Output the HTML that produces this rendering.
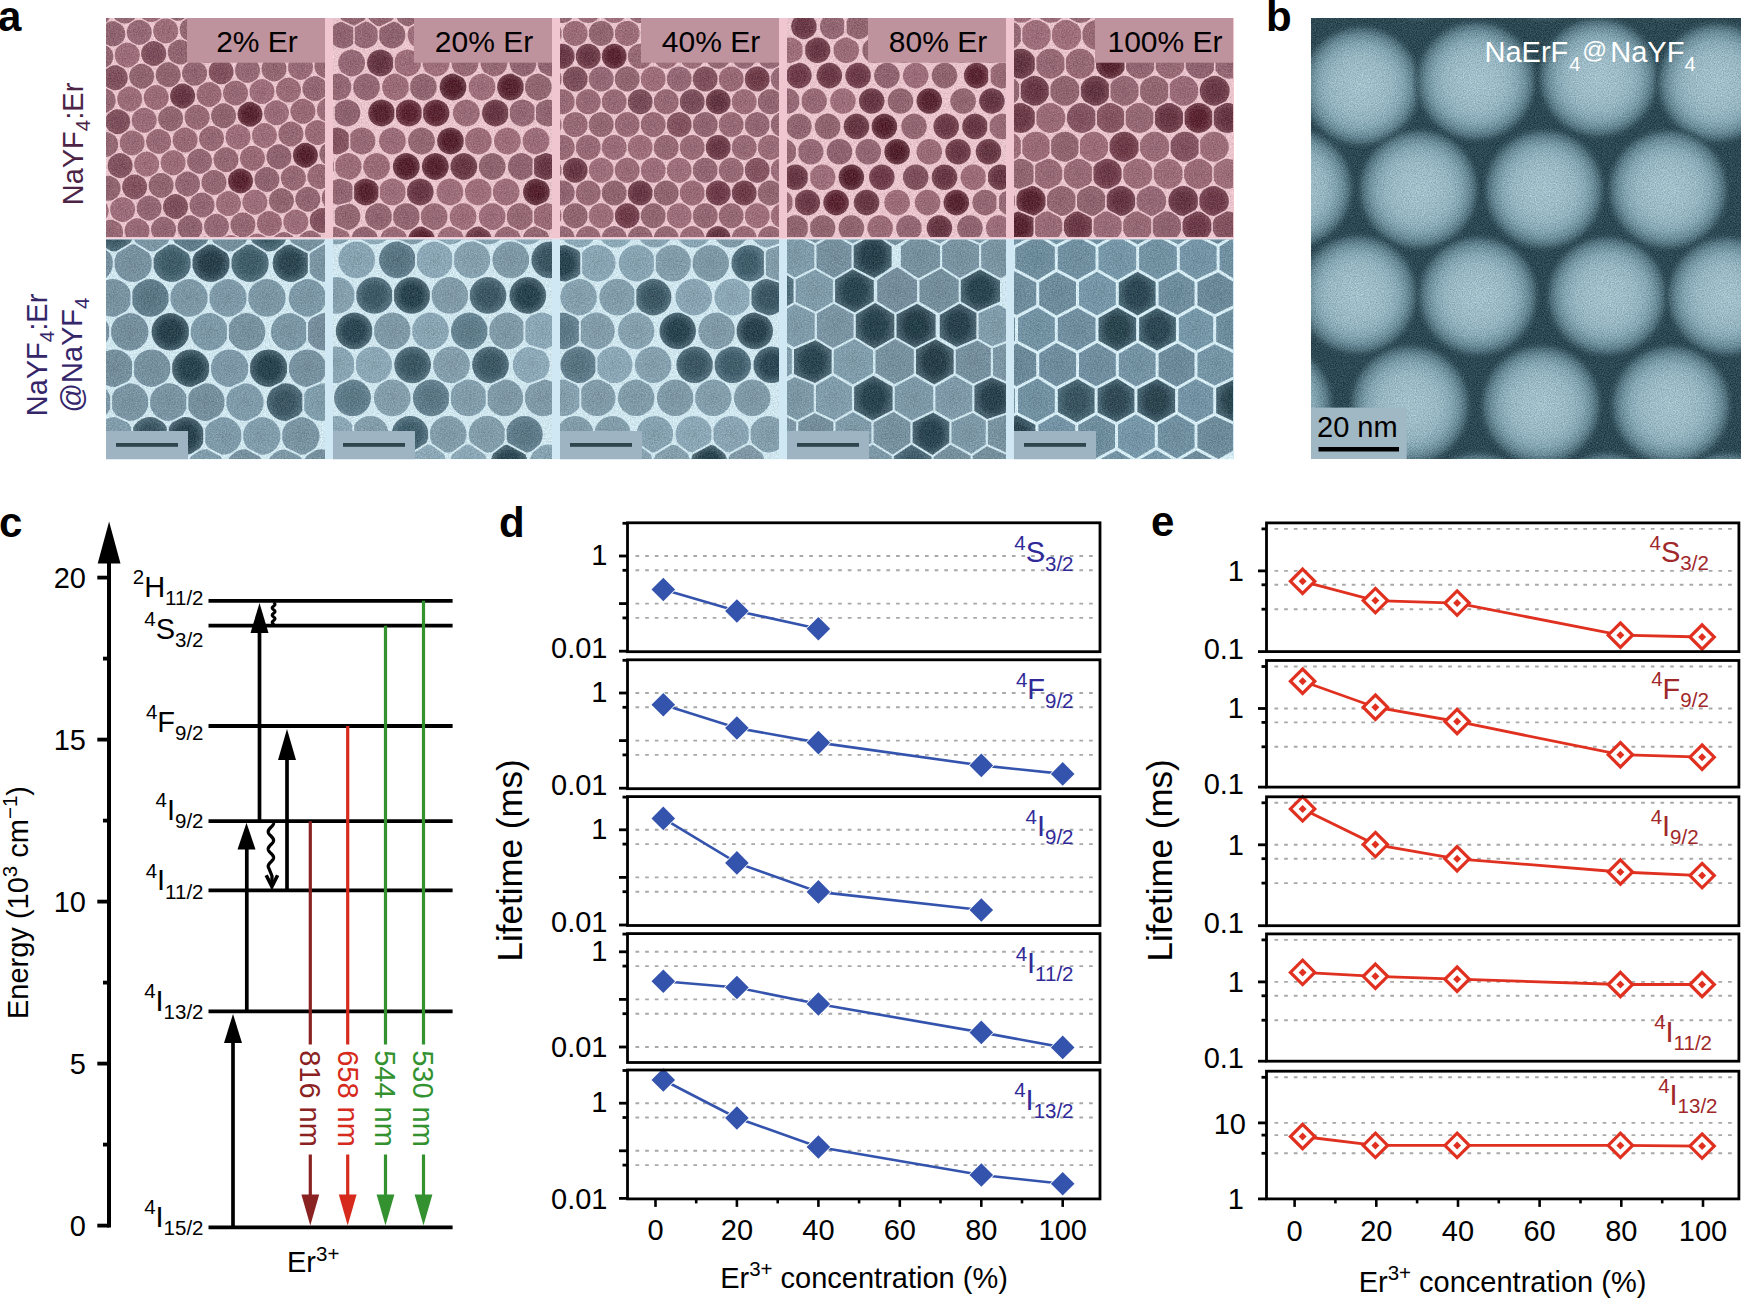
<!DOCTYPE html>
<html><head><meta charset="utf-8"><title>Figure</title>
<style>html,body{margin:0;padding:0;background:#fff;}svg{display:block;}text{font-family:"Liberation Sans", Arial, Helvetica, sans-serif;}</style>
</head><body>
<svg width="1741" height="1299" viewBox="0 0 1741 1299">
<rect width="1741" height="1299" fill="#fff"/>
<filter id="soft" x="-5%" y="-5%" width="110%" height="110%"><feGaussianBlur stdDeviation="0.7"/></filter>
<filter id="grain" x="0" y="0" width="100%" height="100%" color-interpolation-filters="sRGB"><feTurbulence type="fractalNoise" baseFrequency="0.75" numOctaves="2" seed="4" result="n"/><feColorMatrix in="n" type="matrix" values="1 0 0 0 0  1 0 0 0 0  1 0 0 0 0  0 0 0 0 1" result="g"/><feComposite in="SourceGraphic" in2="g" operator="arithmetic" k1="0" k2="1" k3="0.28" k4="-0.14"/></filter>
<rect x="106" y="18" width="1128" height="221" fill="#f0c7d0"/>
<rect x="106" y="238.7" width="1128" height="220.5" fill="#cfe8f3"/>
<rect x="106" y="238.4" width="1128" height="0.9" fill="#f3dfe6"/>
<clipPath id="clipt1"><rect x="106.0" y="18.0" width="219.0" height="219.0"/></clipPath>
<g clip-path="url(#clipt1)">
<g filter="url(#grain)">
<rect x="106.0" y="18.0" width="219.0" height="219.0" fill="#e9c4cc"/>
<g filter="url(#soft)">
<radialGradient id="pg0"><stop offset="0" stop-color="#8f646f"/><stop offset="0.55" stop-color="#946873"/><stop offset="1" stop-color="#966a75"/></radialGradient>
<polygon points="110.8,12.6 110.5,15.4 109.6,18.0 108.1,20.4 107.4,21.2 103.0,24.2 101.1,24.8 98.3,25.1 95.6,24.8 95.1,24.6 90.2,22.0 88.6,20.4 87.1,18.0 86.2,15.4 85.8,12.6 86.2,9.8 87.1,7.2 88.6,4.8 90.5,2.8 92.9,1.3 95.6,0.4 98.3,0.1 101.1,0.4 103.8,1.3 106.1,2.8 108.1,4.8 109.6,7.2 110.5,9.8" fill="url(#pg0)"/>
<radialGradient id="pg1"><stop offset="0" stop-color="#8c626d"/><stop offset="0.55" stop-color="#916671"/><stop offset="1" stop-color="#936873"/></radialGradient>
<polygon points="137.3,11.1 137.0,13.9 136.1,16.6 134.6,18.9 133.8,19.7 129.4,22.7 127.6,23.3 124.8,23.6 122.0,23.3 121.6,23.2 116.7,20.6 115.0,18.9 113.5,16.6 112.6,13.9 112.3,11.1 112.6,8.3 113.5,5.7 115.0,3.3 117.0,1.4 119.4,-0.1 122.0,-1.1 124.8,-1.4 127.6,-1.1 130.2,-0.1 132.6,1.4 134.6,3.3 136.1,5.7 137.0,8.3" fill="url(#pg1)"/>
<radialGradient id="pg2"><stop offset="0" stop-color="#946773"/><stop offset="0.55" stop-color="#996b77"/><stop offset="1" stop-color="#9c6d79"/></radialGradient>
<polygon points="163.8,9.6 163.4,12.4 162.5,15.1 161.0,17.4 160.3,18.2 155.9,21.2 154.0,21.8 151.3,22.1 148.5,21.8 148.0,21.7 143.1,19.1 141.5,17.4 140.0,15.1 139.1,12.4 138.8,9.6 139.1,6.9 140.0,4.2 141.5,1.9 143.5,-0.1 145.8,-1.6 148.5,-2.5 151.3,-2.9 154.0,-2.5 156.7,-1.6 159.0,-0.1 161.0,1.9 162.5,4.2 163.4,6.9" fill="url(#pg2)"/>
<radialGradient id="pg3"><stop offset="0" stop-color="#8b616c"/><stop offset="0.55" stop-color="#906570"/><stop offset="1" stop-color="#926772"/></radialGradient>
<polygon points="190.2,8.2 189.9,11.0 189.0,13.6 187.5,16.0 186.7,16.7 182.3,19.7 180.5,20.4 177.7,20.7 174.9,20.4 174.5,20.2 169.6,17.6 167.9,16.0 166.5,13.6 165.5,11.0 165.2,8.2 165.5,5.4 166.5,2.7 167.9,0.4 169.9,-1.6 172.3,-3.1 174.9,-4.0 177.7,-4.3 180.5,-4.0 183.1,-3.1 185.5,-1.6 187.5,0.4 189.0,2.7 189.9,5.4" fill="url(#pg3)"/>
<radialGradient id="pg4"><stop offset="0" stop-color="#926672"/><stop offset="0.55" stop-color="#976a76"/><stop offset="1" stop-color="#9a6c78"/></radialGradient>
<polygon points="216.7,6.7 216.4,9.5 215.4,12.1 213.9,14.5 213.2,15.2 208.8,18.2 207.0,18.9 204.2,19.2 201.4,18.9 201.0,18.7 196.0,16.1 194.4,14.5 192.9,12.1 192.0,9.5 191.7,6.7 192.0,3.9 192.9,1.3 194.4,-1.1 196.4,-3.1 198.7,-4.6 201.4,-5.5 204.2,-5.8 207.0,-5.5 209.6,-4.6 212.0,-3.1 213.9,-1.1 215.4,1.3 216.4,3.9" fill="url(#pg4)"/>
<radialGradient id="pg5"><stop offset="0" stop-color="#8f6470"/><stop offset="0.55" stop-color="#946874"/><stop offset="1" stop-color="#966a76"/></radialGradient>
<polygon points="243.1,5.2 242.8,8.0 241.9,10.6 240.4,13.0 239.7,13.8 235.2,16.8 233.4,17.4 230.6,17.7 227.8,17.4 227.4,17.2 222.5,14.6 220.9,13.0 219.4,10.6 218.4,8.0 218.1,5.2 218.4,2.4 219.4,-0.2 220.9,-2.6 222.8,-4.6 225.2,-6.1 227.8,-7.0 230.6,-7.3 233.4,-7.0 236.1,-6.1 238.4,-4.6 240.4,-2.6 241.9,-0.2 242.8,2.4" fill="url(#pg5)"/>
<polygon points="269.6,3.7 269.3,6.5 268.4,9.2 266.9,11.5 266.1,12.3 261.7,15.3 259.9,15.9 257.1,16.2 254.3,15.9 253.9,15.8 249.0,13.2 247.3,11.5 245.8,9.2 244.9,6.5 244.6,3.7 244.9,1.0 245.8,-1.7 247.3,-4.1 249.3,-6.0 251.7,-7.5 254.3,-8.5 257.1,-8.8 259.9,-8.5 262.5,-7.5 264.9,-6.0 266.9,-4.1 268.4,-1.7 269.3,1.0" fill="url(#pg3)"/>
<polygon points="296.0,2.3 295.7,5.0 294.8,7.7 293.3,10.0 292.6,10.8 288.2,13.8 286.3,14.4 283.5,14.8 280.8,14.4 280.3,14.3 275.4,11.7 273.8,10.0 272.3,7.7 271.4,5.0 271.0,2.3 271.4,-0.5 272.3,-3.2 273.8,-5.5 275.8,-7.5 278.1,-9.0 280.8,-9.9 283.5,-10.2 286.3,-9.9 289.0,-9.0 291.3,-7.5 293.3,-5.5 294.8,-3.2 295.7,-0.5" fill="url(#pg4)"/>
<polygon points="322.5,0.8 322.2,3.6 321.3,6.2 319.8,8.6 319.0,9.3 314.6,12.3 312.8,13.0 310.0,13.3 307.2,13.0 306.8,12.8 301.9,10.2 300.2,8.6 298.7,6.2 297.8,3.6 297.5,0.8 297.8,-2.0 298.7,-4.7 300.2,-7.0 302.2,-9.0 304.6,-10.5 307.2,-11.4 310.0,-11.7 312.8,-11.4 315.4,-10.5 317.8,-9.0 319.8,-7.0 321.3,-4.7 322.2,-2.0" fill="url(#pg3)"/>
<radialGradient id="pg6"><stop offset="0" stop-color="#906571"/><stop offset="0.55" stop-color="#956975"/><stop offset="1" stop-color="#976b77"/></radialGradient>
<polygon points="349.0,-0.7 348.7,2.1 347.7,4.7 346.2,7.1 345.5,7.8 341.1,10.8 339.2,11.5 336.5,11.8 333.7,11.5 333.3,11.3 328.3,8.7 326.7,7.1 325.2,4.7 324.3,2.1 324.0,-0.7 324.3,-3.5 325.2,-6.1 326.7,-8.5 328.7,-10.5 331.0,-12.0 333.7,-12.9 336.5,-13.2 339.2,-12.9 341.9,-12.0 344.3,-10.5 346.2,-8.5 347.7,-6.1 348.7,-3.5" fill="url(#pg6)"/>
<polygon points="98.8,35.3 98.5,38.1 97.6,40.7 96.1,43.1 95.4,43.9 91.0,46.9 89.1,47.5 86.3,47.8 83.6,47.5 80.9,46.6 78.5,45.1 76.6,43.1 75.1,40.7 74.1,38.1 73.8,35.3 74.1,32.5 75.1,29.9 76.6,27.5 78.5,25.5 80.9,24.1 83.6,23.1 86.3,22.8 89.1,23.1 89.5,23.3 94.5,25.9 96.1,27.5 97.6,29.9 98.5,32.5" fill="url(#pg3)"/>
<radialGradient id="pg7"><stop offset="0" stop-color="#8b616d"/><stop offset="0.55" stop-color="#906571"/><stop offset="1" stop-color="#926773"/></radialGradient>
<polygon points="125.3,33.8 125.0,36.6 124.1,39.3 122.6,41.6 121.8,42.4 117.4,45.4 115.6,46.0 112.8,46.3 110.0,46.0 109.6,45.9 104.7,43.3 103.0,41.6 101.5,39.3 100.6,36.6 100.3,33.8 100.6,31.1 101.5,28.4 103.0,26.0 103.8,25.3 108.2,22.3 110.0,21.6 112.8,21.3 115.6,21.6 116.0,21.8 120.9,24.4 122.6,26.0 124.1,28.4 125.0,31.1" fill="url(#pg7)"/>
<polygon points="151.8,32.4 151.4,35.1 150.5,37.8 149.0,40.1 148.3,40.9 143.9,43.9 142.0,44.5 139.3,44.9 136.5,44.5 136.0,44.4 131.1,41.8 129.5,40.1 128.0,37.8 127.1,35.1 126.8,32.4 127.1,29.6 128.0,26.9 129.5,24.6 130.2,23.8 134.6,20.8 136.5,20.2 139.3,19.9 142.0,20.2 142.5,20.3 147.4,22.9 149.0,24.6 150.5,26.9 151.4,29.6" fill="url(#pg6)"/>
<radialGradient id="pg8"><stop offset="0" stop-color="#966975"/><stop offset="0.55" stop-color="#9b6d79"/><stop offset="1" stop-color="#9e6f7b"/></radialGradient>
<polygon points="178.2,30.9 177.9,33.7 177.0,36.3 175.5,38.7 174.7,39.4 170.3,42.4 168.5,43.1 165.7,43.4 162.9,43.1 162.5,42.9 157.6,40.3 155.9,38.7 154.4,36.3 153.5,33.7 153.2,30.9 153.5,28.1 154.4,25.5 155.9,23.1 156.7,22.3 161.1,19.3 162.9,18.7 165.7,18.4 168.5,18.7 168.9,18.8 173.8,21.4 175.5,23.1 177.0,25.5 177.9,28.1" fill="url(#pg8)"/>
<polygon points="204.7,29.4 204.4,32.2 203.4,34.8 201.9,37.2 201.2,37.9 196.8,40.9 195.0,41.6 192.2,41.9 189.4,41.6 189.0,41.4 184.0,38.8 182.4,37.2 180.9,34.8 180.0,32.2 179.7,29.4 180.0,26.6 180.9,24.0 182.4,21.6 183.1,20.9 187.6,17.9 189.4,17.2 192.2,16.9 195.0,17.2 195.4,17.4 200.3,20.0 201.9,21.6 203.4,24.0 204.4,26.6" fill="url(#pg1)"/>
<radialGradient id="pg9"><stop offset="0" stop-color="#8d636e"/><stop offset="0.55" stop-color="#926772"/><stop offset="1" stop-color="#946974"/></radialGradient>
<polygon points="231.1,27.9 230.8,30.7 229.9,33.3 228.4,35.7 227.7,36.5 223.2,39.5 221.4,40.1 218.6,40.4 215.8,40.1 215.4,40.0 210.5,37.4 208.9,35.7 207.4,33.3 206.4,30.7 206.1,27.9 206.4,25.1 207.4,22.5 208.9,20.1 209.6,19.4 214.0,16.4 215.8,15.7 218.6,15.4 221.4,15.7 221.8,15.9 226.8,18.5 228.4,20.1 229.9,22.5 230.8,25.1" fill="url(#pg9)"/>
<radialGradient id="pg10"><stop offset="0" stop-color="#936773"/><stop offset="0.55" stop-color="#986b77"/><stop offset="1" stop-color="#9b6d79"/></radialGradient>
<polygon points="257.6,26.4 257.3,29.2 256.3,31.9 254.9,34.2 254.1,35.0 249.7,38.0 247.9,38.6 245.1,38.9 242.3,38.6 241.9,38.5 237.0,35.9 235.3,34.2 233.8,31.9 232.9,29.2 232.6,26.4 232.9,23.7 233.8,21.0 235.3,18.6 236.1,17.9 240.5,14.9 242.3,14.3 245.1,13.9 247.9,14.3 248.3,14.4 253.2,17.0 254.9,18.6 256.3,21.0 257.3,23.7" fill="url(#pg10)"/>
<radialGradient id="pg11"><stop offset="0" stop-color="#986a77"/><stop offset="0.55" stop-color="#9d6e7b"/><stop offset="1" stop-color="#a0707d"/></radialGradient>
<polygon points="284.0,25.0 283.7,27.7 282.8,30.4 281.3,32.8 280.6,33.5 276.2,36.5 274.3,37.1 271.5,37.5 268.8,37.1 268.3,37.0 263.4,34.4 261.8,32.8 260.3,30.4 259.4,27.7 259.0,25.0 259.4,22.2 260.3,19.5 261.8,17.2 262.5,16.4 266.9,13.4 268.8,12.8 271.5,12.5 274.3,12.8 274.8,12.9 279.7,15.5 281.3,17.2 282.8,19.5 283.7,22.2" fill="url(#pg11)"/>
<radialGradient id="pg12"><stop offset="0" stop-color="#936672"/><stop offset="0.55" stop-color="#986a76"/><stop offset="1" stop-color="#9b6c78"/></radialGradient>
<polygon points="310.5,23.5 310.2,26.3 309.3,28.9 307.8,31.3 307.0,32.0 302.6,35.0 300.8,35.7 298.0,36.0 295.2,35.7 294.8,35.5 289.9,32.9 288.2,31.3 286.7,28.9 285.8,26.3 285.5,23.5 285.8,20.7 286.7,18.1 288.2,15.7 289.0,14.9 293.4,11.9 295.2,11.3 298.0,11.0 300.8,11.3 301.2,11.4 306.1,14.0 307.8,15.7 309.3,18.1 310.2,20.7" fill="url(#pg12)"/>
<radialGradient id="pg13"><stop offset="0" stop-color="#906470"/><stop offset="0.55" stop-color="#956874"/><stop offset="1" stop-color="#976a76"/></radialGradient>
<polygon points="337.0,22.0 336.7,24.8 335.7,27.4 334.2,29.8 333.5,30.5 329.1,33.5 327.2,34.2 324.5,34.5 321.7,34.2 321.3,34.0 316.3,31.4 314.7,29.8 313.2,27.4 312.3,24.8 312.0,22.0 312.3,19.2 313.2,16.6 314.7,14.2 315.4,13.5 319.8,10.5 321.7,9.8 324.5,9.5 327.2,9.8 327.7,10.0 332.6,12.6 334.2,14.2 335.7,16.6 336.7,19.2" fill="url(#pg13)"/>
<radialGradient id="pg14"><stop offset="0" stop-color="#996b77"/><stop offset="0.55" stop-color="#9e6f7b"/><stop offset="1" stop-color="#a1717d"/></radialGradient>
<polygon points="363.4,20.5 363.1,23.3 362.2,25.9 360.7,28.3 358.7,30.3 356.3,31.8 353.7,32.7 350.9,33.0 348.1,32.7 347.7,32.6 342.8,30.0 341.1,28.3 339.7,25.9 338.7,23.3 338.4,20.5 338.7,17.7 339.7,15.1 341.1,12.7 341.9,12.0 346.3,9.0 348.1,8.3 350.9,8.0 353.7,8.3 356.3,9.3 358.7,10.7 360.7,12.7 362.2,15.1 363.1,17.7" fill="url(#pg14)"/>
<polygon points="113.3,56.5 113.0,59.3 112.1,62.0 110.6,64.3 109.8,65.1 105.4,68.1 103.6,68.7 100.8,69.0 98.0,68.7 97.6,68.6 92.7,66.0 91.0,64.3 89.5,62.0 88.6,59.3 88.3,56.5 88.6,53.8 89.5,51.1 91.0,48.7 91.8,48.0 96.2,45.0 98.0,44.4 100.8,44.0 103.6,44.4 104.0,44.5 108.9,47.1 110.6,48.7 112.1,51.1 113.0,53.8" fill="url(#pg3)"/>
<radialGradient id="pg15"><stop offset="0" stop-color="#976976"/><stop offset="0.55" stop-color="#9c6d7a"/><stop offset="1" stop-color="#9f6f7c"/></radialGradient>
<polygon points="139.8,55.1 139.4,57.8 138.5,60.5 137.0,62.9 136.3,63.6 131.9,66.6 130.0,67.2 127.3,67.6 124.5,67.2 124.0,67.1 119.1,64.5 117.5,62.9 116.0,60.5 115.1,57.8 114.8,55.1 115.1,52.3 116.0,49.6 117.5,47.3 118.2,46.5 122.6,43.5 124.5,42.9 127.3,42.6 130.0,42.9 130.5,43.0 135.4,45.6 137.0,47.3 138.5,49.6 139.4,52.3" fill="url(#pg15)"/>
<radialGradient id="pg16"><stop offset="0" stop-color="#794c59"/><stop offset="0.55" stop-color="#7d4f5c"/><stop offset="1" stop-color="#855764"/></radialGradient>
<polygon points="166.2,53.6 165.9,56.4 165.0,59.0 163.5,61.4 162.7,62.1 158.3,65.1 156.5,65.8 153.7,66.1 150.9,65.8 150.5,65.6 145.6,63.0 143.9,61.4 142.4,59.0 141.5,56.4 141.2,53.6 141.5,50.8 142.4,48.2 143.9,45.8 144.7,45.0 149.1,42.0 150.9,41.4 153.7,41.1 156.5,41.4 156.9,41.5 161.8,44.1 163.5,45.8 165.0,48.2 165.9,50.8" fill="url(#pg16)"/>
<polygon points="192.7,52.1 192.4,54.9 191.4,57.5 189.9,59.9 189.2,60.6 184.8,63.6 183.0,64.3 180.2,64.6 177.4,64.3 177.0,64.1 172.0,61.5 170.4,59.9 168.9,57.5 168.0,54.9 167.7,52.1 168.0,49.3 168.9,46.7 170.4,44.3 171.1,43.6 175.6,40.6 177.4,39.9 180.2,39.6 183.0,39.9 183.4,40.1 188.3,42.7 189.9,44.3 191.4,46.7 192.4,49.3" fill="url(#pg1)"/>
<radialGradient id="pg17"><stop offset="0" stop-color="#8c616d"/><stop offset="0.55" stop-color="#916571"/><stop offset="1" stop-color="#936773"/></radialGradient>
<polygon points="219.1,50.6 218.8,53.4 217.9,56.0 216.4,58.4 215.6,59.2 211.2,62.2 209.4,62.8 206.6,63.1 203.8,62.8 203.4,62.7 198.5,60.1 196.9,58.4 195.4,56.0 194.4,53.4 194.1,50.6 194.4,47.8 195.4,45.2 196.9,42.8 197.6,42.1 202.0,39.1 203.8,38.4 206.6,38.1 209.4,38.4 209.8,38.6 214.8,41.2 216.4,42.8 217.9,45.2 218.8,47.8" fill="url(#pg17)"/>
<radialGradient id="pg18"><stop offset="0" stop-color="#8f636f"/><stop offset="0.55" stop-color="#946773"/><stop offset="1" stop-color="#966975"/></radialGradient>
<polygon points="245.6,49.1 245.3,51.9 244.3,54.6 242.9,56.9 242.1,57.7 237.7,60.7 235.9,61.3 233.1,61.6 230.3,61.3 229.9,61.2 225.0,58.6 223.3,56.9 221.8,54.6 220.9,51.9 220.6,49.1 220.9,46.4 221.8,43.7 223.3,41.3 224.1,40.6 228.5,37.6 230.3,37.0 233.1,36.6 235.9,37.0 236.3,37.1 241.2,39.7 242.9,41.3 244.3,43.7 245.3,46.4" fill="url(#pg18)"/>
<polygon points="272.0,47.7 271.7,50.4 270.8,53.1 269.3,55.5 268.6,56.2 264.2,59.2 262.3,59.8 259.5,60.2 256.8,59.8 256.3,59.7 251.4,57.1 249.8,55.5 248.3,53.1 247.4,50.4 247.0,47.7 247.4,44.9 248.3,42.2 249.8,39.9 250.5,39.1 254.9,36.1 256.8,35.5 259.5,35.2 262.3,35.5 262.8,35.6 267.7,38.2 269.3,39.9 270.8,42.2 271.7,44.9" fill="url(#pg8)"/>
<radialGradient id="pg19"><stop offset="0" stop-color="#8d626e"/><stop offset="0.55" stop-color="#926672"/><stop offset="1" stop-color="#946874"/></radialGradient>
<polygon points="298.5,46.2 298.2,49.0 297.3,51.6 295.8,54.0 295.0,54.7 290.6,57.7 288.8,58.4 286.0,58.7 283.2,58.4 282.8,58.2 277.9,55.6 276.2,54.0 274.7,51.6 273.8,49.0 273.5,46.2 273.8,43.4 274.7,40.8 276.2,38.4 277.0,37.6 281.4,34.6 283.2,34.0 286.0,33.7 288.8,34.0 289.2,34.1 294.1,36.7 295.8,38.4 297.3,40.8 298.2,43.4" fill="url(#pg19)"/>
<polygon points="325.0,44.7 324.6,47.5 323.7,50.1 322.2,52.5 321.5,53.2 317.1,56.2 315.2,56.9 312.5,57.2 309.7,56.9 309.3,56.7 304.3,54.1 302.7,52.5 301.2,50.1 300.3,47.5 300.0,44.7 300.3,41.9 301.2,39.3 302.7,36.9 303.4,36.2 307.8,33.2 309.7,32.5 312.5,32.2 315.2,32.5 315.7,32.7 320.6,35.3 322.2,36.9 323.7,39.3 324.6,41.9" fill="url(#pg12)"/>
<polygon points="351.4,43.2 351.1,46.0 350.2,48.6 348.7,51.0 346.7,53.0 344.3,54.5 341.7,55.4 338.9,55.7 336.1,55.4 335.7,55.3 330.8,52.7 329.1,51.0 327.7,48.6 326.7,46.0 326.4,43.2 326.7,40.4 327.7,37.8 329.1,35.4 329.9,34.7 334.3,31.7 336.1,31.0 338.9,30.7 341.7,31.0 342.1,31.2 347.1,33.8 348.7,35.4 350.2,37.8 351.1,40.4" fill="url(#pg2)"/>
<polygon points="101.3,79.2 101.0,82.0 100.1,84.7 98.6,87.0 97.8,87.8 93.4,90.8 91.6,91.4 88.8,91.7 86.0,91.4 83.4,90.5 81.0,89.0 79.0,87.0 77.5,84.7 76.6,82.0 76.3,79.2 76.6,76.5 77.5,73.8 79.0,71.5 81.0,69.5 83.4,68.0 86.0,67.1 88.8,66.7 91.6,67.1 92.0,67.2 96.9,69.8 98.6,71.5 100.1,73.8 101.0,76.5" fill="url(#pg13)"/>
<radialGradient id="pg20"><stop offset="0" stop-color="#7c4e5b"/><stop offset="0.55" stop-color="#80515e"/><stop offset="1" stop-color="#875865"/></radialGradient>
<polygon points="127.8,77.8 127.4,80.5 126.5,83.2 125.0,85.6 124.3,86.3 119.9,89.3 118.0,90.0 115.3,90.3 112.5,90.0 112.0,89.8 107.1,87.2 105.5,85.6 104.0,83.2 103.1,80.5 102.8,77.8 103.1,75.0 104.0,72.3 105.5,70.0 106.2,69.2 110.6,66.2 112.5,65.6 115.3,65.3 118.0,65.6 118.5,65.7 123.4,68.3 125.0,70.0 126.5,72.3 127.4,75.0" fill="url(#pg20)"/>
<polygon points="154.2,76.3 153.9,79.1 153.0,81.7 151.5,84.1 150.7,84.8 146.3,87.8 144.5,88.5 141.7,88.8 138.9,88.5 138.5,88.3 133.6,85.7 131.9,84.1 130.4,81.7 129.5,79.1 129.2,76.3 129.5,73.5 130.4,70.9 131.9,68.5 132.7,67.7 137.1,64.7 138.9,64.1 141.7,63.8 144.5,64.1 144.9,64.2 149.8,66.9 151.5,68.5 153.0,70.9 153.9,73.5" fill="url(#pg3)"/>
<polygon points="180.7,74.8 180.4,77.6 179.4,80.2 177.9,82.6 177.2,83.4 172.8,86.4 170.9,87.0 168.2,87.3 165.4,87.0 165.0,86.8 160.0,84.2 158.4,82.6 156.9,80.2 156.0,77.6 155.7,74.8 156.0,72.0 156.9,69.4 158.4,67.0 159.1,66.3 163.5,63.3 165.4,62.6 168.2,62.3 170.9,62.6 171.4,62.8 176.3,65.4 177.9,67.0 179.4,69.4 180.4,72.0" fill="url(#pg3)"/>
<polygon points="207.1,73.3 206.8,76.1 205.9,78.8 204.4,81.1 203.6,81.9 199.2,84.9 197.4,85.5 194.6,85.8 191.8,85.5 191.4,85.4 186.5,82.8 184.9,81.1 183.4,78.8 182.4,76.1 182.1,73.3 182.4,70.5 183.4,67.9 184.9,65.5 185.6,64.8 190.0,61.8 191.8,61.1 194.6,60.8 197.4,61.1 197.8,61.3 202.8,63.9 204.4,65.5 205.9,67.9 206.8,70.5" fill="url(#pg19)"/>
<radialGradient id="pg21"><stop offset="0" stop-color="#7e4f5c"/><stop offset="0.55" stop-color="#82525f"/><stop offset="1" stop-color="#885966"/></radialGradient>
<polygon points="233.6,71.8 233.3,74.6 232.3,77.3 230.9,79.6 230.1,80.4 225.7,83.4 223.9,84.0 221.1,84.3 218.3,84.0 217.9,83.9 213.0,81.3 211.3,79.6 209.8,77.3 208.9,74.6 208.6,71.8 208.9,69.1 209.8,66.4 211.3,64.1 212.1,63.3 216.5,60.3 218.3,59.7 221.1,59.3 223.9,59.7 224.3,59.8 229.2,62.4 230.9,64.1 232.3,66.4 233.3,69.1" fill="url(#pg21)"/>
<polygon points="260.0,70.4 259.7,73.2 258.8,75.8 257.3,78.2 256.6,78.9 252.2,81.9 250.3,82.6 247.5,82.9 244.8,82.6 244.3,82.4 239.4,79.8 237.8,78.2 236.3,75.8 235.4,73.2 235.0,70.4 235.4,67.6 236.3,64.9 237.8,62.6 238.5,61.8 242.9,58.8 244.8,58.2 247.5,57.9 250.3,58.2 250.7,58.3 255.7,60.9 257.3,62.6 258.8,64.9 259.7,67.6" fill="url(#pg6)"/>
<polygon points="286.5,68.9 286.2,71.7 285.3,74.3 283.8,76.7 283.0,77.4 278.6,80.4 276.8,81.1 274.0,81.4 271.2,81.1 270.8,80.9 265.9,78.3 264.2,76.7 262.7,74.3 261.8,71.7 261.5,68.9 261.8,66.1 262.7,63.5 264.2,61.1 265.0,60.3 269.4,57.3 271.2,56.7 274.0,56.4 276.8,56.7 277.2,56.9 282.1,59.5 283.8,61.1 285.3,63.5 286.2,66.1" fill="url(#pg0)"/>
<radialGradient id="pg22"><stop offset="0" stop-color="#936673"/><stop offset="0.55" stop-color="#986a77"/><stop offset="1" stop-color="#9b6c79"/></radialGradient>
<polygon points="313.0,67.4 312.6,70.2 311.7,72.8 310.2,75.2 309.5,76.0 305.1,79.0 303.2,79.6 300.5,79.9 297.7,79.6 297.3,79.4 292.3,76.8 290.7,75.2 289.2,72.8 288.3,70.2 288.0,67.4 288.3,64.6 289.2,62.0 290.7,59.6 291.4,58.9 295.8,55.9 297.7,55.2 300.5,54.9 303.2,55.2 303.7,55.4 308.6,58.0 310.2,59.6 311.7,62.0 312.6,64.6" fill="url(#pg22)"/>
<radialGradient id="pg23"><stop offset="0" stop-color="#916571"/><stop offset="0.55" stop-color="#966975"/><stop offset="1" stop-color="#996b77"/></radialGradient>
<polygon points="339.4,65.9 339.1,68.7 338.2,71.4 336.7,73.7 335.9,74.5 331.5,77.5 329.7,78.1 326.9,78.4 324.1,78.1 323.7,78.0 318.8,75.4 317.1,73.7 315.7,71.4 314.7,68.7 314.4,65.9 314.7,63.1 315.7,60.5 317.1,58.1 317.9,57.4 322.3,54.4 324.1,53.7 326.9,53.4 329.7,53.7 330.1,53.9 335.1,56.5 336.7,58.1 338.2,60.5 339.1,63.1" fill="url(#pg23)"/>
<radialGradient id="pg24"><stop offset="0" stop-color="#8e636f"/><stop offset="0.55" stop-color="#936773"/><stop offset="1" stop-color="#956975"/></radialGradient>
<polygon points="115.7,100.5 115.4,103.3 114.5,105.9 113.0,108.3 112.3,109.0 107.9,112.0 106.0,112.7 103.2,113.0 100.5,112.7 100.0,112.5 95.1,109.9 93.5,108.3 92.0,105.9 91.1,103.3 90.7,100.5 91.1,97.7 92.0,95.0 93.5,92.7 94.2,91.9 98.6,88.9 100.5,88.3 103.2,88.0 106.0,88.3 106.5,88.4 111.4,91.0 113.0,92.7 114.5,95.0 115.4,97.7" fill="url(#pg24)"/>
<polygon points="142.2,99.0 141.9,101.8 141.0,104.4 139.5,106.8 138.7,107.5 134.3,110.5 132.5,111.2 129.7,111.5 126.9,111.2 126.5,111.0 121.6,108.4 119.9,106.8 118.4,104.4 117.5,101.8 117.2,99.0 117.5,96.2 118.4,93.6 119.9,91.2 120.7,90.4 125.1,87.4 126.9,86.8 129.7,86.5 132.5,86.8 132.9,87.0 137.8,89.6 139.5,91.2 141.0,93.6 141.9,96.2" fill="url(#pg8)"/>
<radialGradient id="pg25"><stop offset="0" stop-color="#956874"/><stop offset="0.55" stop-color="#9a6c78"/><stop offset="1" stop-color="#9d6e7a"/></radialGradient>
<polygon points="168.7,97.5 168.4,100.3 167.4,102.9 165.9,105.3 165.2,106.1 160.8,109.1 158.9,109.7 156.2,110.0 153.4,109.7 153.0,109.5 148.0,106.9 146.4,105.3 144.9,102.9 144.0,100.3 143.7,97.5 144.0,94.7 144.9,92.1 146.4,89.7 147.1,89.0 151.5,86.0 153.4,85.3 156.2,85.0 158.9,85.3 159.4,85.5 164.3,88.1 165.9,89.7 167.4,92.1 168.4,94.7" fill="url(#pg25)"/>
<radialGradient id="pg26"><stop offset="0" stop-color="#643643"/><stop offset="0.55" stop-color="#683846"/><stop offset="1" stop-color="#7a4b58"/></radialGradient>
<polygon points="195.1,96.0 194.8,98.8 193.9,101.5 192.4,103.8 191.6,104.6 187.2,107.6 185.4,108.2 182.6,108.5 179.8,108.2 179.4,108.1 174.5,105.5 172.9,103.8 171.4,101.5 170.4,98.8 170.1,96.0 170.4,93.3 171.4,90.6 172.9,88.2 173.6,87.5 178.0,84.5 179.8,83.8 182.6,83.5 185.4,83.8 185.8,84.0 190.8,86.6 192.4,88.2 193.9,90.6 194.8,93.3" fill="url(#pg26)"/>
<polygon points="221.6,94.6 221.3,97.3 220.3,100.0 218.9,102.3 218.1,103.1 213.7,106.1 211.9,106.7 209.1,107.1 206.3,106.7 205.9,106.6 201.0,104.0 199.3,102.3 197.8,100.0 196.9,97.3 196.6,94.6 196.9,91.8 197.8,89.1 199.3,86.8 200.1,86.0 204.5,83.0 206.3,82.4 209.1,82.1 211.9,82.4 212.3,82.5 217.2,85.1 218.9,86.8 220.3,89.1 221.3,91.8" fill="url(#pg12)"/>
<polygon points="248.0,93.1 247.7,95.9 246.8,98.5 245.3,100.9 244.6,101.6 240.2,104.6 238.3,105.3 235.5,105.6 232.8,105.3 232.3,105.1 227.4,102.5 225.8,100.9 224.3,98.5 223.4,95.9 223.0,93.1 223.4,90.3 224.3,87.7 225.8,85.3 226.5,84.5 230.9,81.5 232.8,80.9 235.5,80.6 238.3,80.9 238.7,81.0 243.7,83.6 245.3,85.3 246.8,87.7 247.7,90.3" fill="url(#pg4)"/>
<polygon points="274.5,91.6 274.2,94.4 273.3,97.0 271.8,99.4 271.0,100.1 266.6,103.1 264.8,103.8 262.0,104.1 259.2,103.8 258.8,103.6 253.9,101.0 252.2,99.4 250.7,97.0 249.8,94.4 249.5,91.6 249.8,88.8 250.7,86.2 252.2,83.8 253.0,83.0 257.4,80.1 259.2,79.4 262.0,79.1 264.8,79.4 265.2,79.6 270.1,82.2 271.8,83.8 273.3,86.2 274.2,88.8" fill="url(#pg15)"/>
<polygon points="301.0,90.1 300.6,92.9 299.7,95.5 298.2,97.9 297.5,98.7 293.1,101.7 291.2,102.3 288.5,102.6 285.7,102.3 285.3,102.2 280.3,99.5 278.7,97.9 277.2,95.5 276.3,92.9 276.0,90.1 276.3,87.3 277.2,84.7 278.7,82.3 279.4,81.6 283.8,78.6 285.7,77.9 288.5,77.6 291.2,77.9 291.7,78.1 296.6,80.7 298.2,82.3 299.7,84.7 300.6,87.3" fill="url(#pg25)"/>
<polygon points="327.4,88.6 327.1,91.4 326.2,94.1 324.7,96.4 323.9,97.2 319.5,100.2 317.7,100.8 314.9,101.1 312.1,100.8 311.7,100.7 306.8,98.1 305.1,96.4 303.7,94.1 302.7,91.4 302.4,88.6 302.7,85.9 303.7,83.2 305.1,80.8 305.9,80.1 310.3,77.1 312.1,76.4 314.9,76.1 317.7,76.4 318.1,76.6 323.1,79.2 324.7,80.8 326.2,83.2 327.1,85.9" fill="url(#pg24)"/>
<polygon points="353.9,87.2 353.6,89.9 352.6,92.6 351.2,95.0 349.2,96.9 346.8,98.4 344.2,99.3 341.4,99.7 338.6,99.3 338.2,99.2 333.2,96.6 331.6,95.0 330.1,92.6 329.2,89.9 328.9,87.2 329.2,84.4 330.1,81.7 331.6,79.4 332.4,78.6 336.8,75.6 338.6,75.0 341.4,74.7 344.2,75.0 346.8,75.9 349.2,77.4 351.2,79.4 352.6,81.7 353.6,84.4" fill="url(#pg14)"/>
<polygon points="103.7,123.2 103.4,126.0 102.5,128.6 101.0,131.0 100.3,131.7 95.9,134.7 94.0,135.4 91.2,135.7 88.5,135.4 85.8,134.4 83.5,132.9 81.5,131.0 80.0,128.6 79.1,126.0 78.7,123.2 79.1,120.4 80.0,117.8 81.5,115.4 83.5,113.4 85.8,111.9 88.5,111.0 91.2,110.7 94.0,111.0 94.5,111.1 99.4,113.7 101.0,115.4 102.5,117.8 103.4,120.4" fill="url(#pg17)"/>
<radialGradient id="pg27"><stop offset="0" stop-color="#7a4d5a"/><stop offset="0.55" stop-color="#7e505d"/><stop offset="1" stop-color="#865864"/></radialGradient>
<polygon points="130.2,121.7 129.9,124.5 129.0,127.1 127.5,129.5 126.7,130.2 122.3,133.2 120.5,133.9 117.7,134.2 114.9,133.9 114.5,133.7 109.6,131.1 107.9,129.5 106.4,127.1 105.5,124.5 105.2,121.7 105.5,118.9 106.4,116.3 107.9,113.9 108.7,113.2 113.1,110.2 114.9,109.5 117.7,109.2 120.5,109.5 120.9,109.7 125.8,112.3 127.5,113.9 129.0,116.3 129.9,118.9" fill="url(#pg27)"/>
<radialGradient id="pg28"><stop offset="0" stop-color="#956875"/><stop offset="0.55" stop-color="#9a6c79"/><stop offset="1" stop-color="#9d6e7b"/></radialGradient>
<polygon points="156.7,120.2 156.4,123.0 155.4,125.6 153.9,128.0 153.2,128.8 148.8,131.8 146.9,132.4 144.2,132.7 141.4,132.4 141.0,132.3 136.0,129.7 134.4,128.0 132.9,125.6 132.0,123.0 131.7,120.2 132.0,117.4 132.9,114.8 134.4,112.4 135.1,111.7 139.5,108.7 141.4,108.0 144.2,107.7 146.9,108.0 147.4,108.2 152.3,110.8 153.9,112.4 155.4,114.8 156.4,117.4" fill="url(#pg28)"/>
<polygon points="183.1,118.7 182.8,121.5 181.9,124.2 180.4,126.5 179.6,127.3 175.2,130.3 173.4,130.9 170.6,131.2 167.8,130.9 167.4,130.8 162.5,128.2 160.9,126.5 159.4,124.2 158.4,121.5 158.1,118.7 158.4,116.0 159.4,113.3 160.9,110.9 161.6,110.2 166.0,107.2 167.8,106.6 170.6,106.2 173.4,106.6 173.8,106.7 178.8,109.3 180.4,110.9 181.9,113.3 182.8,116.0" fill="url(#pg1)"/>
<polygon points="209.6,117.3 209.3,120.0 208.3,122.7 206.9,125.1 206.1,125.8 201.7,128.8 199.9,129.4 197.1,129.8 194.3,129.4 193.9,129.3 189.0,126.7 187.3,125.1 185.8,122.7 184.9,120.0 184.6,117.3 184.9,114.5 185.8,111.8 187.3,109.5 188.1,108.7 192.5,105.7 194.3,105.1 197.1,104.8 199.9,105.1 200.3,105.2 205.2,107.8 206.9,109.5 208.3,111.8 209.3,114.5" fill="url(#pg23)"/>
<polygon points="236.0,115.8 235.7,118.6 234.8,121.2 233.3,123.6 232.6,124.3 228.2,127.3 226.3,128.0 223.5,128.3 220.8,128.0 220.3,127.8 215.4,125.2 213.8,123.6 212.3,121.2 211.4,118.6 211.0,115.8 211.4,113.0 212.3,110.4 213.8,108.0 214.5,107.2 218.9,104.2 220.8,103.6 223.5,103.3 226.3,103.6 226.7,103.7 231.7,106.3 233.3,108.0 234.8,110.4 235.7,113.0" fill="url(#pg3)"/>
<radialGradient id="pg29"><stop offset="0" stop-color="#56242f"/><stop offset="0.55" stop-color="#592631"/><stop offset="1" stop-color="#754550"/></radialGradient>
<polygon points="262.5,114.3 262.2,117.1 261.3,119.7 259.8,122.1 259.0,122.8 254.6,125.8 252.8,126.5 250.0,126.8 247.2,126.5 246.8,126.3 241.9,123.7 240.2,122.1 238.7,119.7 237.8,117.1 237.5,114.3 237.8,111.5 238.7,108.9 240.2,106.5 241.0,105.8 245.4,102.8 247.2,102.1 250.0,101.8 252.8,102.1 253.2,102.3 258.1,104.9 259.8,106.5 261.3,108.9 262.2,111.5" fill="url(#pg29)"/>
<polygon points="289.0,112.8 288.6,115.6 287.7,118.2 286.2,120.6 285.5,121.4 281.1,124.4 279.2,125.0 276.5,125.3 273.7,125.0 273.3,124.9 268.3,122.3 266.7,120.6 265.2,118.2 264.3,115.6 264.0,112.8 264.3,110.0 265.2,107.4 266.7,105.0 267.4,104.3 271.8,101.3 273.7,100.6 276.5,100.3 279.2,100.6 279.7,100.8 284.6,103.4 286.2,105.0 287.7,107.4 288.6,110.0" fill="url(#pg28)"/>
<polygon points="315.4,111.3 315.1,114.1 314.2,116.8 312.7,119.1 311.9,119.9 307.5,122.9 305.7,123.5 302.9,123.8 300.1,123.5 299.7,123.4 294.8,120.8 293.1,119.1 291.7,116.8 290.7,114.1 290.4,111.3 290.7,108.6 291.7,105.9 293.1,103.5 293.9,102.8 298.3,99.8 300.1,99.2 302.9,98.8 305.7,99.2 306.1,99.3 311.0,101.9 312.7,103.5 314.2,105.9 315.1,108.6" fill="url(#pg12)"/>
<polygon points="341.9,109.9 341.6,112.6 340.6,115.3 339.1,117.7 338.4,118.4 334.0,121.4 332.2,122.0 329.4,122.4 326.6,122.0 326.2,121.9 321.2,119.3 319.6,117.7 318.1,115.3 317.2,112.6 316.9,109.9 317.2,107.1 318.1,104.4 319.6,102.1 320.4,101.3 324.8,98.3 326.6,97.7 329.4,97.4 332.2,97.7 332.6,97.8 337.5,100.4 339.1,102.1 340.6,104.4 341.6,107.1" fill="url(#pg15)"/>
<polygon points="118.2,144.4 117.9,147.2 117.0,149.8 115.5,152.2 114.7,152.9 110.3,155.9 108.5,156.6 105.7,156.9 102.9,156.6 102.5,156.4 97.6,153.8 95.9,152.2 94.4,149.8 93.5,147.2 93.2,144.4 93.5,141.6 94.4,139.0 95.9,136.6 96.7,135.9 101.1,132.9 102.9,132.2 105.7,131.9 108.5,132.2 108.9,132.4 113.8,135.0 115.5,136.6 117.0,139.0 117.9,141.6" fill="url(#pg0)"/>
<radialGradient id="pg30"><stop offset="0" stop-color="#946874"/><stop offset="0.55" stop-color="#996c78"/><stop offset="1" stop-color="#9c6e7a"/></radialGradient>
<polygon points="144.7,142.9 144.4,145.7 143.4,148.3 141.9,150.7 141.2,151.5 136.8,154.5 134.9,155.1 132.2,155.4 129.4,155.1 129.0,155.0 124.0,152.4 122.4,150.7 120.9,148.3 120.0,145.7 119.7,142.9 120.0,140.1 120.9,137.5 122.4,135.1 123.1,134.4 127.5,131.4 129.4,130.7 132.2,130.4 134.9,130.7 135.4,130.9 140.3,133.5 141.9,135.1 143.4,137.5 144.4,140.1" fill="url(#pg30)"/>
<polygon points="171.1,141.4 170.8,144.2 169.9,146.9 168.4,149.2 167.6,150.0 163.2,153.0 161.4,153.6 158.6,153.9 155.8,153.6 155.4,153.5 150.5,150.9 148.8,149.2 147.4,146.9 146.4,144.2 146.1,141.4 146.4,138.7 147.4,136.0 148.8,133.6 149.6,132.9 154.0,129.9 155.8,129.3 158.6,128.9 161.4,129.3 161.8,129.4 166.8,132.0 168.4,133.6 169.9,136.0 170.8,138.7" fill="url(#pg10)"/>
<polygon points="197.6,140.0 197.3,142.7 196.3,145.4 194.9,147.8 194.1,148.5 189.7,151.5 187.9,152.2 185.1,152.5 182.3,152.2 181.9,152.0 176.9,149.4 175.3,147.8 173.8,145.4 172.9,142.7 172.6,140.0 172.9,137.2 173.8,134.5 175.3,132.2 176.1,131.4 180.5,128.4 182.3,127.8 185.1,127.5 187.9,127.8 188.3,127.9 193.2,130.5 194.9,132.2 196.3,134.5 197.3,137.2" fill="url(#pg12)"/>
<polygon points="224.0,138.5 223.7,141.3 222.8,143.9 221.3,146.3 220.6,147.0 216.2,150.0 214.3,150.7 211.5,151.0 208.8,150.7 208.3,150.5 203.4,147.9 201.8,146.3 200.3,143.9 199.4,141.3 199.0,138.5 199.4,135.7 200.3,133.1 201.8,130.7 202.5,129.9 206.9,126.9 208.8,126.3 211.5,126.0 214.3,126.3 214.7,126.4 219.7,129.1 221.3,130.7 222.8,133.1 223.7,135.7" fill="url(#pg23)"/>
<polygon points="250.5,137.0 250.2,139.8 249.3,142.4 247.8,144.8 247.0,145.6 242.6,148.5 240.8,149.2 238.0,149.5 235.2,149.2 234.8,149.0 229.9,146.4 228.2,144.8 226.7,142.4 225.8,139.8 225.5,137.0 225.8,134.2 226.7,131.6 228.2,129.2 229.0,128.5 233.4,125.5 235.2,124.8 238.0,124.5 240.8,124.8 241.2,125.0 246.1,127.6 247.8,129.2 249.3,131.6 250.2,134.2" fill="url(#pg15)"/>
<polygon points="277.0,135.5 276.6,138.3 275.7,140.9 274.2,143.3 273.5,144.1 269.1,147.1 267.2,147.7 264.5,148.0 261.7,147.7 261.3,147.6 256.3,145.0 254.7,143.3 253.2,140.9 252.3,138.3 252.0,135.5 252.3,132.7 253.2,130.1 254.7,127.7 255.4,127.0 259.8,124.0 261.7,123.3 264.5,123.0 267.2,123.3 267.7,123.5 272.6,126.1 274.2,127.7 275.7,130.1 276.6,132.7" fill="url(#pg11)"/>
<polygon points="303.4,134.0 303.1,136.8 302.2,139.5 300.7,141.8 299.9,142.6 295.5,145.6 293.7,146.2 290.9,146.5 288.1,146.2 287.7,146.1 282.8,143.5 281.1,141.8 279.7,139.5 278.7,136.8 278.4,134.0 278.7,131.3 279.7,128.6 281.1,126.3 281.9,125.5 286.3,122.5 288.1,121.9 290.9,121.5 293.7,121.9 294.1,122.0 299.0,124.6 300.7,126.3 302.2,128.6 303.1,131.3" fill="url(#pg23)"/>
<polygon points="329.9,132.6 329.6,135.3 328.6,138.0 327.1,140.4 326.4,141.1 322.0,144.1 320.2,144.8 317.4,145.1 314.6,144.8 314.2,144.6 309.2,142.0 307.6,140.4 306.1,138.0 305.2,135.3 304.9,132.6 305.2,129.8 306.1,127.1 307.6,124.8 308.4,124.0 312.8,121.0 314.6,120.4 317.4,120.1 320.2,120.4 320.6,120.5 325.5,123.1 327.1,124.8 328.6,127.1 329.6,129.8" fill="url(#pg2)"/>
<polygon points="356.3,131.1 356.0,133.9 355.1,136.5 353.6,138.9 351.6,140.9 349.3,142.4 346.6,143.3 343.8,143.6 341.1,143.3 340.6,143.1 335.7,140.5 334.1,138.9 332.6,136.5 331.6,133.9 331.3,131.1 331.6,128.3 332.6,125.7 334.1,123.3 334.8,122.5 339.2,119.5 341.1,118.9 343.8,118.6 346.6,118.9 349.3,119.8 351.6,121.3 353.6,123.3 355.1,125.7 356.0,128.3" fill="url(#pg3)"/>
<polygon points="106.2,167.1 105.9,169.9 105.0,172.5 103.5,174.9 102.7,175.7 98.3,178.7 96.5,179.3 93.7,179.6 90.9,179.3 90.5,179.1 85.6,176.5 83.9,174.9 82.4,172.5 81.5,169.9 81.2,167.1 81.5,164.3 82.4,161.7 83.9,159.3 85.9,157.3 88.3,155.8 90.9,154.9 93.7,154.6 96.5,154.9 96.9,155.1 101.8,157.7 103.5,159.3 105.0,161.7 105.9,164.3" fill="url(#pg25)"/>
<radialGradient id="pg31"><stop offset="0" stop-color="#7d4f5c"/><stop offset="0.55" stop-color="#81525f"/><stop offset="1" stop-color="#885966"/></radialGradient>
<polygon points="132.7,165.6 132.3,168.4 131.4,171.1 129.9,173.4 129.2,174.2 124.8,177.2 122.9,177.8 120.2,178.1 117.4,177.8 117.0,177.7 112.0,175.1 110.4,173.4 108.9,171.1 108.0,168.4 107.7,165.6 108.0,162.8 108.9,160.2 110.4,157.8 111.1,157.1 115.5,154.1 117.4,153.4 120.2,153.1 122.9,153.4 123.4,153.6 128.3,156.2 129.9,157.8 131.4,160.2 132.3,162.8" fill="url(#pg31)"/>
<polygon points="159.1,164.1 158.8,166.9 157.9,169.6 156.4,171.9 155.6,172.7 151.2,175.7 149.4,176.3 146.6,176.6 143.8,176.3 143.4,176.2 138.5,173.6 136.8,171.9 135.4,169.6 134.4,166.9 134.1,164.1 134.4,161.4 135.4,158.7 136.8,156.4 137.6,155.6 142.0,152.6 143.8,152.0 146.6,151.6 149.4,152.0 149.8,152.1 154.8,154.7 156.4,156.4 157.9,158.7 158.8,161.4" fill="url(#pg14)"/>
<polygon points="185.6,162.7 185.3,165.5 184.3,168.1 182.9,170.5 182.1,171.2 177.7,174.2 175.9,174.9 173.1,175.2 170.3,174.9 169.9,174.7 164.9,172.1 163.3,170.5 161.8,168.1 160.9,165.5 160.6,162.7 160.9,159.9 161.8,157.2 163.3,154.9 164.1,154.1 168.5,151.1 170.3,150.5 173.1,150.2 175.9,150.5 176.3,150.6 181.2,153.2 182.9,154.9 184.3,157.2 185.3,159.9" fill="url(#pg8)"/>
<polygon points="212.0,161.2 211.7,164.0 210.8,166.6 209.3,169.0 208.6,169.7 204.2,172.7 202.3,173.4 199.5,173.7 196.8,173.4 196.3,173.2 191.4,170.6 189.8,169.0 188.3,166.6 187.4,164.0 187.0,161.2 187.4,158.4 188.3,155.8 189.8,153.4 190.5,152.6 194.9,149.6 196.8,149.0 199.5,148.7 202.3,149.0 202.7,149.2 207.7,151.8 209.3,153.4 210.8,155.8 211.7,158.4" fill="url(#pg24)"/>
<polygon points="238.5,159.7 238.2,162.5 237.3,165.1 235.8,167.5 235.0,168.3 230.6,171.3 228.8,171.9 226.0,172.2 223.2,171.9 222.8,171.7 217.9,169.1 216.2,167.5 214.7,165.1 213.8,162.5 213.5,159.7 213.8,156.9 214.7,154.3 216.2,151.9 217.0,151.2 221.4,148.2 223.2,147.5 226.0,147.2 228.8,147.5 229.2,147.7 234.1,150.3 235.8,151.9 237.3,154.3 238.2,156.9" fill="url(#pg13)"/>
<polygon points="265.0,158.2 264.6,161.0 263.7,163.7 262.2,166.0 261.5,166.8 257.1,169.8 255.2,170.4 252.5,170.7 249.7,170.4 249.3,170.3 244.3,167.7 242.7,166.0 241.2,163.7 240.3,161.0 240.0,158.2 240.3,155.4 241.2,152.8 242.7,150.4 243.4,149.7 247.8,146.7 249.7,146.0 252.5,145.7 255.2,146.0 255.7,146.2 260.6,148.8 262.2,150.4 263.7,152.8 264.6,155.4" fill="url(#pg2)"/>
<radialGradient id="pg32"><stop offset="0" stop-color="#8a616c"/><stop offset="0.55" stop-color="#8f6470"/><stop offset="1" stop-color="#916672"/></radialGradient>
<polygon points="291.4,156.8 291.1,159.5 290.2,162.2 288.7,164.5 287.9,165.3 283.5,168.3 281.7,168.9 278.9,169.3 276.1,168.9 275.7,168.8 270.8,166.2 269.1,164.5 267.7,162.2 266.7,159.5 266.4,156.8 266.7,154.0 267.7,151.3 269.1,149.0 269.9,148.2 274.3,145.2 276.1,144.6 278.9,144.3 281.7,144.6 282.1,144.7 287.0,147.3 288.7,149.0 290.2,151.3 291.1,154.0" fill="url(#pg32)"/>
<radialGradient id="pg33"><stop offset="0" stop-color="#54232e"/><stop offset="0.55" stop-color="#572530"/><stop offset="1" stop-color="#744450"/></radialGradient>
<polygon points="317.9,155.3 317.6,158.1 316.6,160.7 315.1,163.1 314.4,163.8 310.0,166.8 308.2,167.5 305.4,167.8 302.6,167.5 302.2,167.3 297.2,164.7 295.6,163.1 294.1,160.7 293.2,158.1 292.9,155.3 293.2,152.5 294.1,149.8 295.6,147.5 296.4,146.7 300.8,143.7 302.6,143.1 305.4,142.8 308.2,143.1 308.6,143.2 313.5,145.8 315.1,147.5 316.6,149.8 317.6,152.5" fill="url(#pg33)"/>
<radialGradient id="pg34"><stop offset="0" stop-color="#8c626e"/><stop offset="0.55" stop-color="#916672"/><stop offset="1" stop-color="#936874"/></radialGradient>
<polygon points="344.3,153.8 344.0,156.6 343.1,159.2 341.6,161.6 340.9,162.3 336.5,165.3 334.6,166.0 331.8,166.3 329.1,166.0 328.6,165.8 323.7,163.2 322.1,161.6 320.6,159.2 319.6,156.6 319.3,153.8 319.6,151.0 320.6,148.4 322.1,146.0 322.8,145.2 327.2,142.2 329.1,141.6 331.8,141.3 334.6,141.6 335.0,141.8 340.0,144.4 341.6,146.0 343.1,148.4 344.0,151.0" fill="url(#pg34)"/>
<polygon points="94.2,189.8 93.9,192.6 93.0,195.2 91.5,197.6 90.7,198.4 86.3,201.4 84.5,202.0 81.7,202.3 78.9,202.0 76.3,201.1 73.9,199.6 71.9,197.6 70.4,195.2 69.5,192.6 69.2,189.8 69.5,187.0 70.4,184.4 71.9,182.0 73.9,180.0 76.3,178.6 78.9,177.6 81.7,177.3 84.5,177.6 84.9,177.8 89.8,180.4 91.5,182.0 93.0,184.4 93.9,187.0" fill="url(#pg17)"/>
<polygon points="120.7,188.3 120.3,191.1 119.4,193.8 117.9,196.1 117.2,196.9 112.8,199.9 110.9,200.5 108.2,200.8 105.4,200.5 105.0,200.4 100.0,197.8 98.4,196.1 96.9,193.8 96.0,191.1 95.7,188.3 96.0,185.6 96.9,182.9 98.4,180.5 99.1,179.8 103.5,176.8 105.4,176.1 108.2,175.8 110.9,176.1 111.4,176.3 116.3,178.9 117.9,180.5 119.4,182.9 120.3,185.6" fill="url(#pg3)"/>
<radialGradient id="pg35"><stop offset="0" stop-color="#7f505d"/><stop offset="0.55" stop-color="#835360"/><stop offset="1" stop-color="#895a67"/></radialGradient>
<polygon points="147.1,186.9 146.8,189.6 145.9,192.3 144.4,194.6 143.6,195.4 139.2,198.4 137.4,199.0 134.6,199.4 131.8,199.0 131.4,198.9 126.5,196.3 124.8,194.6 123.4,192.3 122.4,189.6 122.1,186.9 122.4,184.1 123.4,181.4 124.8,179.1 125.6,178.3 130.0,175.3 131.8,174.7 134.6,174.4 137.4,174.7 137.8,174.8 142.8,177.4 144.4,179.1 145.9,181.4 146.8,184.1" fill="url(#pg35)"/>
<polygon points="173.6,185.4 173.3,188.2 172.3,190.8 170.9,193.2 170.1,193.9 165.7,196.9 163.9,197.6 161.1,197.9 158.3,197.6 157.9,197.4 152.9,194.8 151.3,193.2 149.8,190.8 148.9,188.2 148.6,185.4 148.9,182.6 149.8,180.0 151.3,177.6 152.1,176.8 156.5,173.8 158.3,173.2 161.1,172.9 163.9,173.2 164.3,173.3 169.2,175.9 170.9,177.6 172.3,180.0 173.3,182.6" fill="url(#pg1)"/>
<polygon points="200.0,183.9 199.7,186.7 198.8,189.3 197.3,191.7 196.6,192.4 192.2,195.4 190.3,196.1 187.5,196.4 184.8,196.1 184.3,195.9 179.4,193.3 177.8,191.7 176.3,189.3 175.4,186.7 175.0,183.9 175.4,181.1 176.3,178.5 177.8,176.1 178.5,175.4 182.9,172.4 184.8,171.7 187.5,171.4 190.3,171.7 190.7,171.9 195.7,174.5 197.3,176.1 198.8,178.5 199.7,181.1" fill="url(#pg24)"/>
<polygon points="226.5,182.4 226.2,185.2 225.3,187.8 223.8,190.2 223.0,191.0 218.6,194.0 216.8,194.6 214.0,194.9 211.2,194.6 210.8,194.5 205.9,191.9 204.2,190.2 202.7,187.8 201.8,185.2 201.5,182.4 201.8,179.6 202.7,177.0 204.2,174.6 205.0,173.9 209.4,170.9 211.2,170.2 214.0,169.9 216.8,170.2 217.2,170.4 222.1,173.0 223.8,174.6 225.3,177.0 226.2,179.6" fill="url(#pg13)"/>
<radialGradient id="pg36"><stop offset="0" stop-color="#582530"/><stop offset="0.55" stop-color="#5b2732"/><stop offset="1" stop-color="#764551"/></radialGradient>
<polygon points="253.0,180.9 252.6,183.7 251.7,186.4 250.2,188.7 249.5,189.5 245.1,192.5 243.2,193.1 240.5,193.4 237.7,193.1 237.2,193.0 232.3,190.4 230.7,188.7 229.2,186.4 228.3,183.7 228.0,180.9 228.3,178.2 229.2,175.5 230.7,173.1 231.4,172.4 235.8,169.4 237.7,168.8 240.5,168.4 243.2,168.8 243.7,168.9 248.6,171.5 250.2,173.1 251.7,175.5 252.6,178.2" fill="url(#pg36)"/>
<polygon points="279.4,179.5 279.1,182.2 278.2,184.9 276.7,187.3 275.9,188.0 271.5,191.0 269.7,191.6 266.9,192.0 264.1,191.6 263.7,191.5 258.8,188.9 257.1,187.3 255.7,184.9 254.7,182.2 254.4,179.5 254.7,176.7 255.7,174.0 257.1,171.7 257.9,170.9 262.3,167.9 264.1,167.3 266.9,167.0 269.7,167.3 270.1,167.4 275.0,170.0 276.7,171.7 278.2,174.0 279.1,176.7" fill="url(#pg7)"/>
<polygon points="305.9,178.0 305.6,180.8 304.6,183.4 303.1,185.8 302.4,186.5 298.0,189.5 296.2,190.2 293.4,190.5 290.6,190.2 290.2,190.0 285.2,187.4 283.6,185.8 282.1,183.4 281.2,180.8 280.9,178.0 281.2,175.2 282.1,172.6 283.6,170.2 284.4,169.4 288.8,166.4 290.6,165.8 293.4,165.5 296.2,165.8 296.6,165.9 301.5,168.5 303.1,170.2 304.6,172.6 305.6,175.2" fill="url(#pg23)"/>
<polygon points="332.3,176.5 332.0,179.3 331.1,181.9 329.6,184.3 328.9,185.0 324.4,188.0 322.6,188.7 319.8,189.0 317.0,188.7 316.6,188.5 311.7,185.9 310.1,184.3 308.6,181.9 307.6,179.3 307.3,176.5 307.6,173.7 308.6,171.1 310.1,168.7 310.8,168.0 315.2,165.0 317.0,164.3 319.8,164.0 322.6,164.3 323.0,164.5 328.0,167.1 329.6,168.7 331.1,171.1 332.0,173.7" fill="url(#pg4)"/>
<radialGradient id="pg37"><stop offset="0" stop-color="#976a76"/><stop offset="0.55" stop-color="#9c6e7a"/><stop offset="1" stop-color="#9f707c"/></radialGradient>
<polygon points="358.8,175.0 358.5,177.8 357.6,180.4 356.1,182.8 354.1,184.8 351.7,186.3 349.1,187.2 346.3,187.5 343.5,187.2 343.1,187.1 338.2,184.5 336.5,182.8 335.0,180.4 334.1,177.8 333.8,175.0 334.1,172.2 335.0,169.6 336.5,167.2 337.3,166.5 341.7,163.5 343.5,162.8 346.3,162.5 349.1,162.8 351.7,163.8 354.1,165.2 356.1,167.2 357.6,169.6 358.5,172.2" fill="url(#pg37)"/>
<polygon points="108.7,211.0 108.3,213.8 107.4,216.5 105.9,218.8 105.2,219.6 100.8,222.6 98.9,223.2 96.2,223.5 93.4,223.2 93.0,223.1 88.0,220.5 86.4,218.8 84.9,216.5 84.0,213.8 83.7,211.0 84.0,208.3 84.9,205.6 86.4,203.2 87.1,202.5 91.5,199.5 93.4,198.9 96.2,198.5 98.9,198.9 99.4,199.0 104.3,201.6 105.9,203.2 107.4,205.6 108.3,208.3" fill="url(#pg8)"/>
<polygon points="135.1,209.6 134.8,212.3 133.9,215.0 132.4,217.4 131.6,218.1 127.2,221.1 125.4,221.7 122.6,222.1 119.8,221.7 119.4,221.6 114.5,219.0 112.8,217.4 111.4,215.0 110.4,212.3 110.1,209.6 110.4,206.8 111.4,204.1 112.8,201.8 113.6,201.0 118.0,198.0 119.8,197.4 122.6,197.1 125.4,197.4 125.8,197.5 130.8,200.1 132.4,201.8 133.9,204.1 134.8,206.8" fill="url(#pg15)"/>
<polygon points="161.6,208.1 161.3,210.9 160.3,213.5 158.9,215.9 158.1,216.6 153.7,219.6 151.9,220.3 149.1,220.6 146.3,220.3 145.9,220.1 140.9,217.5 139.3,215.9 137.8,213.5 136.9,210.9 136.6,208.1 136.9,205.3 137.8,202.7 139.3,200.3 140.1,199.5 144.5,196.5 146.3,195.9 149.1,195.6 151.9,195.9 152.3,196.0 157.2,198.6 158.9,200.3 160.3,202.7 161.3,205.3" fill="url(#pg24)"/>
<polygon points="188.0,206.6 187.7,209.4 186.8,212.0 185.3,214.4 184.6,215.1 180.2,218.1 178.3,218.8 175.5,219.1 172.8,218.8 172.3,218.6 167.4,216.0 165.8,214.4 164.3,212.0 163.3,209.4 163.0,206.6 163.3,203.8 164.3,201.2 165.8,198.8 166.5,198.1 170.9,195.1 172.8,194.4 175.5,194.1 178.3,194.4 178.7,194.6 183.7,197.2 185.3,198.8 186.8,201.2 187.7,203.8" fill="url(#pg27)"/>
<polygon points="214.5,205.1 214.2,207.9 213.3,210.5 211.8,212.9 211.0,213.7 206.6,216.7 204.8,217.3 202.0,217.6 199.2,217.3 198.8,217.2 193.9,214.6 192.2,212.9 190.7,210.5 189.8,207.9 189.5,205.1 189.8,202.3 190.7,199.7 192.2,197.3 193.0,196.6 197.4,193.6 199.2,192.9 202.0,192.6 204.8,192.9 205.2,193.1 210.1,195.7 211.8,197.3 213.3,199.7 214.2,202.3" fill="url(#pg5)"/>
<polygon points="241.0,203.6 240.6,206.4 239.7,209.1 238.2,211.4 237.5,212.2 233.1,215.2 231.2,215.8 228.5,216.1 225.7,215.8 225.2,215.7 220.3,213.1 218.7,211.4 217.2,209.1 216.3,206.4 216.0,203.6 216.3,200.9 217.2,198.2 218.7,195.8 219.4,195.1 223.8,192.1 225.7,191.5 228.5,191.1 231.2,191.5 231.7,191.6 236.6,194.2 238.2,195.8 239.7,198.2 240.6,200.9" fill="url(#pg37)"/>
<polygon points="267.4,202.2 267.1,204.9 266.2,207.6 264.7,210.0 263.9,210.7 259.5,213.7 257.7,214.3 254.9,214.7 252.1,214.3 251.7,214.2 246.8,211.6 245.1,210.0 243.7,207.6 242.7,204.9 242.4,202.2 242.7,199.4 243.7,196.7 245.1,194.4 245.9,193.6 250.3,190.6 252.1,190.0 254.9,189.7 257.7,190.0 258.1,190.1 263.0,192.7 264.7,194.4 266.2,196.7 267.1,199.4" fill="url(#pg11)"/>
<polygon points="293.9,200.7 293.6,203.5 292.6,206.1 291.1,208.5 290.4,209.2 286.0,212.2 284.2,212.9 281.4,213.2 278.6,212.9 278.2,212.7 273.2,210.1 271.6,208.5 270.1,206.1 269.2,203.5 268.9,200.7 269.2,197.9 270.1,195.3 271.6,192.9 272.3,192.1 276.8,189.1 278.6,188.5 281.4,188.2 284.2,188.5 284.6,188.6 289.5,191.2 291.1,192.9 292.6,195.3 293.6,197.9" fill="url(#pg1)"/>
<polygon points="320.3,199.2 320.0,202.0 319.1,204.6 317.6,207.0 316.9,207.7 312.4,210.7 310.6,211.4 307.8,211.7 305.0,211.4 304.6,211.2 299.7,208.6 298.1,207.0 296.6,204.6 295.6,202.0 295.3,199.2 295.6,196.4 296.6,193.8 298.1,191.4 298.8,190.7 303.2,187.7 305.0,187.0 307.8,186.7 310.6,187.0 311.0,187.2 316.0,189.8 317.6,191.4 319.1,193.8 320.0,196.4" fill="url(#pg19)"/>
<polygon points="346.8,197.7 346.5,200.5 345.6,203.1 344.1,205.5 343.3,206.3 338.9,209.3 337.1,209.9 334.3,210.2 331.5,209.9 331.1,209.8 326.2,207.2 324.5,205.5 323.0,203.1 322.1,200.5 321.8,197.7 322.1,194.9 323.0,192.3 324.5,189.9 325.3,189.2 329.7,186.2 331.5,185.5 334.3,185.2 337.1,185.5 337.5,185.7 342.4,188.3 344.1,189.9 345.6,192.3 346.5,194.9" fill="url(#pg9)"/>
<polygon points="96.7,233.7 96.3,236.5 95.4,239.2 93.9,241.5 93.2,242.3 88.8,245.3 86.9,245.9 84.2,246.2 81.4,245.9 78.7,245.0 76.4,243.5 74.4,241.5 72.9,239.2 72.0,236.5 71.7,233.7 72.0,231.0 72.9,228.3 74.4,226.0 76.4,224.0 78.7,222.5 81.4,221.6 84.2,221.2 86.9,221.6 87.4,221.7 92.3,224.3 93.9,226.0 95.4,228.3 96.3,231.0" fill="url(#pg9)"/>
<polygon points="123.1,232.3 122.8,235.0 121.9,237.7 120.4,240.1 119.6,240.8 115.2,243.8 113.4,244.5 110.6,244.8 107.8,244.5 107.4,244.3 102.5,241.7 100.8,240.1 99.4,237.7 98.4,235.0 98.1,232.3 98.4,229.5 99.4,226.8 100.8,224.5 101.6,223.7 106.0,220.7 107.8,220.1 110.6,219.8 113.4,220.1 113.8,220.2 118.8,222.8 120.4,224.5 121.9,226.8 122.8,229.5" fill="url(#pg23)"/>
<polygon points="149.6,230.8 149.3,233.6 148.3,236.2 146.8,238.6 146.1,239.3 141.7,242.3 139.9,243.0 137.1,243.3 134.3,243.0 133.9,242.8 128.9,240.2 127.3,238.6 125.8,236.2 124.9,233.6 124.6,230.8 124.9,228.0 125.8,225.4 127.3,223.0 128.1,222.2 132.5,219.2 134.3,218.6 137.1,218.3 139.9,218.6 140.3,218.7 145.2,221.4 146.8,223.0 148.3,225.4 149.3,228.0" fill="url(#pg22)"/>
<polygon points="176.0,229.3 175.7,232.1 174.8,234.7 173.3,237.1 172.6,237.9 168.2,240.8 166.3,241.5 163.5,241.8 160.8,241.5 160.3,241.3 155.4,238.7 153.8,237.1 152.3,234.7 151.3,232.1 151.0,229.3 151.3,226.5 152.3,223.9 153.8,221.5 154.5,220.8 158.9,217.8 160.8,217.1 163.5,216.8 166.3,217.1 166.7,217.3 171.7,219.9 173.3,221.5 174.8,223.9 175.7,226.5" fill="url(#pg24)"/>
<polygon points="202.5,227.8 202.2,230.6 201.3,233.3 199.8,235.6 199.0,236.4 194.6,239.4 192.8,240.0 190.0,240.3 187.2,240.0 186.8,239.9 181.9,237.3 180.2,235.6 178.7,233.3 177.8,230.6 177.5,227.8 177.8,225.0 178.7,222.4 180.2,220.0 181.0,219.3 185.4,216.3 187.2,215.6 190.0,215.3 192.8,215.6 193.2,215.8 198.1,218.4 199.8,220.0 201.3,222.4 202.2,225.0" fill="url(#pg32)"/>
<polygon points="229.0,226.3 228.6,229.1 227.7,231.8 226.2,234.1 225.5,234.9 221.1,237.9 219.2,238.5 216.5,238.8 213.7,238.5 213.2,238.4 208.3,235.8 206.7,234.1 205.2,231.8 204.3,229.1 204.0,226.3 204.3,223.6 205.2,220.9 206.7,218.6 207.4,217.8 211.8,214.8 213.7,214.2 216.5,213.8 219.2,214.2 219.7,214.3 224.6,216.9 226.2,218.6 227.7,220.9 228.6,223.6" fill="url(#pg6)"/>
<polygon points="255.4,224.9 255.1,227.6 254.2,230.3 252.7,232.7 251.9,233.4 247.5,236.4 245.7,237.1 242.9,237.4 240.1,237.1 239.7,236.9 234.8,234.3 233.1,232.7 231.6,230.3 230.7,227.6 230.4,224.9 230.7,222.1 231.6,219.4 233.1,217.1 233.9,216.3 238.3,213.3 240.1,212.7 242.9,212.4 245.7,212.7 246.1,212.8 251.0,215.4 252.7,217.1 254.2,219.4 255.1,222.1" fill="url(#pg13)"/>
<polygon points="281.9,223.4 281.6,226.2 280.6,228.8 279.1,231.2 278.4,231.9 274.0,234.9 272.2,235.6 269.4,235.9 266.6,235.6 266.2,235.4 261.2,232.8 259.6,231.2 258.1,228.8 257.2,226.2 256.9,223.4 257.2,220.6 258.1,218.0 259.6,215.6 260.3,214.8 264.8,211.8 266.6,211.2 269.4,210.9 272.2,211.2 272.6,211.4 277.5,214.0 279.1,215.6 280.6,218.0 281.6,220.6" fill="url(#pg12)"/>
<polygon points="308.3,221.9 308.0,224.7 307.1,227.3 305.6,229.7 304.8,230.5 300.4,233.5 298.6,234.1 295.8,234.4 293.0,234.1 292.6,233.9 287.7,231.3 286.1,229.7 284.6,227.3 283.6,224.7 283.3,221.9 283.6,219.1 284.6,216.5 286.1,214.1 286.8,213.4 291.2,210.4 293.0,209.7 295.8,209.4 298.6,209.7 299.0,209.9 304.0,212.5 305.6,214.1 307.1,216.5 308.0,219.1" fill="url(#pg11)"/>
<polygon points="334.8,220.4 334.5,223.2 333.5,225.9 332.1,228.2 331.3,229.0 326.9,232.0 325.1,232.6 322.3,232.9 319.5,232.6 319.1,232.5 314.2,229.9 312.5,228.2 311.0,225.9 310.1,223.2 309.8,220.4 310.1,217.6 311.0,215.0 312.5,212.6 313.3,211.9 317.7,208.9 319.5,208.2 322.3,207.9 325.1,208.2 325.5,208.4 330.4,211.0 332.1,212.6 333.5,215.0 334.5,217.6" fill="url(#pg21)"/>
<polygon points="361.2,219.0 360.9,221.7 360.0,224.4 358.5,226.7 356.5,228.7 354.2,230.2 351.5,231.1 348.7,231.5 346.0,231.1 345.5,231.0 340.6,228.4 339.0,226.7 337.5,224.4 336.6,221.7 336.2,219.0 336.6,216.2 337.5,213.5 339.0,211.2 339.7,210.4 344.1,207.4 346.0,206.8 348.7,206.5 351.5,206.8 354.2,207.7 356.5,209.2 358.5,211.2 360.0,213.5 360.9,216.2" fill="url(#pg4)"/>
<polygon points="111.1,255.0 110.8,257.8 109.9,260.4 108.4,262.8 106.4,264.7 104.0,266.2 101.4,267.2 98.6,267.5 95.8,267.2 93.2,266.2 90.8,264.7 88.8,262.8 87.4,260.4 86.4,257.8 86.1,255.0 86.4,252.2 87.4,249.5 88.8,247.2 89.6,246.4 94.0,243.4 95.8,242.8 98.6,242.5 101.4,242.8 101.8,242.9 106.7,245.5 108.4,247.2 109.9,249.5 110.8,252.2" fill="url(#pg10)"/>
<radialGradient id="pg38"><stop offset="0" stop-color="#946774"/><stop offset="0.55" stop-color="#996b78"/><stop offset="1" stop-color="#9c6d7a"/></radialGradient>
<polygon points="137.6,253.5 137.3,256.3 136.3,258.9 134.8,261.3 132.9,263.3 130.5,264.8 127.9,265.7 125.1,266.0 122.3,265.7 119.7,264.8 117.3,263.3 115.3,261.3 113.8,258.9 112.9,256.3 112.6,253.5 112.9,250.7 113.8,248.1 115.3,245.7 116.1,244.9 120.5,241.9 122.3,241.3 125.1,241.0 127.9,241.3 128.3,241.5 133.2,244.1 134.8,245.7 136.3,248.1 137.3,250.7" fill="url(#pg38)"/>
<polygon points="164.0,252.0 163.7,254.8 162.8,257.4 161.3,259.8 159.3,261.8 157.0,263.3 154.3,264.2 151.5,264.5 148.8,264.2 146.1,263.3 143.7,261.8 141.8,259.8 140.3,257.4 139.3,254.8 139.0,252.0 139.3,249.2 140.3,246.6 141.8,244.2 142.5,243.5 146.9,240.5 148.8,239.8 151.5,239.5 154.3,239.8 154.7,240.0 159.7,242.6 161.3,244.2 162.8,246.6 163.7,249.2" fill="url(#pg3)"/>
<radialGradient id="pg39"><stop offset="0" stop-color="#986a76"/><stop offset="0.55" stop-color="#9d6e7a"/><stop offset="1" stop-color="#a0707c"/></radialGradient>
<polygon points="190.5,250.5 190.2,253.3 189.3,256.0 187.8,258.3 185.8,260.3 183.4,261.8 180.8,262.7 178.0,263.0 175.2,262.7 172.6,261.8 170.2,260.3 168.2,258.3 166.7,256.0 165.8,253.3 165.5,250.5 165.8,247.8 166.7,245.1 168.2,242.7 169.0,242.0 173.4,239.0 175.2,238.3 178.0,238.0 180.8,238.3 181.2,238.5 186.1,241.1 187.8,242.7 189.3,245.1 190.2,247.8" fill="url(#pg39)"/>
<radialGradient id="pg40"><stop offset="0" stop-color="#966875"/><stop offset="0.55" stop-color="#9b6c79"/><stop offset="1" stop-color="#9e6e7b"/></radialGradient>
<polygon points="217.0,249.1 216.6,251.8 215.7,254.5 214.2,256.8 212.2,258.8 209.9,260.3 207.2,261.2 204.5,261.6 201.7,261.2 199.0,260.3 196.7,258.8 194.7,256.8 193.2,254.5 192.3,251.8 192.0,249.1 192.3,246.3 193.2,243.6 194.7,241.3 195.4,240.5 199.8,237.5 201.7,236.9 204.5,236.6 207.2,236.9 207.7,237.0 212.6,239.6 214.2,241.3 215.7,243.6 216.6,246.3" fill="url(#pg40)"/>
<polygon points="243.4,247.6 243.1,250.4 242.2,253.0 240.7,255.4 238.7,257.3 236.3,258.8 233.7,259.8 230.9,260.1 228.1,259.8 225.5,258.8 223.1,257.3 221.1,255.4 219.6,253.0 218.7,250.4 218.4,247.6 218.7,244.8 219.6,242.1 221.1,239.8 221.9,239.0 226.3,236.0 228.1,235.4 230.9,235.1 233.7,235.4 234.1,235.5 239.0,238.1 240.7,239.8 242.2,242.1 243.1,244.8" fill="url(#pg15)"/>
<polygon points="269.9,246.1 269.6,248.9 268.6,251.5 267.1,253.9 265.2,255.9 262.8,257.4 260.1,258.3 257.4,258.6 254.6,258.3 251.9,257.4 249.6,255.9 247.6,253.9 246.1,251.5 245.2,248.9 244.9,246.1 245.2,243.3 246.1,240.7 247.6,238.3 248.3,237.5 252.7,234.6 254.6,233.9 257.4,233.6 260.1,233.9 260.6,234.1 265.5,236.7 267.1,238.3 268.6,240.7 269.6,243.3" fill="url(#pg8)"/>
<polygon points="296.3,244.6 296.0,247.4 295.1,250.0 293.6,252.4 291.6,254.4 289.3,255.9 286.6,256.8 283.8,257.1 281.0,256.8 278.4,255.9 276.0,254.4 274.1,252.4 272.6,250.0 271.6,247.4 271.3,244.6 271.6,241.8 272.6,239.2 274.1,236.8 274.8,236.1 279.2,233.1 281.0,232.4 283.8,232.1 286.6,232.4 287.0,232.6 292.0,235.2 293.6,236.8 295.1,239.2 296.0,241.8" fill="url(#pg13)"/>
<polygon points="322.8,243.1 322.5,245.9 321.5,248.6 320.1,250.9 319.3,251.7 314.9,254.7 313.1,255.3 310.3,255.6 307.5,255.3 304.9,254.4 302.5,252.9 300.5,250.9 299.0,248.6 298.1,245.9 297.8,243.1 298.1,240.4 299.0,237.7 300.5,235.3 301.3,234.6 305.7,231.6 307.5,230.9 310.3,230.6 313.1,230.9 313.5,231.1 318.4,233.7 320.1,235.3 321.5,237.7 322.5,240.4" fill="url(#pg13)"/>
<polygon points="349.2,241.7 348.9,244.4 348.0,247.1 346.5,249.4 345.8,250.2 341.4,253.2 339.5,253.8 336.7,254.2 334.0,253.8 333.5,253.7 328.6,251.1 327.0,249.4 325.5,247.1 324.6,244.4 324.2,241.7 324.6,238.9 325.5,236.2 327.0,233.9 327.7,233.1 332.1,230.1 334.0,229.5 336.7,229.2 339.5,229.5 340.0,229.6 344.9,232.2 346.5,233.9 348.0,236.2 348.9,238.9" fill="url(#pg17)"/>
<polygon points="337.2,264.4 336.9,267.1 336.0,269.8 334.5,272.2 332.5,274.1 330.2,275.6 327.5,276.5 324.7,276.9 322.0,276.5 319.3,275.6 316.9,274.1 315.0,272.2 313.5,269.8 312.6,267.1 312.2,264.4 312.6,261.6 313.5,258.9 315.0,256.6 315.7,255.8 320.1,252.8 322.0,252.2 324.7,251.9 327.5,252.2 327.9,252.3 332.9,254.9 334.5,256.6 336.0,258.9 336.9,261.6" fill="url(#pg2)"/>
<polygon points="363.7,262.9 363.4,265.7 362.5,268.3 361.0,270.7 359.0,272.7 356.6,274.1 354.0,275.1 351.2,275.4 348.4,275.1 345.8,274.1 343.4,272.7 341.4,270.7 339.9,268.3 339.0,265.7 338.7,262.9 339.0,260.1 339.9,257.5 341.4,255.1 342.2,254.3 346.6,251.3 348.4,250.7 351.2,250.4 354.0,250.7 356.6,251.6 359.0,253.1 361.0,255.1 362.5,257.5 363.4,260.1" fill="url(#pg3)"/>
</g>
</g>
</g>
<clipPath id="clipt2"><rect x="333.0" y="18.0" width="219.0" height="219.0"/></clipPath>
<g clip-path="url(#clipt2)">
<g filter="url(#grain)">
<rect x="333.0" y="18.0" width="219.0" height="219.0" fill="#e9c4cc"/>
<g filter="url(#soft)">
<polygon points="366.2,14.8 366.1,16.0 365.1,18.8 364.2,20.3 354.0,25.8 341.9,20.3 340.9,18.8 339.9,16.0 339.6,13.0 339.9,10.0 340.9,7.2 342.5,4.6 344.6,2.5 347.2,0.9 350.0,-0.1 353.0,-0.4 356.0,-0.1 358.8,0.9 361.4,2.5 363.5,4.6 365.1,7.2 366.1,10.0 366.2,11.2" fill="url(#pg3)"/>
<polygon points="394.2,14.8 394.1,16.0 393.1,18.8 392.2,20.3 380.1,26.3 378.0,26.1 376.4,25.5 370.4,21.1 368.9,18.8 367.9,16.0 367.8,14.8 367.8,11.2 367.9,10.0 368.9,7.2 370.5,4.6 372.6,2.5 375.2,0.9 378.0,-0.1 381.0,-0.4 384.0,-0.1 386.8,0.9 389.4,2.5 391.5,4.6 393.1,7.2 394.1,10.0 394.2,11.2" fill="url(#pg19)"/>
<polygon points="422.2,14.8 422.1,16.0 421.1,18.8 420.2,20.3 408.9,26.4 406.0,26.1 403.2,25.1 399.0,21.8 398.5,21.4 396.9,18.8 395.9,16.0 395.8,14.8 395.8,11.2 395.9,10.0 396.9,7.2 398.5,4.6 400.6,2.5 403.2,0.9 406.0,-0.1 409.0,-0.4 412.0,-0.1 414.8,0.9 417.4,2.5 419.5,4.6 421.1,7.2 422.1,10.0 422.2,11.2" fill="url(#pg34)"/>
<polygon points="450.4,13.0 450.1,16.0 449.1,18.8 448.1,20.3 438.1,26.3 437.0,26.4 434.0,26.1 432.4,25.5 426.4,21.1 424.9,18.8 423.9,16.0 423.8,14.8 423.8,11.2 423.9,10.0 424.9,7.2 426.5,4.6 428.6,2.5 431.2,0.9 434.0,-0.1 437.0,-0.4 440.0,-0.1 442.8,0.9 445.4,2.5 447.5,4.6 449.1,7.2 450.1,10.0" fill="url(#pg5)"/>
<polygon points="479.2,14.8 479.1,16.0 478.1,18.8 477.1,20.3 467.1,26.3 466.0,26.4 463.0,26.1 461.4,25.5 455.4,21.1 453.9,18.8 452.9,16.0 452.6,13.0 452.9,10.0 453.9,7.2 455.5,4.6 457.6,2.5 460.2,0.9 463.0,-0.1 466.0,-0.4 469.0,-0.1 471.8,0.9 474.4,2.5 476.5,4.6 478.1,7.2 479.1,10.0 479.2,11.2" fill="url(#pg3)"/>
<polygon points="507.4,13.0 507.1,16.0 506.1,18.8 505.0,20.5 496.1,26.2 494.0,26.4 491.0,26.1 490.9,26.0 483.1,20.7 481.9,18.8 480.9,16.0 480.8,14.8 480.8,11.2 480.9,10.0 481.9,7.2 483.5,4.6 485.6,2.5 488.2,0.9 491.0,-0.1 494.0,-0.4 497.0,-0.1 499.8,0.9 502.4,2.5 504.5,4.6 506.1,7.2 507.1,10.0" fill="url(#pg32)"/>
<polygon points="536.4,13.0 536.1,16.0 535.1,18.8 534.0,20.5 525.1,26.2 523.0,26.4 520.0,26.1 519.9,26.0 512.1,20.7 510.9,18.8 509.9,16.0 509.6,13.0 509.9,10.0 510.9,7.2 512.5,4.6 514.6,2.5 517.2,0.9 520.0,-0.1 523.0,-0.4 526.0,-0.1 528.8,0.9 531.4,2.5 533.5,4.6 535.1,7.2 536.1,10.0" fill="url(#pg1)"/>
<polygon points="353.2,43.6 351.4,45.5 348.8,47.1 346.0,48.1 343.0,48.4 340.0,48.1 337.2,47.1 334.6,45.5 332.5,43.4 330.9,40.8 329.9,38.0 329.6,35.0 329.9,32.0 330.9,29.2 332.5,26.6 334.6,24.5 337.2,22.9 340.0,21.9 341.2,21.8 353.2,27.2" fill="url(#pg7)"/>
<polygon points="377.7,39.0 377.1,40.8 375.5,43.4 373.4,45.5 370.8,47.1 368.0,48.1 365.0,48.4 362.0,48.1 359.2,47.1 356.6,45.5 354.8,43.6 354.8,27.2 365.1,21.6 368.0,21.9 369.6,22.5 375.6,26.9 377.1,29.2 377.7,31.0" fill="url(#pg5)"/>
<polygon points="405.4,35.0 405.1,38.0 404.1,40.8 402.5,43.4 400.4,45.5 397.8,47.1 395.0,48.1 392.0,48.4 389.0,48.1 386.2,47.1 383.6,45.5 381.5,43.4 379.9,40.8 379.3,39.0 379.3,31.0 379.9,29.2 380.8,27.7 392.9,21.7 395.0,21.9 397.8,22.9 402.0,26.2 402.5,26.6 404.1,29.2 405.1,32.0" fill="url(#pg32)"/>
<polygon points="434.4,35.0 434.1,38.0 433.1,40.8 431.5,43.4 429.4,45.5 426.8,47.1 424.0,48.1 421.0,48.4 418.0,48.1 415.2,47.1 412.6,45.5 410.5,43.4 408.9,40.8 407.9,38.0 407.6,35.0 407.9,32.0 408.9,29.2 409.8,27.7 421.1,21.6 424.0,21.9 425.6,22.5 431.6,26.9 433.1,29.2 434.1,32.0" fill="url(#pg15)"/>
<polygon points="463.4,35.0 463.1,38.0 462.1,40.8 460.5,43.4 458.4,45.5 455.8,47.1 453.0,48.1 450.0,48.4 447.0,48.1 444.2,47.1 441.6,45.5 439.5,43.4 437.9,40.8 436.9,38.0 436.6,35.0 436.9,32.0 437.9,29.2 438.9,27.7 448.9,21.7 450.0,21.6 453.0,21.9 454.6,22.5 460.6,26.9 462.1,29.2 463.1,32.0" fill="url(#pg10)"/>
<polygon points="492.4,35.0 492.1,38.0 491.1,40.8 489.5,43.4 487.4,45.5 484.8,47.1 482.0,48.1 479.0,48.4 476.0,48.1 473.2,47.1 470.6,45.5 468.5,43.4 466.9,40.8 465.9,38.0 465.6,35.0 465.9,32.0 466.9,29.2 467.9,27.7 477.9,21.7 479.0,21.6 482.0,21.9 482.1,22.0 489.9,27.3 491.1,29.2 492.1,32.0" fill="url(#pg1)"/>
<polygon points="521.4,35.0 521.1,38.0 520.1,40.8 518.5,43.4 516.4,45.5 513.8,47.1 511.0,48.1 508.0,48.4 505.0,48.1 502.2,47.1 499.6,45.5 497.5,43.4 495.9,40.8 494.9,38.0 494.6,35.0 494.9,32.0 495.9,29.2 497.0,27.5 505.9,21.8 508.0,21.6 511.0,21.9 511.1,22.0 518.9,27.3 520.1,29.2 521.1,32.0" fill="url(#pg24)"/>
<polygon points="550.4,35.0 550.1,38.0 549.1,40.8 547.5,43.4 545.4,45.5 542.8,47.1 540.0,48.1 537.0,48.4 534.0,48.1 531.2,47.1 528.6,45.5 526.5,43.4 524.9,40.8 523.9,38.0 523.6,35.0 523.9,32.0 524.9,29.2 526.0,27.5 534.9,21.8 537.0,21.6 540.0,21.9 542.8,22.9 545.4,24.5 547.5,26.6 549.1,29.2 550.1,32.0" fill="url(#pg5)"/>
<polygon points="365.0,63.0 364.7,66.0 363.7,68.8 362.1,71.4 360.0,73.5 357.4,75.1 354.6,76.1 351.6,76.4 348.6,76.1 347.8,75.8 342.6,72.8 341.1,71.4 339.5,68.8 338.5,66.0 338.2,63.0 338.5,60.0 339.5,57.2 341.1,54.6 343.2,52.5 345.8,50.9 348.6,49.9 351.6,49.6 354.6,49.9 357.4,50.9 360.0,52.5 362.1,54.6 363.7,57.2 364.7,60.0" fill="url(#pg5)"/>
<radialGradient id="pg41"><stop offset="0" stop-color="#623542"/><stop offset="0.55" stop-color="#663745"/><stop offset="1" stop-color="#794a58"/></radialGradient>
<polygon points="393.1,66.9 392.5,68.8 390.9,71.4 388.8,73.5 386.2,75.1 383.4,76.1 380.4,76.4 377.4,76.1 376.1,75.6 371.5,73.0 369.9,71.4 368.3,68.8 367.3,66.0 367.0,63.0 367.3,60.0 368.3,57.2 369.9,54.6 372.0,52.5 374.6,50.9 377.4,49.9 380.4,49.6 383.4,49.9 386.2,50.9 388.8,52.5 390.9,54.6 392.5,57.2 393.1,59.1" fill="url(#pg41)"/>
<polygon points="420.9,63.0 420.6,66.0 419.6,68.8 418.0,71.4 415.9,73.5 413.3,75.1 410.5,76.1 407.5,76.4 405.7,76.2 398.0,72.4 397.0,71.4 395.4,68.8 394.8,66.9 394.8,59.1 395.4,57.2 397.0,54.6 399.1,52.5 401.7,50.9 404.5,49.9 407.5,49.6 410.5,49.9 413.3,50.9 415.9,52.5 418.0,54.6 419.6,57.2 420.6,60.0" fill="url(#pg15)"/>
<polygon points="449.4,63.0 449.1,66.0 448.1,68.8 446.5,71.4 444.4,73.5 441.8,75.1 439.0,76.1 436.0,76.4 433.5,76.1 426.7,72.5 425.5,71.4 423.9,68.8 422.9,66.0 422.6,63.0 422.9,60.0 423.9,57.2 425.5,54.6 427.6,52.5 430.2,50.9 433.0,49.9 436.0,49.6 439.0,49.9 441.8,50.9 444.4,52.5 446.5,54.6 448.1,57.2 449.1,60.0" fill="url(#pg14)"/>
<polygon points="478.4,63.0 478.1,66.0 477.1,68.8 475.5,71.4 473.4,73.5 470.8,75.1 468.0,76.1 465.0,76.4 463.2,76.2 455.5,72.4 454.5,71.4 452.9,68.8 451.9,66.0 451.6,63.0 451.9,60.0 452.9,57.2 454.5,54.6 456.6,52.5 459.2,50.9 462.0,49.9 465.0,49.6 468.0,49.9 470.8,50.9 473.4,52.5 475.5,54.6 477.1,57.2 478.1,60.0" fill="url(#pg23)"/>
<polygon points="507.4,63.0 507.1,66.0 506.1,68.8 504.5,71.4 502.4,73.5 499.8,75.1 497.0,76.1 494.0,76.4 492.2,76.2 484.5,72.4 483.5,71.4 481.9,68.8 480.9,66.0 480.6,63.0 480.9,60.0 481.9,57.2 483.5,54.6 485.6,52.5 488.2,50.9 491.0,49.9 494.0,49.6 497.0,49.9 499.8,50.9 502.4,52.5 504.5,54.6 506.1,57.2 507.1,60.0" fill="url(#pg23)"/>
<polygon points="536.2,64.8 536.1,66.0 535.1,68.8 533.5,71.4 531.4,73.5 528.8,75.1 526.0,76.1 523.0,76.4 520.7,76.1 513.7,72.5 512.5,71.4 510.9,68.8 509.9,66.0 509.6,63.0 509.9,60.0 510.9,57.2 512.5,54.6 514.6,52.5 517.2,50.9 520.0,49.9 523.0,49.6 526.0,49.9 528.8,50.9 531.4,52.5 533.5,54.6 535.1,57.2 536.1,60.0 536.2,61.2" fill="url(#pg7)"/>
<polygon points="564.4,63.0 564.1,66.0 563.1,68.8 561.5,71.4 559.4,73.5 556.8,75.1 554.0,76.1 551.0,76.4 548.5,76.1 541.7,72.5 540.5,71.4 538.9,68.8 537.9,66.0 537.8,64.8 537.8,61.2 537.9,60.0 538.9,57.2 540.5,54.6 542.6,52.5 545.2,50.9 548.0,49.9 551.0,49.6 554.0,49.9 556.8,50.9 559.4,52.5 561.5,54.6 563.1,57.2 564.1,60.0" fill="url(#pg7)"/>
<polygon points="351.4,87.0 351.1,90.0 350.1,92.8 348.5,95.4 346.4,97.5 345.2,98.2 339.2,100.3 338.0,100.4 335.0,100.1 332.2,99.1 329.6,97.5 327.5,95.4 325.9,92.8 324.9,90.0 324.6,87.0 324.9,84.0 325.9,81.2 327.5,78.6 329.6,76.5 332.2,74.9 335.0,73.9 338.0,73.6 341.0,73.9 341.8,74.2 347.0,77.2 348.5,78.6 350.1,81.2 351.1,84.0" fill="url(#pg5)"/>
<polygon points="379.9,87.0 379.6,90.0 378.6,92.8 377.0,95.4 374.9,97.5 372.3,99.1 369.5,100.1 366.5,100.4 363.5,100.1 360.7,99.1 358.1,97.5 356.0,95.4 354.4,92.8 353.4,90.0 353.1,87.0 353.4,84.0 354.4,81.2 356.0,78.6 358.1,76.5 360.7,74.9 363.5,73.9 366.5,73.6 369.5,73.9 370.8,74.4 375.4,77.0 377.0,78.6 378.6,81.2 379.6,84.0" fill="url(#pg24)"/>
<polygon points="408.6,89.7 408.6,90.0 407.6,92.8 406.0,95.4 403.9,97.5 401.3,99.1 398.5,100.1 395.5,100.4 392.5,100.1 389.7,99.1 387.1,97.5 385.0,95.4 383.4,92.8 382.4,90.0 382.1,87.0 382.4,84.0 383.4,81.2 385.0,78.6 387.1,76.5 389.7,74.9 392.5,73.9 395.5,73.6 397.3,73.8 405.0,77.6 406.0,78.6 407.6,81.2 408.6,84.0 408.6,84.3" fill="url(#pg8)"/>
<polygon points="436.7,87.0 436.4,90.0 435.4,92.8 433.8,95.4 431.7,97.5 429.1,99.1 426.3,100.1 423.3,100.4 420.3,100.1 417.5,99.1 414.9,97.5 412.8,95.4 411.2,92.8 410.2,90.0 410.2,89.7 410.2,84.3 410.2,84.0 411.2,81.2 412.8,78.6 414.9,76.5 417.5,74.9 420.3,73.9 423.3,73.6 425.8,73.9 432.6,77.5 433.8,78.6 435.4,81.2 436.4,84.0" fill="url(#pg34)"/>
<radialGradient id="pg42"><stop offset="0" stop-color="#50222c"/><stop offset="0.55" stop-color="#53242e"/><stop offset="1" stop-color="#72444e"/></radialGradient>
<polygon points="466.4,87.0 466.1,90.0 465.1,92.8 463.5,95.4 461.4,97.5 458.8,99.1 456.0,100.1 453.0,100.4 450.0,100.1 447.2,99.1 444.6,97.5 442.5,95.4 440.9,92.8 439.9,90.0 439.6,87.0 439.9,84.0 440.9,81.2 442.5,78.6 444.6,76.5 447.2,74.9 450.0,73.9 453.0,73.6 454.8,73.8 462.5,77.6 463.5,78.6 465.1,81.2 466.1,84.0" fill="url(#pg42)"/>
<polygon points="495.4,87.0 495.1,90.0 494.1,92.8 492.5,95.4 490.4,97.5 487.8,99.1 485.0,100.1 482.0,100.4 479.0,100.1 476.2,99.1 473.6,97.5 471.5,95.4 469.9,92.8 468.9,90.0 468.6,87.0 468.9,84.0 469.9,81.2 471.5,78.6 473.6,76.5 476.2,74.9 479.0,73.9 482.0,73.6 483.8,73.8 491.5,77.6 492.5,78.6 494.1,81.2 495.1,84.0" fill="url(#pg11)"/>
<radialGradient id="pg43"><stop offset="0" stop-color="#55242f"/><stop offset="0.55" stop-color="#582631"/><stop offset="1" stop-color="#744550"/></radialGradient>
<polygon points="523.6,89.7 523.6,90.0 522.6,92.8 521.0,95.4 518.9,97.5 516.3,99.1 513.5,100.1 510.5,100.4 507.5,100.1 504.7,99.1 502.1,97.5 500.0,95.4 498.4,92.8 497.4,90.0 497.1,87.0 497.4,84.0 498.4,81.2 500.0,78.6 502.1,76.5 504.7,74.9 507.5,73.9 510.5,73.6 512.8,73.9 519.8,77.5 521.0,78.6 522.6,81.2 523.6,84.0 523.6,84.3" fill="url(#pg43)"/>
<polygon points="551.7,87.0 551.4,90.0 550.4,92.8 548.8,95.4 546.7,97.5 545.3,98.3 540.2,100.2 538.3,100.4 535.3,100.1 532.5,99.1 529.9,97.5 527.8,95.4 526.2,92.8 525.2,90.0 525.2,89.7 525.2,84.3 525.2,84.0 526.2,81.2 527.8,78.6 529.9,76.5 532.5,74.9 535.3,73.9 538.3,73.6 540.8,73.9 547.6,77.5 548.8,78.6 550.4,81.2 551.4,84.0" fill="url(#pg1)"/>
<polygon points="333.1,118.6 333.1,118.8 331.5,121.4 329.4,123.5 326.8,125.1 324.0,126.1 321.0,126.4 318.0,126.1 315.2,125.1 312.6,123.5 310.5,121.4 308.9,118.8 307.9,116.0 307.6,113.0 307.9,110.0 308.9,107.2 310.5,104.6 312.6,102.5 315.2,100.9 318.0,99.9 321.0,99.6 324.0,99.9 326.8,100.9 329.4,102.5 331.5,104.6 333.1,107.2 333.1,107.4" fill="url(#pg4)"/>
<polygon points="360.3,113.0 360.0,116.0 359.0,118.8 357.4,121.4 355.3,123.5 352.7,125.1 349.9,126.1 346.9,126.4 343.9,126.1 341.1,125.1 338.5,123.5 336.4,121.4 334.8,118.8 334.8,118.6 334.8,107.4 334.8,107.2 336.4,104.6 338.5,102.5 339.7,101.8 345.7,99.7 346.9,99.6 349.9,99.9 352.7,100.9 355.3,102.5 357.4,104.6 359.0,107.2 360.0,110.0" fill="url(#pg32)"/>
<polygon points="394.4,116.7 393.7,118.8 392.1,121.4 390.0,123.5 387.4,125.1 384.6,126.1 381.6,126.4 378.6,126.1 375.8,125.1 373.2,123.5 371.1,121.4 369.5,118.8 368.5,116.0 368.2,113.0 368.5,110.0 369.5,107.2 371.1,104.6 373.2,102.5 375.8,100.9 378.6,99.9 381.6,99.6 384.6,99.9 387.4,100.9 390.0,102.5 392.1,104.6 393.7,107.2 394.4,109.3" fill="url(#pg43)"/>
<radialGradient id="pg44"><stop offset="0" stop-color="#592531"/><stop offset="0.55" stop-color="#5c2733"/><stop offset="1" stop-color="#774551"/></radialGradient>
<polygon points="421.6,116.7 420.9,118.8 419.3,121.4 417.2,123.5 414.6,125.1 411.8,126.1 408.8,126.4 405.8,126.1 403.0,125.1 400.4,123.5 398.3,121.4 396.7,118.8 396.0,116.7 396.0,109.3 396.7,107.2 398.3,104.6 400.4,102.5 403.0,100.9 405.8,99.9 408.8,99.6 411.8,99.9 414.6,100.9 417.2,102.5 419.3,104.6 420.9,107.2 421.6,109.3" fill="url(#pg44)"/>
<polygon points="449.4,113.0 449.1,116.0 448.1,118.8 446.5,121.4 444.4,123.5 441.8,125.1 439.0,126.1 436.0,126.4 433.0,126.1 430.2,125.1 427.6,123.5 425.5,121.4 423.9,118.8 423.2,116.7 423.2,109.3 423.9,107.2 425.5,104.6 427.6,102.5 430.2,100.9 433.0,99.9 436.0,99.6 439.0,99.9 441.8,100.9 444.4,102.5 446.5,104.6 448.1,107.2 449.1,110.0" fill="url(#pg36)"/>
<polygon points="479.7,113.0 479.4,116.0 478.4,118.8 476.8,121.4 474.7,123.5 472.1,125.1 469.3,126.1 466.3,126.4 463.3,126.1 460.5,125.1 457.9,123.5 455.8,121.4 454.2,118.8 453.2,116.0 452.9,113.0 453.2,110.0 454.2,107.2 455.8,104.6 457.9,102.5 460.5,100.9 463.3,99.9 466.3,99.6 469.3,99.9 472.1,100.9 474.7,102.5 476.8,104.6 478.4,107.2 479.4,110.0" fill="url(#pg30)"/>
<polygon points="508.1,116.9 507.5,118.8 505.9,121.4 503.8,123.5 501.2,125.1 498.4,126.1 495.4,126.4 492.4,126.1 489.6,125.1 487.0,123.5 484.9,121.4 483.3,118.8 482.3,116.0 482.0,113.0 482.3,110.0 483.3,107.2 484.9,104.6 487.0,102.5 489.6,100.9 492.4,99.9 495.4,99.6 498.4,99.9 501.2,100.9 503.8,102.5 505.9,104.6 507.5,107.2 508.1,109.1" fill="url(#pg26)"/>
<polygon points="534.4,119.2 533.0,121.4 530.9,123.5 528.3,125.1 525.5,126.1 522.5,126.4 519.5,126.1 516.7,125.1 514.1,123.5 512.0,121.4 510.4,118.8 509.8,116.9 509.8,109.1 510.4,107.2 512.0,104.6 514.1,102.5 516.7,100.9 519.5,99.9 522.5,99.6 525.5,99.9 528.3,100.9 530.9,102.5 533.0,104.6 534.4,106.8" fill="url(#pg5)"/>
<polygon points="561.2,113.0 560.9,116.0 559.9,118.8 558.3,121.4 556.2,123.5 553.6,125.1 550.8,126.1 547.8,126.4 544.8,126.1 542.0,125.1 539.4,123.5 537.3,121.4 536.0,119.2 536.0,106.8 537.3,104.6 539.4,102.5 540.8,101.7 545.9,99.8 547.8,99.6 550.8,99.9 553.6,100.9 556.2,102.5 558.3,104.6 559.9,107.2 560.9,110.0" fill="url(#pg34)"/>
<polygon points="348.7,147.4 347.5,149.4 345.4,151.5 344.4,152.1 339.9,154.1 337.0,154.4 334.0,154.1 331.2,153.1 328.6,151.5 326.5,149.4 324.9,146.8 323.9,144.0 323.6,141.0 323.9,138.0 324.9,135.2 326.5,132.6 328.6,130.5 331.2,128.9 334.0,127.9 337.0,127.6 340.0,127.9 342.8,128.9 345.4,130.5 347.5,132.6 348.7,134.6" fill="url(#pg35)"/>
<polygon points="375.4,141.0 375.1,144.0 374.1,146.8 372.5,149.4 370.4,151.5 367.8,153.1 365.0,154.1 362.0,154.4 359.0,154.1 356.2,153.1 353.6,151.5 351.5,149.4 350.3,147.4 350.3,134.6 351.5,132.6 353.6,130.5 356.2,128.9 359.0,127.9 362.0,127.6 365.0,127.9 367.8,128.9 370.4,130.5 372.5,132.6 374.1,135.2 375.1,138.0" fill="url(#pg4)"/>
<polygon points="405.8,141.0 405.5,144.0 404.5,146.8 402.9,149.4 400.8,151.5 398.2,153.1 395.4,154.1 392.4,154.4 389.4,154.1 386.6,153.1 384.0,151.5 381.9,149.4 380.3,146.8 379.3,144.0 379.0,141.0 379.3,138.0 380.3,135.2 381.9,132.6 384.0,130.5 386.6,128.9 389.4,127.9 392.4,127.6 395.4,127.9 398.2,128.9 400.8,130.5 402.9,132.6 404.5,135.2 405.5,138.0" fill="url(#pg40)"/>
<polygon points="434.9,141.0 434.6,144.0 433.6,146.8 432.0,149.4 429.9,151.5 427.3,153.1 424.5,154.1 421.5,154.4 418.5,154.1 415.7,153.1 413.1,151.5 411.0,149.4 409.4,146.8 408.4,144.0 408.1,141.0 408.4,138.0 409.4,135.2 411.0,132.6 413.1,130.5 415.7,128.9 418.5,127.9 421.5,127.6 424.5,127.9 427.3,128.9 429.9,130.5 432.0,132.6 433.6,135.2 434.6,138.0" fill="url(#pg0)"/>
<radialGradient id="pg45"><stop offset="0" stop-color="#52222d"/><stop offset="0.55" stop-color="#55242f"/><stop offset="1" stop-color="#73444f"/></radialGradient>
<polygon points="463.6,143.7 463.6,144.0 462.6,146.8 461.0,149.4 458.9,151.5 456.3,153.1 453.5,154.1 450.5,154.4 447.5,154.1 444.7,153.1 442.1,151.5 440.0,149.4 438.4,146.8 437.4,144.0 437.1,141.0 437.4,138.0 438.4,135.2 440.0,132.6 442.1,130.5 444.7,128.9 447.5,127.9 450.5,127.6 453.5,127.9 456.3,128.9 458.9,130.5 461.0,132.6 462.6,135.2 463.6,138.0 463.6,138.3" fill="url(#pg45)"/>
<polygon points="491.7,141.0 491.4,144.0 490.4,146.8 488.8,149.4 486.7,151.5 484.1,153.1 481.3,154.1 478.3,154.4 475.3,154.1 472.5,153.1 469.9,151.5 467.8,149.4 466.2,146.8 465.2,144.0 465.2,143.7 465.2,138.3 465.2,138.0 466.2,135.2 467.8,132.6 469.9,130.5 472.5,128.9 475.3,127.9 478.3,127.6 481.3,127.9 484.1,128.9 486.7,130.5 488.8,132.6 490.4,135.2 491.4,138.0" fill="url(#pg8)"/>
<polygon points="520.8,141.0 520.5,144.0 519.5,146.8 517.9,149.4 515.8,151.5 513.2,153.1 510.4,154.1 507.4,154.4 504.4,154.1 501.6,153.1 499.0,151.5 496.9,149.4 495.3,146.8 494.3,144.0 494.0,141.0 494.3,138.0 495.3,135.2 496.9,132.6 499.0,130.5 501.6,128.9 504.4,127.9 507.4,127.6 510.4,127.9 513.2,128.9 515.8,130.5 517.9,132.6 519.5,135.2 520.5,138.0" fill="url(#pg14)"/>
<polygon points="549.4,141.0 549.1,144.0 548.1,146.8 546.5,149.4 544.4,151.5 544.1,151.6 536.8,154.3 536.0,154.4 533.0,154.1 530.2,153.1 527.6,151.5 525.5,149.4 523.9,146.8 522.9,144.0 522.6,141.0 522.9,138.0 523.9,135.2 525.5,132.6 527.6,130.5 530.2,128.9 533.0,127.9 536.0,127.6 539.0,127.9 541.8,128.9 544.4,130.5 546.5,132.6 548.1,135.2 549.1,138.0" fill="url(#pg15)"/>
<polygon points="333.8,170.2 333.1,172.3 331.5,174.9 329.4,177.0 326.8,178.6 324.0,179.6 321.0,179.9 318.0,179.6 315.2,178.6 312.6,177.0 310.5,174.9 308.9,172.3 307.9,169.5 307.6,166.5 307.9,163.5 308.9,160.7 310.5,158.1 312.6,156.0 315.2,154.4 318.0,153.4 321.0,153.1 324.0,153.4 326.8,154.4 329.4,156.0 331.5,158.1 333.1,160.7 333.8,162.8" fill="url(#pg8)"/>
<polygon points="361.6,166.5 361.3,169.5 360.3,172.3 358.7,174.9 356.6,177.0 354.0,178.6 351.2,179.6 349.1,179.8 340.1,177.1 339.8,177.0 337.7,174.9 336.1,172.3 335.4,170.2 335.4,162.8 336.1,160.7 337.7,158.1 339.8,156.0 340.8,155.4 345.3,153.4 348.2,153.1 351.2,153.4 354.0,154.4 356.6,156.0 358.7,158.1 360.3,160.7 361.3,163.5 361.6,166.5" fill="url(#pg8)"/>
<polygon points="390.0,166.5 389.7,169.5 388.7,172.3 387.1,174.9 385.0,177.0 382.4,178.6 379.6,179.6 376.6,179.9 374.2,179.6 368.9,177.4 368.2,177.0 366.1,174.9 364.5,172.3 363.5,169.5 363.2,166.5 363.5,163.5 364.5,160.7 366.1,158.1 368.2,156.0 370.8,154.4 373.6,153.4 376.6,153.1 379.6,153.4 382.4,154.4 385.0,156.0 387.1,158.1 388.7,160.7 389.7,163.5" fill="url(#pg25)"/>
<polygon points="419.7,166.5 419.4,169.5 418.4,172.3 416.8,174.9 414.7,177.0 412.1,178.6 409.3,179.6 406.3,179.9 403.3,179.6 400.5,178.6 397.9,177.0 395.8,174.9 394.2,172.3 393.2,169.5 392.9,166.5 393.2,163.5 394.2,160.7 395.8,158.1 397.9,156.0 400.5,154.4 403.3,153.4 406.3,153.1 409.3,153.4 412.1,154.4 414.7,156.0 416.8,158.1 418.4,160.7 419.4,163.5" fill="url(#pg45)"/>
<polygon points="448.7,166.5 448.4,169.5 447.4,172.3 445.8,174.9 443.7,177.0 441.1,178.6 438.3,179.6 435.3,179.9 432.3,179.6 429.5,178.6 426.9,177.0 424.8,174.9 423.2,172.3 422.2,169.5 421.9,166.5 422.2,163.5 423.2,160.7 424.8,158.1 426.9,156.0 429.5,154.4 432.3,153.4 435.3,153.1 438.3,153.4 441.1,154.4 443.7,156.0 445.8,158.1 447.4,160.7 448.4,163.5" fill="url(#pg43)"/>
<radialGradient id="pg46"><stop offset="0" stop-color="#653743"/><stop offset="0.55" stop-color="#693946"/><stop offset="1" stop-color="#7a4c58"/></radialGradient>
<polygon points="477.2,166.5 476.9,169.5 475.9,172.3 474.3,174.9 472.2,177.0 469.6,178.6 466.8,179.6 463.8,179.9 460.8,179.6 458.0,178.6 455.4,177.0 453.3,174.9 451.7,172.3 450.7,169.5 450.4,166.5 450.7,163.5 451.7,160.7 453.3,158.1 455.4,156.0 458.0,154.4 460.8,153.4 463.8,153.1 466.8,153.4 469.6,154.4 472.2,156.0 474.3,158.1 475.9,160.7 476.9,163.5 477.2,166.5" fill="url(#pg46)"/>
<radialGradient id="pg47"><stop offset="0" stop-color="#8a616c"/><stop offset="0.55" stop-color="#8f6570"/><stop offset="1" stop-color="#916772"/></radialGradient>
<polygon points="505.6,166.5 505.3,169.5 504.3,172.3 502.7,174.9 500.6,177.0 498.0,178.6 495.2,179.6 492.2,179.9 489.2,179.6 486.4,178.6 483.8,177.0 481.7,174.9 480.1,172.3 479.1,169.5 478.8,166.5 478.8,166.5 479.1,163.5 480.1,160.7 481.7,158.1 483.8,156.0 486.4,154.4 489.2,153.4 492.2,153.1 495.2,153.4 498.0,154.4 500.6,156.0 502.7,158.1 504.3,160.7 505.3,163.5" fill="url(#pg47)"/>
<polygon points="532.5,173.7 531.8,174.9 529.7,177.0 527.1,178.6 524.3,179.6 521.3,179.9 518.3,179.6 515.5,178.6 512.9,177.0 510.8,174.9 509.2,172.3 508.2,169.5 507.9,166.5 508.2,163.5 509.2,160.7 510.8,158.1 512.9,156.0 515.5,154.4 518.3,153.4 521.3,153.1 524.3,153.4 527.1,154.4 529.7,156.0 531.8,158.1 532.5,159.3" fill="url(#pg32)"/>
<polygon points="558.7,166.5 558.4,169.5 557.4,172.3 555.8,174.9 553.7,177.0 551.1,178.6 548.3,179.6 545.3,179.9 545.1,179.9 537.2,177.1 536.9,177.0 534.8,174.9 534.1,173.7 534.1,159.3 534.8,158.1 536.9,156.0 537.2,155.9 544.5,153.2 545.3,153.1 548.3,153.4 551.1,154.4 553.7,156.0 555.8,158.1 557.4,160.7 558.4,163.5" fill="url(#pg26)"/>
<polygon points="352.4,198.2 351.1,200.4 349.4,202.0 337.6,205.1 334.8,204.1 332.2,202.5 330.1,200.4 328.5,197.8 327.5,195.0 327.2,192.0 327.5,189.0 328.5,186.2 330.1,183.6 332.2,181.5 334.8,179.9 337.6,178.9 339.7,178.7 348.7,181.4 349.0,181.5 351.1,183.6 352.4,185.8" fill="url(#pg24)"/>
<polygon points="378.4,196.7 378.0,197.8 376.4,200.4 374.5,202.2 369.1,205.0 368.9,205.1 365.9,205.4 362.9,205.1 360.1,204.1 357.5,202.5 355.4,200.4 354.1,198.2 354.1,185.8 355.4,183.6 357.5,181.5 360.1,179.9 362.9,178.9 365.9,178.6 368.3,178.9 373.6,181.1 374.3,181.5 376.4,183.6 378.0,186.2 378.4,187.3" fill="url(#pg29)"/>
<polygon points="405.5,194.7 405.5,195.0 404.5,197.8 402.9,200.4 400.8,202.5 399.0,203.6 398.0,204.2 395.4,205.1 392.4,205.4 389.4,205.1 386.8,204.2 385.8,203.6 384.0,202.5 381.9,200.4 380.3,197.8 379.9,196.7 379.9,187.3 380.3,186.2 381.9,183.6 384.0,181.5 386.6,179.9 389.4,178.9 392.4,178.6 395.4,178.9 398.2,179.9 400.8,181.5 402.9,183.6 404.5,186.2 405.5,189.0 405.5,189.3" fill="url(#pg11)"/>
<radialGradient id="pg48"><stop offset="0" stop-color="#663744"/><stop offset="0.55" stop-color="#6a3947"/><stop offset="1" stop-color="#7b4c59"/></radialGradient>
<polygon points="433.6,192.0 433.3,195.0 432.3,197.8 430.7,200.4 428.6,202.5 426.8,203.6 425.8,204.2 423.2,205.1 420.2,205.4 417.2,205.1 414.6,204.2 413.6,203.6 411.8,202.5 409.7,200.4 408.1,197.8 407.1,195.0 407.1,194.7 407.1,189.3 407.1,189.0 408.1,186.2 409.7,183.6 411.8,181.5 414.4,179.9 417.2,178.9 420.2,178.6 423.2,178.9 426.0,179.9 428.6,181.5 430.7,183.6 432.3,186.2 433.3,189.0" fill="url(#pg48)"/>
<polygon points="463.3,192.0 463.0,195.0 462.0,197.8 460.4,200.4 458.3,202.4 454.3,204.6 452.9,205.1 449.9,205.4 446.9,205.1 444.1,204.1 441.5,202.5 439.4,200.4 437.8,197.8 436.8,195.0 436.5,192.0 436.8,189.0 437.8,186.2 439.4,183.6 441.5,181.5 444.1,179.9 446.9,178.9 449.9,178.6 452.9,178.9 455.7,179.9 458.3,181.5 460.4,183.6 462.0,186.2 463.0,189.0" fill="url(#pg11)"/>
<polygon points="491.4,194.7 491.4,195.0 490.4,197.8 488.8,200.4 486.7,202.5 484.9,203.6 483.9,204.2 481.3,205.1 478.3,205.4 475.3,205.1 472.5,204.1 469.9,202.5 467.8,200.4 466.2,197.8 465.2,195.0 464.9,192.0 464.9,192.0 465.2,189.0 466.2,186.2 467.8,183.6 469.9,181.5 472.5,179.9 475.3,178.9 478.3,178.6 481.3,178.9 484.1,179.9 486.7,181.5 488.8,183.6 490.4,186.2 491.4,189.0 491.4,189.3" fill="url(#pg14)"/>
<polygon points="519.5,192.0 519.2,195.0 518.2,197.8 516.6,200.4 514.5,202.5 512.7,203.6 511.7,204.2 509.1,205.1 506.1,205.4 503.1,205.1 500.5,204.2 499.5,203.6 497.7,202.5 495.6,200.4 494.0,197.8 493.0,195.0 493.0,194.7 493.0,189.3 493.0,189.0 494.0,186.2 495.6,183.6 497.7,181.5 500.3,179.9 503.1,178.9 506.1,178.6 509.1,178.9 511.9,179.9 514.5,181.5 516.6,183.6 518.2,186.2 519.2,189.0" fill="url(#pg11)"/>
<radialGradient id="pg49"><stop offset="0" stop-color="#53232e"/><stop offset="0.55" stop-color="#562530"/><stop offset="1" stop-color="#734450"/></radialGradient>
<polygon points="549.8,192.0 549.5,195.0 548.5,197.8 546.9,200.4 545.4,201.8 536.8,205.4 536.4,205.4 533.4,205.1 530.6,204.1 528.0,202.5 525.9,200.4 524.3,197.8 523.3,195.0 523.0,192.0 523.3,189.0 524.3,186.2 525.9,183.6 528.0,181.5 530.6,179.9 533.4,178.9 536.4,178.6 536.6,178.6 544.5,181.4 544.8,181.5 546.9,183.6 548.5,186.2 549.5,189.0" fill="url(#pg49)"/>
<polygon points="333.1,222.2 333.1,222.4 331.5,225.0 329.5,226.9 328.3,227.7 326.8,228.7 324.0,229.7 321.0,230.0 318.0,229.7 315.2,228.7 312.6,227.1 310.5,225.0 308.9,222.4 307.9,219.6 307.6,216.6 307.9,213.6 308.9,210.8 310.5,208.2 312.6,206.1 315.2,204.5 318.0,203.5 321.0,203.2 324.0,203.5 326.8,204.5 329.4,206.1 331.5,208.2 333.1,210.8 333.1,211.0" fill="url(#pg9)"/>
<polygon points="360.3,216.6 360.0,219.6 359.0,222.4 357.4,225.0 355.3,227.1 352.7,228.7 349.9,229.7 347.6,229.9 336.7,225.2 336.4,225.0 334.8,222.4 334.8,222.2 334.8,211.0 334.8,210.8 336.4,208.2 338.1,206.6 349.9,203.5 352.7,204.5 355.3,206.1 357.4,208.2 359.0,210.8 360.0,213.6" fill="url(#pg9)"/>
<polygon points="391.6,219.3 391.6,219.6 390.6,222.4 389.0,225.0 387.5,226.4 383.8,228.9 381.5,229.7 378.5,230.0 375.5,229.7 375.3,229.6 368.8,225.7 368.0,225.0 366.4,222.4 365.4,219.6 365.1,216.6 365.4,213.6 366.4,210.8 368.0,208.2 369.9,206.4 375.3,203.6 375.5,203.5 378.5,203.2 381.5,203.5 384.1,204.4 385.1,205.0 386.9,206.1 389.0,208.2 390.6,210.8 391.6,213.6 391.6,213.9" fill="url(#pg19)"/>
<polygon points="419.4,219.3 419.4,219.6 418.4,222.4 416.8,225.0 415.3,226.4 411.6,228.9 409.3,229.7 406.3,230.0 404.5,229.8 396.2,225.4 395.8,225.0 394.2,222.4 393.2,219.6 393.2,219.3 393.2,213.9 393.2,213.6 394.2,210.8 395.8,208.2 397.9,206.1 399.7,205.0 400.7,204.4 403.3,203.5 406.3,203.2 409.3,203.5 411.9,204.4 412.9,205.0 414.7,206.1 416.8,208.2 418.4,210.8 419.4,213.6 419.4,213.9" fill="url(#pg19)"/>
<polygon points="447.5,216.6 447.2,219.6 446.2,222.4 444.6,225.0 442.5,227.1 439.9,228.7 437.1,229.7 434.1,230.0 432.3,229.8 424.0,225.4 423.6,225.0 422.0,222.4 421.0,219.6 421.0,219.3 421.0,213.9 421.0,213.6 422.0,210.8 423.6,208.2 425.7,206.1 427.5,205.0 428.5,204.4 431.1,203.5 434.1,203.2 437.1,203.5 439.9,204.5 442.5,206.1 444.6,208.2 446.2,210.8 447.2,213.6" fill="url(#pg10)"/>
<polygon points="476.5,216.6 476.2,219.6 475.2,222.4 473.6,225.0 472.1,226.4 468.4,228.9 466.1,229.7 463.1,230.0 461.3,229.8 453.0,225.4 452.6,225.0 451.0,222.4 450.0,219.6 449.7,216.6 450.0,213.6 451.0,210.8 452.6,208.2 454.7,206.2 458.7,204.0 460.1,203.5 463.1,203.2 466.1,203.5 468.9,204.5 471.5,206.1 473.6,208.2 475.2,210.8 476.2,213.6" fill="url(#pg39)"/>
<polygon points="505.3,219.3 505.3,219.6 504.3,222.4 502.7,225.0 501.2,226.4 497.5,228.9 495.2,229.7 492.2,230.0 489.2,229.7 489.0,229.6 482.5,225.7 481.7,225.0 480.1,222.4 479.1,219.6 478.8,216.6 479.1,213.6 480.1,210.8 481.7,208.2 483.8,206.1 485.6,205.0 486.6,204.4 489.2,203.5 492.2,203.2 495.2,203.5 497.8,204.4 498.8,205.0 500.6,206.1 502.7,208.2 504.3,210.8 505.3,213.6 505.3,213.9" fill="url(#pg15)"/>
<polygon points="532.5,221.3 532.1,222.4 530.5,225.0 528.4,227.1 525.8,228.7 523.0,229.7 520.0,230.0 518.2,229.8 509.9,225.4 509.5,225.0 507.9,222.4 506.9,219.6 506.9,219.3 506.9,213.9 506.9,213.6 507.9,210.8 509.5,208.2 511.6,206.1 513.4,205.0 514.4,204.4 517.0,203.5 520.0,203.2 523.0,203.5 525.8,204.5 528.4,206.1 530.5,208.2 532.1,210.8 532.5,211.9" fill="url(#pg23)"/>
<polygon points="559.9,216.6 559.6,219.6 558.6,222.4 557.0,225.0 554.9,227.1 552.3,228.7 549.5,229.7 546.9,230.0 536.2,225.2 536.0,225.0 534.4,222.4 534.0,221.3 534.0,211.9 534.4,210.8 536.0,208.2 537.5,206.8 546.1,203.2 546.5,203.2 549.5,203.5 552.3,204.5 554.9,206.1 557.0,208.2 558.6,210.8 559.6,213.6" fill="url(#pg2)"/>
<polygon points="349.9,242.7 349.9,243.0 348.9,245.8 347.3,248.4 345.2,250.5 342.6,252.1 339.8,253.1 336.8,253.4 333.8,253.1 331.0,252.1 328.4,250.5 326.3,248.4 324.7,245.8 323.7,243.0 323.4,240.0 323.7,237.0 324.7,234.2 326.3,231.6 328.3,229.7 329.5,228.9 331.0,227.9 333.8,226.9 336.1,226.7 347.0,231.4 347.3,231.6 348.9,234.2 349.9,237.0 349.9,237.3" fill="url(#pg8)"/>
<polygon points="378.0,240.0 377.7,243.0 376.7,245.8 375.1,248.4 373.0,250.5 370.4,252.1 367.6,253.1 364.6,253.4 361.6,253.1 358.8,252.1 356.2,250.5 354.1,248.4 352.5,245.8 351.5,243.0 351.5,242.7 351.5,237.3 351.5,237.0 352.5,234.2 354.1,231.6 356.2,229.5 358.8,227.9 361.6,226.9 364.6,226.6 367.6,226.9 367.8,227.0 374.3,230.9 375.1,231.6 376.7,234.2 377.7,237.0" fill="url(#pg7)"/>
<polygon points="406.8,242.7 406.8,243.0 405.8,245.8 404.2,248.4 402.1,250.5 399.5,252.1 396.7,253.1 393.7,253.4 390.7,253.1 387.9,252.1 385.3,250.5 383.2,248.4 381.6,245.8 380.6,243.0 380.3,240.0 380.6,237.0 381.6,234.2 383.2,231.6 384.7,230.2 388.4,227.7 390.7,226.9 393.7,226.6 395.5,226.8 403.8,231.2 404.2,231.6 405.8,234.2 406.8,237.0 406.8,237.3" fill="url(#pg2)"/>
<radialGradient id="pg50"><stop offset="0" stop-color="#582531"/><stop offset="0.55" stop-color="#5b2733"/><stop offset="1" stop-color="#764551"/></radialGradient>
<polygon points="434.9,240.0 434.6,243.0 433.6,245.8 432.0,248.4 429.9,250.5 427.3,252.1 424.5,253.1 421.5,253.4 418.5,253.1 415.7,252.1 413.1,250.5 411.0,248.4 409.4,245.8 408.4,243.0 408.4,242.7 408.4,237.3 408.4,237.0 409.4,234.2 411.0,231.6 412.5,230.2 416.2,227.7 418.5,226.9 421.5,226.6 423.3,226.8 431.6,231.2 432.0,231.6 433.6,234.2 434.6,237.0" fill="url(#pg50)"/>
<polygon points="463.6,242.7 463.6,243.0 462.6,245.8 461.0,248.4 458.9,250.5 456.3,252.1 453.5,253.1 450.5,253.4 447.5,253.1 444.7,252.1 442.1,250.5 440.0,248.4 438.4,245.8 437.4,243.0 437.1,240.0 437.4,237.0 438.4,234.2 440.0,231.6 442.1,229.5 444.7,227.9 447.5,226.9 450.5,226.6 452.3,226.8 460.6,231.2 461.0,231.6 462.6,234.2 463.6,237.0 463.6,237.3" fill="url(#pg40)"/>
<radialGradient id="pg51"><stop offset="0" stop-color="#693946"/><stop offset="0.55" stop-color="#6d3b49"/><stop offset="1" stop-color="#7d4d5a"/></radialGradient>
<polygon points="491.7,240.0 491.4,243.0 490.4,245.8 488.8,248.4 486.7,250.5 484.1,252.1 481.3,253.1 478.3,253.4 475.3,253.1 472.5,252.1 469.9,250.5 467.8,248.4 466.2,245.8 465.2,243.0 465.2,242.7 465.2,237.3 465.2,237.0 466.2,234.2 467.8,231.6 469.3,230.2 473.0,227.7 475.3,226.9 478.3,226.6 481.3,226.9 481.5,227.0 488.0,230.9 488.8,231.6 490.4,234.2 491.4,237.0" fill="url(#pg51)"/>
<polygon points="520.8,240.0 520.5,243.0 519.5,245.8 517.9,248.4 515.8,250.5 513.2,252.1 510.4,253.1 507.4,253.4 504.4,253.1 501.6,252.1 499.0,250.5 496.9,248.4 495.3,245.8 494.3,243.0 494.0,240.0 494.3,237.0 495.3,234.2 496.9,231.6 498.4,230.2 502.1,227.7 504.4,226.9 507.4,226.6 509.2,226.8 517.5,231.2 517.9,231.6 519.5,234.2 520.5,237.0" fill="url(#pg23)"/>
<polygon points="549.4,240.0 549.1,243.0 548.1,245.8 546.5,248.4 544.4,250.5 541.8,252.1 539.0,253.1 536.0,253.4 533.0,253.1 530.2,252.1 527.6,250.5 525.5,248.4 523.9,245.8 522.9,243.0 522.6,240.0 522.9,237.0 523.9,234.2 525.5,231.6 527.6,229.5 530.2,227.9 533.0,226.9 535.6,226.6 546.3,231.4 546.5,231.6 548.1,234.2 549.1,237.0" fill="url(#pg19)"/>
</g>
</g>
</g>
<clipPath id="clipt3"><rect x="560.0" y="18.0" width="219.0" height="219.0"/></clipPath>
<g clip-path="url(#clipt3)">
<g filter="url(#grain)">
<rect x="560.0" y="18.0" width="219.0" height="219.0" fill="#e9c4cc"/>
<g filter="url(#soft)">
<polygon points="548.5,12.4 548.4,13.4 547.5,16.0 546.0,18.4 544.0,20.4 542.6,21.3 541.4,21.9 539.0,22.8 536.2,23.1 533.4,22.8 530.8,21.9 528.4,20.4 526.4,18.4 524.9,16.0 524.0,13.4 523.7,10.6 524.0,7.8 524.9,5.2 526.4,2.8 528.4,0.8 530.8,-0.7 533.4,-1.6 536.2,-1.9 539.0,-1.6 541.6,-0.7 544.0,0.8 546.0,2.8 547.5,5.2 548.4,7.8 548.5,8.8" fill="url(#pg8)"/>
<polygon points="574.5,12.4 574.4,13.4 573.5,16.0 572.0,18.4 570.0,20.4 568.6,21.3 567.4,21.9 565.0,22.8 562.2,23.1 559.4,22.8 557.0,21.9 555.8,21.3 554.4,20.4 552.4,18.4 550.9,16.0 550.0,13.4 549.9,12.4 549.9,8.8 550.0,7.8 550.9,5.2 552.4,2.8 554.4,0.8 556.8,-0.7 559.4,-1.6 562.2,-1.9 565.0,-1.6 567.6,-0.7 570.0,0.8 572.0,2.8 573.5,5.2 574.4,7.8 574.5,8.8" fill="url(#pg5)"/>
<polygon points="600.5,12.4 600.4,13.4 599.5,16.0 598.0,18.4 596.0,20.4 594.6,21.3 593.4,21.9 591.0,22.8 588.2,23.1 585.4,22.8 583.0,21.9 581.8,21.3 580.4,20.4 578.4,18.4 576.9,16.0 576.0,13.4 575.9,12.4 575.9,8.8 576.0,7.8 576.9,5.2 578.4,2.8 580.4,0.8 582.8,-0.7 585.4,-1.6 588.2,-1.9 591.0,-1.6 593.6,-0.7 596.0,0.8 598.0,2.8 599.5,5.2 600.4,7.8 600.5,8.8" fill="url(#pg8)"/>
<radialGradient id="pg52"><stop offset="0" stop-color="#996a77"/><stop offset="0.55" stop-color="#9e6e7b"/><stop offset="1" stop-color="#a1707d"/></radialGradient>
<polygon points="626.5,12.4 626.4,13.4 625.5,16.0 624.0,18.4 622.0,20.4 620.6,21.3 619.4,21.9 617.0,22.8 614.2,23.1 611.4,22.8 609.0,21.9 607.8,21.3 606.4,20.4 604.4,18.4 602.9,16.0 602.0,13.4 601.9,12.4 601.9,8.8 602.0,7.8 602.9,5.2 604.4,2.8 606.4,0.8 608.8,-0.7 611.4,-1.6 614.2,-1.9 617.0,-1.6 619.6,-0.7 622.0,0.8 624.0,2.8 625.5,5.2 626.4,7.8 626.5,8.8" fill="url(#pg52)"/>
<polygon points="652.5,12.4 652.4,13.4 651.5,16.0 650.0,18.4 648.0,20.4 646.6,21.3 645.4,21.9 643.0,22.8 640.2,23.1 637.4,22.8 635.0,21.9 633.8,21.3 632.4,20.4 630.4,18.4 628.9,16.0 628.0,13.4 627.9,12.4 627.9,8.8 628.0,7.8 628.9,5.2 630.4,2.8 632.4,0.8 634.8,-0.7 637.4,-1.6 640.2,-1.9 643.0,-1.6 645.6,-0.7 648.0,0.8 650.0,2.8 651.5,5.2 652.4,7.8 652.5,8.8" fill="url(#pg13)"/>
<polygon points="678.5,12.4 678.4,13.4 677.5,16.0 676.0,18.4 674.0,20.4 672.6,21.3 671.4,21.9 669.0,22.8 666.2,23.1 663.4,22.8 661.0,21.9 659.8,21.3 658.4,20.4 656.4,18.4 654.9,16.0 654.0,13.4 653.9,12.4 653.9,8.8 654.0,7.8 654.9,5.2 656.4,2.8 658.4,0.8 660.8,-0.7 663.4,-1.6 666.2,-1.9 669.0,-1.6 671.6,-0.7 674.0,0.8 676.0,2.8 677.5,5.2 678.4,7.8 678.5,8.8" fill="url(#pg13)"/>
<polygon points="704.5,12.4 704.4,13.4 703.5,16.0 702.0,18.4 700.0,20.4 698.6,21.3 697.4,21.9 695.0,22.8 692.2,23.1 689.4,22.8 687.0,21.9 685.8,21.3 684.4,20.4 682.4,18.4 680.9,16.0 680.0,13.4 679.9,12.4 679.9,8.8 680.0,7.8 680.9,5.2 682.4,2.8 684.4,0.8 686.8,-0.7 689.4,-1.6 692.2,-1.9 695.0,-1.6 697.6,-0.7 700.0,0.8 702.0,2.8 703.5,5.2 704.4,7.8 704.5,8.8" fill="url(#pg11)"/>
<polygon points="730.5,12.4 730.4,13.4 729.5,16.0 728.0,18.4 726.0,20.4 724.6,21.3 723.4,21.9 721.0,22.8 718.2,23.1 715.4,22.8 713.0,21.9 711.8,21.3 710.4,20.4 708.4,18.4 706.9,16.0 706.0,13.4 705.9,12.4 705.9,8.8 706.0,7.8 706.9,5.2 708.4,2.8 710.4,0.8 712.8,-0.7 715.4,-1.6 718.2,-1.9 721.0,-1.6 723.6,-0.7 726.0,0.8 728.0,2.8 729.5,5.2 730.4,7.8 730.5,8.8" fill="url(#pg25)"/>
<polygon points="756.5,12.4 756.4,13.4 755.5,16.0 754.0,18.4 752.0,20.4 750.6,21.3 749.4,21.9 747.0,22.8 744.2,23.1 741.4,22.8 739.0,21.9 737.8,21.3 736.4,20.4 734.4,18.4 732.9,16.0 732.0,13.4 731.9,12.4 731.9,8.8 732.0,7.8 732.9,5.2 734.4,2.8 736.4,0.8 738.8,-0.7 741.4,-1.6 744.2,-1.9 747.0,-1.6 749.6,-0.7 752.0,0.8 754.0,2.8 755.5,5.2 756.4,7.8 756.5,8.8" fill="url(#pg19)"/>
<polygon points="782.5,12.4 782.4,13.4 781.5,16.0 780.0,18.4 778.0,20.4 776.6,21.3 775.4,21.9 773.0,22.8 770.2,23.1 767.4,22.8 765.0,21.9 763.8,21.3 762.4,20.4 760.4,18.4 758.9,16.0 758.0,13.4 757.9,12.4 757.9,8.8 758.0,7.8 758.9,5.2 760.4,2.8 762.4,0.8 764.8,-0.7 767.4,-1.6 770.2,-1.9 773.0,-1.6 775.6,-0.7 778.0,0.8 780.0,2.8 781.5,5.2 782.4,7.8 782.5,8.8" fill="url(#pg1)"/>
<polygon points="808.7,10.6 808.4,13.4 807.5,16.0 806.0,18.4 804.0,20.4 801.6,21.9 799.0,22.8 796.2,23.1 793.4,22.8 791.0,21.9 789.8,21.3 788.4,20.4 786.4,18.4 784.9,16.0 784.0,13.4 783.9,12.4 783.9,8.8 784.0,7.8 784.9,5.2 786.4,2.8 788.4,0.8 790.8,-0.7 793.4,-1.6 796.2,-1.9 799.0,-1.6 801.6,-0.7 804.0,0.8 806.0,2.8 807.5,5.2 808.4,7.8" fill="url(#pg1)"/>
<polygon points="561.5,35.2 561.4,36.2 560.5,38.8 559.0,41.2 557.0,43.2 555.6,44.1 554.4,44.7 552.0,45.6 549.2,45.9 546.4,45.6 544.0,44.7 542.8,44.1 541.4,43.2 539.4,41.2 537.9,38.8 537.0,36.2 536.7,33.4 537.0,30.6 537.9,28.0 539.4,25.6 541.4,23.6 542.8,22.7 544.0,22.1 546.4,21.2 549.2,20.9 552.0,21.2 554.4,22.1 555.6,22.7 557.0,23.6 559.0,25.6 560.5,28.0 561.4,30.6 561.5,31.6" fill="url(#pg39)"/>
<polygon points="587.5,35.2 587.4,36.2 586.5,38.8 585.0,41.2 583.0,43.2 581.6,44.1 580.4,44.7 578.0,45.6 575.2,45.9 572.4,45.6 570.0,44.7 568.8,44.1 567.4,43.2 565.4,41.2 563.9,38.8 563.0,36.2 562.9,35.2 562.9,31.6 563.0,30.6 563.9,28.0 565.4,25.6 567.4,23.6 568.8,22.7 570.0,22.1 572.4,21.2 575.2,20.9 578.0,21.2 580.4,22.1 581.6,22.7 583.0,23.6 585.0,25.6 586.5,28.0 587.4,30.6 587.5,31.6" fill="url(#pg8)"/>
<polygon points="613.5,35.2 613.4,36.2 612.5,38.8 611.0,41.2 609.0,43.2 607.6,44.1 606.4,44.7 604.0,45.6 601.2,45.9 598.4,45.6 596.0,44.7 594.8,44.1 593.4,43.2 591.4,41.2 589.9,38.8 589.0,36.2 588.9,35.2 588.9,31.6 589.0,30.6 589.9,28.0 591.4,25.6 593.4,23.6 594.8,22.7 596.0,22.1 598.4,21.2 601.2,20.9 604.0,21.2 606.4,22.1 607.6,22.7 609.0,23.6 611.0,25.6 612.5,28.0 613.4,30.6 613.5,31.6" fill="url(#pg1)"/>
<polygon points="639.5,35.2 639.4,36.2 638.5,38.8 637.0,41.2 635.0,43.2 633.6,44.1 632.4,44.7 630.0,45.6 627.2,45.9 624.4,45.6 622.0,44.7 620.8,44.1 619.4,43.2 617.4,41.2 615.9,38.8 615.0,36.2 614.9,35.2 614.9,31.6 615.0,30.6 615.9,28.0 617.4,25.6 619.4,23.6 620.8,22.7 622.0,22.1 624.4,21.2 627.2,20.9 630.0,21.2 632.4,22.1 633.6,22.7 635.0,23.6 637.0,25.6 638.5,28.0 639.4,30.6 639.5,31.6" fill="url(#pg8)"/>
<polygon points="665.5,35.2 665.4,36.2 664.5,38.8 663.0,41.2 661.0,43.2 659.6,44.1 658.4,44.7 656.0,45.6 653.2,45.9 650.4,45.6 648.0,44.7 646.8,44.1 645.4,43.2 643.4,41.2 641.9,38.8 641.0,36.2 640.9,35.2 640.9,31.6 641.0,30.6 641.9,28.0 643.4,25.6 645.4,23.6 646.8,22.7 648.0,22.1 650.4,21.2 653.2,20.9 656.0,21.2 658.4,22.1 659.6,22.7 661.0,23.6 663.0,25.6 664.5,28.0 665.4,30.6 665.5,31.6" fill="url(#pg14)"/>
<polygon points="691.5,35.2 691.4,36.2 690.5,38.8 689.0,41.2 687.0,43.2 685.6,44.1 684.4,44.7 682.0,45.6 679.2,45.9 676.4,45.6 674.0,44.7 672.8,44.1 671.4,43.2 669.4,41.2 667.9,38.8 667.0,36.2 666.9,35.2 666.9,31.6 667.0,30.6 667.9,28.0 669.4,25.6 671.4,23.6 672.8,22.7 674.0,22.1 676.4,21.2 679.2,20.9 682.0,21.2 684.4,22.1 685.6,22.7 687.0,23.6 689.0,25.6 690.5,28.0 691.4,30.6 691.5,31.6" fill="url(#pg2)"/>
<polygon points="717.5,35.2 717.4,36.2 716.5,38.8 715.0,41.2 713.0,43.2 711.6,44.1 710.4,44.7 708.0,45.6 705.2,45.9 702.4,45.6 700.0,44.7 698.8,44.1 697.4,43.2 695.4,41.2 693.9,38.8 693.0,36.2 692.9,35.2 692.9,31.6 693.0,30.6 693.9,28.0 695.4,25.6 697.4,23.6 698.8,22.7 700.0,22.1 702.4,21.2 705.2,20.9 708.0,21.2 710.4,22.1 711.6,22.7 713.0,23.6 715.0,25.6 716.5,28.0 717.4,30.6 717.5,31.6" fill="url(#pg5)"/>
<polygon points="743.5,35.2 743.4,36.2 742.5,38.8 741.0,41.2 739.0,43.2 737.6,44.1 736.4,44.7 734.0,45.6 731.2,45.9 728.4,45.6 726.0,44.7 724.8,44.1 723.4,43.2 721.4,41.2 719.9,38.8 719.0,36.2 718.9,35.2 718.9,31.6 719.0,30.6 719.9,28.0 721.4,25.6 723.4,23.6 724.8,22.7 726.0,22.1 728.4,21.2 731.2,20.9 734.0,21.2 736.4,22.1 737.6,22.7 739.0,23.6 741.0,25.6 742.5,28.0 743.4,30.6 743.5,31.6" fill="url(#pg4)"/>
<polygon points="769.5,35.2 769.4,36.2 768.5,38.8 767.0,41.2 765.0,43.2 763.6,44.1 762.4,44.7 760.0,45.6 757.2,45.9 754.4,45.6 752.0,44.7 750.8,44.1 749.4,43.2 747.4,41.2 745.9,38.8 745.0,36.2 744.9,35.2 744.9,31.6 745.0,30.6 745.9,28.0 747.4,25.6 749.4,23.6 750.8,22.7 752.0,22.1 754.4,21.2 757.2,20.9 760.0,21.2 762.4,22.1 763.6,22.7 765.0,23.6 767.0,25.6 768.5,28.0 769.4,30.6 769.5,31.6" fill="url(#pg1)"/>
<polygon points="795.7,33.4 795.4,36.2 794.5,38.8 793.0,41.2 791.0,43.2 789.6,44.1 788.4,44.7 786.0,45.6 783.2,45.9 780.4,45.6 778.0,44.7 776.8,44.1 775.4,43.2 773.4,41.2 771.9,38.8 771.0,36.2 770.9,35.2 770.9,31.6 771.0,30.6 771.9,28.0 773.4,25.6 775.4,23.6 776.8,22.7 778.0,22.1 780.4,21.2 783.2,20.9 786.0,21.2 788.4,22.1 789.6,22.7 791.0,23.6 793.0,25.6 794.5,28.0 795.4,30.6" fill="url(#pg32)"/>
<polygon points="548.5,58.0 548.4,59.0 547.5,61.6 546.0,64.0 544.0,66.0 542.6,66.9 541.4,67.5 539.0,68.4 536.2,68.7 533.4,68.4 530.8,67.5 528.4,66.0 526.4,64.0 524.9,61.6 524.0,59.0 523.7,56.2 524.0,53.4 524.9,50.8 526.4,48.4 528.4,46.4 530.8,44.9 533.4,44.0 536.2,43.7 539.0,44.0 541.4,44.9 542.6,45.5 544.0,46.4 546.0,48.4 547.5,50.8 548.4,53.4 548.5,54.4" fill="url(#pg52)"/>
<radialGradient id="pg53"><stop offset="0" stop-color="#683846"/><stop offset="0.55" stop-color="#6c3a49"/><stop offset="1" stop-color="#7c4c5a"/></radialGradient>
<polygon points="574.5,58.0 574.4,59.0 573.5,61.6 572.0,64.0 570.0,66.0 568.6,66.9 567.4,67.5 565.0,68.4 562.2,68.7 559.4,68.4 557.0,67.5 555.8,66.9 554.4,66.0 552.4,64.0 550.9,61.6 550.0,59.0 549.9,58.0 549.9,54.4 550.0,53.4 550.9,50.8 552.4,48.4 554.4,46.4 555.8,45.5 557.0,44.9 559.4,44.0 562.2,43.7 565.0,44.0 567.4,44.9 568.6,45.5 570.0,46.4 572.0,48.4 573.5,50.8 574.4,53.4 574.5,54.4" fill="url(#pg53)"/>
<radialGradient id="pg54"><stop offset="0" stop-color="#673845"/><stop offset="0.55" stop-color="#6b3a48"/><stop offset="1" stop-color="#7c4c59"/></radialGradient>
<polygon points="600.5,58.0 600.4,59.0 599.5,61.6 598.0,64.0 596.0,66.0 594.6,66.9 593.4,67.5 591.0,68.4 588.2,68.7 585.4,68.4 583.0,67.5 581.8,66.9 580.4,66.0 578.4,64.0 576.9,61.6 576.0,59.0 575.9,58.0 575.9,54.4 576.0,53.4 576.9,50.8 578.4,48.4 580.4,46.4 581.8,45.5 583.0,44.9 585.4,44.0 588.2,43.7 591.0,44.0 593.4,44.9 594.6,45.5 596.0,46.4 598.0,48.4 599.5,50.8 600.4,53.4 600.5,54.4" fill="url(#pg54)"/>
<polygon points="626.5,58.0 626.4,59.0 625.5,61.6 624.0,64.0 622.0,66.0 620.6,66.9 619.4,67.5 617.0,68.4 614.2,68.7 611.4,68.4 609.0,67.5 607.8,66.9 606.4,66.0 604.4,64.0 602.9,61.6 602.0,59.0 601.9,58.0 601.9,54.4 602.0,53.4 602.9,50.8 604.4,48.4 606.4,46.4 607.8,45.5 609.0,44.9 611.4,44.0 614.2,43.7 617.0,44.0 619.4,44.9 620.6,45.5 622.0,46.4 624.0,48.4 625.5,50.8 626.4,53.4 626.5,54.4" fill="url(#pg50)"/>
<polygon points="652.5,58.0 652.4,59.0 651.5,61.6 650.0,64.0 648.0,66.0 646.6,66.9 645.4,67.5 643.0,68.4 640.2,68.7 637.4,68.4 635.0,67.5 633.8,66.9 632.4,66.0 630.4,64.0 628.9,61.6 628.0,59.0 627.9,58.0 627.9,54.4 628.0,53.4 628.9,50.8 630.4,48.4 632.4,46.4 633.8,45.5 635.0,44.9 637.4,44.0 640.2,43.7 643.0,44.0 645.4,44.9 646.6,45.5 648.0,46.4 650.0,48.4 651.5,50.8 652.4,53.4 652.5,54.4" fill="url(#pg23)"/>
<polygon points="678.5,58.0 678.4,59.0 677.5,61.6 676.0,64.0 674.0,66.0 672.6,66.9 671.4,67.5 669.0,68.4 666.2,68.7 663.4,68.4 661.0,67.5 659.8,66.9 658.4,66.0 656.4,64.0 654.9,61.6 654.0,59.0 653.9,58.0 653.9,54.4 654.0,53.4 654.9,50.8 656.4,48.4 658.4,46.4 659.8,45.5 661.0,44.9 663.4,44.0 666.2,43.7 669.0,44.0 671.4,44.9 672.6,45.5 674.0,46.4 676.0,48.4 677.5,50.8 678.4,53.4 678.5,54.4" fill="url(#pg15)"/>
<polygon points="704.5,58.0 704.4,59.0 703.5,61.6 702.0,64.0 700.0,66.0 698.6,66.9 697.4,67.5 695.0,68.4 692.2,68.7 689.4,68.4 687.0,67.5 685.8,66.9 684.4,66.0 682.4,64.0 680.9,61.6 680.0,59.0 679.9,58.0 679.9,54.4 680.0,53.4 680.9,50.8 682.4,48.4 684.4,46.4 685.8,45.5 687.0,44.9 689.4,44.0 692.2,43.7 695.0,44.0 697.4,44.9 698.6,45.5 700.0,46.4 702.0,48.4 703.5,50.8 704.4,53.4 704.5,54.4" fill="url(#pg8)"/>
<polygon points="730.5,58.0 730.4,59.0 729.5,61.6 728.0,64.0 726.0,66.0 724.6,66.9 723.4,67.5 721.0,68.4 718.2,68.7 715.4,68.4 713.0,67.5 711.8,66.9 710.4,66.0 708.4,64.0 706.9,61.6 706.0,59.0 705.9,58.0 705.9,54.4 706.0,53.4 706.9,50.8 708.4,48.4 710.4,46.4 711.8,45.5 713.0,44.9 715.4,44.0 718.2,43.7 721.0,44.0 723.4,44.9 724.6,45.5 726.0,46.4 728.0,48.4 729.5,50.8 730.4,53.4 730.5,54.4" fill="url(#pg19)"/>
<polygon points="756.5,58.0 756.4,59.0 755.5,61.6 754.0,64.0 752.0,66.0 750.6,66.9 749.4,67.5 747.0,68.4 744.2,68.7 741.4,68.4 739.0,67.5 737.8,66.9 736.4,66.0 734.4,64.0 732.9,61.6 732.0,59.0 731.9,58.0 731.9,54.4 732.0,53.4 732.9,50.8 734.4,48.4 736.4,46.4 737.8,45.5 739.0,44.9 741.4,44.0 744.2,43.7 747.0,44.0 749.4,44.9 750.6,45.5 752.0,46.4 754.0,48.4 755.5,50.8 756.4,53.4 756.5,54.4" fill="url(#pg24)"/>
<polygon points="782.5,58.0 782.4,59.0 781.5,61.6 780.0,64.0 778.0,66.0 776.6,66.9 775.4,67.5 773.0,68.4 770.2,68.7 767.4,68.4 765.0,67.5 763.8,66.9 762.4,66.0 760.4,64.0 758.9,61.6 758.0,59.0 757.9,58.0 757.9,54.4 758.0,53.4 758.9,50.8 760.4,48.4 762.4,46.4 763.8,45.5 765.0,44.9 767.4,44.0 770.2,43.7 773.0,44.0 775.4,44.9 776.6,45.5 778.0,46.4 780.0,48.4 781.5,50.8 782.4,53.4 782.5,54.4" fill="url(#pg24)"/>
<radialGradient id="pg55"><stop offset="0" stop-color="#8e636e"/><stop offset="0.55" stop-color="#936772"/><stop offset="1" stop-color="#956974"/></radialGradient>
<polygon points="808.7,56.2 808.4,59.0 807.5,61.6 806.0,64.0 804.0,66.0 801.6,67.5 799.0,68.4 796.2,68.7 793.4,68.4 791.0,67.5 789.8,66.9 788.4,66.0 786.4,64.0 784.9,61.6 784.0,59.0 783.9,58.0 783.9,54.4 784.0,53.4 784.9,50.8 786.4,48.4 788.4,46.4 789.8,45.5 791.0,44.9 793.4,44.0 796.2,43.7 799.0,44.0 801.6,44.9 804.0,46.4 806.0,48.4 807.5,50.8 808.4,53.4" fill="url(#pg55)"/>
<polygon points="561.5,80.8 561.4,81.8 560.5,84.4 559.0,86.8 557.0,88.8 555.6,89.7 554.4,90.3 552.0,91.2 549.2,91.5 546.4,91.2 544.0,90.3 542.8,89.7 541.4,88.8 539.4,86.8 537.9,84.4 537.0,81.8 536.7,79.0 537.0,76.2 537.9,73.6 539.4,71.2 541.4,69.2 542.8,68.3 544.0,67.7 546.4,66.8 549.2,66.5 552.0,66.8 554.4,67.7 555.6,68.3 557.0,69.2 559.0,71.2 560.5,73.6 561.4,76.2 561.5,77.2" fill="url(#pg22)"/>
<radialGradient id="pg56"><stop offset="0" stop-color="#784c58"/><stop offset="0.55" stop-color="#7c4f5b"/><stop offset="1" stop-color="#845763"/></radialGradient>
<polygon points="587.5,80.8 587.4,81.8 586.5,84.4 585.0,86.8 583.0,88.8 581.6,89.7 580.4,90.3 578.0,91.2 575.2,91.5 572.4,91.2 570.0,90.3 568.8,89.7 567.4,88.8 565.4,86.8 563.9,84.4 563.0,81.8 562.9,80.8 562.9,77.2 563.0,76.2 563.9,73.6 565.4,71.2 567.4,69.2 568.8,68.3 570.0,67.7 572.4,66.8 575.2,66.5 578.0,66.8 580.4,67.7 581.6,68.3 583.0,69.2 585.0,71.2 586.5,73.6 587.4,76.2 587.5,77.2" fill="url(#pg56)"/>
<polygon points="613.5,80.8 613.4,81.8 612.5,84.4 611.0,86.8 609.0,88.8 607.6,89.7 606.4,90.3 604.0,91.2 601.2,91.5 598.4,91.2 596.0,90.3 594.8,89.7 593.4,88.8 591.4,86.8 589.9,84.4 589.0,81.8 588.9,80.8 588.9,77.2 589.0,76.2 589.9,73.6 591.4,71.2 593.4,69.2 594.8,68.3 596.0,67.7 598.4,66.8 601.2,66.5 604.0,66.8 606.4,67.7 607.6,68.3 609.0,69.2 611.0,71.2 612.5,73.6 613.4,76.2 613.5,77.2" fill="url(#pg6)"/>
<polygon points="639.5,80.8 639.4,81.8 638.5,84.4 637.0,86.8 635.0,88.8 633.6,89.7 632.4,90.3 630.0,91.2 627.2,91.5 624.4,91.2 622.0,90.3 620.8,89.7 619.4,88.8 617.4,86.8 615.9,84.4 615.0,81.8 614.9,80.8 614.9,77.2 615.0,76.2 615.9,73.6 617.4,71.2 619.4,69.2 620.8,68.3 622.0,67.7 624.4,66.8 627.2,66.5 630.0,66.8 632.4,67.7 633.6,68.3 635.0,69.2 637.0,71.2 638.5,73.6 639.4,76.2 639.5,77.2" fill="url(#pg1)"/>
<polygon points="665.5,80.8 665.4,81.8 664.5,84.4 663.0,86.8 661.0,88.8 659.6,89.7 658.4,90.3 656.0,91.2 653.2,91.5 650.4,91.2 648.0,90.3 646.8,89.7 645.4,88.8 643.4,86.8 641.9,84.4 641.0,81.8 640.9,80.8 640.9,77.2 641.0,76.2 641.9,73.6 643.4,71.2 645.4,69.2 646.8,68.3 648.0,67.7 650.4,66.8 653.2,66.5 656.0,66.8 658.4,67.7 659.6,68.3 661.0,69.2 663.0,71.2 664.5,73.6 665.4,76.2 665.5,77.2" fill="url(#pg39)"/>
<polygon points="691.5,80.8 691.4,81.8 690.5,84.4 689.0,86.8 687.0,88.8 685.6,89.7 684.4,90.3 682.0,91.2 679.2,91.5 676.4,91.2 674.0,90.3 672.8,89.7 671.4,88.8 669.4,86.8 667.9,84.4 667.0,81.8 666.9,80.8 666.9,77.2 667.0,76.2 667.9,73.6 669.4,71.2 671.4,69.2 672.8,68.3 674.0,67.7 676.4,66.8 679.2,66.5 682.0,66.8 684.4,67.7 685.6,68.3 687.0,69.2 689.0,71.2 690.5,73.6 691.4,76.2 691.5,77.2" fill="url(#pg5)"/>
<radialGradient id="pg57"><stop offset="0" stop-color="#7b4d5a"/><stop offset="0.55" stop-color="#7f505d"/><stop offset="1" stop-color="#865864"/></radialGradient>
<polygon points="717.5,80.8 717.4,81.8 716.5,84.4 715.0,86.8 713.0,88.8 711.6,89.7 710.4,90.3 708.0,91.2 705.2,91.5 702.4,91.2 700.0,90.3 698.8,89.7 697.4,88.8 695.4,86.8 693.9,84.4 693.0,81.8 692.9,80.8 692.9,77.2 693.0,76.2 693.9,73.6 695.4,71.2 697.4,69.2 698.8,68.3 700.0,67.7 702.4,66.8 705.2,66.5 708.0,66.8 710.4,67.7 711.6,68.3 713.0,69.2 715.0,71.2 716.5,73.6 717.4,76.2 717.5,77.2" fill="url(#pg57)"/>
<polygon points="743.5,80.8 743.4,81.8 742.5,84.4 741.0,86.8 739.0,88.8 737.6,89.7 736.4,90.3 734.0,91.2 731.2,91.5 728.4,91.2 726.0,90.3 724.8,89.7 723.4,88.8 721.4,86.8 719.9,84.4 719.0,81.8 718.9,80.8 718.9,77.2 719.0,76.2 719.9,73.6 721.4,71.2 723.4,69.2 724.8,68.3 726.0,67.7 728.4,66.8 731.2,66.5 734.0,66.8 736.4,67.7 737.6,68.3 739.0,69.2 741.0,71.2 742.5,73.6 743.4,76.2 743.5,77.2" fill="url(#pg12)"/>
<radialGradient id="pg58"><stop offset="0" stop-color="#6b3a47"/><stop offset="0.55" stop-color="#6f3c4a"/><stop offset="1" stop-color="#7e4d5b"/></radialGradient>
<polygon points="769.5,80.8 769.4,81.8 768.5,84.4 767.0,86.8 765.0,88.8 763.6,89.7 762.4,90.3 760.0,91.2 757.2,91.5 754.4,91.2 752.0,90.3 750.8,89.7 749.4,88.8 747.4,86.8 745.9,84.4 745.0,81.8 744.9,80.8 744.9,77.2 745.0,76.2 745.9,73.6 747.4,71.2 749.4,69.2 750.8,68.3 752.0,67.7 754.4,66.8 757.2,66.5 760.0,66.8 762.4,67.7 763.6,68.3 765.0,69.2 767.0,71.2 768.5,73.6 769.4,76.2 769.5,77.2" fill="url(#pg58)"/>
<polygon points="795.7,79.0 795.4,81.8 794.5,84.4 793.0,86.8 791.0,88.8 789.6,89.7 788.4,90.3 786.0,91.2 783.2,91.5 780.4,91.2 778.0,90.3 776.8,89.7 775.4,88.8 773.4,86.8 771.9,84.4 771.0,81.8 770.9,80.8 770.9,77.2 771.0,76.2 771.9,73.6 773.4,71.2 775.4,69.2 776.8,68.3 778.0,67.7 780.4,66.8 783.2,66.5 786.0,66.8 788.4,67.7 789.6,68.3 791.0,69.2 793.0,71.2 794.5,73.6 795.4,76.2" fill="url(#pg6)"/>
<polygon points="548.5,103.6 548.4,104.6 547.5,107.2 546.0,109.6 544.0,111.6 542.6,112.5 541.4,113.1 539.0,114.0 536.2,114.3 533.4,114.0 530.8,113.1 528.4,111.6 526.4,109.6 524.9,107.2 524.0,104.6 523.7,101.8 524.0,99.0 524.9,96.4 526.4,94.0 528.4,92.0 530.8,90.5 533.4,89.6 536.2,89.3 539.0,89.6 541.4,90.5 542.6,91.1 544.0,92.0 546.0,94.0 547.5,96.4 548.4,99.0 548.5,100.0" fill="url(#pg39)"/>
<polygon points="574.5,103.6 574.4,104.6 573.5,107.2 572.0,109.6 570.0,111.6 568.6,112.5 567.4,113.1 565.0,114.0 562.2,114.3 559.4,114.0 557.0,113.1 555.8,112.5 554.4,111.6 552.4,109.6 550.9,107.2 550.0,104.6 549.9,103.6 549.9,100.0 550.0,99.0 550.9,96.4 552.4,94.0 554.4,92.0 555.8,91.1 557.0,90.5 559.4,89.6 562.2,89.3 565.0,89.6 567.4,90.5 568.6,91.1 570.0,92.0 572.0,94.0 573.5,96.4 574.4,99.0 574.5,100.0" fill="url(#pg4)"/>
<polygon points="600.5,103.6 600.4,104.6 599.5,107.2 598.0,109.6 596.0,111.6 594.6,112.5 593.4,113.1 591.0,114.0 588.2,114.3 585.4,114.0 583.0,113.1 581.8,112.5 580.4,111.6 578.4,109.6 576.9,107.2 576.0,104.6 575.9,103.6 575.9,100.0 576.0,99.0 576.9,96.4 578.4,94.0 580.4,92.0 581.8,91.1 583.0,90.5 585.4,89.6 588.2,89.3 591.0,89.6 593.4,90.5 594.6,91.1 596.0,92.0 598.0,94.0 599.5,96.4 600.4,99.0 600.5,100.0" fill="url(#pg4)"/>
<polygon points="626.5,103.6 626.4,104.6 625.5,107.2 624.0,109.6 622.0,111.6 620.6,112.5 619.4,113.1 617.0,114.0 614.2,114.3 611.4,114.0 609.0,113.1 607.8,112.5 606.4,111.6 604.4,109.6 602.9,107.2 602.0,104.6 601.9,103.6 601.9,100.0 602.0,99.0 602.9,96.4 604.4,94.0 606.4,92.0 607.8,91.1 609.0,90.5 611.4,89.6 614.2,89.3 617.0,89.6 619.4,90.5 620.6,91.1 622.0,92.0 624.0,94.0 625.5,96.4 626.4,99.0 626.5,100.0" fill="url(#pg4)"/>
<radialGradient id="pg59"><stop offset="0" stop-color="#754a56"/><stop offset="0.55" stop-color="#794d59"/><stop offset="1" stop-color="#825662"/></radialGradient>
<polygon points="652.5,103.6 652.4,104.6 651.5,107.2 650.0,109.6 648.0,111.6 646.6,112.5 645.4,113.1 643.0,114.0 640.2,114.3 637.4,114.0 635.0,113.1 633.8,112.5 632.4,111.6 630.4,109.6 628.9,107.2 628.0,104.6 627.9,103.6 627.9,100.0 628.0,99.0 628.9,96.4 630.4,94.0 632.4,92.0 633.8,91.1 635.0,90.5 637.4,89.6 640.2,89.3 643.0,89.6 645.4,90.5 646.6,91.1 648.0,92.0 650.0,94.0 651.5,96.4 652.4,99.0 652.5,100.0" fill="url(#pg59)"/>
<polygon points="678.5,103.6 678.4,104.6 677.5,107.2 676.0,109.6 674.0,111.6 672.6,112.5 671.4,113.1 669.0,114.0 666.2,114.3 663.4,114.0 661.0,113.1 659.8,112.5 658.4,111.6 656.4,109.6 654.9,107.2 654.0,104.6 653.9,103.6 653.9,100.0 654.0,99.0 654.9,96.4 656.4,94.0 658.4,92.0 659.8,91.1 661.0,90.5 663.4,89.6 666.2,89.3 669.0,89.6 671.4,90.5 672.6,91.1 674.0,92.0 676.0,94.0 677.5,96.4 678.4,99.0 678.5,100.0" fill="url(#pg23)"/>
<radialGradient id="pg60"><stop offset="0" stop-color="#774b58"/><stop offset="0.55" stop-color="#7b4e5b"/><stop offset="1" stop-color="#835663"/></radialGradient>
<polygon points="704.5,103.6 704.4,104.6 703.5,107.2 702.0,109.6 700.0,111.6 698.6,112.5 697.4,113.1 695.0,114.0 692.2,114.3 689.4,114.0 687.0,113.1 685.8,112.5 684.4,111.6 682.4,109.6 680.9,107.2 680.0,104.6 679.9,103.6 679.9,100.0 680.0,99.0 680.9,96.4 682.4,94.0 684.4,92.0 685.8,91.1 687.0,90.5 689.4,89.6 692.2,89.3 695.0,89.6 697.4,90.5 698.6,91.1 700.0,92.0 702.0,94.0 703.5,96.4 704.4,99.0 704.5,100.0" fill="url(#pg60)"/>
<radialGradient id="pg61"><stop offset="0" stop-color="#613541"/><stop offset="0.55" stop-color="#653744"/><stop offset="1" stop-color="#784a57"/></radialGradient>
<polygon points="730.5,103.6 730.4,104.6 729.5,107.2 728.0,109.6 726.0,111.6 724.6,112.5 723.4,113.1 721.0,114.0 718.2,114.3 715.4,114.0 713.0,113.1 711.8,112.5 710.4,111.6 708.4,109.6 706.9,107.2 706.0,104.6 705.9,103.6 705.9,100.0 706.0,99.0 706.9,96.4 708.4,94.0 710.4,92.0 711.8,91.1 713.0,90.5 715.4,89.6 718.2,89.3 721.0,89.6 723.4,90.5 724.6,91.1 726.0,92.0 728.0,94.0 729.5,96.4 730.4,99.0 730.5,100.0" fill="url(#pg61)"/>
<polygon points="756.5,103.6 756.4,104.6 755.5,107.2 754.0,109.6 752.0,111.6 750.6,112.5 749.4,113.1 747.0,114.0 744.2,114.3 741.4,114.0 739.0,113.1 737.8,112.5 736.4,111.6 734.4,109.6 732.9,107.2 732.0,104.6 731.9,103.6 731.9,100.0 732.0,99.0 732.9,96.4 734.4,94.0 736.4,92.0 737.8,91.1 739.0,90.5 741.4,89.6 744.2,89.3 747.0,89.6 749.4,90.5 750.6,91.1 752.0,92.0 754.0,94.0 755.5,96.4 756.4,99.0 756.5,100.0" fill="url(#pg8)"/>
<polygon points="782.5,103.6 782.4,104.6 781.5,107.2 780.0,109.6 778.0,111.6 776.6,112.5 775.4,113.1 773.0,114.0 770.2,114.3 767.4,114.0 765.0,113.1 763.8,112.5 762.4,111.6 760.4,109.6 758.9,107.2 758.0,104.6 757.9,103.6 757.9,100.0 758.0,99.0 758.9,96.4 760.4,94.0 762.4,92.0 763.8,91.1 765.0,90.5 767.4,89.6 770.2,89.3 773.0,89.6 775.4,90.5 776.6,91.1 778.0,92.0 780.0,94.0 781.5,96.4 782.4,99.0 782.5,100.0" fill="url(#pg19)"/>
<polygon points="808.7,101.8 808.4,104.6 807.5,107.2 806.0,109.6 804.0,111.6 801.6,113.1 799.0,114.0 796.2,114.3 793.4,114.0 791.0,113.1 789.8,112.5 788.4,111.6 786.4,109.6 784.9,107.2 784.0,104.6 783.9,103.6 783.9,100.0 784.0,99.0 784.9,96.4 786.4,94.0 788.4,92.0 789.8,91.1 791.0,90.5 793.4,89.6 796.2,89.3 799.0,89.6 801.6,90.5 804.0,92.0 806.0,94.0 807.5,96.4 808.4,99.0" fill="url(#pg23)"/>
<polygon points="561.5,126.4 561.4,127.4 560.5,130.0 559.0,132.4 557.0,134.4 555.6,135.3 554.4,135.9 552.0,136.8 549.2,137.1 546.4,136.8 544.0,135.9 542.8,135.3 541.4,134.4 539.4,132.4 537.9,130.0 537.0,127.4 536.7,124.6 537.0,121.8 537.9,119.2 539.4,116.8 541.4,114.8 542.8,113.9 544.0,113.3 546.4,112.4 549.2,112.1 552.0,112.4 554.4,113.3 555.6,113.9 557.0,114.8 559.0,116.8 560.5,119.2 561.4,121.8 561.5,122.8" fill="url(#pg25)"/>
<polygon points="587.5,126.4 587.4,127.4 586.5,130.0 585.0,132.4 583.0,134.4 581.6,135.3 580.4,135.9 578.0,136.8 575.2,137.1 572.4,136.8 570.0,135.9 568.8,135.3 567.4,134.4 565.4,132.4 563.9,130.0 563.0,127.4 562.9,126.4 562.9,122.8 563.0,121.8 563.9,119.2 565.4,116.8 567.4,114.8 568.8,113.9 570.0,113.3 572.4,112.4 575.2,112.1 578.0,112.4 580.4,113.3 581.6,113.9 583.0,114.8 585.0,116.8 586.5,119.2 587.4,121.8 587.5,122.8" fill="url(#pg4)"/>
<polygon points="613.5,126.4 613.4,127.4 612.5,130.0 611.0,132.4 609.0,134.4 607.6,135.3 606.4,135.9 604.0,136.8 601.2,137.1 598.4,136.8 596.0,135.9 594.8,135.3 593.4,134.4 591.4,132.4 589.9,130.0 589.0,127.4 588.9,126.4 588.9,122.8 589.0,121.8 589.9,119.2 591.4,116.8 593.4,114.8 594.8,113.9 596.0,113.3 598.4,112.4 601.2,112.1 604.0,112.4 606.4,113.3 607.6,113.9 609.0,114.8 611.0,116.8 612.5,119.2 613.4,121.8 613.5,122.8" fill="url(#pg0)"/>
<polygon points="639.5,126.4 639.4,127.4 638.5,130.0 637.0,132.4 635.0,134.4 633.6,135.3 632.4,135.9 630.0,136.8 627.2,137.1 624.4,136.8 622.0,135.9 620.8,135.3 619.4,134.4 617.4,132.4 615.9,130.0 615.0,127.4 614.9,126.4 614.9,122.8 615.0,121.8 615.9,119.2 617.4,116.8 619.4,114.8 620.8,113.9 622.0,113.3 624.4,112.4 627.2,112.1 630.0,112.4 632.4,113.3 633.6,113.9 635.0,114.8 637.0,116.8 638.5,119.2 639.4,121.8 639.5,122.8" fill="url(#pg4)"/>
<polygon points="665.5,126.4 665.4,127.4 664.5,130.0 663.0,132.4 661.0,134.4 659.6,135.3 658.4,135.9 656.0,136.8 653.2,137.1 650.4,136.8 648.0,135.9 646.8,135.3 645.4,134.4 643.4,132.4 641.9,130.0 641.0,127.4 640.9,126.4 640.9,122.8 641.0,121.8 641.9,119.2 643.4,116.8 645.4,114.8 646.8,113.9 648.0,113.3 650.4,112.4 653.2,112.1 656.0,112.4 658.4,113.3 659.6,113.9 661.0,114.8 663.0,116.8 664.5,119.2 665.4,121.8 665.5,122.8" fill="url(#pg4)"/>
<polygon points="691.5,126.4 691.4,127.4 690.5,130.0 689.0,132.4 687.0,134.4 685.6,135.3 684.4,135.9 682.0,136.8 679.2,137.1 676.4,136.8 674.0,135.9 672.8,135.3 671.4,134.4 669.4,132.4 667.9,130.0 667.0,127.4 666.9,126.4 666.9,122.8 667.0,121.8 667.9,119.2 669.4,116.8 671.4,114.8 672.8,113.9 674.0,113.3 676.4,112.4 679.2,112.1 682.0,112.4 684.4,113.3 685.6,113.9 687.0,114.8 689.0,116.8 690.5,119.2 691.4,121.8 691.5,122.8" fill="url(#pg35)"/>
<polygon points="717.5,126.4 717.4,127.4 716.5,130.0 715.0,132.4 713.0,134.4 711.6,135.3 710.4,135.9 708.0,136.8 705.2,137.1 702.4,136.8 700.0,135.9 698.8,135.3 697.4,134.4 695.4,132.4 693.9,130.0 693.0,127.4 692.9,126.4 692.9,122.8 693.0,121.8 693.9,119.2 695.4,116.8 697.4,114.8 698.8,113.9 700.0,113.3 702.4,112.4 705.2,112.1 708.0,112.4 710.4,113.3 711.6,113.9 713.0,114.8 715.0,116.8 716.5,119.2 717.4,121.8 717.5,122.8" fill="url(#pg17)"/>
<polygon points="743.5,126.4 743.4,127.4 742.5,130.0 741.0,132.4 739.0,134.4 737.6,135.3 736.4,135.9 734.0,136.8 731.2,137.1 728.4,136.8 726.0,135.9 724.8,135.3 723.4,134.4 721.4,132.4 719.9,130.0 719.0,127.4 718.9,126.4 718.9,122.8 719.0,121.8 719.9,119.2 721.4,116.8 723.4,114.8 724.8,113.9 726.0,113.3 728.4,112.4 731.2,112.1 734.0,112.4 736.4,113.3 737.6,113.9 739.0,114.8 741.0,116.8 742.5,119.2 743.4,121.8 743.5,122.8" fill="url(#pg4)"/>
<polygon points="769.5,126.4 769.4,127.4 768.5,130.0 767.0,132.4 765.0,134.4 763.6,135.3 762.4,135.9 760.0,136.8 757.2,137.1 754.4,136.8 752.0,135.9 750.8,135.3 749.4,134.4 747.4,132.4 745.9,130.0 745.0,127.4 744.9,126.4 744.9,122.8 745.0,121.8 745.9,119.2 747.4,116.8 749.4,114.8 750.8,113.9 752.0,113.3 754.4,112.4 757.2,112.1 760.0,112.4 762.4,113.3 763.6,113.9 765.0,114.8 767.0,116.8 768.5,119.2 769.4,121.8 769.5,122.8" fill="url(#pg24)"/>
<polygon points="795.7,124.6 795.4,127.4 794.5,130.0 793.0,132.4 791.0,134.4 789.6,135.3 788.4,135.9 786.0,136.8 783.2,137.1 780.4,136.8 778.0,135.9 776.8,135.3 775.4,134.4 773.4,132.4 771.9,130.0 771.0,127.4 770.9,126.4 770.9,122.8 771.0,121.8 771.9,119.2 773.4,116.8 775.4,114.8 776.8,113.9 778.0,113.3 780.4,112.4 783.2,112.1 786.0,112.4 788.4,113.3 789.6,113.9 791.0,114.8 793.0,116.8 794.5,119.2 795.4,121.8" fill="url(#pg24)"/>
<polygon points="548.5,149.2 548.4,150.2 547.5,152.8 546.0,155.2 544.0,157.2 542.6,158.1 541.4,158.7 539.0,159.6 536.2,159.9 533.4,159.6 530.8,158.7 528.4,157.2 526.4,155.2 524.9,152.8 524.0,150.2 523.7,147.4 524.0,144.6 524.9,142.0 526.4,139.6 528.4,137.6 530.8,136.1 533.4,135.2 536.2,134.9 539.0,135.2 541.4,136.1 542.6,136.7 544.0,137.6 546.0,139.6 547.5,142.0 548.4,144.6 548.5,145.6" fill="url(#pg40)"/>
<polygon points="574.5,149.2 574.4,150.2 573.5,152.8 572.0,155.2 570.0,157.2 568.6,158.1 567.4,158.7 565.0,159.6 562.2,159.9 559.4,159.6 557.0,158.7 555.8,158.1 554.4,157.2 552.4,155.2 550.9,152.8 550.0,150.2 549.9,149.2 549.9,145.6 550.0,144.6 550.9,142.0 552.4,139.6 554.4,137.6 555.8,136.7 557.0,136.1 559.4,135.2 562.2,134.9 565.0,135.2 567.4,136.1 568.6,136.7 570.0,137.6 572.0,139.6 573.5,142.0 574.4,144.6 574.5,145.6" fill="url(#pg4)"/>
<polygon points="600.5,149.2 600.4,150.2 599.5,152.8 598.0,155.2 596.0,157.2 594.6,158.1 593.4,158.7 591.0,159.6 588.2,159.9 585.4,159.6 583.0,158.7 581.8,158.1 580.4,157.2 578.4,155.2 576.9,152.8 576.0,150.2 575.9,149.2 575.9,145.6 576.0,144.6 576.9,142.0 578.4,139.6 580.4,137.6 581.8,136.7 583.0,136.1 585.4,135.2 588.2,134.9 591.0,135.2 593.4,136.1 594.6,136.7 596.0,137.6 598.0,139.6 599.5,142.0 600.4,144.6 600.5,145.6" fill="url(#pg4)"/>
<polygon points="626.5,149.2 626.4,150.2 625.5,152.8 624.0,155.2 622.0,157.2 620.6,158.1 619.4,158.7 617.0,159.6 614.2,159.9 611.4,159.6 609.0,158.7 607.8,158.1 606.4,157.2 604.4,155.2 602.9,152.8 602.0,150.2 601.9,149.2 601.9,145.6 602.0,144.6 602.9,142.0 604.4,139.6 606.4,137.6 607.8,136.7 609.0,136.1 611.4,135.2 614.2,134.9 617.0,135.2 619.4,136.1 620.6,136.7 622.0,137.6 624.0,139.6 625.5,142.0 626.4,144.6 626.5,145.6" fill="url(#pg28)"/>
<polygon points="652.5,149.2 652.4,150.2 651.5,152.8 650.0,155.2 648.0,157.2 646.6,158.1 645.4,158.7 643.0,159.6 640.2,159.9 637.4,159.6 635.0,158.7 633.8,158.1 632.4,157.2 630.4,155.2 628.9,152.8 628.0,150.2 627.9,149.2 627.9,145.6 628.0,144.6 628.9,142.0 630.4,139.6 632.4,137.6 633.8,136.7 635.0,136.1 637.4,135.2 640.2,134.9 643.0,135.2 645.4,136.1 646.6,136.7 648.0,137.6 650.0,139.6 651.5,142.0 652.4,144.6 652.5,145.6" fill="url(#pg39)"/>
<polygon points="678.5,149.2 678.4,150.2 677.5,152.8 676.0,155.2 674.0,157.2 672.6,158.1 671.4,158.7 669.0,159.6 666.2,159.9 663.4,159.6 661.0,158.7 659.8,158.1 658.4,157.2 656.4,155.2 654.9,152.8 654.0,150.2 653.9,149.2 653.9,145.6 654.0,144.6 654.9,142.0 656.4,139.6 658.4,137.6 659.8,136.7 661.0,136.1 663.4,135.2 666.2,134.9 669.0,135.2 671.4,136.1 672.6,136.7 674.0,137.6 676.0,139.6 677.5,142.0 678.4,144.6 678.5,145.6" fill="url(#pg23)"/>
<polygon points="704.5,149.2 704.4,150.2 703.5,152.8 702.0,155.2 700.0,157.2 698.6,158.1 697.4,158.7 695.0,159.6 692.2,159.9 689.4,159.6 687.0,158.7 685.8,158.1 684.4,157.2 682.4,155.2 680.9,152.8 680.0,150.2 679.9,149.2 679.9,145.6 680.0,144.6 680.9,142.0 682.4,139.6 684.4,137.6 685.8,136.7 687.0,136.1 689.4,135.2 692.2,134.9 695.0,135.2 697.4,136.1 698.6,136.7 700.0,137.6 702.0,139.6 703.5,142.0 704.4,144.6 704.5,145.6" fill="url(#pg10)"/>
<polygon points="730.5,149.2 730.4,150.2 729.5,152.8 728.0,155.2 726.0,157.2 724.6,158.1 723.4,158.7 721.0,159.6 718.2,159.9 715.4,159.6 713.0,158.7 711.8,158.1 710.4,157.2 708.4,155.2 706.9,152.8 706.0,150.2 705.9,149.2 705.9,145.6 706.0,144.6 706.9,142.0 708.4,139.6 710.4,137.6 711.8,136.7 713.0,136.1 715.4,135.2 718.2,134.9 721.0,135.2 723.4,136.1 724.6,136.7 726.0,137.6 728.0,139.6 729.5,142.0 730.4,144.6 730.5,145.6" fill="url(#pg54)"/>
<polygon points="756.5,149.2 756.4,150.2 755.5,152.8 754.0,155.2 752.0,157.2 750.6,158.1 749.4,158.7 747.0,159.6 744.2,159.9 741.4,159.6 739.0,158.7 737.8,158.1 736.4,157.2 734.4,155.2 732.9,152.8 732.0,150.2 731.9,149.2 731.9,145.6 732.0,144.6 732.9,142.0 734.4,139.6 736.4,137.6 737.8,136.7 739.0,136.1 741.4,135.2 744.2,134.9 747.0,135.2 749.4,136.1 750.6,136.7 752.0,137.6 754.0,139.6 755.5,142.0 756.4,144.6 756.5,145.6" fill="url(#pg4)"/>
<polygon points="782.5,149.2 782.4,150.2 781.5,152.8 780.0,155.2 778.0,157.2 776.6,158.1 775.4,158.7 773.0,159.6 770.2,159.9 767.4,159.6 765.0,158.7 763.8,158.1 762.4,157.2 760.4,155.2 758.9,152.8 758.0,150.2 757.9,149.2 757.9,145.6 758.0,144.6 758.9,142.0 760.4,139.6 762.4,137.6 763.8,136.7 765.0,136.1 767.4,135.2 770.2,134.9 773.0,135.2 775.4,136.1 776.6,136.7 778.0,137.6 780.0,139.6 781.5,142.0 782.4,144.6 782.5,145.6" fill="url(#pg30)"/>
<polygon points="808.7,147.4 808.4,150.2 807.5,152.8 806.0,155.2 804.0,157.2 801.6,158.7 799.0,159.6 796.2,159.9 793.4,159.6 791.0,158.7 789.8,158.1 788.4,157.2 786.4,155.2 784.9,152.8 784.0,150.2 783.9,149.2 783.9,145.6 784.0,144.6 784.9,142.0 786.4,139.6 788.4,137.6 789.8,136.7 791.0,136.1 793.4,135.2 796.2,134.9 799.0,135.2 801.6,136.1 804.0,137.6 806.0,139.6 807.5,142.0 808.4,144.6" fill="url(#pg23)"/>
<polygon points="561.5,172.0 561.4,173.0 560.5,175.6 559.0,178.0 557.0,180.0 555.6,180.9 554.4,181.5 552.0,182.4 549.2,182.7 546.4,182.4 544.0,181.5 542.8,180.9 541.4,180.0 539.4,178.0 537.9,175.6 537.0,173.0 536.7,170.2 537.0,167.4 537.9,164.8 539.4,162.4 541.4,160.4 542.8,159.5 544.0,158.9 546.4,158.0 549.2,157.7 552.0,158.0 554.4,158.9 555.6,159.5 557.0,160.4 559.0,162.4 560.5,164.8 561.4,167.4 561.5,168.4" fill="url(#pg4)"/>
<polygon points="587.5,172.0 587.4,173.0 586.5,175.6 585.0,178.0 583.0,180.0 581.6,180.9 580.4,181.5 578.0,182.4 575.2,182.7 572.4,182.4 570.0,181.5 568.8,180.9 567.4,180.0 565.4,178.0 563.9,175.6 563.0,173.0 562.9,172.0 562.9,168.4 563.0,167.4 563.9,164.8 565.4,162.4 567.4,160.4 568.8,159.5 570.0,158.9 572.4,158.0 575.2,157.7 578.0,158.0 580.4,158.9 581.6,159.5 583.0,160.4 585.0,162.4 586.5,164.8 587.4,167.4 587.5,168.4" fill="url(#pg48)"/>
<polygon points="613.5,172.0 613.4,173.0 612.5,175.6 611.0,178.0 609.0,180.0 607.6,180.9 606.4,181.5 604.0,182.4 601.2,182.7 598.4,182.4 596.0,181.5 594.8,180.9 593.4,180.0 591.4,178.0 589.9,175.6 589.0,173.0 588.9,172.0 588.9,168.4 589.0,167.4 589.9,164.8 591.4,162.4 593.4,160.4 594.8,159.5 596.0,158.9 598.4,158.0 601.2,157.7 604.0,158.0 606.4,158.9 607.6,159.5 609.0,160.4 611.0,162.4 612.5,164.8 613.4,167.4 613.5,168.4" fill="url(#pg11)"/>
<polygon points="639.5,172.0 639.4,173.0 638.5,175.6 637.0,178.0 635.0,180.0 633.6,180.9 632.4,181.5 630.0,182.4 627.2,182.7 624.4,182.4 622.0,181.5 620.8,180.9 619.4,180.0 617.4,178.0 615.9,175.6 615.0,173.0 614.9,172.0 614.9,168.4 615.0,167.4 615.9,164.8 617.4,162.4 619.4,160.4 620.8,159.5 622.0,158.9 624.4,158.0 627.2,157.7 630.0,158.0 632.4,158.9 633.6,159.5 635.0,160.4 637.0,162.4 638.5,164.8 639.4,167.4 639.5,168.4" fill="url(#pg25)"/>
<polygon points="665.5,172.0 665.4,173.0 664.5,175.6 663.0,178.0 661.0,180.0 659.6,180.9 658.4,181.5 656.0,182.4 653.2,182.7 650.4,182.4 648.0,181.5 646.8,180.9 645.4,180.0 643.4,178.0 641.9,175.6 641.0,173.0 640.9,172.0 640.9,168.4 641.0,167.4 641.9,164.8 643.4,162.4 645.4,160.4 646.8,159.5 648.0,158.9 650.4,158.0 653.2,157.7 656.0,158.0 658.4,158.9 659.6,159.5 661.0,160.4 663.0,162.4 664.5,164.8 665.4,167.4 665.5,168.4" fill="url(#pg15)"/>
<polygon points="691.5,172.0 691.4,173.0 690.5,175.6 689.0,178.0 687.0,180.0 685.6,180.9 684.4,181.5 682.0,182.4 679.2,182.7 676.4,182.4 674.0,181.5 672.8,180.9 671.4,180.0 669.4,178.0 667.9,175.6 667.0,173.0 666.9,172.0 666.9,168.4 667.0,167.4 667.9,164.8 669.4,162.4 671.4,160.4 672.8,159.5 674.0,158.9 676.4,158.0 679.2,157.7 682.0,158.0 684.4,158.9 685.6,159.5 687.0,160.4 689.0,162.4 690.5,164.8 691.4,167.4 691.5,168.4" fill="url(#pg11)"/>
<polygon points="717.5,172.0 717.4,173.0 716.5,175.6 715.0,178.0 713.0,180.0 711.6,180.9 710.4,181.5 708.0,182.4 705.2,182.7 702.4,182.4 700.0,181.5 698.8,180.9 697.4,180.0 695.4,178.0 693.9,175.6 693.0,173.0 692.9,172.0 692.9,168.4 693.0,167.4 693.9,164.8 695.4,162.4 697.4,160.4 698.8,159.5 700.0,158.9 702.4,158.0 705.2,157.7 708.0,158.0 710.4,158.9 711.6,159.5 713.0,160.4 715.0,162.4 716.5,164.8 717.4,167.4 717.5,168.4" fill="url(#pg24)"/>
<polygon points="743.5,172.0 743.4,173.0 742.5,175.6 741.0,178.0 739.0,180.0 737.6,180.9 736.4,181.5 734.0,182.4 731.2,182.7 728.4,182.4 726.0,181.5 724.8,180.9 723.4,180.0 721.4,178.0 719.9,175.6 719.0,173.0 718.9,172.0 718.9,168.4 719.0,167.4 719.9,164.8 721.4,162.4 723.4,160.4 724.8,159.5 726.0,158.9 728.4,158.0 731.2,157.7 734.0,158.0 736.4,158.9 737.6,159.5 739.0,160.4 741.0,162.4 742.5,164.8 743.4,167.4 743.5,168.4" fill="url(#pg4)"/>
<radialGradient id="pg62"><stop offset="0" stop-color="#81515f"/><stop offset="0.55" stop-color="#855462"/><stop offset="1" stop-color="#8a5b68"/></radialGradient>
<polygon points="769.5,172.0 769.4,173.0 768.5,175.6 767.0,178.0 765.0,180.0 763.6,180.9 762.4,181.5 760.0,182.4 757.2,182.7 754.4,182.4 752.0,181.5 750.8,180.9 749.4,180.0 747.4,178.0 745.9,175.6 745.0,173.0 744.9,172.0 744.9,168.4 745.0,167.4 745.9,164.8 747.4,162.4 749.4,160.4 750.8,159.5 752.0,158.9 754.4,158.0 757.2,157.7 760.0,158.0 762.4,158.9 763.6,159.5 765.0,160.4 767.0,162.4 768.5,164.8 769.4,167.4 769.5,168.4" fill="url(#pg62)"/>
<polygon points="795.7,170.2 795.4,173.0 794.5,175.6 793.0,178.0 791.0,180.0 789.6,180.9 788.4,181.5 786.0,182.4 783.2,182.7 780.4,182.4 778.0,181.5 776.8,180.9 775.4,180.0 773.4,178.0 771.9,175.6 771.0,173.0 770.9,172.0 770.9,168.4 771.0,167.4 771.9,164.8 773.4,162.4 775.4,160.4 776.8,159.5 778.0,158.9 780.4,158.0 783.2,157.7 786.0,158.0 788.4,158.9 789.6,159.5 791.0,160.4 793.0,162.4 794.5,164.8 795.4,167.4" fill="url(#pg15)"/>
<polygon points="548.5,194.8 548.4,195.8 547.5,198.4 546.0,200.8 544.0,202.8 542.6,203.7 541.4,204.3 539.0,205.2 536.2,205.5 533.4,205.2 530.8,204.3 528.4,202.8 526.4,200.8 524.9,198.4 524.0,195.8 523.7,193.0 524.0,190.2 524.9,187.6 526.4,185.2 528.4,183.2 530.8,181.7 533.4,180.8 536.2,180.5 539.0,180.8 541.4,181.7 542.6,182.3 544.0,183.2 546.0,185.2 547.5,187.6 548.4,190.2 548.5,191.2" fill="url(#pg1)"/>
<polygon points="574.5,194.8 574.4,195.8 573.5,198.4 572.0,200.8 570.0,202.8 568.6,203.7 567.4,204.3 565.0,205.2 562.2,205.5 559.4,205.2 557.0,204.3 555.8,203.7 554.4,202.8 552.4,200.8 550.9,198.4 550.0,195.8 549.9,194.8 549.9,191.2 550.0,190.2 550.9,187.6 552.4,185.2 554.4,183.2 555.8,182.3 557.0,181.7 559.4,180.8 562.2,180.5 565.0,180.8 567.4,181.7 568.6,182.3 570.0,183.2 572.0,185.2 573.5,187.6 574.4,190.2 574.5,191.2" fill="url(#pg17)"/>
<polygon points="600.5,194.8 600.4,195.8 599.5,198.4 598.0,200.8 596.0,202.8 594.6,203.7 593.4,204.3 591.0,205.2 588.2,205.5 585.4,205.2 583.0,204.3 581.8,203.7 580.4,202.8 578.4,200.8 576.9,198.4 576.0,195.8 575.9,194.8 575.9,191.2 576.0,190.2 576.9,187.6 578.4,185.2 580.4,183.2 581.8,182.3 583.0,181.7 585.4,180.8 588.2,180.5 591.0,180.8 593.4,181.7 594.6,182.3 596.0,183.2 598.0,185.2 599.5,187.6 600.4,190.2 600.5,191.2" fill="url(#pg23)"/>
<polygon points="626.5,194.8 626.4,195.8 625.5,198.4 624.0,200.8 622.0,202.8 620.6,203.7 619.4,204.3 617.0,205.2 614.2,205.5 611.4,205.2 609.0,204.3 607.8,203.7 606.4,202.8 604.4,200.8 602.9,198.4 602.0,195.8 601.9,194.8 601.9,191.2 602.0,190.2 602.9,187.6 604.4,185.2 606.4,183.2 607.8,182.3 609.0,181.7 611.4,180.8 614.2,180.5 617.0,180.8 619.4,181.7 620.6,182.3 622.0,183.2 624.0,185.2 625.5,187.6 626.4,190.2 626.5,191.2" fill="url(#pg3)"/>
<polygon points="652.5,194.8 652.4,195.8 651.5,198.4 650.0,200.8 648.0,202.8 646.6,203.7 645.4,204.3 643.0,205.2 640.2,205.5 637.4,205.2 635.0,204.3 633.8,203.7 632.4,202.8 630.4,200.8 628.9,198.4 628.0,195.8 627.9,194.8 627.9,191.2 628.0,190.2 628.9,187.6 630.4,185.2 632.4,183.2 633.8,182.3 635.0,181.7 637.4,180.8 640.2,180.5 643.0,180.8 645.4,181.7 646.6,182.3 648.0,183.2 650.0,185.2 651.5,187.6 652.4,190.2 652.5,191.2" fill="url(#pg26)"/>
<polygon points="678.5,194.8 678.4,195.8 677.5,198.4 676.0,200.8 674.0,202.8 672.6,203.7 671.4,204.3 669.0,205.2 666.2,205.5 663.4,205.2 661.0,204.3 659.8,203.7 658.4,202.8 656.4,200.8 654.9,198.4 654.0,195.8 653.9,194.8 653.9,191.2 654.0,190.2 654.9,187.6 656.4,185.2 658.4,183.2 659.8,182.3 661.0,181.7 663.4,180.8 666.2,180.5 669.0,180.8 671.4,181.7 672.6,182.3 674.0,183.2 676.0,185.2 677.5,187.6 678.4,190.2 678.5,191.2" fill="url(#pg3)"/>
<polygon points="704.5,194.8 704.4,195.8 703.5,198.4 702.0,200.8 700.0,202.8 698.6,203.7 697.4,204.3 695.0,205.2 692.2,205.5 689.4,205.2 687.0,204.3 685.8,203.7 684.4,202.8 682.4,200.8 680.9,198.4 680.0,195.8 679.9,194.8 679.9,191.2 680.0,190.2 680.9,187.6 682.4,185.2 684.4,183.2 685.8,182.3 687.0,181.7 689.4,180.8 692.2,180.5 695.0,180.8 697.4,181.7 698.6,182.3 700.0,183.2 702.0,185.2 703.5,187.6 704.4,190.2 704.5,191.2" fill="url(#pg2)"/>
<radialGradient id="pg63"><stop offset="0" stop-color="#6a3947"/><stop offset="0.55" stop-color="#6e3b4a"/><stop offset="1" stop-color="#7e4d5b"/></radialGradient>
<polygon points="730.5,194.8 730.4,195.8 729.5,198.4 728.0,200.8 726.0,202.8 724.6,203.7 723.4,204.3 721.0,205.2 718.2,205.5 715.4,205.2 713.0,204.3 711.8,203.7 710.4,202.8 708.4,200.8 706.9,198.4 706.0,195.8 705.9,194.8 705.9,191.2 706.0,190.2 706.9,187.6 708.4,185.2 710.4,183.2 711.8,182.3 713.0,181.7 715.4,180.8 718.2,180.5 721.0,180.8 723.4,181.7 724.6,182.3 726.0,183.2 728.0,185.2 729.5,187.6 730.4,190.2 730.5,191.2" fill="url(#pg63)"/>
<polygon points="756.5,194.8 756.4,195.8 755.5,198.4 754.0,200.8 752.0,202.8 750.6,203.7 749.4,204.3 747.0,205.2 744.2,205.5 741.4,205.2 739.0,204.3 737.8,203.7 736.4,202.8 734.4,200.8 732.9,198.4 732.0,195.8 731.9,194.8 731.9,191.2 732.0,190.2 732.9,187.6 734.4,185.2 736.4,183.2 737.8,182.3 739.0,181.7 741.4,180.8 744.2,180.5 747.0,180.8 749.4,181.7 750.6,182.3 752.0,183.2 754.0,185.2 755.5,187.6 756.4,190.2 756.5,191.2" fill="url(#pg58)"/>
<polygon points="782.5,194.8 782.4,195.8 781.5,198.4 780.0,200.8 778.0,202.8 776.6,203.7 775.4,204.3 773.0,205.2 770.2,205.5 767.4,205.2 765.0,204.3 763.8,203.7 762.4,202.8 760.4,200.8 758.9,198.4 758.0,195.8 757.9,194.8 757.9,191.2 758.0,190.2 758.9,187.6 760.4,185.2 762.4,183.2 763.8,182.3 765.0,181.7 767.4,180.8 770.2,180.5 773.0,180.8 775.4,181.7 776.6,182.3 778.0,183.2 780.0,185.2 781.5,187.6 782.4,190.2 782.5,191.2" fill="url(#pg1)"/>
<polygon points="808.7,193.0 808.4,195.8 807.5,198.4 806.0,200.8 804.0,202.8 801.6,204.3 799.0,205.2 796.2,205.5 793.4,205.2 791.0,204.3 789.8,203.7 788.4,202.8 786.4,200.8 784.9,198.4 784.0,195.8 783.9,194.8 783.9,191.2 784.0,190.2 784.9,187.6 786.4,185.2 788.4,183.2 789.8,182.3 791.0,181.7 793.4,180.8 796.2,180.5 799.0,180.8 801.6,181.7 804.0,183.2 806.0,185.2 807.5,187.6 808.4,190.2" fill="url(#pg25)"/>
<polygon points="561.5,217.6 561.4,218.6 560.5,221.2 559.0,223.6 557.0,225.6 555.6,226.5 554.4,227.1 552.0,228.0 549.2,228.3 546.4,228.0 544.0,227.1 542.8,226.5 541.4,225.6 539.4,223.6 537.9,221.2 537.0,218.6 536.7,215.8 537.0,213.0 537.9,210.4 539.4,208.0 541.4,206.0 542.8,205.1 544.0,204.5 546.4,203.6 549.2,203.3 552.0,203.6 554.4,204.5 555.6,205.1 557.0,206.0 559.0,208.0 560.5,210.4 561.4,213.0 561.5,214.0" fill="url(#pg2)"/>
<polygon points="587.5,217.6 587.4,218.6 586.5,221.2 585.0,223.6 583.0,225.6 581.6,226.5 580.4,227.1 578.0,228.0 575.2,228.3 572.4,228.0 570.0,227.1 568.8,226.5 567.4,225.6 565.4,223.6 563.9,221.2 563.0,218.6 562.9,217.6 562.9,214.0 563.0,213.0 563.9,210.4 565.4,208.0 567.4,206.0 568.8,205.1 570.0,204.5 572.4,203.6 575.2,203.3 578.0,203.6 580.4,204.5 581.6,205.1 583.0,206.0 585.0,208.0 586.5,210.4 587.4,213.0 587.5,214.0" fill="url(#pg1)"/>
<polygon points="613.5,217.6 613.4,218.6 612.5,221.2 611.0,223.6 609.0,225.6 607.6,226.5 606.4,227.1 604.0,228.0 601.2,228.3 598.4,228.0 596.0,227.1 594.8,226.5 593.4,225.6 591.4,223.6 589.9,221.2 589.0,218.6 588.9,217.6 588.9,214.0 589.0,213.0 589.9,210.4 591.4,208.0 593.4,206.0 594.8,205.1 596.0,204.5 598.4,203.6 601.2,203.3 604.0,203.6 606.4,204.5 607.6,205.1 609.0,206.0 611.0,208.0 612.5,210.4 613.4,213.0 613.5,214.0" fill="url(#pg37)"/>
<radialGradient id="pg64"><stop offset="0" stop-color="#6c3a48"/><stop offset="0.55" stop-color="#703c4b"/><stop offset="1" stop-color="#7f4d5b"/></radialGradient>
<polygon points="639.5,217.6 639.4,218.6 638.5,221.2 637.0,223.6 635.0,225.6 633.6,226.5 632.4,227.1 630.0,228.0 627.2,228.3 624.4,228.0 622.0,227.1 620.8,226.5 619.4,225.6 617.4,223.6 615.9,221.2 615.0,218.6 614.9,217.6 614.9,214.0 615.0,213.0 615.9,210.4 617.4,208.0 619.4,206.0 620.8,205.1 622.0,204.5 624.4,203.6 627.2,203.3 630.0,203.6 632.4,204.5 633.6,205.1 635.0,206.0 637.0,208.0 638.5,210.4 639.4,213.0 639.5,214.0" fill="url(#pg64)"/>
<polygon points="665.5,217.6 665.4,218.6 664.5,221.2 663.0,223.6 661.0,225.6 659.6,226.5 658.4,227.1 656.0,228.0 653.2,228.3 650.4,228.0 648.0,227.1 646.8,226.5 645.4,225.6 643.4,223.6 641.9,221.2 641.0,218.6 640.9,217.6 640.9,214.0 641.0,213.0 641.9,210.4 643.4,208.0 645.4,206.0 646.8,205.1 648.0,204.5 650.4,203.6 653.2,203.3 656.0,203.6 658.4,204.5 659.6,205.1 661.0,206.0 663.0,208.0 664.5,210.4 665.4,213.0 665.5,214.0" fill="url(#pg9)"/>
<polygon points="691.5,217.6 691.4,218.6 690.5,221.2 689.0,223.6 687.0,225.6 685.6,226.5 684.4,227.1 682.0,228.0 679.2,228.3 676.4,228.0 674.0,227.1 672.8,226.5 671.4,225.6 669.4,223.6 667.9,221.2 667.0,218.6 666.9,217.6 666.9,214.0 667.0,213.0 667.9,210.4 669.4,208.0 671.4,206.0 672.8,205.1 674.0,204.5 676.4,203.6 679.2,203.3 682.0,203.6 684.4,204.5 685.6,205.1 687.0,206.0 689.0,208.0 690.5,210.4 691.4,213.0 691.5,214.0" fill="url(#pg11)"/>
<polygon points="717.5,217.6 717.4,218.6 716.5,221.2 715.0,223.6 713.0,225.6 711.6,226.5 710.4,227.1 708.0,228.0 705.2,228.3 702.4,228.0 700.0,227.1 698.8,226.5 697.4,225.6 695.4,223.6 693.9,221.2 693.0,218.6 692.9,217.6 692.9,214.0 693.0,213.0 693.9,210.4 695.4,208.0 697.4,206.0 698.8,205.1 700.0,204.5 702.4,203.6 705.2,203.3 708.0,203.6 710.4,204.5 711.6,205.1 713.0,206.0 715.0,208.0 716.5,210.4 717.4,213.0 717.5,214.0" fill="url(#pg13)"/>
<polygon points="743.5,217.6 743.4,218.6 742.5,221.2 741.0,223.6 739.0,225.6 737.6,226.5 736.4,227.1 734.0,228.0 731.2,228.3 728.4,228.0 726.0,227.1 724.8,226.5 723.4,225.6 721.4,223.6 719.9,221.2 719.0,218.6 718.9,217.6 718.9,214.0 719.0,213.0 719.9,210.4 721.4,208.0 723.4,206.0 724.8,205.1 726.0,204.5 728.4,203.6 731.2,203.3 734.0,203.6 736.4,204.5 737.6,205.1 739.0,206.0 741.0,208.0 742.5,210.4 743.4,213.0 743.5,214.0" fill="url(#pg23)"/>
<polygon points="769.5,217.6 769.4,218.6 768.5,221.2 767.0,223.6 765.0,225.6 763.6,226.5 762.4,227.1 760.0,228.0 757.2,228.3 754.4,228.0 752.0,227.1 750.8,226.5 749.4,225.6 747.4,223.6 745.9,221.2 745.0,218.6 744.9,217.6 744.9,214.0 745.0,213.0 745.9,210.4 747.4,208.0 749.4,206.0 750.8,205.1 752.0,204.5 754.4,203.6 757.2,203.3 760.0,203.6 762.4,204.5 763.6,205.1 765.0,206.0 767.0,208.0 768.5,210.4 769.4,213.0 769.5,214.0" fill="url(#pg14)"/>
<radialGradient id="pg65"><stop offset="0" stop-color="#976975"/><stop offset="0.55" stop-color="#9c6d79"/><stop offset="1" stop-color="#9f6f7b"/></radialGradient>
<polygon points="795.7,215.8 795.4,218.6 794.5,221.2 793.0,223.6 791.0,225.6 789.6,226.5 788.4,227.1 786.0,228.0 783.2,228.3 780.4,228.0 778.0,227.1 776.8,226.5 775.4,225.6 773.4,223.6 771.9,221.2 771.0,218.6 770.9,217.6 770.9,214.0 771.0,213.0 771.9,210.4 773.4,208.0 775.4,206.0 776.8,205.1 778.0,204.5 780.4,203.6 783.2,203.3 786.0,203.6 788.4,204.5 789.6,205.1 791.0,206.0 793.0,208.0 794.5,210.4 795.4,213.0" fill="url(#pg65)"/>
<polygon points="548.5,240.4 548.4,241.4 547.5,244.0 546.0,246.4 544.0,248.4 542.6,249.3 541.4,249.9 539.0,250.8 536.2,251.1 533.4,250.8 530.8,249.9 528.4,248.4 526.4,246.4 524.9,244.0 524.0,241.4 523.7,238.6 524.0,235.8 524.9,233.2 526.4,230.8 528.4,228.8 530.8,227.3 533.4,226.4 536.2,226.1 539.0,226.4 541.4,227.3 542.6,227.9 544.0,228.8 546.0,230.8 547.5,233.2 548.4,235.8 548.5,236.8" fill="url(#pg34)"/>
<polygon points="574.5,240.4 574.4,241.4 573.5,244.0 572.0,246.4 570.0,248.4 568.6,249.3 567.4,249.9 565.0,250.8 562.2,251.1 559.4,250.8 557.0,249.9 555.8,249.3 554.4,248.4 552.4,246.4 550.9,244.0 550.0,241.4 549.9,240.4 549.9,236.8 550.0,235.8 550.9,233.2 552.4,230.8 554.4,228.8 555.8,227.9 557.0,227.3 559.4,226.4 562.2,226.1 565.0,226.4 567.4,227.3 568.6,227.9 570.0,228.8 572.0,230.8 573.5,233.2 574.4,235.8 574.5,236.8" fill="url(#pg6)"/>
<polygon points="600.5,240.4 600.4,241.4 599.5,244.0 598.0,246.4 596.0,248.4 594.6,249.3 593.4,249.9 591.0,250.8 588.2,251.1 585.4,250.8 583.0,249.9 581.8,249.3 580.4,248.4 578.4,246.4 576.9,244.0 576.0,241.4 575.9,240.4 575.9,236.8 576.0,235.8 576.9,233.2 578.4,230.8 580.4,228.8 581.8,227.9 583.0,227.3 585.4,226.4 588.2,226.1 591.0,226.4 593.4,227.3 594.6,227.9 596.0,228.8 598.0,230.8 599.5,233.2 600.4,235.8 600.5,236.8" fill="url(#pg4)"/>
<polygon points="626.5,240.4 626.4,241.4 625.5,244.0 624.0,246.4 622.0,248.4 620.6,249.3 619.4,249.9 617.0,250.8 614.2,251.1 611.4,250.8 609.0,249.9 607.8,249.3 606.4,248.4 604.4,246.4 602.9,244.0 602.0,241.4 601.9,240.4 601.9,236.8 602.0,235.8 602.9,233.2 604.4,230.8 606.4,228.8 607.8,227.9 609.0,227.3 611.4,226.4 614.2,226.1 617.0,226.4 619.4,227.3 620.6,227.9 622.0,228.8 624.0,230.8 625.5,233.2 626.4,235.8 626.5,236.8" fill="url(#pg5)"/>
<polygon points="652.5,240.4 652.4,241.4 651.5,244.0 650.0,246.4 648.0,248.4 646.6,249.3 645.4,249.9 643.0,250.8 640.2,251.1 637.4,250.8 635.0,249.9 633.8,249.3 632.4,248.4 630.4,246.4 628.9,244.0 628.0,241.4 627.9,240.4 627.9,236.8 628.0,235.8 628.9,233.2 630.4,230.8 632.4,228.8 633.8,227.9 635.0,227.3 637.4,226.4 640.2,226.1 643.0,226.4 645.4,227.3 646.6,227.9 648.0,228.8 650.0,230.8 651.5,233.2 652.4,235.8 652.5,236.8" fill="url(#pg19)"/>
<polygon points="678.5,240.4 678.4,241.4 677.5,244.0 676.0,246.4 674.0,248.4 672.6,249.3 671.4,249.9 669.0,250.8 666.2,251.1 663.4,250.8 661.0,249.9 659.8,249.3 658.4,248.4 656.4,246.4 654.9,244.0 654.0,241.4 653.9,240.4 653.9,236.8 654.0,235.8 654.9,233.2 656.4,230.8 658.4,228.8 659.8,227.9 661.0,227.3 663.4,226.4 666.2,226.1 669.0,226.4 671.4,227.3 672.6,227.9 674.0,228.8 676.0,230.8 677.5,233.2 678.4,235.8 678.5,236.8" fill="url(#pg0)"/>
<polygon points="704.5,240.4 704.4,241.4 703.5,244.0 702.0,246.4 700.0,248.4 698.6,249.3 697.4,249.9 695.0,250.8 692.2,251.1 689.4,250.8 687.0,249.9 685.8,249.3 684.4,248.4 682.4,246.4 680.9,244.0 680.0,241.4 679.9,240.4 679.9,236.8 680.0,235.8 680.9,233.2 682.4,230.8 684.4,228.8 685.8,227.9 687.0,227.3 689.4,226.4 692.2,226.1 695.0,226.4 697.4,227.3 698.6,227.9 700.0,228.8 702.0,230.8 703.5,233.2 704.4,235.8 704.5,236.8" fill="url(#pg25)"/>
<polygon points="730.5,240.4 730.4,241.4 729.5,244.0 728.0,246.4 726.0,248.4 724.6,249.3 723.4,249.9 721.0,250.8 718.2,251.1 715.4,250.8 713.0,249.9 711.8,249.3 710.4,248.4 708.4,246.4 706.9,244.0 706.0,241.4 705.9,240.4 705.9,236.8 706.0,235.8 706.9,233.2 708.4,230.8 710.4,228.8 711.8,227.9 713.0,227.3 715.4,226.4 718.2,226.1 721.0,226.4 723.4,227.3 724.6,227.9 726.0,228.8 728.0,230.8 729.5,233.2 730.4,235.8 730.5,236.8" fill="url(#pg61)"/>
<polygon points="756.5,240.4 756.4,241.4 755.5,244.0 754.0,246.4 752.0,248.4 750.6,249.3 749.4,249.9 747.0,250.8 744.2,251.1 741.4,250.8 739.0,249.9 737.8,249.3 736.4,248.4 734.4,246.4 732.9,244.0 732.0,241.4 731.9,240.4 731.9,236.8 732.0,235.8 732.9,233.2 734.4,230.8 736.4,228.8 737.8,227.9 739.0,227.3 741.4,226.4 744.2,226.1 747.0,226.4 749.4,227.3 750.6,227.9 752.0,228.8 754.0,230.8 755.5,233.2 756.4,235.8 756.5,236.8" fill="url(#pg4)"/>
<polygon points="782.5,240.4 782.4,241.4 781.5,244.0 780.0,246.4 778.0,248.4 776.6,249.3 775.4,249.9 773.0,250.8 770.2,251.1 767.4,250.8 765.0,249.9 763.8,249.3 762.4,248.4 760.4,246.4 758.9,244.0 758.0,241.4 757.9,240.4 757.9,236.8 758.0,235.8 758.9,233.2 760.4,230.8 762.4,228.8 763.8,227.9 765.0,227.3 767.4,226.4 770.2,226.1 773.0,226.4 775.4,227.3 776.6,227.9 778.0,228.8 780.0,230.8 781.5,233.2 782.4,235.8 782.5,236.8" fill="url(#pg23)"/>
<polygon points="808.7,238.6 808.4,241.4 807.5,244.0 806.0,246.4 804.0,248.4 801.6,249.9 799.0,250.8 796.2,251.1 793.4,250.8 791.0,249.9 789.8,249.3 788.4,248.4 786.4,246.4 784.9,244.0 784.0,241.4 783.9,240.4 783.9,236.8 784.0,235.8 784.9,233.2 786.4,230.8 788.4,228.8 789.8,227.9 791.0,227.3 793.4,226.4 796.2,226.1 799.0,226.4 801.6,227.3 804.0,228.8 806.0,230.8 807.5,233.2 808.4,235.8" fill="url(#pg32)"/>
<polygon points="561.5,263.2 561.4,264.2 560.5,266.8 559.0,269.2 557.0,271.2 554.6,272.7 552.0,273.6 549.2,273.9 546.4,273.6 543.8,272.7 541.4,271.2 539.4,269.2 537.9,266.8 537.0,264.2 536.7,261.4 537.0,258.6 537.9,256.0 539.4,253.6 541.4,251.6 542.8,250.7 544.0,250.1 546.4,249.2 549.2,248.9 552.0,249.2 554.4,250.1 555.6,250.7 557.0,251.6 559.0,253.6 560.5,256.0 561.4,258.6 561.5,259.6" fill="url(#pg5)"/>
<polygon points="587.5,263.2 587.4,264.2 586.5,266.8 585.0,269.2 583.0,271.2 580.6,272.7 578.0,273.6 575.2,273.9 572.4,273.6 569.8,272.7 567.4,271.2 565.4,269.2 563.9,266.8 563.0,264.2 562.9,263.2 562.9,259.6 563.0,258.6 563.9,256.0 565.4,253.6 567.4,251.6 568.8,250.7 570.0,250.1 572.4,249.2 575.2,248.9 578.0,249.2 580.4,250.1 581.6,250.7 583.0,251.6 585.0,253.6 586.5,256.0 587.4,258.6 587.5,259.6" fill="url(#pg10)"/>
<polygon points="613.5,263.2 613.4,264.2 612.5,266.8 611.0,269.2 609.0,271.2 606.6,272.7 604.0,273.6 601.2,273.9 598.4,273.6 595.8,272.7 593.4,271.2 591.4,269.2 589.9,266.8 589.0,264.2 588.9,263.2 588.9,259.6 589.0,258.6 589.9,256.0 591.4,253.6 593.4,251.6 594.8,250.7 596.0,250.1 598.4,249.2 601.2,248.9 604.0,249.2 606.4,250.1 607.6,250.7 609.0,251.6 611.0,253.6 612.5,256.0 613.4,258.6 613.5,259.6" fill="url(#pg4)"/>
<polygon points="639.5,263.2 639.4,264.2 638.5,266.8 637.0,269.2 635.0,271.2 632.6,272.7 630.0,273.6 627.2,273.9 624.4,273.6 621.8,272.7 619.4,271.2 617.4,269.2 615.9,266.8 615.0,264.2 614.9,263.2 614.9,259.6 615.0,258.6 615.9,256.0 617.4,253.6 619.4,251.6 620.8,250.7 622.0,250.1 624.4,249.2 627.2,248.9 630.0,249.2 632.4,250.1 633.6,250.7 635.0,251.6 637.0,253.6 638.5,256.0 639.4,258.6 639.5,259.6" fill="url(#pg3)"/>
<polygon points="665.5,263.2 665.4,264.2 664.5,266.8 663.0,269.2 661.0,271.2 658.6,272.7 656.0,273.6 653.2,273.9 650.4,273.6 647.8,272.7 645.4,271.2 643.4,269.2 641.9,266.8 641.0,264.2 640.9,263.2 640.9,259.6 641.0,258.6 641.9,256.0 643.4,253.6 645.4,251.6 646.8,250.7 648.0,250.1 650.4,249.2 653.2,248.9 656.0,249.2 658.4,250.1 659.6,250.7 661.0,251.6 663.0,253.6 664.5,256.0 665.4,258.6 665.5,259.6" fill="url(#pg14)"/>
<polygon points="691.5,263.2 691.4,264.2 690.5,266.8 689.0,269.2 687.0,271.2 684.6,272.7 682.0,273.6 679.2,273.9 676.4,273.6 673.8,272.7 671.4,271.2 669.4,269.2 667.9,266.8 667.0,264.2 666.9,263.2 666.9,259.6 667.0,258.6 667.9,256.0 669.4,253.6 671.4,251.6 672.8,250.7 674.0,250.1 676.4,249.2 679.2,248.9 682.0,249.2 684.4,250.1 685.6,250.7 687.0,251.6 689.0,253.6 690.5,256.0 691.4,258.6 691.5,259.6" fill="url(#pg8)"/>
<polygon points="717.5,263.2 717.4,264.2 716.5,266.8 715.0,269.2 713.0,271.2 710.6,272.7 708.0,273.6 705.2,273.9 702.4,273.6 699.8,272.7 697.4,271.2 695.4,269.2 693.9,266.8 693.0,264.2 692.9,263.2 692.9,259.6 693.0,258.6 693.9,256.0 695.4,253.6 697.4,251.6 698.8,250.7 700.0,250.1 702.4,249.2 705.2,248.9 708.0,249.2 710.4,250.1 711.6,250.7 713.0,251.6 715.0,253.6 716.5,256.0 717.4,258.6 717.5,259.6" fill="url(#pg52)"/>
<polygon points="743.5,263.2 743.4,264.2 742.5,266.8 741.0,269.2 739.0,271.2 736.6,272.7 734.0,273.6 731.2,273.9 728.4,273.6 725.8,272.7 723.4,271.2 721.4,269.2 719.9,266.8 719.0,264.2 718.9,263.2 718.9,259.6 719.0,258.6 719.9,256.0 721.4,253.6 723.4,251.6 724.8,250.7 726.0,250.1 728.4,249.2 731.2,248.9 734.0,249.2 736.4,250.1 737.6,250.7 739.0,251.6 741.0,253.6 742.5,256.0 743.4,258.6 743.5,259.6" fill="url(#pg17)"/>
<polygon points="769.5,263.2 769.4,264.2 768.5,266.8 767.0,269.2 765.0,271.2 762.6,272.7 760.0,273.6 757.2,273.9 754.4,273.6 751.8,272.7 749.4,271.2 747.4,269.2 745.9,266.8 745.0,264.2 744.9,263.2 744.9,259.6 745.0,258.6 745.9,256.0 747.4,253.6 749.4,251.6 750.8,250.7 752.0,250.1 754.4,249.2 757.2,248.9 760.0,249.2 762.4,250.1 763.6,250.7 765.0,251.6 767.0,253.6 768.5,256.0 769.4,258.6 769.5,259.6" fill="url(#pg24)"/>
<polygon points="795.7,261.4 795.4,264.2 794.5,266.8 793.0,269.2 791.0,271.2 788.6,272.7 786.0,273.6 783.2,273.9 780.4,273.6 777.8,272.7 775.4,271.2 773.4,269.2 771.9,266.8 771.0,264.2 770.9,263.2 770.9,259.6 771.0,258.6 771.9,256.0 773.4,253.6 775.4,251.6 776.8,250.7 778.0,250.1 780.4,249.2 783.2,248.9 786.0,249.2 788.4,250.1 789.6,250.7 791.0,251.6 793.0,253.6 794.5,256.0 795.4,258.6" fill="url(#pg3)"/>
</g>
</g>
</g>
<clipPath id="clipt4"><rect x="787.0" y="18.0" width="219.0" height="219.0"/></clipPath>
<g clip-path="url(#clipt4)">
<g filter="url(#grain)">
<rect x="787.0" y="18.0" width="219.0" height="219.0" fill="#e9c4cc"/>
<g filter="url(#soft)">
<radialGradient id="pg66"><stop offset="0" stop-color="#693947"/><stop offset="0.55" stop-color="#6d3b4a"/><stop offset="1" stop-color="#7d4d5b"/></radialGradient>
<polygon points="816.7,26.5 816.4,29.3 815.5,32.0 813.9,34.4 812.7,35.7 807.3,38.8 806.8,38.9 803.9,39.3 801.1,38.9 800.5,38.8 795.2,35.7 793.9,34.4 792.4,32.0 791.5,29.3 791.1,26.5 791.5,23.6 792.4,20.9 793.9,18.5 796.0,16.5 798.4,14.9 801.1,14.0 803.9,13.7 806.8,14.0 809.5,14.9 811.9,16.5 813.9,18.5 815.5,20.9 816.4,23.6" fill="url(#pg66)"/>
<polygon points="844.1,32.2 842.7,34.4 841.5,35.7 836.1,38.8 835.6,38.9 832.7,39.3 829.9,38.9 827.2,38.0 824.7,36.5 822.7,34.4 821.2,32.0 820.2,29.3 819.9,26.5 820.2,23.6 821.2,20.9 822.7,18.5 824.7,16.5 827.2,14.9 829.9,14.0 832.7,13.7 835.6,14.0 838.3,14.9 840.7,16.5 842.7,18.5 844.1,20.7" fill="url(#pg24)"/>
<polygon points="870.9,26.5 870.6,29.3 869.7,32.0 868.1,34.4 866.1,36.5 863.7,38.0 861.0,38.9 858.1,39.3 856.7,39.1 848.9,35.2 848.1,34.4 846.7,32.2 846.7,20.7 848.1,18.5 850.1,16.5 852.6,14.9 855.3,14.0 858.1,13.7 861.0,14.0 863.7,14.9 866.1,16.5 868.1,18.5 869.7,20.9 870.6,23.6" fill="url(#pg1)"/>
<polygon points="901.4,26.5 901.1,29.3 900.1,32.0 898.6,34.4 896.6,36.5 894.2,38.0 891.5,38.9 888.6,39.3 885.8,38.9 885.2,38.8 879.8,35.7 878.6,34.4 877.1,32.0 876.1,29.3 875.8,26.5 876.1,23.6 877.1,20.9 878.6,18.5 880.6,16.5 883.1,14.9 885.8,14.0 888.6,13.7 891.5,14.0 894.2,14.9 896.6,16.5 898.6,18.5 900.1,20.9 901.1,23.6" fill="url(#pg6)"/>
<polygon points="930.2,26.5 929.9,29.3 928.9,32.0 927.4,34.4 925.4,36.5 923.0,38.0 920.2,38.9 917.4,39.3 914.5,38.9 914.0,38.8 908.6,35.7 907.4,34.4 905.9,32.0 904.9,29.3 904.6,26.5 904.9,23.6 905.9,20.9 907.4,18.5 909.4,16.5 911.8,14.9 914.5,14.0 917.4,13.7 920.2,14.0 923.0,14.9 925.4,16.5 927.4,18.5 928.9,20.9 929.9,23.6" fill="url(#pg39)"/>
<polygon points="959.0,26.5 958.7,29.3 957.7,32.0 956.2,34.4 954.2,36.5 951.7,38.0 949.0,38.9 946.2,39.3 943.3,38.9 942.8,38.8 937.4,35.7 936.2,34.4 934.7,32.0 933.7,29.3 933.4,26.5 933.7,23.6 934.7,20.9 936.2,18.5 938.2,16.5 940.6,14.9 943.3,14.0 946.2,13.7 949.0,14.0 951.7,14.9 954.2,16.5 956.2,18.5 957.7,20.9 958.7,23.6" fill="url(#pg8)"/>
<polygon points="987.8,26.5 987.5,29.3 986.5,32.0 985.0,34.4 983.0,36.5 980.5,38.0 977.8,38.9 975.0,39.3 972.1,38.9 971.6,38.8 966.2,35.7 965.0,34.4 963.4,32.0 962.5,29.3 962.2,26.5 962.5,23.6 963.4,20.9 965.0,18.5 967.0,16.5 969.4,14.9 972.1,14.0 975.0,13.7 977.8,14.0 980.5,14.9 983.0,16.5 985.0,18.5 986.5,20.9 987.5,23.6" fill="url(#pg24)"/>
<polygon points="1016.6,26.5 1016.2,29.3 1015.3,32.0 1013.8,34.4 1011.7,36.5 1009.3,38.0 1006.6,38.9 1003.8,39.3 1000.9,38.9 1000.4,38.8 995.0,35.7 993.8,34.4 992.2,32.0 991.3,29.3 991.0,26.5 991.3,23.6 992.2,20.9 993.8,18.5 995.8,16.5 998.2,14.9 1000.9,14.0 1003.8,13.7 1006.6,14.0 1009.3,14.9 1011.7,16.5 1013.8,18.5 1015.3,20.9 1016.2,23.6" fill="url(#pg1)"/>
<polygon points="802.6,53.7 801.9,55.7 800.4,58.2 798.4,60.2 798.1,60.3 790.3,63.0 787.5,62.7 784.8,61.7 782.4,60.2 780.4,58.2 778.9,55.7 777.9,53.0 777.6,50.2 777.9,47.3 778.9,44.6 780.4,42.2 782.4,40.2 784.8,38.6 787.5,37.7 790.4,37.4 793.2,37.7 793.8,37.9 799.2,41.0 800.4,42.2 801.9,44.6 802.6,46.7" fill="url(#pg39)"/>
<polygon points="830.3,50.2 830.0,53.0 829.0,55.7 827.5,58.2 825.5,60.2 823.6,61.4 822.3,62.0 820.3,62.7 817.5,63.0 814.6,62.7 811.9,61.7 809.5,60.2 807.5,58.2 806.0,55.7 805.2,53.7 805.2,46.7 806.0,44.6 807.5,42.2 808.7,41.0 814.1,37.9 814.6,37.7 817.5,37.4 820.3,37.7 823.0,38.6 825.5,40.2 827.5,42.2 829.0,44.6 830.0,47.3" fill="url(#pg54)"/>
<polygon points="859.1,50.2 858.8,53.0 857.8,55.7 856.3,58.2 854.3,60.2 852.4,61.4 851.0,62.0 849.1,62.7 846.3,63.0 843.4,62.7 840.7,61.7 838.3,60.2 836.3,58.2 834.7,55.7 833.8,53.0 833.5,50.2 833.8,47.3 834.7,44.6 836.3,42.2 837.5,41.0 842.9,37.9 843.4,37.7 846.3,37.4 847.7,37.5 855.5,41.4 856.3,42.2 857.8,44.6 858.8,47.3" fill="url(#pg25)"/>
<polygon points="887.9,50.2 887.5,53.0 886.6,55.7 885.1,58.2 883.0,60.2 881.2,61.4 879.8,62.0 877.9,62.7 875.1,63.0 872.2,62.7 869.5,61.7 867.1,60.2 865.1,58.2 863.5,55.7 862.6,53.0 862.3,50.2 862.6,47.3 863.5,44.6 865.1,42.2 867.1,40.2 869.5,38.6 872.2,37.7 875.1,37.4 877.9,37.7 878.5,37.9 883.8,41.0 885.1,42.2 886.6,44.6 887.5,47.3" fill="url(#pg7)"/>
<polygon points="916.7,50.2 916.3,53.0 915.4,55.7 913.9,58.2 911.8,60.2 910.0,61.4 908.6,62.0 906.7,62.7 903.9,63.0 901.0,62.7 898.3,61.7 895.9,60.2 893.8,58.2 892.3,55.7 891.4,53.0 891.1,50.2 891.4,47.3 892.3,44.6 893.8,42.2 895.9,40.2 898.3,38.6 901.0,37.7 903.9,37.4 906.7,37.7 907.2,37.9 912.6,41.0 913.9,42.2 915.4,44.6 916.3,47.3" fill="url(#pg3)"/>
<polygon points="945.4,50.2 945.1,53.0 944.2,55.7 942.6,58.2 940.6,60.2 938.8,61.4 937.4,62.0 935.5,62.7 932.6,63.0 929.8,62.7 927.1,61.7 924.7,60.2 922.6,58.2 921.1,55.7 920.2,53.0 919.8,50.2 920.2,47.3 921.1,44.6 922.6,42.2 924.7,40.2 927.1,38.6 929.8,37.7 932.6,37.4 935.5,37.7 936.0,37.9 941.4,41.0 942.6,42.2 944.2,44.6 945.1,47.3" fill="url(#pg38)"/>
<polygon points="974.2,50.2 973.9,53.0 973.0,55.7 971.4,58.2 969.4,60.2 967.0,61.7 964.3,62.7 961.4,63.0 958.6,62.7 955.9,61.7 953.4,60.2 951.4,58.2 949.9,55.7 948.9,53.0 948.6,50.2 948.9,47.3 949.9,44.6 951.4,42.2 953.4,40.2 955.9,38.6 958.6,37.7 961.4,37.4 964.3,37.7 964.8,37.9 970.2,41.0 971.4,42.2 973.0,44.6 973.9,47.3" fill="url(#pg6)"/>
<polygon points="1003.0,50.2 1002.7,53.0 1001.8,55.7 1000.2,58.2 998.2,60.2 996.3,61.4 995.0,62.0 993.1,62.7 990.2,63.0 987.4,62.7 984.7,61.7 982.2,60.2 980.2,58.2 978.7,55.7 977.7,53.0 977.4,50.2 977.7,47.3 978.7,44.6 980.2,42.2 982.2,40.2 984.7,38.6 987.4,37.7 990.2,37.4 993.1,37.7 993.6,37.9 999.0,41.0 1000.2,42.2 1001.8,44.6 1002.7,47.3" fill="url(#pg3)"/>
<radialGradient id="pg67"><stop offset="0" stop-color="#6b3a48"/><stop offset="0.55" stop-color="#6f3c4b"/><stop offset="1" stop-color="#7e4d5b"/></radialGradient>
<polygon points="811.7,75.6 811.3,78.4 810.4,81.1 808.9,83.6 806.8,85.6 804.4,87.1 801.7,88.1 798.9,88.4 796.0,88.1 794.1,87.4 792.7,86.8 790.9,85.6 788.8,83.6 787.3,81.1 786.4,78.4 786.1,75.6 786.4,72.7 787.3,70.0 788.8,67.6 790.9,65.6 791.1,65.4 799.0,62.8 801.7,63.1 804.4,64.0 806.8,65.6 808.9,67.6 810.4,70.0 811.3,72.7" fill="url(#pg67)"/>
<radialGradient id="pg68"><stop offset="0" stop-color="#683845"/><stop offset="0.55" stop-color="#6c3a48"/><stop offset="1" stop-color="#7c4c59"/></radialGradient>
<polygon points="842.1,75.6 841.8,78.4 840.9,81.1 839.3,83.6 837.3,85.6 834.9,87.1 832.2,88.1 829.3,88.4 826.5,88.1 823.8,87.1 821.4,85.6 819.3,83.6 817.8,81.1 816.9,78.4 816.5,75.6 816.9,72.7 817.8,70.0 819.3,67.6 821.4,65.6 823.2,64.4 824.6,63.8 826.5,63.1 829.3,62.8 832.2,63.1 834.9,64.0 837.3,65.6 839.3,67.6 840.9,70.0 841.8,72.7" fill="url(#pg68)"/>
<polygon points="870.9,75.6 870.6,78.4 869.7,81.1 868.1,83.6 866.1,85.6 863.7,87.1 861.0,88.1 858.1,88.4 855.3,88.1 852.6,87.1 850.1,85.6 848.1,83.6 846.6,81.1 845.6,78.4 845.3,75.6 845.6,72.7 846.6,70.0 848.1,67.6 850.1,65.6 852.0,64.4 853.4,63.8 855.3,63.1 858.1,62.8 861.0,63.1 863.7,64.0 866.1,65.6 868.1,67.6 869.7,70.0 870.6,72.7" fill="url(#pg63)"/>
<polygon points="899.7,75.6 899.4,78.4 898.4,81.1 896.9,83.6 894.9,85.6 892.5,87.1 889.8,88.1 886.9,88.4 884.1,88.1 881.4,87.1 878.9,85.6 876.9,83.6 875.4,81.1 874.4,78.4 874.1,75.6 874.4,72.7 875.4,70.0 876.9,67.6 878.9,65.6 880.8,64.4 882.1,63.8 884.1,63.1 886.9,62.8 889.8,63.1 892.5,64.0 894.9,65.6 896.9,67.6 898.4,70.0 899.4,72.7" fill="url(#pg7)"/>
<polygon points="928.5,75.6 928.2,78.4 927.2,81.1 925.7,83.6 923.7,85.6 921.3,87.1 918.6,88.1 915.7,88.4 912.9,88.1 910.2,87.1 907.7,85.6 905.7,83.6 904.2,81.1 903.2,78.4 902.9,75.6 903.2,72.7 904.2,70.0 905.7,67.6 907.7,65.6 909.6,64.4 910.9,63.8 912.9,63.1 915.7,62.8 918.6,63.1 921.3,64.0 923.7,65.6 925.7,67.6 927.2,70.0 928.2,72.7" fill="url(#pg15)"/>
<polygon points="957.3,75.6 957.0,78.4 956.0,81.1 954.5,83.6 952.5,85.6 950.0,87.1 947.3,88.1 944.5,88.4 941.6,88.1 938.9,87.1 936.5,85.6 934.5,83.6 933.0,81.1 932.0,78.4 931.7,75.6 932.0,72.7 933.0,70.0 934.5,67.6 936.5,65.6 938.4,64.4 939.7,63.8 941.6,63.1 944.5,62.8 947.3,63.1 950.0,64.0 952.5,65.6 954.5,67.6 956.0,70.0 957.0,72.7" fill="url(#pg3)"/>
<polygon points="988.1,81.3 986.7,83.6 984.7,85.6 982.2,87.1 979.5,88.1 976.7,88.4 973.8,88.1 971.1,87.1 968.7,85.6 966.7,83.6 965.1,81.1 964.2,78.4 963.9,75.6 964.2,72.7 965.1,70.0 966.7,67.6 968.7,65.6 971.1,64.0 973.8,63.1 976.7,62.8 979.5,63.1 982.2,64.0 984.7,65.6 986.7,67.6 988.1,69.8" fill="url(#pg36)"/>
<polygon points="1014.9,75.6 1014.6,78.4 1013.6,81.1 1012.1,83.6 1010.1,85.6 1007.6,87.1 1004.9,88.1 1002.1,88.4 1000.2,88.2 994.7,86.0 994.1,85.6 992.1,83.6 990.7,81.3 990.7,69.8 992.1,67.6 994.1,65.6 996.0,64.4 997.3,63.8 999.2,63.1 1002.1,62.8 1004.9,63.1 1007.6,64.0 1010.1,65.6 1012.1,67.6 1013.6,70.0 1014.6,72.7" fill="url(#pg23)"/>
<polygon points="799.2,104.5 798.5,106.5 797.0,109.0 795.0,111.0 793.1,112.2 791.8,112.8 789.8,113.5 787.0,113.8 784.2,113.5 781.4,112.5 779.0,111.0 777.0,109.0 775.5,106.5 774.5,103.8 774.2,101.0 774.5,98.1 775.5,95.4 777.0,93.0 779.0,91.0 781.4,89.4 784.2,88.5 787.0,88.2 789.8,88.5 791.8,89.2 793.1,89.8 795.0,91.0 797.0,93.0 798.5,95.4 799.2,97.5" fill="url(#pg5)"/>
<polygon points="826.9,101.0 826.6,103.8 825.6,106.5 824.1,109.0 822.1,111.0 819.6,112.5 816.9,113.5 814.1,113.8 811.2,113.5 808.5,112.5 806.1,111.0 804.1,109.0 802.6,106.5 801.8,104.5 801.8,97.5 802.6,95.4 804.1,93.0 806.1,91.0 808.5,89.4 811.2,88.5 814.1,88.2 816.9,88.5 819.6,89.4 822.1,91.0 824.1,93.0 825.6,95.4 826.6,98.1" fill="url(#pg4)"/>
<polygon points="855.7,101.0 855.4,103.8 854.4,106.5 852.9,109.0 850.9,111.0 848.4,112.5 845.7,113.5 842.9,113.8 840.0,113.5 837.3,112.5 834.9,111.0 832.9,109.0 831.4,106.5 830.4,103.8 830.1,101.0 830.4,98.1 831.4,95.4 832.9,93.0 834.9,91.0 837.3,89.4 840.0,88.5 842.9,88.2 845.7,88.5 848.4,89.4 850.9,91.0 852.9,93.0 854.4,95.4 855.4,98.1" fill="url(#pg11)"/>
<polygon points="884.5,101.0 884.2,103.8 883.2,106.5 881.7,109.0 879.7,111.0 877.2,112.5 874.5,113.5 871.7,113.8 868.8,113.5 866.1,112.5 863.7,111.0 861.7,109.0 860.1,106.5 859.2,103.8 858.9,101.0 859.2,98.1 860.1,95.4 861.7,93.0 863.7,91.0 866.1,89.4 868.8,88.5 871.7,88.2 874.5,88.5 877.2,89.4 879.7,91.0 881.7,93.0 883.2,95.4 884.2,98.1" fill="url(#pg26)"/>
<polygon points="913.3,101.0 912.9,103.8 912.0,106.5 910.5,109.0 908.4,111.0 906.0,112.5 903.3,113.5 900.5,113.8 897.6,113.5 894.9,112.5 892.5,111.0 890.5,109.0 888.9,106.5 888.0,103.8 887.7,101.0 888.0,98.1 888.9,95.4 890.5,93.0 892.5,91.0 894.9,89.4 897.6,88.5 900.5,88.2 903.3,88.5 906.0,89.4 908.4,91.0 910.5,93.0 912.0,95.4 912.9,98.1" fill="url(#pg1)"/>
<polygon points="942.1,101.0 941.7,103.8 940.8,106.5 939.3,109.0 937.2,111.0 934.8,112.5 932.1,113.5 929.3,113.8 926.4,113.5 923.7,112.5 921.3,111.0 919.2,109.0 917.7,106.5 916.8,103.8 916.5,101.0 916.8,98.1 917.7,95.4 919.2,93.0 921.3,91.0 923.7,89.4 926.4,88.5 929.3,88.2 932.1,88.5 934.8,89.4 937.2,91.0 939.3,93.0 940.8,95.4 941.7,98.1" fill="url(#pg43)"/>
<polygon points="975.9,101.0 975.6,103.8 974.7,106.5 973.1,109.0 971.1,111.0 969.2,112.2 967.9,112.8 966.0,113.5 963.1,113.8 960.3,113.5 957.6,112.5 955.1,111.0 953.1,109.0 951.6,106.5 950.6,103.8 950.3,101.0 950.6,98.1 951.6,95.4 953.1,93.0 955.1,91.0 957.6,89.4 960.3,88.5 963.1,88.2 966.0,88.5 968.7,89.4 971.1,91.0 973.1,93.0 974.7,95.4 975.6,98.1" fill="url(#pg55)"/>
<polygon points="1004.7,101.0 1004.4,103.8 1003.4,106.5 1001.9,109.0 999.9,111.0 999.3,111.4 993.8,113.6 991.9,113.8 989.1,113.5 986.4,112.5 983.9,111.0 981.9,109.0 980.4,106.5 979.4,103.8 979.1,101.0 979.4,98.1 980.4,95.4 981.9,93.0 983.9,91.0 986.4,89.4 989.1,88.5 991.9,88.2 993.8,88.4 999.3,90.6 999.9,91.0 1001.9,93.0 1003.4,95.4 1004.4,98.1" fill="url(#pg41)"/>
<polygon points="811.7,126.4 811.3,129.2 810.4,131.9 808.9,134.4 806.8,136.4 805.0,137.6 803.6,138.2 801.7,138.9 798.9,139.2 796.0,138.9 793.3,137.9 790.9,136.4 788.8,134.4 787.3,131.9 786.4,129.2 786.1,126.4 786.4,123.5 787.3,120.8 788.8,118.4 790.9,116.4 792.7,115.2 794.1,114.6 796.0,113.9 798.9,113.6 801.7,113.9 804.4,114.9 806.8,116.4 808.9,118.4 810.4,120.8 811.3,123.5" fill="url(#pg34)"/>
<polygon points="840.4,126.4 840.1,129.2 839.2,131.9 837.7,134.4 835.6,136.4 833.8,137.6 832.4,138.2 830.5,138.9 827.6,139.2 824.8,138.9 822.1,137.9 819.7,136.4 817.6,134.4 816.1,131.9 815.2,129.2 814.8,126.4 815.2,123.5 816.1,120.8 817.6,118.4 819.7,116.4 822.1,114.9 824.8,113.9 827.6,113.6 830.5,113.9 833.2,114.9 835.6,116.4 837.7,118.4 839.2,120.8 840.1,123.5" fill="url(#pg3)"/>
<radialGradient id="pg69"><stop offset="0" stop-color="#633642"/><stop offset="0.55" stop-color="#673845"/><stop offset="1" stop-color="#794b58"/></radialGradient>
<polygon points="869.1,127.5 868.9,129.2 868.0,131.9 866.4,134.4 864.4,136.4 862.6,137.6 861.2,138.2 859.3,138.9 856.4,139.2 853.6,138.9 850.9,137.9 848.5,136.4 846.4,134.4 844.9,131.9 844.0,129.2 843.6,126.4 844.0,123.5 844.9,120.8 846.4,118.4 848.5,116.4 850.9,114.9 853.6,113.9 856.4,113.6 859.3,113.9 862.0,114.9 864.4,116.4 866.4,118.4 868.0,120.8 868.9,123.5 869.1,125.2" fill="url(#pg69)"/>
<polygon points="897.2,126.4 896.9,129.2 895.9,131.9 894.4,134.4 892.4,136.4 889.9,137.9 887.2,138.9 884.4,139.2 881.5,138.9 878.8,137.9 876.4,136.4 874.4,134.4 872.8,131.9 871.9,129.2 871.7,127.5 871.7,125.2 871.9,123.5 872.8,120.8 874.4,118.4 876.4,116.4 878.8,114.9 881.5,113.9 884.4,113.6 887.2,113.9 889.9,114.9 892.4,116.4 894.4,118.4 895.9,120.8 896.9,123.5" fill="url(#pg49)"/>
<polygon points="926.8,126.4 926.5,129.2 925.5,131.9 924.0,134.4 922.0,136.4 919.6,137.9 916.9,138.9 914.0,139.2 911.2,138.9 908.5,137.9 906.0,136.4 904.0,134.4 902.5,131.9 901.5,129.2 901.2,126.4 901.5,123.5 902.5,120.8 904.0,118.4 906.0,116.4 908.5,114.9 911.2,113.9 914.0,113.6 916.9,113.9 919.6,114.9 922.0,116.4 924.0,118.4 925.5,120.8 926.5,123.5" fill="url(#pg18)"/>
<polygon points="959.0,126.4 958.7,129.2 957.7,131.9 956.2,134.4 954.2,136.4 952.3,137.6 951.0,138.2 949.0,138.9 946.2,139.2 943.3,138.9 940.6,137.9 938.2,136.4 936.2,134.4 934.7,131.9 933.7,129.2 933.4,126.4 933.7,123.5 934.7,120.8 936.2,118.4 938.2,116.4 940.6,114.9 943.3,113.9 946.2,113.6 949.0,113.9 951.7,114.9 954.2,116.4 956.2,118.4 957.7,120.8 958.7,123.5" fill="url(#pg51)"/>
<polygon points="987.2,129.9 986.5,131.9 985.0,134.4 983.0,136.4 980.5,137.9 977.8,138.9 975.0,139.2 972.1,138.9 969.4,137.9 967.0,136.4 965.0,134.4 963.4,131.9 962.5,129.2 962.2,126.4 962.5,123.5 963.4,120.8 965.0,118.4 967.0,116.4 968.9,115.2 970.2,114.6 972.1,113.9 975.0,113.6 977.8,113.9 980.5,114.9 983.0,116.4 985.0,118.4 986.5,120.8 987.2,122.9" fill="url(#pg26)"/>
<polygon points="1014.9,126.4 1014.6,129.2 1013.6,131.9 1012.1,134.4 1010.1,136.4 1007.6,137.9 1004.9,138.9 1002.1,139.2 999.2,138.9 996.5,137.9 994.1,136.4 992.1,134.4 990.5,131.9 989.8,129.9 989.8,122.9 990.5,120.8 992.1,118.4 994.1,116.4 994.7,116.0 1000.2,113.8 1002.1,113.6 1004.9,113.9 1007.6,114.9 1010.1,116.4 1012.1,118.4 1013.6,120.8 1014.6,123.5" fill="url(#pg4)"/>
<polygon points="795.9,155.3 795.1,157.3 793.6,159.8 791.6,161.8 789.7,163.0 788.4,163.6 786.5,164.3 783.6,164.6 780.8,164.3 778.1,163.3 775.6,161.8 773.6,159.8 772.1,157.3 771.1,154.6 770.8,151.8 771.1,148.9 772.1,146.2 773.6,143.8 775.6,141.8 778.1,140.3 780.8,139.3 783.6,139.0 786.5,139.3 789.2,140.3 791.6,141.8 793.6,143.8 795.1,146.2 795.9,148.3" fill="url(#pg19)"/>
<polygon points="823.5,151.8 823.2,154.6 822.2,157.3 820.7,159.8 818.7,161.8 816.8,163.0 815.5,163.6 813.6,164.3 810.7,164.6 807.9,164.3 805.2,163.3 802.7,161.8 800.7,159.8 799.2,157.3 798.5,155.3 798.5,148.3 799.2,146.2 800.7,143.8 802.7,141.8 804.6,140.6 805.9,140.0 807.9,139.3 810.7,139.0 813.6,139.3 816.3,140.3 818.7,141.8 820.7,143.8 822.2,146.2 823.2,148.9" fill="url(#pg5)"/>
<polygon points="852.3,151.8 852.0,154.6 851.0,157.3 849.5,159.8 847.5,161.8 845.6,163.0 844.3,163.6 842.3,164.3 839.5,164.6 836.6,164.3 833.9,163.3 831.5,161.8 829.5,159.8 828.0,157.3 827.0,154.6 826.7,151.8 827.0,148.9 828.0,146.2 829.5,143.8 831.5,141.8 833.4,140.6 834.7,140.0 836.6,139.3 839.5,139.0 842.3,139.3 845.1,140.3 847.5,141.8 849.5,143.8 851.0,146.2 852.0,148.9" fill="url(#pg32)"/>
<polygon points="881.1,151.8 880.8,154.6 879.8,157.3 878.3,159.8 876.3,161.8 873.8,163.3 871.1,164.3 868.3,164.6 865.4,164.3 862.7,163.3 860.3,161.8 858.3,159.8 856.8,157.3 855.8,154.6 855.5,151.8 855.8,148.9 856.8,146.2 858.3,143.8 860.3,141.8 862.2,140.6 863.5,140.0 865.4,139.3 868.3,139.0 871.1,139.3 873.8,140.3 876.3,141.8 878.3,143.8 879.8,146.2 880.8,148.9" fill="url(#pg24)"/>
<polygon points="909.9,151.8 909.6,154.6 908.6,157.3 907.1,159.8 905.1,161.8 902.6,163.3 899.9,164.3 897.1,164.6 894.2,164.3 891.5,163.3 889.1,161.8 887.1,159.8 885.5,157.3 884.6,154.6 884.3,151.8 884.6,148.9 885.5,146.2 887.1,143.8 889.1,141.8 891.5,140.3 894.2,139.3 897.1,139.0 899.9,139.3 902.6,140.3 905.1,141.8 907.1,143.8 908.6,146.2 909.6,148.9" fill="url(#pg42)"/>
<polygon points="942.1,151.8 941.7,154.6 940.8,157.3 939.3,159.8 937.2,161.8 934.8,163.3 932.1,164.3 929.3,164.6 926.4,164.3 923.7,163.3 921.3,161.8 919.2,159.8 917.7,157.3 916.8,154.6 916.5,151.8 916.8,148.9 917.7,146.2 919.2,143.8 921.3,141.8 923.7,140.3 926.4,139.3 929.3,139.0 932.1,139.3 934.8,140.3 937.2,141.8 939.3,143.8 940.8,146.2 941.7,148.9" fill="url(#pg25)"/>
<polygon points="970.8,151.8 970.5,154.6 969.6,157.3 968.0,159.8 966.0,161.8 963.6,163.3 960.9,164.3 958.0,164.6 955.2,164.3 952.5,163.3 950.1,161.8 948.0,159.8 946.5,157.3 945.6,154.6 945.2,151.8 945.6,148.9 946.5,146.2 948.0,143.8 950.1,141.8 951.9,140.6 953.3,140.0 955.2,139.3 958.0,139.0 960.9,139.3 963.6,140.3 966.0,141.8 968.0,143.8 969.6,146.2 970.5,148.9" fill="url(#pg54)"/>
<polygon points="1001.3,151.8 1001.0,154.6 1000.1,157.3 998.5,159.8 996.5,161.8 994.6,163.0 993.3,163.6 991.4,164.3 988.5,164.6 985.7,164.3 983.0,163.3 980.5,161.8 978.5,159.8 977.0,157.3 976.0,154.6 975.7,151.8 976.0,148.9 977.0,146.2 978.5,143.8 980.5,141.8 983.0,140.3 985.7,139.3 988.5,139.0 991.4,139.3 994.1,140.3 996.5,141.8 998.5,143.8 1000.1,146.2 1001.0,148.9" fill="url(#pg69)"/>
<polygon points="807.7,180.7 807.0,182.7 805.5,185.2 803.4,187.2 801.6,188.4 800.2,189.0 798.3,189.7 795.5,190.0 792.6,189.7 789.9,188.7 787.5,187.2 785.5,185.2 783.9,182.7 783.0,180.0 782.7,177.2 783.0,174.3 783.9,171.6 785.5,169.2 787.5,167.2 789.3,166.0 790.7,165.4 792.6,164.7 795.5,164.4 798.3,164.7 801.0,165.7 803.4,167.2 805.5,169.2 807.0,171.6 807.7,173.7" fill="url(#pg48)"/>
<polygon points="835.4,177.2 835.0,180.0 834.1,182.7 832.6,185.2 830.5,187.2 828.1,188.7 825.4,189.7 822.6,190.0 819.7,189.7 817.0,188.7 814.6,187.2 812.6,185.2 811.0,182.7 810.3,180.7 810.3,173.7 811.0,171.6 812.6,169.2 814.6,167.2 816.4,166.0 817.8,165.4 819.7,164.7 822.6,164.4 825.4,164.7 828.1,165.7 830.5,167.2 832.6,169.2 834.1,171.6 835.0,174.3" fill="url(#pg11)"/>
<radialGradient id="pg70"><stop offset="0" stop-color="#51222d"/><stop offset="0.55" stop-color="#54242f"/><stop offset="1" stop-color="#72444f"/></radialGradient>
<polygon points="864.2,177.2 863.8,180.0 862.9,182.7 861.4,185.2 859.3,187.2 856.9,188.7 854.2,189.7 851.4,190.0 848.5,189.7 845.8,188.7 843.4,187.2 841.3,185.2 839.8,182.7 838.9,180.0 838.6,177.2 838.9,174.3 839.8,171.6 841.3,169.2 843.4,167.2 845.2,166.0 846.6,165.4 848.5,164.7 851.4,164.4 854.2,164.7 856.9,165.7 859.3,167.2 861.4,169.2 862.9,171.6 863.8,174.3" fill="url(#pg70)"/>
<polygon points="894.6,177.2 894.3,180.0 893.4,182.7 891.8,185.2 889.8,187.2 887.4,188.7 884.7,189.7 881.8,190.0 879.0,189.7 876.3,188.7 873.9,187.2 871.8,185.2 870.3,182.7 869.4,180.0 869.0,177.2 869.4,174.3 870.3,171.6 871.8,169.2 873.9,167.2 876.3,165.7 879.0,164.7 881.8,164.4 884.7,164.7 887.4,165.7 889.8,167.2 891.8,169.2 893.4,171.6 894.3,174.3" fill="url(#pg63)"/>
<polygon points="928.5,177.2 928.2,180.0 927.2,182.7 925.7,185.2 923.7,187.2 921.8,188.4 920.5,189.0 918.6,189.7 915.7,190.0 912.9,189.7 910.2,188.7 907.7,187.2 905.7,185.2 904.2,182.7 903.2,180.0 902.9,177.2 903.2,174.3 904.2,171.6 905.7,169.2 907.7,167.2 910.2,165.7 912.9,164.7 915.7,164.4 918.6,164.7 921.3,165.7 923.7,167.2 925.7,169.2 927.2,171.6 928.2,174.3" fill="url(#pg57)"/>
<polygon points="957.3,177.2 957.0,180.0 956.0,182.7 954.5,185.2 952.5,187.2 950.6,188.4 949.3,189.0 947.3,189.7 944.5,190.0 941.6,189.7 938.9,188.7 936.5,187.2 934.5,185.2 933.0,182.7 932.0,180.0 931.7,177.2 932.0,174.3 933.0,171.6 934.5,169.2 936.5,167.2 938.9,165.7 941.6,164.7 944.5,164.4 947.3,164.7 950.0,165.7 952.5,167.2 954.5,169.2 956.0,171.6 957.0,174.3" fill="url(#pg48)"/>
<polygon points="985.5,180.7 984.8,182.7 983.3,185.2 981.3,187.2 979.4,188.4 978.1,189.0 976.1,189.7 973.3,190.0 970.4,189.7 967.7,188.7 965.3,187.2 963.3,185.2 961.8,182.7 960.8,180.0 960.5,177.2 960.8,174.3 961.8,171.6 963.3,169.2 965.3,167.2 967.7,165.7 970.4,164.7 973.3,164.4 976.1,164.7 978.8,165.7 981.3,167.2 983.3,169.2 984.8,171.6 985.5,173.7" fill="url(#pg65)"/>
<radialGradient id="pg71"><stop offset="0" stop-color="#653744"/><stop offset="0.55" stop-color="#693947"/><stop offset="1" stop-color="#7a4c59"/></radialGradient>
<polygon points="1013.2,177.2 1012.9,180.0 1011.9,182.7 1010.4,185.2 1008.4,187.2 1007.8,187.6 1002.2,189.8 1000.4,190.0 997.5,189.7 994.8,188.7 992.4,187.2 990.4,185.2 988.8,182.7 988.1,180.7 988.1,173.7 988.8,171.6 990.4,169.2 992.4,167.2 994.3,166.0 995.6,165.4 997.5,164.7 1000.4,164.4 1003.2,164.7 1005.9,165.7 1008.4,167.2 1010.4,169.2 1011.9,171.6 1012.9,174.3" fill="url(#pg71)"/>
<polygon points="792.5,206.1 791.8,208.1 790.2,210.6 788.2,212.6 785.8,214.1 783.1,215.1 780.2,215.4 777.4,215.1 774.7,214.1 772.2,212.6 770.2,210.6 768.7,208.1 767.7,205.4 767.4,202.6 767.7,199.7 768.7,197.0 770.2,194.6 772.2,192.6 774.7,191.1 777.4,190.1 780.2,189.8 783.1,190.1 785.8,191.1 788.2,192.6 790.2,194.6 791.8,197.0 792.5,199.1" fill="url(#pg4)"/>
<polygon points="820.1,202.6 819.8,205.4 818.9,208.1 817.3,210.6 815.3,212.6 812.9,214.1 810.2,215.1 807.3,215.4 804.5,215.1 802.6,214.4 801.2,213.8 799.3,212.6 797.3,210.6 795.8,208.1 795.1,206.1 795.1,199.1 795.8,197.0 797.3,194.6 799.3,192.6 801.2,191.4 802.6,190.8 804.5,190.1 807.3,189.8 810.2,190.1 812.9,191.1 815.3,192.6 817.3,194.6 818.9,197.0 819.8,199.7" fill="url(#pg51)"/>
<polygon points="848.9,202.6 848.6,205.4 847.6,208.1 846.1,210.6 844.1,212.6 841.7,214.1 839.0,215.1 836.1,215.4 833.3,215.1 830.6,214.1 828.1,212.6 826.1,210.6 824.6,208.1 823.6,205.4 823.3,202.6 823.6,199.7 824.6,197.0 826.1,194.6 828.1,192.6 830.6,191.1 833.3,190.1 836.1,189.8 839.0,190.1 841.7,191.1 844.1,192.6 846.1,194.6 847.6,197.0 848.6,199.7" fill="url(#pg44)"/>
<polygon points="879.4,202.6 879.1,205.4 878.1,208.1 876.6,210.6 874.6,212.6 872.1,214.1 869.4,215.1 866.6,215.4 863.7,215.1 861.0,214.1 858.6,212.6 856.6,210.6 855.1,208.1 854.1,205.4 853.8,202.6 854.1,199.7 855.1,197.0 856.6,194.6 858.6,192.6 861.0,191.1 863.7,190.1 866.6,189.8 869.4,190.1 872.1,191.1 874.6,192.6 876.6,194.6 878.1,197.0 879.1,199.7" fill="url(#pg46)"/>
<polygon points="909.9,202.6 909.6,205.4 908.6,208.1 907.1,210.6 905.1,212.6 903.2,213.8 901.8,214.4 899.9,215.1 897.1,215.4 894.2,215.1 891.5,214.1 889.1,212.6 887.1,210.6 885.5,208.1 884.6,205.4 884.3,202.6 884.6,199.7 885.5,197.0 887.1,194.6 889.1,192.6 891.5,191.1 894.2,190.1 897.1,189.8 899.9,190.1 902.6,191.1 905.1,192.6 907.1,194.6 908.6,197.0 909.6,199.7" fill="url(#pg65)"/>
<polygon points="940.4,202.6 940.0,205.4 939.1,208.1 937.6,210.6 935.5,212.6 933.7,213.8 932.3,214.4 930.4,215.1 927.6,215.4 924.7,215.1 922.0,214.1 919.6,212.6 917.6,210.6 916.0,208.1 915.1,205.4 914.8,202.6 915.1,199.7 916.0,197.0 917.6,194.6 919.6,192.6 921.4,191.4 922.8,190.8 924.7,190.1 927.6,189.8 930.4,190.1 933.1,191.1 935.5,192.6 937.6,194.6 939.1,197.0 940.0,199.7" fill="url(#pg25)"/>
<polygon points="969.1,202.6 968.8,205.4 967.9,208.1 966.4,210.6 964.3,212.6 961.9,214.1 959.2,215.1 956.3,215.4 953.5,215.1 950.8,214.1 948.4,212.6 946.3,210.6 944.8,208.1 943.9,205.4 943.5,202.6 943.9,199.7 944.8,197.0 946.3,194.6 948.4,192.6 950.2,191.4 951.6,190.8 953.5,190.1 956.3,189.8 959.2,190.1 961.9,191.1 964.3,192.6 966.4,194.6 967.9,197.0 968.8,199.7" fill="url(#pg29)"/>
<polygon points="996.5,208.4 995.1,210.6 993.1,212.6 990.7,214.1 988.0,215.1 985.1,215.4 982.3,215.1 979.6,214.1 977.2,212.6 975.1,210.6 973.6,208.1 972.7,205.4 972.3,202.6 972.7,199.7 973.6,197.0 975.1,194.6 977.2,192.6 979.0,191.4 980.4,190.8 982.3,190.1 985.1,189.8 988.0,190.1 990.7,191.1 993.1,192.6 995.1,194.6 996.5,196.8" fill="url(#pg13)"/>
<polygon points="1023.3,202.6 1023.0,205.4 1022.1,208.1 1020.5,210.6 1018.5,212.6 1016.1,214.1 1013.4,215.1 1010.5,215.4 1007.7,215.1 1005.8,214.4 1004.4,213.8 1002.6,212.6 1000.5,210.6 999.1,208.4 999.1,196.8 1000.5,194.6 1002.6,192.6 1003.1,192.2 1008.7,190.0 1010.5,189.8 1013.4,190.1 1016.1,191.1 1018.5,192.6 1020.5,194.6 1022.1,197.0 1023.0,199.7" fill="url(#pg5)"/>
<polygon points="807.7,231.5 807.0,233.5 805.5,236.0 803.4,238.0 801.0,239.5 798.3,240.5 795.5,240.8 792.6,240.5 789.9,239.5 787.5,238.0 785.5,236.0 783.9,233.5 783.0,230.8 782.7,228.0 783.0,225.1 783.9,222.4 785.5,220.0 787.5,218.0 789.9,216.5 792.6,215.5 795.5,215.2 798.3,215.5 800.2,216.2 801.6,216.8 803.4,218.0 805.5,220.0 807.0,222.4 807.7,224.5" fill="url(#pg3)"/>
<polygon points="835.4,228.0 835.0,230.8 834.1,233.5 832.6,236.0 830.5,238.0 828.1,239.5 825.4,240.5 822.6,240.8 819.7,240.5 817.0,239.5 814.6,238.0 812.6,236.0 811.0,233.5 810.3,231.5 810.3,224.5 811.0,222.4 812.6,220.0 814.6,218.0 817.0,216.5 819.7,215.5 822.6,215.2 825.4,215.5 828.1,216.5 830.5,218.0 832.6,220.0 834.1,222.4 835.0,225.1" fill="url(#pg1)"/>
<polygon points="864.2,228.0 863.8,230.8 862.9,233.5 861.4,236.0 859.3,238.0 856.9,239.5 854.2,240.5 851.4,240.8 848.5,240.5 845.8,239.5 843.4,238.0 841.3,236.0 839.8,233.5 838.9,230.8 838.6,228.0 838.9,225.1 839.8,222.4 841.3,220.0 843.4,218.0 845.8,216.5 848.5,215.5 851.4,215.2 854.2,215.5 856.9,216.5 859.3,218.0 861.4,220.0 862.9,222.4 863.8,225.1" fill="url(#pg3)"/>
<polygon points="892.9,228.0 892.6,230.8 891.7,233.5 890.1,236.0 888.1,238.0 885.7,239.5 883.0,240.5 880.1,240.8 877.3,240.5 874.6,239.5 872.2,238.0 870.1,236.0 868.6,233.5 867.7,230.8 867.3,228.0 867.7,225.1 868.6,222.4 870.1,220.0 872.2,218.0 874.6,216.5 877.3,215.5 880.1,215.2 883.0,215.5 885.7,216.5 888.1,218.0 890.1,220.0 891.7,222.4 892.6,225.1" fill="url(#pg25)"/>
<polygon points="921.7,228.0 921.4,230.8 920.5,233.5 918.9,236.0 916.9,238.0 914.5,239.5 911.8,240.5 908.9,240.8 906.1,240.5 903.4,239.5 900.9,238.0 898.9,236.0 897.4,233.5 896.5,230.8 896.1,228.0 896.5,225.1 897.4,222.4 898.9,220.0 900.9,218.0 902.8,216.8 904.2,216.2 906.1,215.5 908.9,215.2 911.8,215.5 914.5,216.5 916.9,218.0 918.9,220.0 920.5,222.4 921.4,225.1" fill="url(#pg24)"/>
<polygon points="952.2,228.0 951.9,230.8 950.9,233.5 949.4,236.0 947.4,238.0 945.0,239.5 942.3,240.5 939.4,240.8 936.6,240.5 933.9,239.5 931.4,238.0 929.4,236.0 927.9,233.5 926.9,230.8 926.6,228.0 926.9,225.1 927.9,222.4 929.4,220.0 931.4,218.0 933.3,216.8 934.6,216.2 936.6,215.5 939.4,215.2 942.3,215.5 945.0,216.5 947.4,218.0 949.4,220.0 950.9,222.4 951.9,225.1" fill="url(#pg69)"/>
<polygon points="982.7,228.0 982.4,230.8 981.4,233.5 979.9,236.0 977.9,238.0 975.4,239.5 972.7,240.5 969.9,240.8 967.0,240.5 964.3,239.5 961.9,238.0 959.9,236.0 958.4,233.5 957.4,230.8 957.1,228.0 957.4,225.1 958.4,222.4 959.9,220.0 961.9,218.0 964.3,216.5 967.0,215.5 969.9,215.2 972.7,215.5 975.4,216.5 977.9,218.0 979.9,220.0 981.4,222.4 982.4,225.1" fill="url(#pg7)"/>
<polygon points="1011.5,228.0 1011.2,230.8 1010.2,233.5 1008.7,236.0 1006.7,238.0 1004.2,239.5 1001.5,240.5 998.7,240.8 995.8,240.5 993.1,239.5 990.7,238.0 988.7,236.0 987.2,233.5 986.2,230.8 985.9,228.0 986.2,225.1 987.2,222.4 988.7,220.0 990.7,218.0 993.1,216.5 995.8,215.5 998.7,215.2 1001.5,215.5 1003.5,216.2 1004.8,216.8 1006.7,218.0 1008.7,220.0 1010.2,222.4 1011.2,225.1" fill="url(#pg15)"/>
</g>
</g>
</g>
<clipPath id="clipt5"><rect x="1014.0" y="18.0" width="219.0" height="219.0"/></clipPath>
<g clip-path="url(#clipt5)">
<g filter="url(#grain)">
<rect x="1014.0" y="18.0" width="219.0" height="219.0" fill="#e9c4cc"/>
<g filter="url(#soft)">
<polygon points="1034.8,12.9 1034.3,14.3 1032.5,17.2 1030.3,19.4 1026.1,21.8 1024.1,22.5 1020.8,22.8 1018.1,22.5 1010.7,18.8 1009.0,17.2 1007.3,14.3 1006.2,11.2 1005.8,7.8 1006.2,4.5 1007.3,1.3 1009.0,-1.5 1011.4,-3.9 1014.3,-5.7 1017.4,-6.8 1020.8,-7.2 1024.1,-6.8 1027.3,-5.7 1030.1,-3.9 1032.5,-1.5 1034.3,1.3 1034.8,2.8" fill="url(#pg15)"/>
<polygon points="1064.4,12.9 1063.9,14.3 1062.1,17.2 1059.8,19.6 1056.9,21.4 1053.7,22.5 1050.4,22.8 1047.1,22.5 1046.7,22.3 1040.6,19.1 1038.7,17.2 1036.9,14.3 1036.4,12.9 1036.4,2.8 1036.9,1.3 1038.7,-1.5 1041.1,-3.9 1043.9,-5.7 1047.1,-6.8 1050.4,-7.2 1053.7,-6.8 1056.9,-5.7 1059.8,-3.9 1062.1,-1.5 1063.9,1.3 1064.4,2.8" fill="url(#pg38)"/>
<polygon points="1094.5,11.7 1093.6,14.3 1091.8,17.2 1089.4,19.6 1086.6,21.4 1083.4,22.5 1080.0,22.8 1077.4,22.5 1070.0,18.8 1068.3,17.2 1066.5,14.3 1066.0,12.9 1066.0,2.8 1066.5,1.3 1068.3,-1.5 1070.7,-3.9 1073.5,-5.7 1076.7,-6.8 1080.0,-7.2 1083.4,-6.8 1086.6,-5.7 1089.4,-3.9 1091.8,-1.5 1093.6,1.3 1094.5,4.0" fill="url(#pg24)"/>
<polygon points="1124.5,12.9 1124.0,14.3 1122.3,17.2 1120.0,19.4 1115.8,21.8 1113.9,22.5 1110.5,22.8 1107.8,22.5 1100.4,18.8 1098.8,17.2 1097.0,14.3 1096.1,11.7 1096.1,4.0 1097.0,1.3 1098.8,-1.5 1101.2,-3.9 1104.0,-5.7 1107.2,-6.8 1110.5,-7.2 1113.9,-6.8 1117.0,-5.7 1119.9,-3.9 1122.3,-1.5 1124.0,1.3 1124.5,2.8" fill="url(#pg55)"/>
<polygon points="1154.2,12.9 1153.7,14.3 1151.9,17.2 1149.5,19.6 1146.7,21.4 1143.5,22.5 1140.2,22.8 1136.8,22.5 1136.4,22.3 1130.3,19.1 1128.4,17.2 1126.6,14.3 1126.1,12.9 1126.1,2.8 1126.6,1.3 1128.4,-1.5 1130.8,-3.9 1133.7,-5.7 1136.8,-6.8 1140.2,-7.2 1143.5,-6.8 1146.7,-5.7 1149.5,-3.9 1151.9,-1.5 1153.7,1.3 1154.2,2.8" fill="url(#pg24)"/>
<polygon points="1184.2,11.7 1183.3,14.3 1181.5,17.2 1179.3,19.4 1175.1,21.8 1173.1,22.5 1169.8,22.8 1167.1,22.5 1159.7,18.8 1158.1,17.2 1156.3,14.3 1155.8,12.9 1155.8,2.8 1156.3,1.3 1158.1,-1.5 1160.4,-3.9 1163.3,-5.7 1166.5,-6.8 1169.8,-7.2 1173.1,-6.8 1176.3,-5.7 1179.2,-3.9 1181.5,-1.5 1183.3,1.3 1184.2,4.0" fill="url(#pg23)"/>
<polygon points="1213.9,14.1 1213.8,14.3 1212.0,17.2 1209.8,19.4 1205.6,21.8 1203.6,22.5 1200.3,22.8 1196.9,22.5 1195.0,21.8 1190.8,19.4 1188.6,17.2 1186.8,14.3 1185.8,11.7 1185.8,4.0 1186.8,1.3 1188.6,-1.5 1190.9,-3.9 1193.8,-5.7 1196.9,-6.8 1200.3,-7.2 1203.6,-6.8 1206.8,-5.7 1209.6,-3.9 1212.0,-1.5 1213.8,1.3 1213.9,1.6" fill="url(#pg1)"/>
<polygon points="1244.1,7.8 1243.7,11.2 1242.6,14.3 1240.8,17.2 1238.4,19.6 1235.6,21.4 1232.4,22.5 1229.1,22.8 1226.4,22.5 1219.0,18.8 1217.3,17.2 1215.6,14.3 1215.5,14.1 1215.5,1.6 1215.6,1.3 1217.3,-1.5 1219.7,-3.9 1222.6,-5.7 1225.7,-6.8 1229.1,-7.2 1232.4,-6.8 1235.6,-5.7 1238.4,-3.9 1240.8,-1.5 1242.6,1.3 1243.7,4.5" fill="url(#pg23)"/>
<polygon points="1020.8,41.2 1020.7,41.4 1019.0,44.3 1016.6,46.7 1013.7,48.4 1010.6,49.6 1007.2,49.9 1003.9,49.6 1000.7,48.4 997.9,46.7 995.5,44.3 993.7,41.4 992.6,38.3 992.2,34.9 992.6,31.6 993.7,28.4 995.5,25.6 997.9,23.2 1000.7,21.4 1003.9,20.3 1007.2,19.9 1009.9,20.2 1017.3,23.9 1019.0,25.6 1020.7,28.4 1020.8,28.7" fill="url(#pg24)"/>
<polygon points="1050.5,38.8 1049.5,41.4 1047.7,44.3 1045.4,46.7 1042.5,48.4 1039.4,49.6 1036.0,49.9 1032.7,49.6 1029.5,48.4 1026.7,46.7 1024.3,44.3 1022.5,41.4 1022.4,41.2 1022.4,28.7 1022.5,28.4 1024.3,25.6 1026.5,23.4 1030.7,21.0 1032.7,20.3 1036.0,19.9 1039.4,20.3 1039.7,20.4 1045.9,23.7 1047.7,25.6 1049.5,28.4 1050.5,31.1" fill="url(#pg11)"/>
<polygon points="1080.9,38.8 1080.0,41.4 1078.2,44.3 1075.9,46.7 1073.0,48.4 1069.8,49.6 1066.5,49.9 1063.2,49.6 1060.0,48.4 1057.1,46.7 1054.8,44.3 1053.0,41.4 1052.1,38.8 1052.1,31.1 1053.0,28.4 1054.8,25.6 1057.1,23.2 1060.0,21.4 1063.2,20.3 1066.5,19.9 1069.2,20.2 1076.6,23.9 1078.2,25.6 1080.0,28.4 1080.9,31.1" fill="url(#pg14)"/>
<polygon points="1110.6,41.2 1110.5,41.4 1108.7,44.3 1106.3,46.7 1103.5,48.4 1100.3,49.6 1097.0,49.9 1093.6,49.6 1090.5,48.4 1087.6,46.7 1085.3,44.3 1083.5,41.4 1082.5,38.8 1082.5,31.1 1083.5,28.4 1085.3,25.6 1087.6,23.2 1090.5,21.4 1093.6,20.3 1097.0,19.9 1099.7,20.2 1107.1,23.9 1108.7,25.6 1110.5,28.4 1110.6,28.7" fill="url(#pg4)"/>
<polygon points="1140.2,38.8 1139.3,41.4 1137.5,44.3 1135.1,46.7 1132.3,48.4 1129.1,49.6 1125.8,49.9 1122.4,49.6 1119.3,48.4 1116.4,46.7 1114.0,44.3 1112.3,41.4 1112.2,41.2 1112.2,28.7 1112.3,28.4 1114.0,25.6 1116.3,23.4 1120.5,21.0 1122.4,20.3 1125.8,19.9 1129.1,20.3 1129.5,20.4 1135.6,23.7 1137.5,25.6 1139.3,28.4 1140.2,31.1" fill="url(#pg55)"/>
<polygon points="1169.8,41.2 1169.8,41.4 1168.0,44.3 1165.6,46.7 1162.8,48.4 1159.6,49.6 1156.3,49.9 1152.9,49.6 1149.7,48.4 1146.9,46.7 1144.5,44.3 1142.7,41.4 1141.8,38.8 1141.8,31.1 1142.7,28.4 1144.5,25.6 1146.9,23.2 1149.7,21.4 1152.9,20.3 1156.3,19.9 1158.9,20.2 1166.3,23.9 1168.0,25.6 1169.8,28.4 1169.8,28.7" fill="url(#pg52)"/>
<polygon points="1199.5,38.8 1198.6,41.4 1196.8,44.3 1194.4,46.7 1191.5,48.4 1188.4,49.6 1185.0,49.9 1181.7,49.6 1178.5,48.4 1175.7,46.7 1173.3,44.3 1171.5,41.4 1171.4,41.2 1171.4,28.7 1171.5,28.4 1173.3,25.6 1175.5,23.4 1179.8,21.0 1181.7,20.3 1185.0,19.9 1188.4,20.3 1190.3,21.0 1194.6,23.4 1196.8,25.6 1198.6,28.4 1199.5,31.1" fill="url(#pg18)"/>
<polygon points="1230.5,34.9 1230.1,38.3 1229.0,41.4 1227.3,44.3 1224.9,46.7 1222.0,48.4 1218.9,49.6 1215.5,49.9 1212.2,49.6 1209.0,48.4 1206.2,46.7 1203.8,44.3 1202.0,41.4 1201.1,38.8 1201.1,31.1 1202.0,28.4 1203.8,25.6 1206.0,23.4 1210.2,21.0 1212.2,20.3 1215.5,19.9 1218.2,20.2 1225.6,23.9 1227.3,25.6 1229.0,28.4 1230.1,31.6" fill="url(#pg5)"/>
<polygon points="1034.8,68.8 1034.3,70.2 1032.5,73.1 1030.9,74.7 1023.5,78.4 1020.8,78.7 1017.4,78.3 1015.5,77.7 1011.3,75.3 1009.0,73.1 1007.3,70.2 1006.2,67.1 1005.8,63.7 1006.2,60.4 1007.3,57.2 1009.0,54.4 1011.4,52.0 1014.3,50.2 1017.4,49.1 1020.8,48.7 1024.1,49.1 1027.3,50.2 1030.1,52.0 1032.5,54.4 1034.3,57.2 1034.8,58.7" fill="url(#pg61)"/>
<polygon points="1064.4,68.8 1063.9,70.2 1062.1,73.1 1060.3,75.0 1054.1,78.2 1053.7,78.3 1050.4,78.7 1047.1,78.3 1043.9,77.2 1041.1,75.5 1038.7,73.1 1036.9,70.2 1036.4,68.8 1036.4,58.7 1036.9,57.2 1038.7,54.4 1041.1,52.0 1043.9,50.2 1047.1,49.1 1050.4,48.7 1053.7,49.1 1056.9,50.2 1059.8,52.0 1062.1,54.4 1063.9,57.2 1064.4,58.7" fill="url(#pg13)"/>
<polygon points="1094.5,67.6 1093.6,70.2 1091.8,73.1 1089.6,75.3 1085.3,77.7 1083.4,78.3 1080.0,78.7 1076.7,78.3 1074.8,77.7 1070.5,75.3 1068.3,73.1 1066.5,70.2 1066.0,68.8 1066.0,58.7 1066.5,57.2 1068.3,54.4 1070.7,52.0 1073.5,50.2 1076.7,49.1 1080.0,48.7 1083.4,49.1 1086.6,50.2 1089.4,52.0 1091.8,54.4 1093.6,57.2 1094.5,59.9" fill="url(#pg23)"/>
<polygon points="1124.5,68.8 1124.0,70.2 1122.3,73.1 1120.6,74.7 1113.2,78.4 1110.5,78.7 1107.2,78.3 1105.2,77.7 1101.0,75.3 1098.8,73.1 1097.0,70.2 1096.1,67.6 1096.1,59.9 1097.0,57.2 1098.8,54.4 1101.2,52.0 1104.0,50.2 1107.2,49.1 1110.5,48.7 1113.9,49.1 1117.0,50.2 1119.9,52.0 1122.3,54.4 1124.0,57.2 1124.5,58.7" fill="url(#pg43)"/>
<polygon points="1154.2,68.8 1153.7,70.2 1151.9,73.1 1150.0,75.0 1143.9,78.2 1143.5,78.3 1140.2,78.7 1136.8,78.3 1133.7,77.2 1130.8,75.5 1128.4,73.1 1126.6,70.2 1126.1,68.8 1126.1,58.7 1126.6,57.2 1128.4,54.4 1130.8,52.0 1133.7,50.2 1136.8,49.1 1140.2,48.7 1143.5,49.1 1146.7,50.2 1149.5,52.0 1151.9,54.4 1153.7,57.2 1154.2,58.7" fill="url(#pg19)"/>
<polygon points="1184.2,67.6 1183.3,70.2 1181.5,73.1 1179.9,74.7 1172.5,78.4 1169.8,78.7 1166.5,78.3 1164.5,77.7 1160.3,75.3 1158.1,73.1 1156.3,70.2 1155.8,68.8 1155.8,58.7 1156.3,57.2 1158.1,54.4 1160.4,52.0 1163.3,50.2 1166.5,49.1 1169.8,48.7 1173.1,49.1 1176.3,50.2 1179.2,52.0 1181.5,54.4 1183.3,57.2 1184.2,59.9" fill="url(#pg4)"/>
<polygon points="1213.9,70.0 1213.8,70.2 1212.0,73.1 1210.1,75.0 1204.0,78.2 1203.6,78.3 1200.3,78.7 1196.9,78.3 1193.8,77.2 1190.9,75.5 1188.6,73.1 1186.8,70.2 1185.8,67.6 1185.8,59.9 1186.8,57.2 1188.6,54.4 1190.9,52.0 1193.8,50.2 1196.9,49.1 1200.3,48.7 1203.6,49.1 1206.8,50.2 1209.6,52.0 1212.0,54.4 1213.8,57.2 1213.9,57.4" fill="url(#pg32)"/>
<polygon points="1244.1,63.7 1243.7,67.1 1242.6,70.2 1240.8,73.1 1238.4,75.5 1235.6,77.2 1232.4,78.3 1229.1,78.7 1225.7,78.3 1225.4,78.2 1219.2,75.0 1217.3,73.1 1215.6,70.2 1215.5,70.0 1215.5,57.4 1215.6,57.2 1217.3,54.4 1219.7,52.0 1222.6,50.2 1225.7,49.1 1229.1,48.7 1232.4,49.1 1235.6,50.2 1238.4,52.0 1240.8,54.4 1242.6,57.2 1243.7,60.4" fill="url(#pg24)"/>
<polygon points="1019.1,97.1 1019.0,97.3 1017.3,100.2 1015.0,102.4 1010.8,104.8 1008.9,105.4 1005.5,105.8 1002.2,105.4 999.0,104.3 996.2,102.5 993.8,100.2 992.0,97.3 990.9,94.2 990.5,90.8 990.9,87.5 992.0,84.3 993.8,81.5 996.2,79.1 999.0,77.3 1002.2,76.2 1005.5,75.8 1008.9,76.2 1010.8,76.9 1015.0,79.3 1017.3,81.5 1019.0,84.3 1019.1,84.5" fill="url(#pg7)"/>
<polygon points="1048.8,94.7 1047.8,97.3 1046.0,100.2 1043.7,102.5 1040.8,104.3 1037.7,105.4 1034.3,105.8 1031.6,105.5 1024.2,101.8 1022.6,100.2 1020.8,97.3 1020.7,97.1 1020.7,84.5 1020.8,84.3 1022.6,81.5 1024.2,79.8 1031.6,76.1 1034.3,75.8 1037.7,76.2 1040.8,77.3 1043.7,79.1 1046.0,81.5 1047.8,84.3 1048.8,87.0" fill="url(#pg71)"/>
<polygon points="1079.2,94.7 1078.3,97.3 1076.5,100.2 1074.2,102.5 1071.3,104.3 1068.1,105.4 1064.8,105.8 1061.5,105.4 1061.1,105.3 1055.0,102.1 1053.1,100.2 1051.3,97.3 1050.4,94.7 1050.4,87.0 1051.3,84.3 1053.1,81.5 1055.0,79.6 1061.1,76.3 1061.5,76.2 1064.8,75.8 1068.1,76.2 1070.1,76.9 1074.3,79.3 1076.5,81.5 1078.3,84.3 1079.2,87.0" fill="url(#pg3)"/>
<polygon points="1108.9,97.1 1108.8,97.3 1107.0,100.2 1104.8,102.4 1100.6,104.8 1098.6,105.4 1095.3,105.8 1092.6,105.5 1085.2,101.8 1083.6,100.2 1081.8,97.3 1080.8,94.7 1080.8,87.0 1081.8,84.3 1083.6,81.5 1085.8,79.3 1090.0,76.9 1091.9,76.2 1095.3,75.8 1098.6,76.2 1100.6,76.9 1104.8,79.3 1107.0,81.5 1108.8,84.3 1108.9,84.5" fill="url(#pg61)"/>
<polygon points="1138.5,94.7 1137.6,97.3 1135.8,100.2 1133.6,102.4 1129.4,104.8 1127.4,105.4 1124.1,105.8 1121.4,105.5 1114.0,101.8 1112.3,100.2 1110.6,97.3 1110.5,97.1 1110.5,84.5 1110.6,84.3 1112.3,81.5 1114.0,79.8 1121.4,76.1 1124.1,75.8 1127.4,76.2 1130.6,77.3 1133.4,79.1 1135.8,81.5 1137.6,84.3 1138.5,87.0" fill="url(#pg18)"/>
<polygon points="1168.2,97.1 1168.1,97.3 1166.3,100.2 1164.4,102.1 1158.3,105.3 1157.9,105.4 1154.6,105.8 1151.2,105.4 1149.3,104.8 1145.0,102.4 1142.8,100.2 1141.0,97.3 1140.1,94.7 1140.1,87.0 1141.0,84.3 1142.8,81.5 1144.7,79.6 1150.8,76.3 1151.2,76.2 1154.6,75.8 1157.9,76.2 1159.8,76.9 1164.1,79.3 1166.3,81.5 1168.1,84.3 1168.2,84.5" fill="url(#pg9)"/>
<polygon points="1198.2,92.0 1198.0,94.2 1196.9,97.3 1195.1,100.2 1192.9,102.4 1188.6,104.8 1186.7,105.4 1183.3,105.8 1180.0,105.4 1179.6,105.3 1173.5,102.1 1171.6,100.2 1169.8,97.3 1169.8,97.1 1169.8,84.5 1169.8,84.3 1171.6,81.5 1173.3,79.8 1180.7,76.1 1183.3,75.8 1186.7,76.2 1189.9,77.3 1192.7,79.1 1195.1,81.5 1196.9,84.3 1198.0,87.5 1198.2,89.6" fill="url(#pg22)"/>
<polygon points="1229.7,90.8 1229.3,94.2 1228.2,97.3 1226.4,100.2 1224.9,101.7 1216.5,105.6 1214.7,105.8 1211.3,105.4 1208.2,104.3 1205.3,102.5 1202.9,100.2 1201.2,97.3 1200.1,94.2 1199.8,92.0 1199.8,89.6 1200.1,87.5 1201.2,84.3 1202.9,81.5 1204.8,79.6 1211.0,76.3 1211.3,76.2 1214.7,75.8 1218.0,76.2 1218.4,76.3 1224.5,79.6 1226.4,81.5 1228.2,84.3 1229.3,87.5" fill="url(#pg54)"/>
<polygon points="1034.8,123.0 1034.3,124.4 1032.5,127.3 1030.1,129.6 1027.3,131.4 1024.1,132.5 1020.8,132.9 1017.4,132.5 1014.3,131.4 1011.4,129.6 1009.0,127.3 1007.3,124.4 1006.2,121.3 1005.8,117.9 1006.2,114.6 1007.3,111.4 1009.0,108.6 1011.3,106.4 1015.5,104.0 1017.4,103.3 1020.8,102.9 1023.5,103.2 1030.9,106.9 1032.5,108.6 1034.3,111.4 1034.8,112.8" fill="url(#pg51)"/>
<polygon points="1065.3,119.1 1065.0,121.3 1063.9,124.4 1062.1,127.3 1059.8,129.6 1056.9,131.4 1053.7,132.5 1050.4,132.9 1047.1,132.5 1043.9,131.4 1041.1,129.6 1038.7,127.3 1036.9,124.4 1036.4,123.0 1036.4,112.8 1036.9,111.4 1038.7,108.6 1041.1,106.2 1043.9,104.4 1047.1,103.3 1050.4,102.9 1053.7,103.3 1054.1,103.4 1060.3,106.7 1062.1,108.6 1063.9,111.4 1065.0,114.6 1065.3,116.7" fill="url(#pg2)"/>
<radialGradient id="pg72"><stop offset="0" stop-color="#7e4f5d"/><stop offset="0.55" stop-color="#825260"/><stop offset="1" stop-color="#885967"/></radialGradient>
<polygon points="1095.3,124.2 1095.3,124.4 1093.5,127.3 1091.1,129.6 1089.3,130.8 1085.0,132.5 1081.7,132.9 1078.4,132.5 1075.2,131.4 1072.4,129.6 1070.0,127.3 1068.2,124.4 1067.1,121.3 1066.9,119.1 1066.9,116.7 1067.1,114.6 1068.2,111.4 1070.0,108.6 1072.4,106.2 1075.2,104.4 1078.4,103.3 1081.7,102.9 1084.4,103.2 1091.8,106.9 1093.5,108.6 1095.3,111.4 1095.3,111.6" fill="url(#pg72)"/>
<radialGradient id="pg73"><stop offset="0" stop-color="#80515e"/><stop offset="0.55" stop-color="#845461"/><stop offset="1" stop-color="#8a5b67"/></radialGradient>
<polygon points="1124.1,124.2 1124.0,124.4 1122.3,127.3 1119.9,129.6 1117.0,131.4 1113.9,132.5 1110.5,132.9 1107.2,132.5 1104.0,131.4 1101.2,129.6 1098.8,127.3 1097.0,124.4 1096.9,124.2 1096.9,111.6 1097.0,111.4 1098.8,108.6 1101.0,106.4 1105.2,104.0 1107.2,103.3 1110.5,102.9 1113.2,103.2 1120.6,106.9 1122.3,108.6 1124.0,111.4 1124.1,111.6" fill="url(#pg73)"/>
<polygon points="1153.3,123.0 1152.8,124.4 1151.0,127.3 1148.7,129.6 1145.8,131.4 1142.7,132.5 1139.3,132.9 1136.0,132.5 1132.8,131.4 1130.0,129.6 1127.6,127.3 1125.8,124.4 1125.7,124.2 1125.7,111.6 1125.8,111.4 1127.6,108.6 1129.8,106.4 1134.0,104.0 1136.0,103.3 1139.3,102.9 1142.7,103.3 1144.6,104.0 1148.8,106.4 1151.0,108.6 1152.8,111.4 1153.3,112.8" fill="url(#pg13)"/>
<radialGradient id="pg74"><stop offset="0" stop-color="#653643"/><stop offset="0.55" stop-color="#693846"/><stop offset="1" stop-color="#7a4b58"/></radialGradient>
<polygon points="1183.0,123.0 1182.5,124.4 1180.7,127.3 1178.3,129.6 1175.5,131.4 1172.3,132.5 1169.0,132.9 1165.6,132.5 1162.4,131.4 1159.6,129.6 1157.2,127.3 1155.4,124.4 1154.9,123.0 1154.9,112.8 1155.4,111.4 1157.2,108.6 1159.1,106.7 1165.2,103.4 1165.6,103.3 1169.0,102.9 1172.3,103.3 1172.7,103.4 1178.8,106.7 1180.7,108.6 1182.5,111.4 1183.0,112.8" fill="url(#pg74)"/>
<polygon points="1212.2,124.2 1212.1,124.4 1210.3,127.3 1207.9,129.6 1205.1,131.4 1201.9,132.5 1198.6,132.9 1195.3,132.5 1192.1,131.4 1189.2,129.6 1186.9,127.3 1185.1,124.4 1184.6,123.0 1184.6,112.8 1185.1,111.4 1186.9,108.6 1189.1,106.4 1193.3,104.0 1195.3,103.3 1198.6,102.9 1201.9,103.3 1205.1,104.4 1207.9,106.2 1210.3,108.6 1212.1,111.4 1212.2,111.6" fill="url(#pg44)"/>
<radialGradient id="pg75"><stop offset="0" stop-color="#633542"/><stop offset="0.55" stop-color="#673745"/><stop offset="1" stop-color="#794a58"/></radialGradient>
<polygon points="1242.4,117.9 1242.0,121.3 1240.9,124.4 1239.1,127.3 1236.7,129.6 1233.9,131.4 1230.7,132.5 1227.4,132.9 1224.0,132.5 1220.9,131.4 1218.0,129.6 1215.7,127.3 1213.9,124.4 1213.8,124.2 1213.8,111.6 1213.9,111.4 1215.7,108.6 1217.1,107.1 1225.6,103.1 1227.4,102.9 1230.7,103.3 1233.9,104.4 1236.7,106.2 1239.1,108.6 1240.9,111.4 1242.0,114.6" fill="url(#pg75)"/>
<polygon points="1020.8,153.0 1020.7,153.2 1019.0,156.1 1017.3,157.7 1009.9,161.4 1007.2,161.7 1003.9,161.3 1000.7,160.2 997.9,158.4 995.5,156.1 993.7,153.2 992.6,150.0 992.2,146.7 992.6,143.4 993.7,140.2 995.5,137.4 997.9,135.0 1000.7,133.2 1003.9,132.1 1007.2,131.7 1010.6,132.1 1013.7,133.2 1016.6,135.0 1019.0,137.4 1020.7,140.2 1020.8,140.4" fill="url(#pg25)"/>
<polygon points="1049.6,153.0 1049.5,153.2 1047.7,156.1 1046.3,157.5 1036.8,161.6 1036.0,161.7 1032.7,161.3 1030.7,160.6 1026.5,158.3 1024.3,156.1 1022.5,153.2 1022.4,153.0 1022.4,140.4 1022.5,140.2 1024.3,137.4 1026.7,135.0 1029.5,133.2 1032.7,132.1 1036.0,131.7 1039.4,132.1 1042.5,133.2 1045.4,135.0 1047.7,137.4 1049.5,140.2 1049.6,140.4" fill="url(#pg2)"/>
<polygon points="1078.4,153.0 1078.3,153.2 1076.5,156.1 1074.9,157.7 1067.5,161.4 1064.8,161.7 1061.5,161.3 1058.3,160.2 1055.5,158.4 1053.1,156.1 1051.3,153.2 1051.2,153.0 1051.2,140.4 1051.3,140.2 1053.1,137.4 1055.5,135.0 1058.3,133.2 1061.5,132.1 1064.8,131.7 1068.1,132.1 1071.3,133.2 1074.2,135.0 1076.5,137.4 1078.3,140.2 1078.4,140.4" fill="url(#pg3)"/>
<polygon points="1108.0,150.6 1107.1,153.2 1105.3,156.1 1103.7,157.7 1096.3,161.4 1093.6,161.7 1090.3,161.3 1088.3,160.6 1084.1,158.3 1081.9,156.1 1080.1,153.2 1080.0,153.0 1080.0,140.4 1080.1,140.2 1081.9,137.4 1084.2,135.0 1086.0,133.8 1090.4,132.1 1093.6,131.7 1096.9,132.1 1100.1,133.2 1102.9,135.0 1105.3,137.4 1107.1,140.2 1108.0,142.8" fill="url(#pg65)"/>
<polygon points="1138.5,150.6 1137.6,153.2 1135.8,156.1 1134.2,157.7 1126.8,161.4 1124.1,161.7 1120.7,161.3 1117.6,160.2 1114.7,158.4 1112.3,156.1 1110.6,153.2 1109.6,150.6 1109.6,142.8 1110.6,140.2 1112.3,137.4 1114.7,135.0 1117.6,133.2 1120.7,132.1 1124.1,131.7 1127.4,132.1 1130.6,133.2 1133.4,135.0 1135.8,137.4 1137.6,140.2 1138.5,142.8" fill="url(#pg58)"/>
<polygon points="1169.0,150.6 1168.1,153.2 1166.3,156.1 1164.6,157.7 1157.2,161.4 1154.6,161.7 1151.2,161.3 1148.1,160.2 1145.2,158.4 1142.8,156.1 1141.0,153.2 1140.1,150.6 1140.1,142.8 1141.0,140.2 1142.8,137.4 1145.2,135.0 1148.1,133.2 1151.2,132.1 1154.6,131.7 1157.9,132.1 1161.1,133.2 1163.9,135.0 1166.3,137.4 1168.1,140.2 1169.0,142.8" fill="url(#pg10)"/>
<polygon points="1198.6,153.0 1198.6,153.2 1196.8,156.1 1195.1,157.7 1187.7,161.4 1185.0,161.7 1181.7,161.3 1178.5,160.2 1175.7,158.4 1173.3,156.1 1171.5,153.2 1170.6,150.6 1170.6,142.8 1171.5,140.2 1173.3,137.4 1175.7,135.0 1178.5,133.2 1181.7,132.1 1185.0,131.7 1188.4,132.1 1191.5,133.2 1194.4,135.0 1196.8,137.4 1198.6,140.2 1198.6,140.4" fill="url(#pg72)"/>
<polygon points="1228.8,146.7 1228.5,150.0 1227.3,153.2 1225.6,156.1 1223.9,157.7 1216.5,161.4 1213.8,161.7 1210.5,161.3 1208.5,160.6 1204.3,158.3 1202.1,156.1 1200.3,153.2 1200.2,153.0 1200.2,140.4 1200.3,140.2 1202.1,137.4 1204.5,135.0 1207.3,133.2 1210.5,132.1 1213.8,131.7 1217.2,132.1 1220.3,133.2 1223.2,135.0 1225.6,137.4 1227.3,140.2 1228.5,143.4" fill="url(#pg8)"/>
<polygon points="1033.5,181.5 1032.5,183.2 1031.1,184.5 1020.0,188.7 1017.4,188.4 1014.3,187.3 1011.4,185.5 1009.0,183.2 1007.3,180.3 1006.2,177.1 1005.8,173.8 1006.2,170.5 1007.3,167.3 1009.0,164.4 1010.7,162.8 1018.1,159.1 1020.8,158.8 1024.1,159.2 1026.1,159.9 1030.3,162.2 1032.5,164.4 1033.5,166.1" fill="url(#pg1)"/>
<polygon points="1062.3,177.7 1061.4,180.3 1059.6,183.2 1057.9,184.8 1050.6,188.5 1047.9,188.8 1044.5,188.4 1041.4,187.3 1038.5,185.5 1036.1,183.2 1035.1,181.5 1035.1,166.1 1036.1,164.4 1037.5,163.1 1047.0,158.9 1047.9,158.8 1051.2,159.2 1054.4,160.3 1057.2,162.1 1059.6,164.4 1061.4,167.3 1062.3,169.9" fill="url(#pg4)"/>
<polygon points="1091.9,180.1 1091.9,180.3 1090.1,183.2 1088.6,184.6 1080.2,188.6 1078.4,188.8 1075.0,188.4 1071.8,187.3 1069.0,185.5 1066.6,183.2 1064.8,180.3 1063.9,177.7 1063.9,169.9 1064.8,167.3 1066.6,164.4 1068.3,162.8 1075.7,159.1 1078.4,158.8 1081.7,159.2 1083.6,159.9 1087.9,162.2 1090.1,164.4 1091.9,167.3 1091.9,167.5" fill="url(#pg4)"/>
<polygon points="1121.6,177.7 1120.7,180.3 1118.9,183.2 1117.2,184.8 1109.8,188.5 1107.1,188.8 1103.8,188.4 1100.6,187.3 1097.8,185.5 1095.4,183.2 1093.6,180.3 1093.5,180.1 1093.5,167.5 1093.6,167.3 1095.4,164.4 1097.1,162.8 1104.5,159.1 1107.1,158.8 1110.5,159.2 1113.6,160.3 1116.5,162.1 1118.9,164.4 1120.7,167.3 1121.6,169.9" fill="url(#pg63)"/>
<polygon points="1152.1,177.7 1151.1,180.3 1149.4,183.2 1147.7,184.8 1140.3,188.5 1137.6,188.8 1134.3,188.4 1131.1,187.3 1128.3,185.5 1125.9,183.2 1124.1,180.3 1123.2,177.7 1123.2,169.9 1124.1,167.3 1125.9,164.4 1127.5,162.8 1134.9,159.1 1137.6,158.8 1141.0,159.2 1144.1,160.3 1147.0,162.1 1149.4,164.4 1151.1,167.3 1152.1,169.9" fill="url(#pg8)"/>
<polygon points="1182.5,177.7 1181.6,180.3 1179.8,183.2 1177.6,185.4 1173.4,187.7 1171.4,188.4 1168.1,188.8 1164.8,188.4 1161.6,187.3 1158.8,185.5 1156.4,183.2 1154.6,180.3 1153.7,177.7 1153.7,169.9 1154.6,167.3 1156.4,164.4 1158.0,162.8 1165.4,159.1 1168.1,158.8 1171.4,159.2 1174.6,160.3 1177.5,162.1 1179.8,164.4 1181.6,167.3 1182.5,169.9" fill="url(#pg8)"/>
<polygon points="1212.2,180.1 1212.1,180.3 1210.3,183.2 1208.1,185.4 1203.9,187.7 1201.9,188.4 1198.6,188.8 1195.3,188.4 1193.3,187.7 1189.1,185.4 1186.9,183.2 1185.1,180.3 1184.1,177.7 1184.1,169.9 1185.1,167.3 1186.9,164.4 1188.5,162.8 1195.9,159.1 1198.6,158.8 1201.9,159.2 1203.9,159.9 1208.1,162.2 1210.3,164.4 1212.1,167.3 1212.2,167.5" fill="url(#pg12)"/>
<polygon points="1242.4,173.8 1242.0,177.1 1240.9,180.3 1239.1,183.2 1236.7,185.5 1233.9,187.3 1230.7,188.4 1227.4,188.8 1224.7,188.5 1217.3,184.8 1215.7,183.2 1213.9,180.3 1213.8,180.1 1213.8,167.5 1213.9,167.3 1215.7,164.4 1217.3,162.8 1224.7,159.1 1227.4,158.8 1230.7,159.2 1233.9,160.3 1236.7,162.1 1239.1,164.4 1240.9,167.3 1242.0,170.5" fill="url(#pg37)"/>
<polygon points="1014.9,204.8 1014.0,207.4 1012.2,210.2 1009.8,212.6 1007.0,214.4 1003.8,215.5 1000.5,215.9 997.1,215.5 993.9,214.4 991.1,212.6 988.7,210.2 986.9,207.4 985.8,204.2 985.5,200.9 985.8,197.6 986.9,194.4 988.7,191.5 991.1,189.2 993.9,187.4 997.1,186.3 1000.5,185.9 1003.8,186.3 1007.0,187.4 1009.8,189.2 1012.2,191.5 1014.0,194.4 1014.9,197.0" fill="url(#pg38)"/>
<polygon points="1045.4,204.8 1044.4,207.4 1042.7,210.2 1042.0,210.9 1036.0,214.9 1034.3,215.5 1033.1,215.6 1019.1,210.0 1017.4,207.4 1016.5,204.8 1016.5,197.0 1017.4,194.4 1019.2,191.5 1020.6,190.2 1031.8,186.0 1034.3,186.3 1037.4,187.4 1040.3,189.2 1042.7,191.5 1044.4,194.4 1045.4,197.0" fill="url(#pg29)"/>
<polygon points="1075.4,206.0 1074.9,207.4 1073.1,210.2 1072.5,210.9 1066.4,214.9 1064.8,215.5 1061.4,215.9 1060.4,215.8 1049.5,209.9 1047.9,207.4 1047.0,204.8 1047.0,197.0 1047.9,194.4 1049.7,191.5 1051.3,189.9 1058.7,186.2 1061.4,185.9 1064.8,186.3 1067.9,187.4 1070.8,189.2 1073.1,191.5 1074.9,194.4 1075.4,195.8" fill="url(#pg9)"/>
<polygon points="1105.1,206.0 1104.6,207.4 1102.8,210.2 1102.6,210.4 1094.8,215.4 1094.4,215.5 1091.1,215.9 1079.1,209.9 1077.5,207.4 1077.0,206.0 1077.0,195.8 1077.5,194.4 1079.3,191.5 1080.8,190.1 1089.3,186.1 1091.1,185.9 1094.4,186.3 1097.6,187.4 1100.4,189.2 1102.8,191.5 1104.6,194.4 1105.1,195.8" fill="url(#pg47)"/>
<polygon points="1135.1,204.8 1134.2,207.4 1132.4,210.2 1131.8,210.9 1125.7,214.9 1124.0,215.5 1120.7,215.9 1119.7,215.8 1108.8,209.9 1107.2,207.4 1106.7,206.0 1106.7,195.8 1107.2,194.4 1109.0,191.5 1110.6,189.9 1118.0,186.2 1120.7,185.9 1124.0,186.3 1127.2,187.4 1130.0,189.2 1132.4,191.5 1134.2,194.4 1135.1,197.0" fill="url(#pg75)"/>
<polygon points="1166.2,200.9 1165.8,204.2 1164.7,207.4 1162.9,210.2 1153.9,215.6 1151.2,215.9 1150.2,215.8 1139.3,209.9 1137.7,207.4 1136.7,204.8 1136.7,197.0 1137.7,194.4 1139.4,191.5 1141.1,189.9 1148.5,186.2 1151.2,185.9 1154.5,186.3 1157.7,187.4 1160.5,189.2 1162.9,191.5 1164.7,194.4 1165.8,197.6" fill="url(#pg5)"/>
<polygon points="1197.8,204.8 1196.9,207.4 1195.3,209.9 1184.3,215.8 1183.3,215.9 1180.0,215.5 1178.3,214.9 1172.3,210.9 1171.6,210.2 1169.8,207.4 1168.7,204.2 1168.3,200.9 1168.7,197.6 1169.8,194.4 1171.6,191.5 1173.8,189.3 1178.1,187.0 1180.0,186.3 1183.3,185.9 1186.7,186.3 1188.6,187.0 1192.9,189.3 1195.1,191.5 1196.9,194.4 1197.8,197.0" fill="url(#pg41)"/>
<polygon points="1228.8,200.9 1228.5,204.2 1227.3,207.4 1225.7,209.9 1214.8,215.8 1213.8,215.9 1210.5,215.5 1208.8,214.9 1202.7,210.9 1202.1,210.2 1200.3,207.4 1199.4,204.8 1199.4,197.0 1200.3,194.4 1202.1,191.5 1204.3,189.3 1208.5,187.0 1210.5,186.3 1213.8,185.9 1216.5,186.2 1223.9,189.9 1225.6,191.5 1227.3,194.4 1228.5,197.6" fill="url(#pg63)"/>
<polygon points="1033.5,234.0 1032.5,235.7 1030.1,238.0 1027.3,239.8 1024.1,240.9 1020.8,241.3 1017.4,240.9 1014.3,239.8 1011.4,238.0 1009.0,235.7 1007.3,232.8 1006.2,229.6 1005.8,226.3 1006.2,223.0 1007.3,219.8 1009.0,216.9 1011.4,214.6 1014.3,212.8 1017.4,211.7 1018.6,211.5 1032.6,217.2 1033.5,218.6" fill="url(#pg43)"/>
<polygon points="1062.3,230.2 1061.4,232.8 1059.6,235.7 1057.2,238.0 1054.4,239.8 1051.2,240.9 1047.9,241.3 1044.5,240.9 1041.4,239.8 1038.5,238.0 1036.1,235.7 1035.1,234.0 1035.1,218.6 1036.1,216.9 1036.8,216.3 1042.8,212.3 1044.5,211.7 1047.9,211.3 1048.8,211.4 1059.8,217.2 1061.4,219.8 1062.3,222.4" fill="url(#pg10)"/>
<polygon points="1091.9,232.6 1091.9,232.8 1090.1,235.7 1087.7,238.0 1084.9,239.8 1081.7,240.9 1078.4,241.3 1075.0,240.9 1071.8,239.8 1069.0,238.0 1066.6,235.7 1064.8,232.8 1063.9,230.2 1063.9,222.4 1064.8,219.8 1066.6,216.9 1067.3,216.3 1073.3,212.3 1075.0,211.7 1078.3,211.3 1090.3,217.3 1091.9,219.8 1091.9,220.0" fill="url(#pg68)"/>
<polygon points="1121.6,230.2 1120.7,232.8 1118.9,235.7 1116.5,238.0 1113.6,239.8 1110.5,240.9 1107.1,241.3 1103.8,240.9 1100.6,239.8 1097.8,238.0 1095.4,235.7 1093.6,232.8 1093.5,232.6 1093.5,220.0 1093.6,219.8 1095.4,216.9 1095.6,216.8 1103.4,211.8 1103.8,211.7 1107.1,211.3 1108.1,211.4 1119.1,217.2 1120.7,219.8 1121.6,222.4" fill="url(#pg38)"/>
<polygon points="1151.2,232.6 1151.1,232.8 1149.4,235.7 1147.0,238.0 1144.1,239.8 1141.0,240.9 1137.6,241.3 1134.3,240.9 1131.1,239.8 1128.3,238.0 1125.9,235.7 1124.1,232.8 1123.2,230.2 1123.2,222.4 1124.1,219.8 1125.9,216.9 1126.5,216.3 1132.6,212.3 1134.3,211.7 1137.6,211.3 1138.6,211.4 1149.5,217.2 1151.1,219.8 1151.2,220.0" fill="url(#pg23)"/>
<polygon points="1180.9,230.2 1179.9,232.8 1178.1,235.7 1175.8,238.0 1172.9,239.8 1169.8,240.9 1166.4,241.3 1163.1,240.9 1159.9,239.8 1157.1,238.0 1154.7,235.7 1152.9,232.8 1152.8,232.6 1152.8,220.0 1152.9,219.8 1154.6,217.0 1163.7,211.6 1166.4,211.3 1169.8,211.7 1171.4,212.3 1177.5,216.3 1178.1,216.9 1179.9,219.8 1180.9,222.4" fill="url(#pg32)"/>
<polygon points="1211.3,230.2 1210.4,232.8 1208.6,235.7 1206.2,238.0 1203.4,239.8 1200.2,240.9 1196.9,241.3 1193.6,240.9 1190.4,239.8 1187.5,238.0 1185.2,235.7 1183.4,232.8 1182.5,230.2 1182.5,222.4 1183.4,219.8 1185.0,217.2 1195.9,211.4 1196.9,211.3 1200.2,211.7 1201.9,212.3 1208.0,216.3 1208.6,216.9 1210.4,219.8 1211.3,222.4" fill="url(#pg63)"/>
<polygon points="1242.4,226.3 1242.0,229.6 1240.9,232.8 1239.1,235.7 1236.7,238.0 1233.9,239.8 1230.7,240.9 1227.4,241.3 1224.0,240.9 1220.9,239.8 1218.0,238.0 1215.7,235.7 1213.9,232.8 1212.9,230.2 1212.9,222.4 1213.9,219.8 1215.5,217.2 1226.4,211.4 1227.4,211.3 1230.7,211.7 1233.9,212.8 1236.7,214.6 1239.1,216.9 1240.9,219.8 1242.0,223.0" fill="url(#pg35)"/>
</g>
</g>
</g>
<clipPath id="clipt6"><rect x="106.0" y="239.5" width="219.0" height="219.5"/></clipPath>
<g clip-path="url(#clipt6)">
<g filter="url(#grain)">
<rect x="106.0" y="239.5" width="219.0" height="219.5" fill="#cfe6ef"/>
<g filter="url(#soft)">
<radialGradient id="pg76"><stop offset="0" stop-color="#3e5965"/><stop offset="0.55" stop-color="#405c69"/><stop offset="1" stop-color="#56727f"/></radialGradient>
<polygon points="132.1,238.9 131.4,240.9 130.1,242.9 116.4,251.3 114.5,251.5 110.8,251.1 99.0,243.2 97.5,240.9 96.1,236.9 95.7,232.7 96.1,228.5 97.5,224.6 99.8,221.0 102.7,218.0 106.3,215.8 110.3,214.4 114.5,213.9 118.7,214.4 122.6,215.8 126.2,218.0 129.2,221.0 131.4,224.6 132.1,226.5" fill="url(#pg76)"/>
<radialGradient id="pg77"><stop offset="0" stop-color="#77909e"/><stop offset="0.55" stop-color="#7b95a3"/><stop offset="1" stop-color="#7d97a6"/></radialGradient>
<polygon points="170.2,235.6 170.1,236.9 168.7,240.9 167.2,243.2 155.4,251.1 151.7,251.5 149.8,251.3 136.1,242.9 134.8,240.9 134.1,238.9 134.1,226.5 134.8,224.6 137.0,221.0 140.0,218.0 143.6,215.8 147.5,214.4 151.7,213.9 155.9,214.4 159.9,215.8 163.4,218.0 166.4,221.0 168.7,224.6 170.1,228.5 170.2,229.8" fill="url(#pg77)"/>
<radialGradient id="pg78"><stop offset="0" stop-color="#5b7684"/><stop offset="0.55" stop-color="#5e7a89"/><stop offset="1" stop-color="#678291"/></radialGradient>
<polygon points="209.1,235.6 209.0,236.9 207.6,240.9 206.1,243.2 194.3,251.1 190.7,251.5 188.7,251.3 175.0,242.9 173.7,240.9 172.3,236.9 172.2,235.6 172.2,229.8 172.3,228.5 173.7,224.6 176.0,221.0 179.0,218.0 182.5,215.8 186.5,214.4 190.7,213.9 194.9,214.4 198.8,215.8 202.4,218.0 205.4,221.0 207.6,224.6 209.0,228.5 209.1,229.8" fill="url(#pg78)"/>
<radialGradient id="pg79"><stop offset="0" stop-color="#718996"/><stop offset="0.55" stop-color="#758e9b"/><stop offset="1" stop-color="#77909e"/></radialGradient>
<polygon points="248.1,235.6 248.0,236.9 246.6,240.9 245.1,243.2 233.3,251.1 229.6,251.5 227.7,251.3 214.0,242.9 212.7,240.9 211.3,236.9 211.1,235.6 211.1,229.8 211.3,228.5 212.7,224.6 214.9,221.0 217.9,218.0 221.5,215.8 225.4,214.4 229.6,213.9 233.8,214.4 237.8,215.8 241.3,218.0 244.3,221.0 246.6,224.6 248.0,228.5 248.1,229.8" fill="url(#pg79)"/>
<radialGradient id="pg80"><stop offset="0" stop-color="#3f5b67"/><stop offset="0.55" stop-color="#415e6b"/><stop offset="1" stop-color="#577380"/></radialGradient>
<polygon points="287.0,235.6 286.9,236.9 285.5,240.9 283.5,244.1 275.5,250.1 272.8,251.1 268.6,251.5 266.6,251.3 252.9,242.9 251.6,240.9 250.2,236.9 250.1,235.6 250.1,229.8 250.2,228.5 251.6,224.6 253.9,221.0 256.9,218.0 260.4,215.8 264.4,214.4 268.6,213.9 272.8,214.4 276.7,215.8 280.3,218.0 283.3,221.0 285.5,224.6 286.9,228.5 287.0,229.8" fill="url(#pg80)"/>
<radialGradient id="pg81"><stop offset="0" stop-color="#738c99"/><stop offset="0.55" stop-color="#77919e"/><stop offset="1" stop-color="#7993a1"/></radialGradient>
<polygon points="326.3,232.7 325.9,236.9 324.5,240.9 323.2,242.9 309.5,251.3 308.2,251.4 291.8,242.8 290.6,240.9 289.2,236.9 289.0,235.6 289.0,229.8 289.2,228.5 290.6,224.6 292.8,221.0 295.8,218.0 299.4,215.8 303.3,214.4 307.5,213.9 311.7,214.4 315.7,215.8 319.2,218.0 322.2,221.0 324.5,224.6 325.9,228.5" fill="url(#pg81)"/>
<radialGradient id="pg82"><stop offset="0" stop-color="#718997"/><stop offset="0.55" stop-color="#758e9c"/><stop offset="1" stop-color="#77909f"/></radialGradient>
<polygon points="112.6,266.1 112.5,267.4 111.1,271.4 108.8,274.9 105.9,277.9 103.3,279.5 101.8,280.3 98.3,281.5 94.1,282.0 90.0,281.5 86.0,280.1 82.4,277.9 79.4,274.9 77.2,271.4 75.8,267.4 75.3,263.2 75.8,259.0 77.2,255.1 79.4,251.5 82.4,248.5 86.0,246.3 90.0,244.9 94.1,244.4 97.8,244.8 109.6,252.7 111.1,255.1 112.5,259.0 112.6,260.3" fill="url(#pg82)"/>
<radialGradient id="pg83"><stop offset="0" stop-color="#748c9a"/><stop offset="0.55" stop-color="#78919f"/><stop offset="1" stop-color="#7a93a2"/></radialGradient>
<polygon points="151.6,266.1 151.4,267.4 150.0,271.4 147.8,274.9 144.9,277.8 137.3,281.5 137.3,281.5 133.1,282.0 128.9,281.5 124.9,280.1 121.4,277.9 118.4,274.9 116.2,271.4 114.8,267.4 114.6,266.1 114.6,260.3 114.8,259.0 116.2,255.1 117.4,253.0 131.2,244.6 133.1,244.4 135.0,244.6 148.8,253.0 150.0,255.1 151.4,259.0 151.6,260.3" fill="url(#pg83)"/>
<polygon points="190.5,266.1 190.4,267.4 189.0,271.4 186.7,274.9 183.8,277.8 176.3,281.5 176.2,281.5 172.0,282.0 167.9,281.5 163.9,280.1 160.3,277.9 157.3,274.9 155.1,271.4 153.7,267.4 153.6,266.1 153.6,260.3 153.7,259.0 155.1,255.1 156.6,252.7 168.4,244.8 172.0,244.4 174.0,244.6 187.7,253.0 189.0,255.1 190.4,259.0 190.5,260.3" fill="url(#pg80)"/>
<radialGradient id="pg84"><stop offset="0" stop-color="#28404a"/><stop offset="0.55" stop-color="#2a424d"/><stop offset="1" stop-color="#4e6774"/></radialGradient>
<polygon points="229.5,266.1 229.3,267.4 227.9,271.4 225.7,274.9 222.8,277.8 215.2,281.5 215.2,281.5 211.0,282.0 206.8,281.5 202.8,280.1 199.3,277.9 196.3,274.9 194.1,271.4 192.7,267.4 192.5,266.1 192.5,260.3 192.7,259.0 194.1,255.1 195.5,252.7 207.4,244.8 211.0,244.4 212.9,244.6 226.7,253.0 227.9,255.1 229.3,259.0 229.5,260.3" fill="url(#pg84)"/>
<polygon points="268.7,263.2 268.3,267.4 266.9,271.4 264.6,274.9 261.7,277.8 254.2,281.5 254.1,281.5 249.9,282.0 245.8,281.5 241.8,280.1 238.2,277.9 235.2,274.9 233.0,271.4 231.6,267.4 231.5,266.1 231.5,260.3 231.6,259.0 233.0,255.1 234.5,252.7 246.3,244.8 249.9,244.4 251.9,244.6 265.6,253.0 266.9,255.1 268.3,259.0" fill="url(#pg80)"/>
<radialGradient id="pg85"><stop offset="0" stop-color="#2c4550"/><stop offset="0.55" stop-color="#2e4853"/><stop offset="1" stop-color="#516b77"/></radialGradient>
<polygon points="307.8,272.3 306.1,274.9 303.4,277.6 294.8,281.6 291.4,282.0 287.3,281.5 283.3,280.1 279.7,277.9 276.7,274.9 274.5,271.4 273.1,267.4 272.6,263.2 273.1,259.0 274.5,255.1 276.5,251.8 284.5,245.8 287.3,244.9 290.7,244.5 307.2,253.2 307.8,254.1" fill="url(#pg85)"/>
<radialGradient id="pg86"><stop offset="0" stop-color="#768f9d"/><stop offset="0.55" stop-color="#7a94a2"/><stop offset="1" stop-color="#7c96a5"/></radialGradient>
<polygon points="345.0,263.2 344.5,267.4 343.1,271.4 340.9,274.9 337.9,277.9 334.3,280.1 330.3,281.5 326.2,282.0 322.0,281.5 318.5,280.3 317.0,279.5 314.4,277.9 311.5,274.9 309.8,272.3 309.8,254.1 310.5,253.0 324.2,244.6 326.2,244.4 330.3,244.9 334.3,246.3 337.9,248.5 340.9,251.5 343.1,255.1 344.5,259.0" fill="url(#pg86)"/>
<radialGradient id="pg87"><stop offset="0" stop-color="#758e9c"/><stop offset="0.55" stop-color="#7993a1"/><stop offset="1" stop-color="#7b95a4"/></radialGradient>
<polygon points="130.4,304.1 129.7,306.1 127.5,309.6 125.5,311.6 116.0,316.4 112.8,316.7 108.6,316.3 104.6,314.9 101.1,312.6 98.1,309.6 95.8,306.1 94.4,302.1 94.0,297.9 94.4,293.7 95.8,289.8 98.1,286.2 101.1,283.2 103.6,281.6 105.1,280.8 108.6,279.6 112.8,279.1 117.0,279.6 120.9,281.0 124.5,283.2 127.5,286.2 129.7,289.8 130.4,291.7" fill="url(#pg87)"/>
<radialGradient id="pg88"><stop offset="0" stop-color="#597481"/><stop offset="0.55" stop-color="#5c7886"/><stop offset="1" stop-color="#65818f"/></radialGradient>
<polygon points="168.5,300.8 168.4,302.1 167.0,306.1 164.7,309.6 161.8,312.6 158.2,314.9 154.2,316.3 150.0,316.7 145.8,316.3 141.9,314.9 138.3,312.6 135.3,309.6 133.1,306.1 132.4,304.1 132.4,291.7 133.1,289.8 135.3,286.2 138.2,283.3 145.8,279.6 145.8,279.6 150.0,279.1 154.2,279.6 158.2,281.0 161.8,283.2 164.7,286.2 167.0,289.8 168.4,293.7 168.5,295.0" fill="url(#pg88)"/>
<radialGradient id="pg89"><stop offset="0" stop-color="#7992a0"/><stop offset="0.55" stop-color="#7d97a5"/><stop offset="1" stop-color="#7f9aa8"/></radialGradient>
<polygon points="207.5,300.8 207.3,302.1 205.9,306.1 203.7,309.6 200.7,312.6 197.1,314.9 193.2,316.3 189.0,316.7 184.8,316.3 183.4,315.8 176.8,312.1 174.3,309.6 172.0,306.1 170.7,302.1 170.5,300.8 170.5,295.0 170.7,293.7 172.0,289.8 174.3,286.2 177.2,283.3 184.7,279.6 184.8,279.6 189.0,279.1 193.2,279.6 197.1,281.0 200.7,283.2 203.7,286.2 205.9,289.8 207.3,293.7 207.5,295.0" fill="url(#pg89)"/>
<radialGradient id="pg90"><stop offset="0" stop-color="#7a93a1"/><stop offset="0.55" stop-color="#7e98a7"/><stop offset="1" stop-color="#809baa"/></radialGradient>
<polygon points="246.4,300.8 246.3,302.1 244.9,306.1 242.6,309.6 240.2,312.1 233.5,315.8 232.1,316.3 227.9,316.7 223.7,316.3 222.3,315.8 215.7,312.1 213.2,309.6 211.0,306.1 209.6,302.1 209.5,300.8 209.5,295.0 209.6,293.7 211.0,289.8 213.2,286.2 216.1,283.3 223.7,279.6 223.7,279.6 227.9,279.1 232.1,279.6 236.1,281.0 239.7,283.2 242.6,286.2 244.9,289.8 246.3,293.7 246.4,295.0" fill="url(#pg90)"/>
<radialGradient id="pg91"><stop offset="0" stop-color="#78919f"/><stop offset="0.55" stop-color="#7c96a4"/><stop offset="1" stop-color="#7e99a7"/></radialGradient>
<polygon points="285.7,297.9 285.2,302.1 283.8,306.1 281.6,309.6 278.6,312.6 275.0,314.9 271.1,316.3 266.9,316.7 262.7,316.3 258.7,314.9 255.2,312.6 252.2,309.6 249.9,306.1 248.6,302.1 248.4,300.8 248.4,295.0 248.6,293.7 249.9,289.8 252.2,286.2 255.1,283.3 262.6,279.6 262.7,279.6 266.9,279.1 271.1,279.6 275.0,281.0 278.6,283.2 281.6,286.2 283.8,289.8 285.2,293.7" fill="url(#pg91)"/>
<radialGradient id="pg92"><stop offset="0" stop-color="#7892a0"/><stop offset="0.55" stop-color="#7c97a5"/><stop offset="1" stop-color="#7e9aa8"/></radialGradient>
<polygon points="326.3,297.9 325.9,302.1 324.5,306.1 322.2,309.6 320.3,311.6 310.8,316.4 307.5,316.7 303.5,316.3 295.0,311.8 292.8,309.6 290.6,306.1 289.2,302.1 288.7,297.9 289.2,293.7 290.6,289.8 292.8,286.2 295.5,283.5 304.1,279.5 307.5,279.1 311.7,279.6 315.2,280.8 316.7,281.6 319.2,283.2 322.2,286.2 324.5,289.8 325.9,293.7" fill="url(#pg92)"/>
<polygon points="109.2,334.7 109.1,336.0 107.7,340.0 105.5,343.5 102.5,346.5 98.9,348.7 94.9,350.1 90.8,350.6 86.6,350.1 82.6,348.7 79.0,346.5 76.1,343.5 73.8,340.0 72.4,336.0 72.0,331.8 72.4,327.6 73.8,323.6 76.1,320.1 79.0,317.1 82.6,314.9 86.6,313.5 90.8,313.0 94.9,313.5 98.9,314.9 102.5,317.1 105.5,320.1 107.7,323.6 109.1,327.6 109.2,328.9" fill="url(#pg82)"/>
<radialGradient id="pg93"><stop offset="0" stop-color="#728a98"/><stop offset="0.55" stop-color="#768f9d"/><stop offset="1" stop-color="#7891a0"/></radialGradient>
<polygon points="148.5,331.8 148.0,336.0 146.6,340.0 144.4,343.5 141.4,346.5 137.9,348.7 133.9,350.1 129.7,350.6 125.5,350.1 122.2,348.9 121.4,348.6 118.0,346.5 115.0,343.5 112.8,340.0 111.4,336.0 111.2,334.7 111.2,328.9 111.4,327.6 112.8,323.6 115.0,320.1 117.0,318.1 126.5,313.4 129.7,313.0 133.9,313.5 137.9,314.9 141.4,317.1 144.4,320.1 146.6,323.6 148.0,327.6" fill="url(#pg93)"/>
<radialGradient id="pg94"><stop offset="0" stop-color="#28404b"/><stop offset="0.55" stop-color="#2a434e"/><stop offset="1" stop-color="#4e6874"/></radialGradient>
<polygon points="188.8,334.7 188.7,336.0 187.3,340.0 185.1,343.5 182.1,346.5 178.5,348.7 174.5,350.1 170.4,350.6 166.2,350.1 162.2,348.7 158.6,346.5 155.7,343.5 153.4,340.0 152.0,336.0 151.6,331.8 152.0,327.6 153.4,323.6 155.7,320.1 158.6,317.1 162.2,314.9 166.2,313.5 170.4,313.0 174.5,313.5 176.0,314.0 182.6,317.6 185.1,320.1 187.3,323.6 188.7,327.6 188.8,328.9" fill="url(#pg94)"/>
<radialGradient id="pg95"><stop offset="0" stop-color="#7993a1"/><stop offset="0.55" stop-color="#7d98a6"/><stop offset="1" stop-color="#7f9ba9"/></radialGradient>
<polygon points="226.9,338.0 226.2,340.0 224.0,343.5 221.0,346.5 217.5,348.7 213.5,350.1 209.3,350.6 205.1,350.1 201.1,348.7 197.6,346.5 194.6,343.5 192.4,340.0 191.0,336.0 190.8,334.7 190.8,328.9 191.0,327.6 192.4,323.6 194.6,320.1 197.6,317.1 201.1,314.9 205.1,313.5 209.3,313.0 213.5,313.5 214.9,314.0 221.5,317.6 224.0,320.1 226.2,323.6 226.9,325.6" fill="url(#pg95)"/>
<radialGradient id="pg96"><stop offset="0" stop-color="#748d9a"/><stop offset="0.55" stop-color="#78929f"/><stop offset="1" stop-color="#7a94a2"/></radialGradient>
<polygon points="265.4,331.8 264.9,336.0 263.5,340.0 261.3,343.5 258.3,346.5 254.7,348.7 250.7,350.1 246.6,350.6 242.4,350.1 238.4,348.7 234.8,346.5 231.9,343.5 229.6,340.0 228.9,338.0 228.9,325.6 229.6,323.6 231.9,320.1 234.3,317.6 240.9,314.0 242.4,313.5 246.6,313.0 250.7,313.5 254.7,314.9 258.3,317.1 261.3,320.1 263.5,323.6 264.9,327.6" fill="url(#pg96)"/>
<radialGradient id="pg97"><stop offset="0" stop-color="#77919f"/><stop offset="0.55" stop-color="#7b96a4"/><stop offset="1" stop-color="#7d99a7"/></radialGradient>
<polygon points="306.1,340.9 304.4,343.5 301.5,346.5 297.9,348.7 293.9,350.1 289.7,350.6 285.6,350.1 281.6,348.7 278.0,346.5 275.0,343.5 272.8,340.0 271.4,336.0 270.9,331.8 271.4,327.6 272.8,323.6 275.0,320.1 278.0,317.1 281.6,314.9 285.6,313.5 289.7,313.0 293.8,313.5 302.3,317.9 304.4,320.1 306.1,322.7" fill="url(#pg97)"/>
<radialGradient id="pg98"><stop offset="0" stop-color="#718896"/><stop offset="0.55" stop-color="#758d9b"/><stop offset="1" stop-color="#778f9e"/></radialGradient>
<polygon points="343.3,331.8 342.8,336.0 341.4,340.0 339.2,343.5 336.2,346.5 332.6,348.7 328.6,350.1 324.5,350.6 320.3,350.1 316.3,348.7 312.7,346.5 309.8,343.5 308.1,340.9 308.1,322.7 309.8,320.1 311.7,318.1 321.2,313.4 324.5,313.0 328.6,313.5 332.6,314.9 336.2,317.1 339.2,320.1 341.4,323.6 342.8,327.6" fill="url(#pg98)"/>
<polygon points="132.1,374.4 131.4,376.4 129.2,379.9 127.5,381.6 115.9,386.8 114.5,387.0 110.3,386.5 106.3,385.1 102.7,382.9 99.8,379.9 97.5,376.4 96.1,372.4 95.7,368.2 96.1,364.0 97.5,360.0 99.8,356.5 102.7,353.5 106.3,351.3 110.3,349.9 114.5,349.4 118.7,349.9 122.0,351.1 122.8,351.4 126.2,353.5 129.2,356.5 131.4,360.0 132.1,362.0" fill="url(#pg79)"/>
<polygon points="170.2,371.1 170.1,372.4 168.7,376.4 166.4,379.9 164.5,381.9 155.0,386.6 151.7,387.0 147.5,386.5 143.6,385.1 140.0,382.9 137.0,379.9 134.8,376.4 134.1,374.4 134.1,362.0 134.8,360.0 137.0,356.5 140.0,353.5 143.6,351.3 147.5,349.9 151.7,349.4 155.9,349.9 159.9,351.3 163.4,353.5 166.4,356.5 168.7,360.0 170.1,364.0 170.2,365.3" fill="url(#pg83)"/>
<radialGradient id="pg99"><stop offset="0" stop-color="#2a434e"/><stop offset="0.55" stop-color="#2c4651"/><stop offset="1" stop-color="#506a76"/></radialGradient>
<polygon points="209.1,371.1 209.0,372.4 207.6,376.4 205.4,379.9 203.7,381.6 192.1,386.8 190.7,387.0 186.5,386.5 182.5,385.1 179.0,382.9 176.0,379.9 173.7,376.4 172.3,372.4 172.2,371.1 172.2,365.3 172.3,364.0 173.7,360.0 176.0,356.5 179.0,353.5 182.5,351.3 186.5,349.9 190.7,349.4 194.9,349.9 198.8,351.3 202.4,353.5 205.4,356.5 207.6,360.0 209.0,364.0 209.1,365.3" fill="url(#pg99)"/>
<radialGradient id="pg100"><stop offset="0" stop-color="#7992a1"/><stop offset="0.55" stop-color="#7d97a6"/><stop offset="1" stop-color="#7f9aa9"/></radialGradient>
<polygon points="248.1,371.1 248.0,372.4 246.6,376.4 244.3,379.9 242.6,381.6 231.0,386.8 229.6,387.0 225.4,386.5 221.5,385.1 217.9,382.9 214.9,379.9 212.7,376.4 211.3,372.4 211.1,371.1 211.1,365.3 211.3,364.0 212.7,360.0 214.9,356.5 217.9,353.5 221.5,351.3 225.4,349.9 229.6,349.4 233.8,349.9 237.8,351.3 241.3,353.5 244.3,356.5 246.6,360.0 248.0,364.0 248.1,365.3" fill="url(#pg100)"/>
<polygon points="287.0,371.1 286.9,372.4 285.5,376.4 283.3,379.9 281.3,381.9 271.8,386.6 268.6,387.0 264.4,386.5 260.4,385.1 256.9,382.9 253.9,379.9 251.6,376.4 250.2,372.4 250.1,371.1 250.1,365.3 250.2,364.0 251.6,360.0 253.9,356.5 256.9,353.5 260.4,351.3 264.4,349.9 268.6,349.4 272.8,349.9 276.7,351.3 280.3,353.5 283.3,356.5 285.5,360.0 286.9,364.0 287.0,365.3" fill="url(#pg99)"/>
<polygon points="326.3,368.2 325.9,372.4 324.5,376.4 322.2,379.9 320.6,381.5 307.1,387.0 303.3,386.5 299.4,385.1 295.8,382.9 292.8,379.9 290.6,376.4 289.2,372.4 289.0,371.1 289.0,365.3 289.2,364.0 290.6,360.0 292.8,356.5 295.8,353.5 299.4,351.3 303.3,349.9 307.5,349.4 311.7,349.9 315.7,351.3 319.2,353.5 322.2,356.5 324.5,360.0 325.9,364.0" fill="url(#pg83)"/>
<polygon points="110.1,408.3 109.4,410.2 107.2,413.8 104.2,416.8 100.6,419.0 96.6,420.4 92.5,420.9 88.3,420.4 84.3,419.0 80.7,416.8 77.8,413.8 75.5,410.2 74.1,406.3 73.7,402.1 74.1,397.9 75.5,393.9 77.8,390.4 80.7,387.4 84.3,385.1 88.3,383.7 92.5,383.3 96.6,383.7 100.6,385.1 104.2,387.4 107.2,390.4 109.4,393.9 110.1,395.9" fill="url(#pg77)"/>
<polygon points="148.2,405.0 148.0,406.3 146.6,410.2 144.4,413.8 141.4,416.8 137.9,419.0 133.9,420.4 129.7,420.9 128.3,420.7 116.7,415.5 115.0,413.8 112.8,410.2 112.1,408.3 112.1,395.9 112.8,393.9 115.0,390.4 116.7,388.7 128.3,383.4 129.7,383.3 133.9,383.7 137.9,385.1 141.4,387.4 144.4,390.4 146.6,393.9 148.0,397.9 148.2,399.2" fill="url(#pg86)"/>
<polygon points="186.3,408.3 185.6,410.2 183.4,413.8 181.4,415.8 171.9,420.5 168.7,420.9 164.5,420.4 163.0,419.9 156.4,416.3 154.0,413.8 151.7,410.2 150.3,406.3 150.2,405.0 150.2,399.2 150.3,397.9 151.7,393.9 154.0,390.4 155.9,388.4 165.4,383.6 168.7,383.3 172.8,383.7 176.8,385.1 180.4,387.4 183.4,390.4 185.6,393.9 186.3,395.9" fill="url(#pg86)"/>
<radialGradient id="pg101"><stop offset="0" stop-color="#728a97"/><stop offset="0.55" stop-color="#768f9c"/><stop offset="1" stop-color="#78919f"/></radialGradient>
<polygon points="224.4,405.0 224.2,406.3 222.9,410.2 220.6,413.8 218.7,415.8 209.1,420.5 205.9,420.9 201.7,420.4 197.8,419.0 194.2,416.8 191.2,413.8 189.0,410.2 188.3,408.3 188.3,395.9 189.0,393.9 191.2,390.4 192.9,388.7 204.5,383.4 205.9,383.3 210.1,383.7 214.1,385.1 217.6,387.4 220.6,390.4 222.9,393.9 224.2,397.9 224.4,399.2" fill="url(#pg101)"/>
<radialGradient id="pg102"><stop offset="0" stop-color="#7b95a3"/><stop offset="0.55" stop-color="#7f9aa9"/><stop offset="1" stop-color="#819dac"/></radialGradient>
<polygon points="263.7,402.1 263.2,406.3 261.8,410.2 259.6,413.8 257.6,415.8 248.1,420.5 244.9,420.9 240.7,420.4 236.7,419.0 233.1,416.8 230.2,413.8 227.9,410.2 226.5,406.3 226.4,405.0 226.4,399.2 226.5,397.9 227.9,393.9 230.2,390.4 231.9,388.7 243.5,383.4 244.9,383.3 249.0,383.7 253.0,385.1 256.6,387.4 259.6,390.4 261.8,393.9 263.2,397.9" fill="url(#pg102)"/>
<radialGradient id="pg103"><stop offset="0" stop-color="#3c5661"/><stop offset="0.55" stop-color="#3e5965"/><stop offset="1" stop-color="#55707d"/></radialGradient>
<polygon points="302.3,410.5 300.2,413.8 298.5,415.5 286.9,420.7 285.5,420.9 281.3,420.4 277.4,419.0 273.8,416.8 270.8,413.8 268.6,410.2 267.2,406.3 266.7,402.1 267.2,397.9 268.6,393.9 270.8,390.4 272.8,388.4 282.3,383.6 285.5,383.3 289.7,383.7 293.7,385.1 297.2,387.4 300.2,390.4 302.3,393.7" fill="url(#pg103)"/>
<radialGradient id="pg104"><stop offset="0" stop-color="#7c97a4"/><stop offset="0.55" stop-color="#809caa"/><stop offset="1" stop-color="#829fad"/></radialGradient>
<polygon points="339.9,402.1 339.4,406.3 338.0,410.2 335.8,413.8 332.8,416.8 329.2,419.0 325.3,420.4 321.1,420.9 316.9,420.4 312.9,419.0 309.4,416.8 306.4,413.8 304.3,410.5 304.3,393.7 306.4,390.4 308.0,388.7 321.5,383.3 325.3,383.7 329.2,385.1 332.8,387.4 335.8,390.4 338.0,393.9 339.4,397.9" fill="url(#pg104)"/>
<radialGradient id="pg105"><stop offset="0" stop-color="#7c96a4"/><stop offset="0.55" stop-color="#809baa"/><stop offset="1" stop-color="#829ead"/></radialGradient>
<polygon points="131.2,444.4 129.2,447.5 114.1,454.7 110.3,454.3 106.3,452.9 102.7,450.6 99.8,447.7 97.5,444.1 96.1,440.1 95.7,435.9 96.1,431.8 97.5,427.8 99.8,424.2 102.7,421.2 106.3,419.0 110.3,417.6 114.5,417.1 115.9,417.3 127.5,422.5 129.2,424.2 131.2,427.5" fill="url(#pg105)"/>
<radialGradient id="pg106"><stop offset="0" stop-color="#3a5460"/><stop offset="0.55" stop-color="#3c5763"/><stop offset="1" stop-color="#546f7b"/></radialGradient>
<polygon points="166.8,444.4 164.7,447.7 164.5,447.9 153.3,454.4 150.0,454.7 145.8,454.3 144.6,453.8 136.2,448.5 135.3,447.7 133.2,444.4 133.2,427.5 135.3,424.2 138.3,421.2 141.9,419.0 145.8,417.6 150.0,417.1 154.2,417.6 155.6,418.1 162.3,421.8 164.7,424.2 166.8,427.5" fill="url(#pg106)"/>
<radialGradient id="pg107"><stop offset="0" stop-color="#29414c"/><stop offset="0.55" stop-color="#2b444f"/><stop offset="1" stop-color="#4f6875"/></radialGradient>
<polygon points="203.2,442.1 202.5,444.1 200.3,447.7 199.4,448.5 191.0,453.8 189.8,454.3 185.6,454.7 184.1,454.6 170.9,447.6 168.8,444.4 168.8,427.5 170.9,424.2 172.9,422.3 182.4,417.5 185.6,417.1 189.8,417.6 193.8,419.0 197.3,421.2 200.3,424.2 202.5,427.8 203.2,429.8" fill="url(#pg107)"/>
<radialGradient id="pg108"><stop offset="0" stop-color="#7a94a2"/><stop offset="0.55" stop-color="#7e99a8"/><stop offset="1" stop-color="#809cab"/></radialGradient>
<polygon points="241.3,438.8 241.2,440.1 239.8,444.1 237.5,447.7 235.6,449.7 230.7,453.0 227.0,454.3 222.9,454.7 221.4,454.6 208.1,447.6 205.9,444.1 205.2,442.1 205.2,429.8 205.9,427.8 208.2,424.2 210.1,422.3 219.6,417.5 222.9,417.1 227.0,417.6 231.0,419.0 234.6,421.2 237.5,424.2 239.8,427.8 241.2,431.8 241.3,433.1" fill="url(#pg108)"/>
<polygon points="280.3,438.8 280.1,440.1 278.7,444.1 276.5,447.7 273.5,450.6 270.0,452.9 266.0,454.3 261.8,454.7 260.3,454.6 247.1,447.6 244.9,444.1 243.5,440.1 243.3,438.8 243.3,433.1 243.5,431.8 244.9,427.8 247.1,424.2 249.1,422.3 258.6,417.5 261.8,417.1 266.0,417.6 270.0,419.0 273.5,421.2 276.5,424.2 278.7,427.8 280.1,431.8 280.3,433.1" fill="url(#pg105)"/>
<polygon points="319.6,435.9 319.1,440.1 317.7,444.1 315.4,447.7 314.6,448.5 306.2,453.8 304.9,454.3 301.1,454.7 286.0,447.5 283.8,444.1 282.4,440.1 282.3,438.8 282.3,433.1 282.4,431.8 283.8,427.8 286.1,424.2 287.7,422.5 299.4,417.3 300.8,417.1 304.9,417.6 308.9,419.0 312.5,421.2 315.4,424.2 317.7,427.8 319.1,431.8" fill="url(#pg86)"/>
<polygon points="148.2,471.0 148.0,472.3 146.6,476.3 144.4,479.8 141.4,482.8 137.9,485.1 133.9,486.4 129.7,486.9 125.5,486.4 121.6,485.1 118.0,482.8 115.0,479.8 112.8,476.3 111.4,472.3 110.9,468.1 111.4,463.9 112.8,460.0 114.9,456.5 130.1,449.4 133.9,449.8 135.1,450.2 143.5,455.5 144.4,456.4 146.6,460.0 148.0,463.9 148.2,465.2" fill="url(#pg83)"/>
<radialGradient id="pg109"><stop offset="0" stop-color="#738b99"/><stop offset="0.55" stop-color="#77909e"/><stop offset="1" stop-color="#7992a1"/></radialGradient>
<polygon points="186.3,474.3 185.6,476.3 183.4,479.8 180.4,482.8 176.8,485.1 172.8,486.4 168.7,486.9 164.5,486.4 160.5,485.1 156.9,482.8 154.0,479.8 151.7,476.3 150.3,472.3 150.2,471.0 150.2,465.2 150.3,463.9 151.7,460.0 154.0,456.4 154.2,456.2 165.4,449.7 168.7,449.3 170.1,449.5 183.4,456.5 185.6,460.0 186.3,461.9" fill="url(#pg109)"/>
<polygon points="224.4,471.0 224.2,472.3 222.9,476.3 220.6,479.8 217.6,482.8 214.1,485.1 210.1,486.4 205.9,486.9 201.7,486.4 197.8,485.1 194.2,482.8 191.2,479.8 189.0,476.3 188.3,474.3 188.3,461.9 189.0,460.0 191.2,456.4 192.1,455.5 200.5,450.2 201.7,449.8 205.9,449.3 207.4,449.5 220.7,456.5 222.9,460.0 224.2,463.9 224.4,465.2" fill="url(#pg105)"/>
<polygon points="263.7,468.1 263.2,472.3 261.8,476.3 259.6,479.8 256.6,482.8 253.0,485.1 249.0,486.4 244.9,486.9 240.7,486.4 236.7,485.1 233.1,482.8 230.2,479.8 227.9,476.3 226.5,472.3 226.4,471.0 226.4,465.2 226.5,463.9 227.9,460.0 230.2,456.4 232.2,454.4 237.0,451.1 240.7,449.8 244.9,449.3 246.4,449.5 259.6,456.5 261.8,460.0 263.2,463.9" fill="url(#pg109)"/>
<polygon points="302.3,476.5 300.2,479.8 297.2,482.8 293.7,485.1 289.7,486.4 285.5,486.9 281.3,486.4 277.4,485.1 273.8,482.8 270.8,479.8 268.6,476.3 267.2,472.3 266.7,468.1 267.2,463.9 268.6,460.0 270.8,456.4 273.8,453.4 277.4,451.2 281.3,449.8 285.2,449.4 300.3,456.5 302.3,459.7" fill="url(#pg91)"/>
<polygon points="339.9,468.1 339.4,472.3 338.0,476.3 335.8,479.8 332.8,482.8 329.2,485.1 325.3,486.4 321.1,486.9 316.9,486.4 312.9,485.1 309.4,482.8 306.4,479.8 304.3,476.5 304.3,459.7 306.4,456.4 307.2,455.5 315.6,450.2 316.9,449.8 321.1,449.3 325.3,449.8 329.2,451.2 332.8,453.4 335.8,456.4 338.0,460.0 339.4,463.9" fill="url(#pg93)"/>
</g>
</g>
</g>
<clipPath id="clipt7"><rect x="333.0" y="239.5" width="219.0" height="219.5"/></clipPath>
<g clip-path="url(#clipt7)">
<g filter="url(#grain)">
<rect x="333.0" y="239.5" width="219.0" height="219.5" fill="#cfe6ef"/>
<g filter="url(#soft)">
<radialGradient id="pg110"><stop offset="0" stop-color="#819ba8"/><stop offset="0.55" stop-color="#86a0ae"/><stop offset="1" stop-color="#88a3b1"/></radialGradient>
<polygon points="354.4,229.0 354.3,230.0 353.0,233.9 350.8,237.4 347.9,240.3 344.4,242.5 340.5,243.9 336.4,244.4 332.3,243.9 328.4,242.5 324.9,240.3 322.0,237.4 319.8,233.9 318.4,230.0 318.0,226.0 318.4,221.9 319.8,218.0 322.0,214.5 324.9,211.6 328.4,209.4 332.3,208.0 336.4,207.6 340.5,208.0 344.4,209.4 347.9,211.6 350.8,214.5 353.0,218.0 354.3,221.9 354.4,222.9" fill="url(#pg110)"/>
<radialGradient id="pg111"><stop offset="0" stop-color="#87a1af"/><stop offset="0.55" stop-color="#8ca7b5"/><stop offset="1" stop-color="#8eaab8"/></radialGradient>
<polygon points="392.1,230.9 391.1,233.9 388.9,237.4 386.0,240.3 382.5,242.5 378.6,243.9 374.5,244.4 370.4,243.9 368.2,243.1 363.6,240.7 363.0,240.3 360.1,237.4 357.9,233.9 356.6,230.0 356.4,229.0 356.4,222.9 356.6,221.9 357.9,218.0 360.1,214.5 363.0,211.6 366.5,209.4 370.4,208.0 374.5,207.6 378.6,208.0 382.5,209.4 386.0,211.6 388.9,214.5 391.1,218.0 392.1,221.0" fill="url(#pg111)"/>
<radialGradient id="pg112"><stop offset="0" stop-color="#7d95a1"/><stop offset="0.55" stop-color="#819aa7"/><stop offset="1" stop-color="#839daa"/></radialGradient>
<polygon points="429.8,229.0 429.7,230.0 428.3,233.9 426.1,237.4 423.2,240.3 419.7,242.5 415.8,243.9 411.7,244.4 410.1,244.2 399.7,239.7 397.4,237.4 395.2,233.9 394.1,230.9 394.1,221.0 395.2,218.0 397.4,214.5 400.3,211.6 403.8,209.4 407.7,208.0 411.7,207.6 415.8,208.0 419.7,209.4 423.2,211.6 426.1,214.5 428.3,218.0 429.7,221.9 429.8,222.9" fill="url(#pg112)"/>
<radialGradient id="pg113"><stop offset="0" stop-color="#85a0ad"/><stop offset="0.55" stop-color="#8aa5b3"/><stop offset="1" stop-color="#8ca8b6"/></radialGradient>
<polygon points="467.9,229.0 467.8,230.0 466.4,233.9 464.2,237.4 461.3,240.3 457.8,242.5 453.9,243.9 449.9,244.4 447.3,244.1 437.9,239.8 435.5,237.4 433.3,233.9 431.9,230.0 431.8,229.0 431.8,222.9 431.9,221.9 433.3,218.0 435.5,214.5 438.4,211.6 441.9,209.4 445.8,208.0 449.9,207.6 453.9,208.0 457.8,209.4 461.3,211.6 464.2,214.5 466.4,218.0 467.8,221.9 467.9,222.9" fill="url(#pg113)"/>
<polygon points="506.4,226.0 505.9,230.0 504.5,233.9 502.3,237.4 499.4,240.3 495.9,242.5 492.0,243.9 488.0,244.4 484.5,244.0 476.1,240.0 473.6,237.4 471.4,233.9 470.0,230.0 469.9,229.0 469.9,222.9 470.0,221.9 471.4,218.0 473.6,214.5 476.5,211.6 480.0,209.4 483.9,208.0 488.0,207.6 492.0,208.0 495.9,209.4 499.4,211.6 502.3,214.5 504.5,218.0 505.9,221.9" fill="url(#pg110)"/>
<radialGradient id="pg114"><stop offset="0" stop-color="#86a1ae"/><stop offset="0.55" stop-color="#8ba6b4"/><stop offset="1" stop-color="#8da9b7"/></radialGradient>
<polygon points="546.2,226.0 545.7,230.0 544.3,233.9 542.1,237.4 539.2,240.3 535.7,242.5 531.8,243.9 527.8,244.4 523.7,243.9 523.2,243.7 516.1,240.2 513.4,237.4 511.2,233.9 509.8,230.0 509.4,226.0 509.8,221.9 511.2,218.0 513.4,214.5 516.3,211.6 519.8,209.4 523.7,208.0 527.8,207.6 531.8,208.0 535.7,209.4 539.2,211.6 542.1,214.5 544.3,218.0 545.7,221.9" fill="url(#pg114)"/>
<radialGradient id="pg115"><stop offset="0" stop-color="#839eab"/><stop offset="0.55" stop-color="#88a3b1"/><stop offset="1" stop-color="#8aa6b4"/></radialGradient>
<polygon points="375.1,259.8 374.6,263.9 373.3,267.8 371.1,271.3 368.2,274.2 364.7,276.4 360.8,277.8 356.7,278.2 352.6,277.8 348.7,276.4 345.2,274.2 342.3,271.3 340.1,267.8 338.8,263.9 338.3,259.8 338.8,255.7 340.1,251.8 342.3,248.3 345.2,245.4 348.7,243.2 352.6,241.9 356.7,241.4 360.8,241.9 363.0,242.7 367.6,245.0 368.2,245.4 371.1,248.3 373.3,251.8 374.6,255.7" fill="url(#pg115)"/>
<radialGradient id="pg116"><stop offset="0" stop-color="#57717f"/><stop offset="0.55" stop-color="#5a7583"/><stop offset="1" stop-color="#678290"/></radialGradient>
<polygon points="415.0,264.8 413.9,267.8 411.7,271.3 408.8,274.2 406.2,275.9 401.8,277.6 401.4,277.8 397.4,278.2 393.3,277.8 389.4,276.4 385.9,274.2 383.0,271.3 380.8,267.8 379.4,263.9 379.0,259.8 379.4,255.7 380.8,251.8 383.0,248.3 385.9,245.4 389.4,243.2 393.3,241.9 397.4,241.4 399.0,241.6 409.4,246.1 411.7,248.3 413.9,251.8 415.0,254.8" fill="url(#pg116)"/>
<polygon points="452.2,264.8 451.2,267.8 449.0,271.3 446.1,274.2 442.8,276.3 442.1,276.6 438.7,277.8 434.6,278.2 430.5,277.8 426.6,276.4 423.1,274.2 420.2,271.3 418.0,267.8 417.0,264.8 417.0,254.8 418.0,251.8 420.2,248.3 423.1,245.4 426.6,243.2 430.5,241.9 434.6,241.4 437.2,241.7 446.6,245.9 449.0,248.3 451.2,251.8 452.2,254.8" fill="url(#pg114)"/>
<radialGradient id="pg117"><stop offset="0" stop-color="#819aa7"/><stop offset="0.55" stop-color="#859fad"/><stop offset="1" stop-color="#87a2b0"/></radialGradient>
<polygon points="490.3,259.8 489.8,263.9 488.4,267.8 486.3,271.3 483.3,274.2 479.8,276.4 476.0,277.8 471.9,278.2 467.8,277.8 463.9,276.4 460.4,274.2 457.5,271.3 455.3,267.8 454.2,264.8 454.2,254.8 455.3,251.8 457.5,248.3 460.4,245.4 463.9,243.2 467.8,241.9 471.9,241.4 475.3,241.8 483.7,245.8 486.3,248.3 488.4,251.8 489.8,255.7" fill="url(#pg117)"/>
<radialGradient id="pg118"><stop offset="0" stop-color="#7b93a0"/><stop offset="0.55" stop-color="#7f98a5"/><stop offset="1" stop-color="#819ba8"/></radialGradient>
<polygon points="529.2,259.8 528.8,263.9 527.4,267.8 525.2,271.3 522.3,274.2 518.8,276.4 514.9,277.8 510.8,278.2 506.7,277.8 502.8,276.4 499.3,274.2 496.4,271.3 494.2,267.8 492.9,263.9 492.4,259.8 492.9,255.7 494.2,251.8 496.4,248.3 499.3,245.4 502.8,243.2 506.7,241.9 510.8,241.4 514.9,241.9 515.3,242.0 522.4,245.6 525.2,248.3 527.4,251.8 528.8,255.7" fill="url(#pg118)"/>
<radialGradient id="pg119"><stop offset="0" stop-color="#3a5460"/><stop offset="0.55" stop-color="#3c5763"/><stop offset="1" stop-color="#587380"/></radialGradient>
<polygon points="568.2,259.8 567.7,263.9 566.3,267.8 564.2,271.3 561.2,274.2 557.7,276.4 553.9,277.8 549.8,278.2 545.7,277.8 541.8,276.4 538.3,274.2 535.4,271.3 533.2,267.8 531.8,263.9 531.4,259.8 531.8,255.7 533.2,251.8 535.4,248.3 538.3,245.4 541.8,243.2 545.7,241.9 549.8,241.4 553.9,241.9 557.7,243.2 561.2,245.4 564.2,248.3 566.3,251.8 567.7,255.7" fill="url(#pg119)"/>
<polygon points="354.4,298.5 354.3,299.5 353.0,303.4 350.8,306.9 347.9,309.8 344.4,312.0 340.5,313.3 336.4,313.8 332.3,313.3 328.4,312.0 324.9,309.8 322.0,306.9 319.8,303.4 318.4,299.5 318.0,295.4 318.4,291.3 319.8,287.4 322.0,283.9 324.9,281.0 328.4,278.8 332.3,277.4 336.4,277.0 340.5,277.4 344.4,278.8 347.9,281.0 350.8,283.9 353.0,287.4 354.3,291.3 354.4,292.3" fill="url(#pg117)"/>
<radialGradient id="pg120"><stop offset="0" stop-color="#3d5864"/><stop offset="0.55" stop-color="#3f5b68"/><stop offset="1" stop-color="#5a7583"/></radialGradient>
<polygon points="392.1,300.4 391.1,303.4 388.9,306.9 386.0,309.8 382.5,312.0 378.6,313.3 374.5,313.8 370.4,313.3 366.5,312.0 363.0,309.8 360.1,306.9 357.9,303.4 356.6,299.5 356.4,298.5 356.4,292.3 356.6,291.3 357.9,287.4 360.1,283.9 363.0,281.0 366.5,278.8 370.4,277.4 374.5,277.0 378.6,277.4 382.5,278.8 386.0,281.0 388.9,283.9 391.1,287.4 392.1,290.4" fill="url(#pg120)"/>
<radialGradient id="pg121"><stop offset="0" stop-color="#2a424d"/><stop offset="0.55" stop-color="#2c4550"/><stop offset="1" stop-color="#546e7a"/></radialGradient>
<polygon points="429.8,298.5 429.7,299.5 428.3,303.4 426.1,306.9 423.2,309.8 419.7,312.0 415.8,313.3 411.7,313.8 407.7,313.3 403.8,312.0 400.3,309.8 397.4,306.9 395.2,303.4 394.1,300.4 394.1,290.4 395.2,287.4 397.4,283.9 400.3,281.0 402.9,279.4 407.3,277.6 407.7,277.4 411.7,277.0 415.8,277.4 419.7,278.8 423.2,281.0 426.1,283.9 428.3,287.4 429.7,291.3 429.8,292.3" fill="url(#pg121)"/>
<polygon points="467.9,298.5 467.8,299.5 466.4,303.4 464.2,306.9 461.3,309.8 457.8,312.0 453.9,313.3 449.9,313.8 445.8,313.3 441.9,312.0 438.4,309.8 435.5,306.9 433.3,303.4 431.9,299.5 431.8,298.5 431.8,292.3 431.9,291.3 433.3,287.4 435.5,283.9 438.4,281.0 441.7,278.9 442.4,278.6 445.8,277.4 449.9,277.0 453.9,277.4 457.8,278.8 461.3,281.0 464.2,283.9 466.4,287.4 467.8,291.3 467.9,292.3" fill="url(#pg112)"/>
<radialGradient id="pg122"><stop offset="0" stop-color="#3d5763"/><stop offset="0.55" stop-color="#3f5a67"/><stop offset="1" stop-color="#5a7582"/></radialGradient>
<polygon points="506.4,295.4 505.9,299.5 504.5,303.4 502.3,306.9 499.4,309.8 495.9,312.0 492.0,313.3 488.0,313.8 483.9,313.3 480.0,312.0 476.5,309.8 473.6,306.9 471.4,303.4 470.0,299.5 469.9,298.5 469.9,292.3 470.0,291.3 471.4,287.4 473.6,283.9 476.5,281.0 480.0,278.8 483.9,277.4 488.0,277.0 492.0,277.4 495.9,278.8 499.4,281.0 502.3,283.9 504.5,287.4 505.9,291.3" fill="url(#pg122)"/>
<polygon points="546.2,295.4 545.7,299.5 544.3,303.4 542.1,306.9 539.2,309.8 537.1,311.1 531.1,313.4 527.8,313.8 523.7,313.3 519.8,312.0 516.3,309.8 513.4,306.9 511.2,303.4 509.8,299.5 509.4,295.4 509.8,291.3 511.2,287.4 513.4,283.9 516.3,281.0 519.8,278.8 523.7,277.4 527.8,277.0 531.8,277.4 535.7,278.8 539.2,281.0 542.1,283.9 544.3,287.4 545.7,291.3" fill="url(#pg121)"/>
<radialGradient id="pg123"><stop offset="0" stop-color="#2c4651"/><stop offset="0.55" stop-color="#2e4954"/><stop offset="1" stop-color="#56707c"/></radialGradient>
<polygon points="372.2,334.0 372.1,335.0 370.7,338.9 368.6,342.4 365.6,345.3 362.2,347.5 358.3,348.9 354.2,349.3 350.1,348.9 347.9,348.1 343.3,345.7 342.7,345.3 339.8,342.4 337.6,338.9 336.2,335.0 335.8,330.9 336.2,326.9 337.6,323.0 339.8,319.5 342.7,316.6 346.2,314.4 350.1,313.0 354.2,312.5 358.3,313.0 362.2,314.4 365.6,316.6 368.6,319.5 370.7,323.0 372.1,326.9 372.2,327.9" fill="url(#pg123)"/>
<polygon points="410.3,334.0 410.2,335.0 408.8,338.9 406.7,342.4 403.7,345.3 400.3,347.5 396.4,348.9 392.3,349.3 388.2,348.9 384.6,347.6 383.6,347.1 380.8,345.3 377.9,342.4 375.7,338.9 374.3,335.0 374.2,334.0 374.2,327.9 374.3,326.9 375.7,323.0 377.9,319.5 380.8,316.6 384.3,314.4 388.2,313.0 392.3,312.5 396.4,313.0 400.3,314.4 403.7,316.6 406.7,319.5 408.8,323.0 410.2,326.9 410.3,327.9" fill="url(#pg118)"/>
<radialGradient id="pg124"><stop offset="0" stop-color="#849fac"/><stop offset="0.55" stop-color="#89a4b2"/><stop offset="1" stop-color="#8ba7b5"/></radialGradient>
<polygon points="448.8,330.9 448.3,335.0 447.0,338.9 444.8,342.4 441.8,345.3 438.4,347.5 434.5,348.9 430.4,349.3 426.3,348.9 424.1,348.1 419.5,345.7 418.9,345.3 416.0,342.4 413.8,338.9 412.4,335.0 412.3,334.0 412.3,327.9 412.4,326.9 413.8,323.0 416.0,319.5 418.9,316.6 422.4,314.4 426.3,313.0 430.4,312.5 434.5,313.0 438.4,314.4 441.8,316.6 444.8,319.5 447.0,323.0 448.3,326.9" fill="url(#pg124)"/>
<radialGradient id="pg125"><stop offset="0" stop-color="#5d7986"/><stop offset="0.55" stop-color="#607d8b"/><stop offset="1" stop-color="#6b8896"/></radialGradient>
<polygon points="487.4,334.0 487.3,335.0 485.9,338.9 483.7,342.4 480.8,345.3 477.3,347.5 473.4,348.9 469.3,349.3 465.2,348.9 463.0,348.1 458.5,345.7 457.9,345.3 454.9,342.4 452.7,338.9 451.4,335.0 450.9,330.9 451.4,326.9 452.7,323.0 454.9,319.5 457.9,316.6 461.3,314.4 465.2,313.0 469.3,312.5 473.4,313.0 477.3,314.4 480.8,316.6 483.7,319.5 485.9,323.0 487.3,326.9 487.4,327.9" fill="url(#pg125)"/>
<radialGradient id="pg126"><stop offset="0" stop-color="#7c94a1"/><stop offset="0.55" stop-color="#8099a7"/><stop offset="1" stop-color="#829caa"/></radialGradient>
<polygon points="523.4,340.0 521.8,342.4 518.9,345.3 515.4,347.5 511.5,348.9 507.4,349.3 503.3,348.9 502.9,348.7 495.8,345.2 493.0,342.4 490.9,338.9 489.5,335.0 489.4,334.0 489.4,327.9 489.5,326.9 490.9,323.0 493.0,319.5 496.0,316.6 499.4,314.4 503.3,313.0 507.4,312.5 511.5,313.0 515.4,314.4 518.9,316.6 521.8,319.5 523.4,321.9" fill="url(#pg126)"/>
<radialGradient id="pg127"><stop offset="0" stop-color="#86a1af"/><stop offset="0.55" stop-color="#8ba6b5"/><stop offset="1" stop-color="#8da9b8"/></radialGradient>
<polygon points="559.7,330.9 559.2,335.0 557.9,338.9 555.7,342.4 552.8,345.3 549.3,347.5 545.4,348.9 543.7,349.1 529.2,344.7 526.9,342.4 525.4,340.0 525.4,321.9 526.9,319.5 529.8,316.6 532.0,315.2 538.0,312.9 541.3,312.5 545.4,313.0 549.3,314.4 552.8,316.6 555.7,319.5 557.9,323.0 559.2,326.9" fill="url(#pg127)"/>
<polygon points="354.0,369.8 353.0,372.8 350.8,376.3 349.1,377.9 338.8,382.9 336.4,383.2 332.3,382.8 328.4,381.4 324.9,379.2 322.0,376.3 319.8,372.8 318.4,368.9 318.0,364.8 318.4,360.7 319.8,356.8 322.0,353.3 324.9,350.4 328.4,348.2 332.3,346.9 336.4,346.4 340.5,346.9 342.7,347.6 347.2,350.0 347.9,350.4 350.8,353.3 353.0,356.8 354.0,359.8" fill="url(#pg115)"/>
<polygon points="392.0,364.8 391.6,368.9 390.2,372.8 388.0,376.3 385.7,378.7 379.5,382.2 377.7,382.8 373.6,383.2 369.5,382.8 365.7,381.4 362.2,379.2 359.3,376.3 357.1,372.8 356.0,369.8 356.0,359.8 357.1,356.8 359.3,353.3 362.2,350.4 365.7,348.2 369.5,346.9 373.6,346.4 377.7,346.9 381.4,348.1 382.3,348.7 385.1,350.4 388.0,353.3 390.2,356.8 391.6,360.7" fill="url(#pg114)"/>
<radialGradient id="pg128"><stop offset="0" stop-color="#3c5762"/><stop offset="0.55" stop-color="#3e5a66"/><stop offset="1" stop-color="#597581"/></radialGradient>
<polygon points="431.0,364.8 430.5,368.9 429.2,372.8 427.0,376.3 424.6,378.7 418.4,382.2 416.7,382.8 412.6,383.2 408.5,382.8 404.6,381.4 401.1,379.2 398.2,376.3 396.0,372.8 394.7,368.9 394.2,364.8 394.7,360.7 396.0,356.8 398.2,353.3 401.1,350.4 404.6,348.2 408.5,346.9 412.6,346.4 416.7,346.9 418.9,347.6 423.4,350.0 424.1,350.4 427.0,353.3 429.2,356.8 430.5,360.7" fill="url(#pg128)"/>
<radialGradient id="pg129"><stop offset="0" stop-color="#8098a5"/><stop offset="0.55" stop-color="#849dab"/><stop offset="1" stop-color="#86a0ae"/></radialGradient>
<polygon points="469.9,364.8 469.5,368.9 468.1,372.8 465.9,376.3 464.1,378.1 454.9,382.8 451.5,383.2 447.4,382.8 443.6,381.4 440.1,379.2 437.2,376.3 435.0,372.8 433.6,368.9 433.1,364.8 433.6,360.7 435.0,356.8 437.2,353.3 440.1,350.4 443.6,348.2 447.4,346.9 451.5,346.4 455.6,346.9 457.8,347.6 462.4,350.0 463.0,350.4 465.9,353.3 468.1,356.8 469.5,360.7" fill="url(#pg129)"/>
<radialGradient id="pg130"><stop offset="0" stop-color="#3d5863"/><stop offset="0.55" stop-color="#3f5b67"/><stop offset="1" stop-color="#5a7582"/></radialGradient>
<polygon points="508.9,364.8 508.4,368.9 507.1,372.8 504.9,376.3 503.4,377.7 491.0,383.2 490.5,383.2 486.4,382.8 482.5,381.4 479.0,379.2 476.1,376.3 473.9,372.8 472.6,368.9 472.1,364.8 472.6,360.7 473.9,356.8 476.1,353.3 479.0,350.4 482.5,348.2 486.4,346.9 490.5,346.4 494.6,346.9 495.0,347.0 502.1,350.6 504.9,353.3 507.1,356.8 508.4,360.7" fill="url(#pg130)"/>
<radialGradient id="pg131"><stop offset="0" stop-color="#87a1b0"/><stop offset="0.55" stop-color="#8ca7b6"/><stop offset="1" stop-color="#8eaab9"/></radialGradient>
<polygon points="549.5,364.8 549.1,368.9 547.7,372.8 545.5,376.3 544.1,377.8 529.4,383.0 527.0,382.8 523.2,381.4 519.7,379.2 516.8,376.3 514.6,372.8 513.2,368.9 512.7,364.8 513.2,360.7 514.6,356.8 516.8,353.3 519.7,350.4 523.2,348.2 527.0,346.9 528.8,346.7 543.2,351.0 545.5,353.3 547.7,356.8 549.1,360.7" fill="url(#pg131)"/>
<radialGradient id="pg132"><stop offset="0" stop-color="#5a7683"/><stop offset="0.55" stop-color="#5d7a88"/><stop offset="1" stop-color="#698593"/></radialGradient>
<polygon points="370.9,397.8 370.4,401.9 369.1,405.8 366.9,409.3 363.9,412.2 360.5,414.4 356.6,415.8 352.5,416.2 348.4,415.8 344.5,414.4 341.0,412.2 338.1,409.3 335.9,405.8 334.5,401.9 334.1,397.8 334.5,393.7 335.9,389.9 338.1,386.4 339.7,384.7 350.0,379.7 352.5,379.4 356.6,379.9 360.5,381.3 363.9,383.5 366.9,386.4 369.1,389.9 370.4,393.7" fill="url(#pg132)"/>
<polygon points="410.7,397.8 410.2,401.9 408.8,405.8 406.7,409.3 403.7,412.2 400.3,414.4 396.4,415.8 392.3,416.2 388.2,415.8 384.3,414.4 380.8,412.2 377.9,409.3 375.7,405.8 374.3,401.9 373.9,397.8 374.3,393.7 375.7,389.9 377.9,386.4 380.2,384.0 386.5,380.5 388.2,379.9 392.3,379.4 396.4,379.9 400.3,381.3 403.7,383.5 406.7,386.4 408.8,389.9 410.2,393.7" fill="url(#pg129)"/>
<radialGradient id="pg133"><stop offset="0" stop-color="#597481"/><stop offset="0.55" stop-color="#5c7886"/><stop offset="1" stop-color="#698492"/></radialGradient>
<polygon points="448.9,402.8 447.8,405.8 445.6,409.3 442.7,412.2 439.2,414.4 435.3,415.8 431.2,416.2 427.1,415.8 423.2,414.4 419.7,412.2 416.8,409.3 414.6,405.8 413.3,401.9 412.8,397.8 413.3,393.7 414.6,389.9 416.8,386.4 419.2,384.0 425.4,380.5 427.1,379.9 431.2,379.4 435.3,379.9 439.2,381.3 442.7,383.5 445.6,386.4 447.8,389.9 448.9,392.9" fill="url(#pg133)"/>
<radialGradient id="pg134"><stop offset="0" stop-color="#7e97a4"/><stop offset="0.55" stop-color="#829caa"/><stop offset="1" stop-color="#849fad"/></radialGradient>
<polygon points="485.7,404.0 485.1,405.8 482.9,409.3 480.0,412.2 476.5,414.4 472.6,415.8 468.5,416.2 464.4,415.8 460.5,414.4 457.0,412.2 454.1,409.3 451.9,405.8 450.9,402.8 450.9,392.9 451.9,389.9 454.1,386.4 455.9,384.6 465.2,379.8 468.5,379.4 472.6,379.9 476.5,381.3 480.0,383.5 482.9,386.4 485.1,389.9 485.7,391.6" fill="url(#pg134)"/>
<radialGradient id="pg135"><stop offset="0" stop-color="#7b93a1"/><stop offset="0.55" stop-color="#7f98a6"/><stop offset="1" stop-color="#819ba9"/></radialGradient>
<polygon points="522.9,400.9 522.8,401.9 521.5,405.8 519.3,409.3 516.4,412.2 512.9,414.4 509.0,415.8 504.9,416.2 500.8,415.8 496.9,414.4 493.4,412.2 490.5,409.3 488.3,405.8 487.7,404.0 487.7,391.6 488.3,389.9 490.5,386.4 491.9,384.9 504.4,379.5 504.9,379.4 509.0,379.9 512.9,381.3 516.4,383.5 519.3,386.4 521.5,389.9 522.8,393.7 522.9,394.7" fill="url(#pg135)"/>
<polygon points="561.4,397.8 560.9,401.9 559.6,405.8 557.4,409.3 554.5,412.2 551.0,414.4 547.1,415.8 543.0,416.2 538.9,415.8 535.0,414.4 531.5,412.2 528.6,409.3 526.4,405.8 525.1,401.9 524.9,400.9 524.9,394.7 525.1,393.7 526.4,389.9 528.6,386.4 530.1,384.9 544.7,379.6 547.1,379.9 551.0,381.3 554.5,383.5 557.4,386.4 559.6,389.9 560.9,393.7" fill="url(#pg126)"/>
<polygon points="334.7,452.5 332.3,452.2 328.4,450.8 324.9,448.6 322.0,445.7 319.8,442.2 318.4,438.3 318.0,434.3 318.4,430.2 319.8,426.3 322.0,422.8 324.9,419.9 328.4,417.7 332.3,416.3 336.4,415.9 340.5,416.3 344.4,417.7 347.9,419.9 350.8,422.8 352.3,425.2 352.3,443.1" fill="url(#pg113)"/>
<radialGradient id="pg136"><stop offset="0" stop-color="#7f97a4"/><stop offset="0.55" stop-color="#839caa"/><stop offset="1" stop-color="#859fad"/></radialGradient>
<polygon points="388.7,434.3 388.2,438.3 386.8,442.2 386.1,443.4 373.5,452.3 370.3,452.7 368.7,452.5 354.3,443.2 354.3,425.2 355.9,422.8 358.8,419.9 362.3,417.7 366.2,416.3 370.3,415.9 374.4,416.3 378.2,417.7 381.7,419.9 384.6,422.8 386.8,426.3 388.2,430.2" fill="url(#pg136)"/>
<radialGradient id="pg137"><stop offset="0" stop-color="#405d69"/><stop offset="0.55" stop-color="#42606d"/><stop offset="1" stop-color="#5c7886"/></radialGradient>
<polygon points="428.1,437.3 428.0,438.3 426.6,442.2 426.1,443.0 410.7,452.6 410.1,452.7 407.6,452.4 394.1,443.2 393.5,442.2 392.1,438.3 391.7,434.3 392.1,430.2 393.5,426.3 395.7,422.8 398.6,419.9 402.1,417.7 406.0,416.3 410.1,415.9 414.1,416.3 418.0,417.7 421.5,419.9 424.4,422.8 426.6,426.3 428.0,430.2 428.1,431.2" fill="url(#pg137)"/>
<radialGradient id="pg138"><stop offset="0" stop-color="#7e96a3"/><stop offset="0.55" stop-color="#829ba9"/><stop offset="1" stop-color="#849eac"/></radialGradient>
<polygon points="466.6,434.3 466.1,438.3 464.7,442.2 464.0,443.4 451.4,452.3 448.2,452.7 444.9,452.3 432.3,443.4 431.6,442.2 430.2,438.3 430.1,437.3 430.1,431.2 430.2,430.2 431.6,426.3 433.8,422.8 436.7,419.9 440.2,417.7 444.1,416.3 448.2,415.9 452.3,416.3 456.1,417.7 459.6,419.9 462.5,422.8 464.7,426.3 466.1,430.2" fill="url(#pg138)"/>
<radialGradient id="pg139"><stop offset="0" stop-color="#7e97a3"/><stop offset="0.55" stop-color="#829ca9"/><stop offset="1" stop-color="#849fac"/></radialGradient>
<polygon points="504.7,439.2 503.7,442.2 502.6,444.0 492.4,451.8 491.2,452.2 487.1,452.7 485.6,452.5 471.1,443.1 470.5,442.2 469.2,438.3 468.7,434.3 469.2,430.2 470.5,426.3 472.7,422.8 475.6,419.9 479.1,417.7 483.0,416.3 487.1,415.9 491.2,416.3 495.1,417.7 498.6,419.9 501.5,422.8 503.7,426.3 504.7,429.3" fill="url(#pg139)"/>
<radialGradient id="pg140"><stop offset="0" stop-color="#5a7582"/><stop offset="0.55" stop-color="#5d7987"/><stop offset="1" stop-color="#698593"/></radialGradient>
<polygon points="542.8,434.3 542.3,438.3 540.9,442.2 539.3,444.8 531.7,451.0 528.5,452.2 526.1,452.5 508.3,443.0 507.8,442.2 506.7,439.2 506.7,429.3 507.8,426.3 510.0,422.8 512.9,419.9 516.4,417.7 520.3,416.3 524.4,415.9 528.5,416.3 532.3,417.7 535.8,419.9 538.7,422.8 540.9,426.3 542.3,430.2" fill="url(#pg140)"/>
<radialGradient id="pg141"><stop offset="0" stop-color="#7d96a2"/><stop offset="0.55" stop-color="#819ba8"/><stop offset="1" stop-color="#839eab"/></radialGradient>
<polygon points="370.0,463.0 369.6,467.1 368.2,471.0 366.0,474.5 363.1,477.4 359.6,479.6 355.7,481.0 351.6,481.4 347.5,481.0 343.6,479.6 340.2,477.4 337.2,474.5 335.1,471.0 333.7,467.1 333.2,463.0 333.7,458.9 335.1,455.1 335.6,454.3 353.3,444.9 367.7,454.2 368.2,455.1 369.6,458.9" fill="url(#pg141)"/>
<polygon points="408.2,468.0 407.2,471.0 405.0,474.5 402.1,477.4 398.6,479.6 394.7,481.0 390.6,481.4 386.5,481.0 382.6,479.6 379.1,477.4 376.2,474.5 374.0,471.0 372.6,467.1 372.2,463.0 372.6,458.9 374.0,455.1 374.7,453.9 387.3,445.0 390.6,444.6 393.0,444.9 406.5,454.1 407.2,455.1 408.2,458.1" fill="url(#pg129)"/>
<polygon points="446.2,463.0 445.8,467.1 444.4,471.0 442.2,474.5 439.3,477.4 435.8,479.6 431.9,481.0 427.8,481.4 423.7,481.0 419.9,479.6 416.4,477.4 413.4,474.5 411.3,471.0 410.2,468.0 410.2,458.1 411.3,455.1 411.8,454.3 427.2,444.7 427.8,444.6 431.1,445.0 443.7,453.9 444.4,455.1 445.8,458.9" fill="url(#pg111)"/>
<polygon points="486.9,463.0 486.4,467.1 485.1,471.0 482.9,474.5 480.0,477.4 476.5,479.6 472.6,481.0 468.5,481.4 464.4,481.0 460.5,479.6 457.0,477.4 454.1,474.5 451.9,471.0 450.5,467.1 450.1,463.0 450.5,458.9 451.9,455.1 452.6,453.9 465.2,445.0 468.5,444.6 470.0,444.8 484.5,454.2 485.1,455.1 486.4,458.9" fill="url(#pg114)"/>
<polygon points="527.5,463.0 527.1,467.1 525.7,471.0 523.5,474.5 520.6,477.4 517.1,479.6 513.2,481.0 509.1,481.4 505.0,481.0 501.1,479.6 497.6,477.4 494.7,474.5 492.5,471.0 491.2,467.1 490.7,463.0 491.2,458.9 492.5,455.1 493.6,453.3 503.9,445.5 505.0,445.1 507.4,444.8 525.2,454.3 525.7,455.1 527.1,458.9" fill="url(#pg123)"/>
<radialGradient id="pg142"><stop offset="0" stop-color="#829daa"/><stop offset="0.55" stop-color="#87a2b0"/><stop offset="1" stop-color="#89a5b3"/></radialGradient>
<polygon points="566.5,463.0 566.0,467.1 564.6,471.0 562.5,474.5 559.5,477.4 556.1,479.6 552.2,481.0 548.1,481.4 544.0,481.0 540.1,479.6 536.6,477.4 533.7,474.5 531.5,471.0 530.1,467.1 529.7,463.0 530.1,458.9 531.5,455.1 533.1,452.5 540.7,446.2 544.0,445.1 548.1,444.6 552.2,445.1 556.1,446.5 559.5,448.7 562.5,451.6 564.6,455.1 566.0,458.9" fill="url(#pg142)"/>
</g>
</g>
</g>
<clipPath id="clipt8"><rect x="560.0" y="239.5" width="219.0" height="219.5"/></clipPath>
<g clip-path="url(#clipt8)">
<g filter="url(#grain)">
<rect x="560.0" y="239.5" width="219.0" height="219.5" fill="#cfe6ef"/>
<g filter="url(#soft)">
<polygon points="596.3,234.0 595.1,237.3 592.9,240.7 590.0,243.6 586.6,245.8 582.7,247.2 578.6,247.6 577.7,247.5 566.7,243.1 564.3,240.7 562.1,237.3 560.8,233.4 560.3,229.3 560.8,225.3 562.1,221.4 564.3,217.9 567.2,215.0 570.7,212.9 574.6,211.5 578.6,211.0 582.7,211.5 586.6,212.9 590.0,215.0 592.9,217.9 595.1,221.4 596.3,224.7" fill="url(#pg127)"/>
<radialGradient id="pg143"><stop offset="0" stop-color="#86a1af"/><stop offset="0.55" stop-color="#8ba7b5"/><stop offset="1" stop-color="#8daab8"/></radialGradient>
<polygon points="634.2,229.3 633.7,233.4 632.4,237.3 630.2,240.7 627.3,243.6 623.8,245.8 620.0,247.2 615.9,247.6 611.8,247.2 607.9,245.8 604.5,243.6 601.6,240.7 599.4,237.3 598.3,234.0 598.3,224.7 599.4,221.4 601.6,217.9 604.5,215.0 607.9,212.9 611.8,211.5 615.9,211.0 620.0,211.5 623.8,212.9 627.3,215.0 630.2,217.9 632.4,221.4 633.7,225.3" fill="url(#pg143)"/>
<polygon points="673.1,229.3 672.7,233.4 671.3,237.3 669.1,240.7 666.2,243.6 664.5,244.7 661.7,246.2 658.9,247.2 654.8,247.6 650.8,247.2 647.9,246.2 645.1,244.7 643.4,243.6 640.5,240.7 638.3,237.3 637.0,233.4 636.5,229.3 637.0,225.3 638.3,221.4 640.5,217.9 643.4,215.0 646.9,212.9 650.8,211.5 654.8,211.0 658.9,211.5 662.8,212.9 666.2,215.0 669.1,217.9 671.3,221.4 672.7,225.3" fill="url(#pg110)"/>
<polygon points="711.4,234.0 710.3,237.3 708.1,240.7 705.2,243.6 704.9,243.8 699.0,246.8 697.9,247.2 693.8,247.6 689.7,247.2 685.8,245.8 682.4,243.6 679.5,240.7 677.3,237.3 675.9,233.4 675.5,229.3 675.9,225.3 677.3,221.4 679.5,217.9 682.4,215.0 685.8,212.9 689.7,211.5 693.8,211.0 697.9,211.5 701.7,212.9 705.2,215.0 708.1,217.9 710.3,221.4 711.4,224.7" fill="url(#pg115)"/>
<polygon points="748.7,234.0 747.5,237.3 745.3,240.7 742.5,243.6 739.0,245.8 735.1,247.2 731.0,247.6 727.0,247.2 723.1,245.8 719.6,243.6 716.7,240.7 714.6,237.3 713.4,234.0 713.4,224.7 714.6,221.4 716.7,217.9 719.6,215.0 723.1,212.9 727.0,211.5 731.0,211.0 735.1,211.5 739.0,212.9 742.5,215.0 745.3,217.9 747.5,221.4 748.7,224.7" fill="url(#pg135)"/>
<radialGradient id="pg144"><stop offset="0" stop-color="#849eac"/><stop offset="0.55" stop-color="#89a3b2"/><stop offset="1" stop-color="#8ba6b5"/></radialGradient>
<polygon points="786.6,229.3 786.1,233.4 784.8,237.3 782.6,240.7 780.2,243.1 767.5,247.6 764.2,247.2 760.4,245.8 756.9,243.6 754.0,240.7 751.8,237.3 750.7,234.0 750.7,224.7 751.8,221.4 754.0,217.9 756.9,215.0 760.4,212.9 764.2,211.5 768.3,211.0 772.4,211.5 776.2,212.9 779.7,215.0 782.6,217.9 784.8,221.4 786.1,225.3" fill="url(#pg144)"/>
<radialGradient id="pg145"><stop offset="0" stop-color="#2a434e"/><stop offset="0.55" stop-color="#2c4651"/><stop offset="1" stop-color="#546e7b"/></radialGradient>
<polygon points="580.2,273.4 579.4,274.6 577.0,277.0 566.0,281.4 565.1,281.5 561.0,281.0 557.1,279.7 553.7,277.5 550.8,274.6 548.6,271.1 547.2,267.3 546.8,263.2 547.2,259.1 548.6,255.3 550.8,251.8 553.7,248.9 557.1,246.7 561.0,245.4 565.1,244.9 566.0,245.0 577.0,249.4 579.4,251.8 580.2,253.0" fill="url(#pg145)"/>
<polygon points="615.6,263.2 615.1,267.3 613.7,271.1 611.6,274.6 608.7,277.5 605.2,279.7 601.3,281.0 597.3,281.5 593.2,281.0 589.3,279.7 585.8,277.5 582.9,274.6 582.2,273.4 582.2,253.0 582.9,251.8 585.8,248.9 589.3,246.7 593.2,245.4 597.3,244.9 601.3,245.4 605.2,246.7 608.7,248.9 611.6,251.8 613.7,255.3 615.1,259.1" fill="url(#pg124)"/>
<polygon points="653.8,270.3 653.5,271.1 651.4,274.6 648.6,277.4 640.8,281.1 637.1,281.5 633.0,281.0 629.1,279.7 625.6,277.5 622.7,274.6 620.6,271.1 619.2,267.3 618.8,263.2 619.2,259.1 620.6,255.3 622.7,251.8 625.6,248.9 629.1,246.7 633.0,245.4 637.1,244.9 641.1,245.4 643.9,246.4 646.8,247.8 648.5,248.9 651.4,251.8 653.5,255.3 653.8,256.1" fill="url(#pg142)"/>
<polygon points="690.7,265.4 690.5,267.3 689.1,271.1 686.9,274.6 684.0,277.5 680.6,279.7 676.7,281.0 672.6,281.5 668.5,281.0 664.7,279.7 661.2,277.5 658.3,274.6 656.1,271.1 655.8,270.3 655.8,256.1 656.1,255.3 658.3,251.8 661.2,248.9 662.9,247.8 665.7,246.4 668.5,245.4 672.6,244.9 676.7,245.4 680.6,246.7 684.0,248.9 686.9,251.8 689.1,255.3 690.5,259.1 690.7,261.0" fill="url(#pg136)"/>
<polygon points="729.0,263.2 728.6,267.3 727.2,271.1 725.0,274.6 722.1,277.5 718.7,279.7 714.8,281.0 710.7,281.5 706.6,281.0 705.5,280.6 699.6,277.7 699.3,277.5 696.4,274.6 694.2,271.1 692.9,267.3 692.7,265.4 692.7,261.0 692.9,259.1 694.2,255.3 696.4,251.8 699.3,248.9 699.6,248.7 705.5,245.8 706.6,245.4 710.7,244.9 714.8,245.4 718.7,246.7 722.1,248.9 725.0,251.8 727.2,255.3 728.6,259.1" fill="url(#pg135)"/>
<radialGradient id="pg146"><stop offset="0" stop-color="#405c69"/><stop offset="0.55" stop-color="#425f6d"/><stop offset="1" stop-color="#5c7886"/></radialGradient>
<polygon points="763.9,274.7 761.1,277.5 757.6,279.7 753.7,281.0 749.7,281.5 745.6,281.0 744.4,280.6 738.6,277.7 738.3,277.5 735.4,274.6 733.2,271.1 731.8,267.3 731.4,263.2 731.8,259.1 733.2,255.3 735.4,251.8 738.3,248.9 741.7,246.7 745.6,245.4 749.7,244.9 753.7,245.4 757.6,246.7 761.1,248.9 763.9,251.7" fill="url(#pg146)"/>
<polygon points="798.5,263.2 798.0,267.3 796.6,271.1 794.5,274.6 791.6,277.5 788.1,279.7 784.2,281.0 780.9,281.4 768.2,277.0 765.9,274.7 765.9,251.7 768.2,249.4 780.9,245.0 784.2,245.4 788.1,246.7 791.6,248.9 794.5,251.8 796.6,255.3 798.0,259.1" fill="url(#pg112)"/>
<polygon points="596.9,297.1 596.5,301.2 595.1,305.0 592.9,308.5 590.0,311.4 588.3,312.5 585.5,313.9 582.7,314.9 578.6,315.4 575.8,315.1 566.9,311.1 564.3,308.5 562.1,305.0 560.8,301.2 560.3,297.1 560.8,293.0 562.1,289.1 564.3,285.7 566.7,283.3 577.7,278.9 578.6,278.8 582.7,279.2 586.6,280.6 590.0,282.8 592.9,285.7 595.1,289.1 596.5,293.0" fill="url(#pg117)"/>
<radialGradient id="pg147"><stop offset="0" stop-color="#7f98a5"/><stop offset="0.55" stop-color="#839dab"/><stop offset="1" stop-color="#85a0ae"/></radialGradient>
<polygon points="634.4,304.2 634.1,305.0 631.9,308.5 629.0,311.4 625.5,313.6 621.7,314.9 617.6,315.4 613.5,314.9 609.6,313.6 606.2,311.4 603.3,308.5 601.1,305.0 599.7,301.2 599.3,297.1 599.7,293.0 601.1,289.1 603.3,285.7 606.2,282.8 609.6,280.6 613.5,279.2 617.6,278.8 621.7,279.2 625.5,280.6 629.0,282.8 631.9,285.7 634.1,289.1 634.4,290.0" fill="url(#pg147)"/>
<polygon points="671.4,297.1 671.0,301.2 669.6,305.0 667.4,308.5 664.6,311.4 661.1,313.6 657.2,314.9 653.1,315.4 649.1,314.9 647.9,314.5 642.0,311.6 641.7,311.4 638.8,308.5 636.7,305.0 636.4,304.2 636.4,290.0 636.7,289.1 638.8,285.7 641.6,282.9 649.4,279.2 653.1,278.8 657.2,279.2 661.1,280.6 664.6,282.8 667.4,285.7 669.6,289.1 671.0,293.0" fill="url(#pg128)"/>
<polygon points="712.1,297.1 711.6,301.2 710.3,305.0 708.1,308.5 705.2,311.4 701.7,313.6 697.9,314.9 693.8,315.4 690.1,315.0 682.2,311.2 679.5,308.5 677.3,305.0 675.9,301.2 675.5,297.1 675.9,293.0 677.3,289.1 679.5,285.7 682.4,282.8 685.8,280.6 689.7,279.2 693.8,278.8 697.9,279.2 699.0,279.6 704.9,282.6 705.2,282.8 708.1,285.7 710.3,289.1 711.6,293.0" fill="url(#pg144)"/>
<polygon points="749.5,304.2 749.2,305.0 747.0,308.5 744.1,311.4 740.7,313.6 736.8,314.9 732.7,315.4 729.0,315.0 721.2,311.2 718.4,308.5 716.2,305.0 714.9,301.2 714.4,297.1 714.9,293.0 716.2,289.1 718.4,285.7 721.3,282.8 724.8,280.6 728.7,279.2 732.7,278.8 736.8,279.2 738.0,279.6 743.8,282.6 744.1,282.8 747.0,285.7 749.2,289.1 749.5,290.0" fill="url(#pg131)"/>
<radialGradient id="pg148"><stop offset="0" stop-color="#3c5662"/><stop offset="0.55" stop-color="#3e5966"/><stop offset="1" stop-color="#597481"/></radialGradient>
<polygon points="786.6,297.1 786.1,301.2 784.8,305.0 782.6,308.5 779.7,311.4 776.2,313.6 772.4,314.9 768.3,315.4 767.4,315.3 756.4,310.9 754.0,308.5 751.8,305.0 751.5,304.2 751.5,290.0 751.8,289.1 754.0,285.7 756.9,282.8 760.4,280.6 764.2,279.2 767.5,278.9 780.2,283.3 782.6,285.7 784.8,289.1 786.1,293.0" fill="url(#pg148)"/>
<radialGradient id="pg149"><stop offset="0" stop-color="#5b7684"/><stop offset="0.55" stop-color="#5e7a89"/><stop offset="1" stop-color="#6a8594"/></radialGradient>
<polygon points="578.9,340.4 577.7,342.4 575.1,344.9 566.3,348.9 563.4,349.2 559.3,348.8 555.4,347.4 552.0,345.3 549.1,342.4 546.9,338.9 545.5,335.0 545.1,330.9 545.5,326.9 546.9,323.0 549.1,319.5 552.0,316.6 555.4,314.5 559.3,313.1 563.4,312.6 566.3,313.0 575.1,317.0 577.7,319.5 578.9,321.5" fill="url(#pg149)"/>
<polygon points="614.7,330.9 614.3,335.0 612.9,338.9 610.7,342.4 607.8,345.3 606.1,346.3 603.3,347.8 600.5,348.8 596.4,349.2 592.3,348.8 589.5,347.8 586.7,346.3 585.0,345.3 582.1,342.4 580.9,340.4 580.9,321.5 582.1,319.5 585.0,316.6 586.7,315.6 589.5,314.1 592.3,313.1 596.4,312.6 600.5,313.1 604.3,314.5 607.8,316.6 610.7,319.5 612.9,323.0 614.3,326.9" fill="url(#pg136)"/>
<polygon points="654.5,330.9 654.0,335.0 652.7,338.9 650.5,342.4 647.6,345.3 647.3,345.4 641.4,348.4 640.3,348.8 636.2,349.2 632.1,348.8 628.3,347.4 624.8,345.3 621.9,342.4 619.7,338.9 618.4,335.0 617.9,330.9 618.4,326.9 619.7,323.0 621.9,319.5 624.8,316.6 628.3,314.5 632.1,313.1 636.2,312.6 640.3,313.1 641.4,313.5 647.3,316.5 647.6,316.6 650.5,319.5 652.7,323.0 654.0,326.9" fill="url(#pg110)"/>
<polygon points="696.0,330.9 695.5,335.0 694.2,338.9 692.0,342.4 689.1,345.3 688.8,345.4 682.9,348.4 681.8,348.8 677.7,349.2 673.6,348.8 669.8,347.4 666.3,345.3 663.4,342.4 661.2,338.9 659.9,335.0 659.4,330.9 659.9,326.9 661.2,323.0 663.4,319.5 666.3,316.6 669.8,314.5 673.6,313.1 677.7,312.6 681.4,313.1 689.3,316.8 692.0,319.5 694.2,323.0 695.5,326.9" fill="url(#pg145)"/>
<radialGradient id="pg150"><stop offset="0" stop-color="#7d95a2"/><stop offset="0.55" stop-color="#819aa8"/><stop offset="1" stop-color="#839dab"/></radialGradient>
<polygon points="734.7,333.2 734.5,335.0 733.1,338.9 731.0,342.4 728.2,345.1 720.4,348.8 716.6,349.2 712.6,348.8 708.7,347.4 705.2,345.3 702.3,342.4 700.2,338.9 698.8,335.0 698.3,330.9 698.8,326.9 700.2,323.0 702.3,319.5 705.2,316.6 708.7,314.5 712.6,313.1 716.6,312.6 720.4,313.1 728.2,316.8 731.0,319.5 733.1,323.0 734.5,326.9 734.7,328.7" fill="url(#pg150)"/>
<radialGradient id="pg151"><stop offset="0" stop-color="#29414c"/><stop offset="0.55" stop-color="#2b444f"/><stop offset="1" stop-color="#546d7a"/></radialGradient>
<polygon points="773.1,330.9 772.6,335.0 771.2,338.9 769.1,342.4 766.2,345.3 765.9,345.4 760.0,348.4 758.8,348.8 754.8,349.2 750.7,348.8 746.8,347.4 743.3,345.3 740.4,342.4 738.3,338.9 736.9,335.0 736.7,333.2 736.7,328.7 736.9,326.9 738.3,323.0 740.4,319.5 743.3,316.6 746.8,314.5 750.7,313.1 754.8,312.6 755.7,312.8 766.7,317.1 769.1,319.5 771.2,323.0 772.6,326.9" fill="url(#pg151)"/>
<polygon points="595.4,371.9 595.1,372.8 592.9,376.2 590.3,378.8 584.9,381.9 582.7,382.7 578.6,383.1 576.8,382.9 566.0,377.9 564.3,376.2 562.1,372.8 560.8,368.9 560.3,364.8 560.8,360.7 562.1,356.9 564.3,353.4 566.9,350.8 575.8,346.8 578.6,346.5 582.7,347.0 585.5,348.0 588.3,349.4 590.0,350.5 592.9,353.4 595.1,356.9 595.4,357.7" fill="url(#pg116)"/>
<polygon points="632.5,364.8 632.0,368.9 630.7,372.8 628.5,376.2 625.6,379.1 622.1,381.3 618.3,382.7 614.2,383.1 610.6,382.7 601.9,378.2 599.9,376.2 597.7,372.8 597.4,371.9 597.4,357.7 597.7,356.9 599.9,353.4 602.8,350.5 604.5,349.4 607.3,348.0 610.1,347.0 614.2,346.5 618.3,347.0 622.1,348.3 625.6,350.5 628.5,353.4 630.7,356.9 632.0,360.7" fill="url(#pg127)"/>
<polygon points="671.4,364.8 671.0,368.9 669.6,372.8 667.4,376.2 664.6,379.1 661.1,381.3 657.2,382.7 653.1,383.1 649.6,382.7 640.9,378.2 638.8,376.2 636.7,372.8 635.3,368.9 634.8,364.8 635.3,360.7 636.7,356.9 638.8,353.4 641.7,350.5 642.0,350.3 647.9,347.4 649.1,347.0 653.1,346.5 657.2,347.0 661.1,348.3 664.6,350.5 667.4,353.4 669.6,356.9 671.0,360.7" fill="url(#pg117)"/>
<polygon points="712.7,367.0 712.5,368.9 711.1,372.8 708.9,376.2 706.3,378.8 700.9,381.9 698.7,382.7 694.6,383.1 690.6,382.7 687.0,381.4 684.7,380.0 683.2,379.1 680.3,376.2 678.1,372.8 676.8,368.9 676.3,364.8 676.8,360.7 678.1,356.9 680.3,353.4 683.2,350.5 683.5,350.3 689.4,347.4 690.6,347.0 694.6,346.5 698.7,347.0 702.6,348.3 706.0,350.5 708.9,353.4 711.1,356.9 712.5,360.7 712.7,362.6" fill="url(#pg148)"/>
<polygon points="751.0,364.8 750.6,368.9 749.2,372.8 747.0,376.2 744.1,379.1 742.7,380.0 740.4,381.4 736.8,382.7 732.7,383.1 728.7,382.7 725.1,381.4 722.8,380.0 721.3,379.1 718.4,376.2 716.2,372.8 714.9,368.9 714.7,367.0 714.7,362.6 714.9,360.7 716.2,356.9 718.4,353.4 721.2,350.7 729.0,346.9 732.7,346.5 736.8,347.0 740.7,348.3 744.1,350.5 747.0,353.4 749.2,356.9 750.6,360.7" fill="url(#pg146)"/>
<radialGradient id="pg152"><stop offset="0" stop-color="#2d4753"/><stop offset="0.55" stop-color="#2f4a56"/><stop offset="1" stop-color="#56717e"/></radialGradient>
<polygon points="790.0,364.8 789.5,368.9 788.2,372.8 786.0,376.2 783.1,379.1 779.6,381.3 775.8,382.7 771.7,383.1 767.6,382.7 764.1,381.4 761.7,380.0 760.3,379.1 757.4,376.2 755.2,372.8 753.8,368.9 753.4,364.8 753.8,360.7 755.2,356.9 757.4,353.4 760.3,350.5 760.6,350.3 766.5,347.4 767.6,347.0 771.7,346.5 775.8,347.0 779.6,348.3 783.1,350.5 786.0,353.4 788.2,356.9 789.5,360.7" fill="url(#pg152)"/>
<polygon points="579.3,406.7 577.7,409.3 574.8,412.1 571.3,414.3 570.9,414.5 567.1,415.7 563.4,416.1 559.3,415.7 555.4,414.3 552.0,412.1 549.1,409.3 546.9,405.8 545.5,401.9 545.1,397.8 545.5,393.8 546.9,389.9 549.1,386.4 552.0,383.5 555.4,381.4 559.3,380.0 563.4,379.5 565.2,379.7 576.0,384.7 577.7,386.4 579.3,389.0" fill="url(#pg117)"/>
<polygon points="615.6,397.8 615.1,401.9 613.7,405.8 611.6,409.3 608.7,412.1 605.2,414.3 601.3,415.7 597.3,416.1 593.2,415.7 589.3,414.3 585.8,412.1 582.9,409.3 581.3,406.7 581.3,389.0 582.9,386.4 585.6,383.8 590.9,380.8 593.2,380.0 597.3,379.5 600.8,379.9 609.5,384.4 611.6,386.4 613.7,389.9 615.1,393.8" fill="url(#pg112)"/>
<polygon points="654.5,397.8 654.0,401.9 652.7,405.8 650.5,409.3 647.6,412.1 644.1,414.3 640.3,415.7 636.2,416.1 632.1,415.7 628.3,414.3 624.8,412.1 621.9,409.3 619.7,405.8 618.4,401.9 617.9,397.8 618.4,393.8 619.7,389.9 621.9,386.4 624.8,383.5 628.3,381.4 632.1,380.0 636.2,379.5 639.8,379.9 648.5,384.4 650.5,386.4 652.7,389.9 654.0,393.8" fill="url(#pg141)"/>
<radialGradient id="pg153"><stop offset="0" stop-color="#7c94a1"/><stop offset="0.55" stop-color="#8099a6"/><stop offset="1" stop-color="#829ca9"/></radialGradient>
<polygon points="693.2,400.0 693.0,401.9 691.6,405.8 689.5,409.3 686.6,412.1 683.1,414.3 679.2,415.7 675.2,416.1 671.1,415.7 667.2,414.3 663.7,412.1 660.8,409.3 658.7,405.8 657.3,401.9 656.9,397.8 657.3,393.8 658.7,389.9 660.8,386.4 663.7,383.5 667.2,381.4 671.1,380.0 675.2,379.5 679.2,380.0 682.8,381.2 685.1,382.6 686.6,383.5 689.5,386.4 691.6,389.9 693.0,393.8 693.2,395.6" fill="url(#pg153)"/>
<polygon points="731.6,397.8 731.1,401.9 729.7,405.8 727.6,409.3 724.7,412.1 721.2,414.3 717.3,415.7 713.3,416.1 709.2,415.7 705.3,414.3 701.9,412.1 699.0,409.3 696.8,405.8 695.4,401.9 695.2,400.0 695.2,395.6 695.4,393.8 696.8,389.9 699.0,386.4 701.6,383.8 707.0,380.8 709.2,380.0 713.3,379.5 717.3,380.0 720.9,381.2 723.2,382.6 724.7,383.5 727.6,386.4 729.7,389.9 731.1,393.8" fill="url(#pg147)"/>
<polygon points="770.5,397.8 770.1,401.9 768.7,405.8 766.5,409.3 763.6,412.1 760.2,414.3 756.3,415.7 752.2,416.1 748.1,415.7 744.3,414.3 740.8,412.1 737.9,409.3 735.7,405.8 734.4,401.9 733.9,397.8 734.4,393.8 735.7,389.9 737.9,386.4 740.8,383.5 742.3,382.6 744.6,381.2 748.1,380.0 752.2,379.5 756.3,380.0 759.8,381.2 762.2,382.6 763.6,383.5 766.5,386.4 768.7,389.9 770.1,393.8" fill="url(#pg153)"/>
<polygon points="592.9,438.9 591.7,442.2 590.5,444.1 580.8,451.6 579.3,452.1 575.2,452.6 571.2,452.1 567.3,450.7 563.8,448.6 560.9,445.7 558.8,442.2 557.4,438.3 556.9,434.3 557.4,430.2 558.8,426.3 560.9,422.8 563.8,419.9 567.3,417.8 567.7,417.6 571.6,416.4 575.2,416.0 579.3,416.4 583.2,417.8 586.7,419.9 589.5,422.8 591.7,426.3 592.9,429.6" fill="url(#pg138)"/>
<polygon points="630.8,434.3 630.3,438.3 629.0,442.2 627.8,444.1 618.0,451.6 616.6,452.1 614.1,452.4 596.6,443.1 596.0,442.2 594.9,438.9 594.9,429.6 596.0,426.3 598.2,422.8 601.1,419.9 604.6,417.8 608.4,416.4 612.5,416.0 616.6,416.4 620.4,417.8 623.9,419.9 626.8,422.8 629.0,426.3 630.3,430.2" fill="url(#pg139)"/>
<radialGradient id="pg154"><stop offset="0" stop-color="#819ca9"/><stop offset="0.55" stop-color="#86a1af"/><stop offset="1" stop-color="#88a4b2"/></radialGradient>
<polygon points="673.1,434.3 672.7,438.3 671.3,442.2 670.7,443.1 654.7,452.5 651.4,452.2 639.2,443.6 638.3,442.2 637.0,438.3 636.5,434.3 637.0,430.2 638.3,426.3 640.5,422.8 643.4,419.9 646.9,417.8 650.8,416.4 654.8,416.0 658.9,416.4 662.8,417.8 666.2,419.9 669.1,422.8 671.3,426.3 672.7,430.2" fill="url(#pg154)"/>
<polygon points="711.4,438.9 710.3,442.2 709.7,443.1 692.2,452.4 689.7,452.1 688.3,451.6 678.5,444.1 677.3,442.2 675.9,438.3 675.5,434.3 675.9,430.2 677.3,426.3 679.5,422.8 682.4,419.9 685.8,417.8 689.7,416.4 693.8,416.0 697.9,416.4 701.7,417.8 705.2,419.9 708.1,422.8 710.3,426.3 711.4,429.6" fill="url(#pg114)"/>
<polygon points="748.7,438.9 747.5,442.2 746.9,443.1 729.5,452.4 727.0,452.1 725.5,451.6 715.8,444.1 714.6,442.2 713.4,438.9 713.4,429.6 714.6,426.3 716.7,422.8 719.6,419.9 723.1,417.8 727.0,416.4 731.0,416.0 735.1,416.4 739.0,417.8 742.5,419.9 745.3,422.8 747.5,426.3 748.7,429.6" fill="url(#pg144)"/>
<radialGradient id="pg155"><stop offset="0" stop-color="#8099a6"/><stop offset="0.55" stop-color="#849eac"/><stop offset="1" stop-color="#86a1af"/></radialGradient>
<polygon points="786.6,434.3 786.1,438.3 784.8,442.2 782.6,445.7 779.7,448.6 776.2,450.7 772.4,452.1 768.3,452.6 764.2,452.1 762.8,451.6 753.0,444.1 751.8,442.2 750.7,438.9 750.7,429.6 751.8,426.3 754.0,422.8 756.9,419.9 760.4,417.8 764.2,416.4 768.3,416.0 772.4,416.4 776.2,417.8 779.7,419.9 782.6,422.8 784.8,426.3 786.1,430.2" fill="url(#pg155)"/>
<polygon points="614.9,467.7 613.7,471.0 611.6,474.4 608.7,477.3 605.2,479.5 601.3,480.9 597.3,481.3 593.2,480.9 589.3,479.5 585.8,477.3 582.9,474.4 580.8,471.0 579.4,467.1 579.0,463.0 579.4,459.0 580.8,455.1 582.0,453.2 591.7,445.7 593.2,445.2 595.7,444.9 613.2,454.2 613.7,455.1 614.9,458.4" fill="url(#pg155)"/>
<polygon points="652.1,467.7 651.0,471.0 648.8,474.4 645.9,477.3 642.5,479.5 638.6,480.9 634.5,481.3 630.4,480.9 626.6,479.5 623.1,477.3 620.2,474.4 618.0,471.0 616.9,467.7 616.9,458.4 618.0,455.1 619.2,453.2 629.0,445.7 630.4,445.2 634.5,444.7 638.0,445.1 650.1,453.7 651.0,455.1 652.1,458.4" fill="url(#pg110)"/>
<radialGradient id="pg156"><stop offset="0" stop-color="#8099a5"/><stop offset="0.55" stop-color="#849eab"/><stop offset="1" stop-color="#86a1ae"/></radialGradient>
<polygon points="689.4,467.7 688.3,471.0 686.1,474.4 683.2,477.3 679.7,479.5 675.8,480.9 671.8,481.3 667.7,480.9 663.8,479.5 660.4,477.3 657.5,474.4 655.3,471.0 654.1,467.7 654.1,458.4 655.3,455.1 655.9,454.2 671.9,444.8 675.8,445.2 677.3,445.7 687.0,453.2 688.3,455.1 689.4,458.4" fill="url(#pg156)"/>
<polygon points="726.7,467.7 725.5,471.0 723.3,474.4 720.4,477.3 717.0,479.5 713.1,480.9 709.0,481.3 705.0,480.9 701.1,479.5 697.6,477.3 694.7,474.4 692.5,471.0 691.4,467.7 691.4,458.4 692.5,455.1 693.1,454.2 710.6,444.9 713.1,445.2 714.5,445.7 724.3,453.2 725.5,455.1 726.7,458.4" fill="url(#pg121)"/>
<radialGradient id="pg157"><stop offset="0" stop-color="#7c93a1"/><stop offset="0.55" stop-color="#8098a6"/><stop offset="1" stop-color="#829ba9"/></radialGradient>
<polygon points="764.6,463.0 764.1,467.1 762.8,471.0 760.6,474.4 757.7,477.3 754.2,479.5 750.4,480.9 746.3,481.3 742.2,480.9 738.3,479.5 734.9,477.3 732.0,474.4 729.8,471.0 728.7,467.7 728.7,458.4 729.8,455.1 730.4,454.2 747.8,444.9 750.4,445.2 751.8,445.7 761.6,453.2 762.8,455.1 764.1,459.0" fill="url(#pg157)"/>
</g>
</g>
</g>
<clipPath id="clipt9"><rect x="787.0" y="239.5" width="219.0" height="219.5"/></clipPath>
<g clip-path="url(#clipt9)">
<g filter="url(#grain)">
<rect x="787.0" y="239.5" width="219.0" height="219.5" fill="#cfe6ef"/>
<g filter="url(#soft)">
<polygon points="815.3,243.1 794.2,232.5 794.2,211.1 814.1,199.6 832.5,210.2 832.5,233.3" fill="url(#pg83)"/>
<polygon points="852.6,243.6 834.7,233.3 834.7,210.2 853.0,199.6 873.0,211.1 873.0,232.4" fill="url(#pg105)"/>
<polygon points="907.5,238.6 895.4,245.6 888.1,241.4 875.5,232.5 875.5,211.1 895.4,199.6 914.6,210.7 914.6,233.2" fill="url(#pg101)"/>
<polygon points="948.1,238.6 939.8,243.4 916.8,233.1 916.8,210.7 936.0,199.6 955.2,210.7 955.2,233.2" fill="url(#pg77)"/>
<radialGradient id="pg158"><stop offset="0" stop-color="#7891a0"/><stop offset="0.55" stop-color="#7c96a5"/><stop offset="1" stop-color="#7e99a8"/></radialGradient>
<polygon points="980.0,243.2 957.4,233.1 957.4,210.7 976.7,199.6 996.6,211.1 996.6,232.4" fill="url(#pg158)"/>
<radialGradient id="pg159"><stop offset="0" stop-color="#7b95a2"/><stop offset="0.55" stop-color="#7f9aa8"/><stop offset="1" stop-color="#819dab"/></radialGradient>
<polygon points="794.7,277.6 777.2,266.3 777.2,244.9 794.3,235.1 814.3,245.0 814.3,267.8" fill="url(#pg159)"/>
<polygon points="834.0,277.9 816.5,267.9 816.5,245.0 833.6,235.2 851.5,245.5 851.5,267.4" fill="url(#pg109)"/>
<polygon points="883.8,272.5 874.1,278.1 853.7,267.4 853.7,245.5 873.6,234.6 878.9,237.6 891.6,246.5 891.6,266.6" fill="url(#pg94)"/>
<polygon points="918.8,278.3 913.5,275.2 900.9,266.4 900.9,246.3 908.7,240.4 917.0,235.6 940.0,245.9 940.0,266.7" fill="url(#pg81)"/>
<polygon points="959.8,278.1 942.2,266.7 942.2,245.8 949.3,240.4 957.7,235.6 979.0,245.2 979.0,267.6" fill="url(#pg87)"/>
<polygon points="1018.6,267.9 1000.6,278.3 981.2,267.6 981.2,245.1 998.9,233.5 1018.6,244.9" fill="url(#pg86)"/>
<radialGradient id="pg160"><stop offset="0" stop-color="#405d69"/><stop offset="0.55" stop-color="#42606d"/><stop offset="1" stop-color="#587482"/></radialGradient>
<polygon points="782.4,309.1 775.1,313.3 755.2,301.8 755.2,278.8 775.0,267.4 793.5,279.5 793.5,302.2" fill="url(#pg160)"/>
<polygon points="815.7,311.7 795.7,302.1 795.7,279.6 815.3,269.7 832.9,279.8 832.9,301.9" fill="url(#pg159)"/>
<radialGradient id="pg161"><stop offset="0" stop-color="#2b444f"/><stop offset="0.55" stop-color="#2d4752"/><stop offset="1" stop-color="#506a76"/></radialGradient>
<polygon points="854.7,312.6 835.1,301.9 835.1,279.8 852.7,269.3 873.8,280.4 873.8,301.2" fill="url(#pg161)"/>
<polygon points="895.6,312.5 889.8,309.1 877.2,301.3 877.2,280.2 885.0,274.3 897.1,267.3 904.3,271.5 917.0,280.4 917.0,301.3" fill="url(#pg98)"/>
<polygon points="938.8,313.0 924.2,304.5 919.5,301.4 919.5,280.5 941.1,268.6 958.6,280.0 958.6,301.6" fill="url(#pg79)"/>
<polygon points="977.6,311.2 960.8,301.6 960.8,280.1 980.1,269.5 1000.0,280.5 1000.0,301.6" fill="url(#pg99)"/>
<polygon points="794.0,347.1 781.9,340.1 777.2,337.0 777.2,314.9 789.9,307.0 794.9,304.2 814.7,313.6 814.7,338.2" fill="url(#pg102)"/>
<polygon points="833.0,348.0 827.2,344.7 816.9,338.3 816.9,313.6 834.0,303.8 853.6,314.5 853.6,337.2" fill="url(#pg86)"/>
<radialGradient id="pg162"><stop offset="0" stop-color="#2a424d"/><stop offset="0.55" stop-color="#2c4550"/><stop offset="1" stop-color="#506975"/></radialGradient>
<polygon points="874.5,348.5 867.8,344.7 855.8,337.3 855.8,314.5 875.2,303.0 882.3,307.0 894.3,314.5 894.3,337.2" fill="url(#pg162)"/>
<radialGradient id="pg163"><stop offset="0" stop-color="#273f49"/><stop offset="0.55" stop-color="#29414c"/><stop offset="1" stop-color="#4e6773"/></radialGradient>
<polygon points="914.9,347.7 896.5,337.2 896.5,314.5 917.1,303.7 931.0,311.7 935.6,314.8 935.6,336.9" fill="url(#pg163)"/>
<polygon points="956.6,347.1 941.5,338.3 939.8,337.1 939.8,314.9 959.7,303.5 976.4,313.1 976.4,338.6" fill="url(#pg107)"/>
<radialGradient id="pg164"><stop offset="0" stop-color="#7c96a3"/><stop offset="0.55" stop-color="#809ba9"/><stop offset="1" stop-color="#829eac"/></radialGradient>
<polygon points="1015.2,337.4 1014.7,337.7 992.0,346.3 978.6,338.7 978.6,313.2 998.4,304.7 1015.2,314.4" fill="url(#pg164)"/>
<radialGradient id="pg165"><stop offset="0" stop-color="#7b94a2"/><stop offset="0.55" stop-color="#7f99a8"/><stop offset="1" stop-color="#819cab"/></radialGradient>
<polygon points="791.8,373.8 773.5,384.4 753.5,372.9 753.5,349.9 773.5,338.4 788.7,347.2 791.8,349.3" fill="url(#pg165)"/>
<polygon points="831.6,373.3 815.0,382.9 814.9,383.0 797.9,376.0 794.0,373.8 794.0,349.5 815.5,340.2 819.6,342.6 831.6,350.0" fill="url(#pg161)"/>
<polygon points="873.0,372.9 855.6,382.9 853.0,384.3 850.5,382.9 833.8,373.3 833.8,350.1 854.5,339.3 860.3,342.6 873.0,350.5" fill="url(#pg104)"/>
<polygon points="913.8,373.8 907.6,377.4 894.5,383.9 875.5,372.9 875.5,350.5 895.4,339.1 913.8,349.6" fill="url(#pg81)"/>
<radialGradient id="pg166"><stop offset="0" stop-color="#284049"/><stop offset="0.55" stop-color="#2a424c"/><stop offset="1" stop-color="#4e6773"/></radialGradient>
<polygon points="953.6,373.3 936.9,382.9 934.3,384.3 931.7,382.9 916.0,373.8 916.0,349.6 935.8,339.3 952.6,349.0 953.6,349.7" fill="url(#pg166)"/>
<polygon points="990.8,375.3 989.1,376.3 973.3,383.4 972.4,382.9 955.8,373.3 955.8,349.8 977.4,340.5 990.8,348.2" fill="url(#pg93)"/>
<polygon points="1028.8,372.9 1010.5,383.5 994.7,376.3 993.0,375.3 993.0,348.3 1012.8,340.7 1028.8,349.9" fill="url(#pg77)"/>
<polygon points="797.2,420.1 777.2,409.7 777.2,387.2 794.7,377.1 811.7,384.1 813.8,385.3 813.8,411.4" fill="url(#pg89)"/>
<polygon points="834.4,420.1 816.0,411.3 816.0,385.3 830.1,377.2 832.7,375.8 835.3,377.2 851.9,386.8 851.9,410.0" fill="url(#pg105)"/>
<polygon points="872.5,420.5 854.1,410.0 854.1,386.8 870.8,377.2 873.4,375.7 892.6,386.8 892.6,410.0" fill="url(#pg99)"/>
<polygon points="911.7,420.4 906.8,417.5 894.8,410.1 894.8,386.8 901.8,382.7 914.8,376.2 916.6,377.2 933.2,386.8 933.2,410.1" fill="url(#pg92)"/>
<polygon points="951.5,419.9 939.4,412.9 935.4,410.2 935.4,386.8 952.1,377.2 954.7,375.8 957.2,377.2 972.2,385.8 972.2,411.0" fill="url(#pg90)"/>
<polygon points="1011.8,410.2 1010.0,411.3 987.1,418.9 984.7,417.5 974.4,411.1 974.4,385.8 977.8,383.8 991.9,377.4 1006.0,383.8 1011.8,387.2" fill="url(#pg107)"/>
<polygon points="775.7,455.6 758.6,445.8 758.6,422.8 777.1,412.1 796.1,422.0 796.1,443.2" fill="url(#pg77)"/>
<polygon points="815.8,453.9 798.3,443.2 798.3,422.0 815.0,413.3 833.3,422.0 833.3,443.2" fill="url(#pg79)"/>
<radialGradient id="pg167"><stop offset="0" stop-color="#7a94a1"/><stop offset="0.55" stop-color="#7e99a7"/><stop offset="1" stop-color="#809caa"/></radialGradient>
<polygon points="853.9,454.4 835.5,443.2 835.5,421.9 853.0,411.9 871.4,422.4 871.4,442.7" fill="url(#pg167)"/>
<polygon points="892.8,454.4 873.6,442.7 873.6,422.5 893.4,412.1 899.2,415.4 910.4,422.3 910.4,442.7" fill="url(#pg81)"/>
<radialGradient id="pg168"><stop offset="0" stop-color="#2b4450"/><stop offset="0.55" stop-color="#2d4753"/><stop offset="1" stop-color="#506a77"/></radialGradient>
<polygon points="932.6,454.9 912.6,442.7 912.6,422.4 933.2,412.6 946.2,420.1 949.3,422.1 949.3,442.8" fill="url(#pg168)"/>
<polygon points="971.5,453.8 951.5,442.7 951.5,422.3 973.0,413.1 977.1,415.4 985.7,420.8 985.7,444.4" fill="url(#pg92)"/>
<polygon points="1023.7,445.8 1009.6,453.9 987.9,444.3 987.9,420.9 1008.6,414.0 1023.7,422.8" fill="url(#pg96)"/>
<polygon points="814.7,477.6 797.2,487.7 777.2,476.2 777.2,457.3 797.2,445.1 814.7,455.8" fill="url(#pg101)"/>
<polygon points="852.8,477.1 834.4,487.7 816.9,477.6 816.9,455.8 834.4,445.1 852.8,456.3" fill="url(#pg81)"/>
<polygon points="891.7,477.1 873.4,487.7 855.0,477.1 855.0,456.3 872.5,444.6 891.7,456.3" fill="url(#pg92)"/>
<radialGradient id="pg169"><stop offset="0" stop-color="#3f5a67"/><stop offset="0.55" stop-color="#415d6b"/><stop offset="1" stop-color="#577280"/></radialGradient>
<polygon points="931.5,476.6 912.3,487.7 893.9,477.1 893.9,456.3 911.5,444.6 931.5,456.8" fill="url(#pg169)"/>
<polygon points="970.5,477.6 953.0,487.7 933.7,476.6 933.7,456.8 950.5,444.7 970.5,455.8" fill="url(#pg101)"/>
<polygon points="1010.1,476.2 990.2,487.7 972.7,477.6 972.7,455.7 986.9,446.2 1010.1,456.5" fill="url(#pg79)"/>
</g>
</g>
</g>
<clipPath id="clipt10"><rect x="1014.0" y="239.5" width="219.0" height="219.5"/></clipPath>
<g clip-path="url(#clipt10)">
<g filter="url(#grain)">
<rect x="1014.0" y="239.5" width="219.0" height="219.5" fill="#d6ecf4"/>
<g filter="url(#soft)">
<radialGradient id="pg170"><stop offset="0" stop-color="#6d8b9b"/><stop offset="0.55" stop-color="#7190a0"/><stop offset="1" stop-color="#7392a3"/></radialGradient>
<polygon points="1014.6,245.0 996.6,234.6 996.6,210.6 1017.4,198.6 1036.2,209.4 1036.2,233.7" fill="url(#pg170)"/>
<radialGradient id="pg171"><stop offset="0" stop-color="#6d8c9c"/><stop offset="0.55" stop-color="#7191a1"/><stop offset="1" stop-color="#7393a4"/></radialGradient>
<polygon points="1056.4,244.4 1039.2,233.7 1039.2,209.4 1058.0,198.6 1076.0,208.9 1076.0,234.1" fill="url(#pg171)"/>
<radialGradient id="pg172"><stop offset="0" stop-color="#6b8999"/><stop offset="0.55" stop-color="#6f8e9e"/><stop offset="1" stop-color="#7190a1"/></radialGradient>
<polygon points="1097.0,244.4 1079.0,234.2 1079.0,208.9 1097.0,198.6 1115.8,209.4 1115.8,233.7" fill="url(#pg172)"/>
<radialGradient id="pg173"><stop offset="0" stop-color="#698796"/><stop offset="0.55" stop-color="#6d8c9b"/><stop offset="1" stop-color="#6f8e9e"/></radialGradient>
<polygon points="1137.6,244.4 1118.8,233.7 1118.8,209.4 1137.6,198.6 1155.6,208.9 1155.6,234.2" fill="url(#pg173)"/>
<radialGradient id="pg174"><stop offset="0" stop-color="#6e8c9c"/><stop offset="0.55" stop-color="#7291a1"/><stop offset="1" stop-color="#7493a4"/></radialGradient>
<polygon points="1178.2,244.4 1158.6,234.1 1158.6,208.9 1176.6,198.6 1194.5,208.9 1194.5,234.3" fill="url(#pg174)"/>
<radialGradient id="pg175"><stop offset="0" stop-color="#678393"/><stop offset="0.55" stop-color="#6b8898"/><stop offset="1" stop-color="#6d8a9b"/></radialGradient>
<polygon points="1218.0,243.9 1197.5,234.2 1197.5,208.9 1215.5,198.6 1236.3,210.6 1236.3,232.5" fill="url(#pg175)"/>
<radialGradient id="pg176"><stop offset="0" stop-color="#6a8897"/><stop offset="0.55" stop-color="#6e8d9c"/><stop offset="1" stop-color="#708f9f"/></radialGradient>
<polygon points="1037.6,279.9 1015.2,268.2 1015.2,248.0 1037.6,236.3 1054.8,246.9 1054.8,269.3" fill="url(#pg176)"/>
<radialGradient id="pg177"><stop offset="0" stop-color="#6c8a9a"/><stop offset="0.55" stop-color="#708f9f"/><stop offset="1" stop-color="#7291a2"/></radialGradient>
<polygon points="1077.5,279.5 1057.8,269.2 1057.8,247.0 1077.5,236.7 1095.5,247.0 1095.5,269.2" fill="url(#pg177)"/>
<radialGradient id="pg178"><stop offset="0" stop-color="#7291a1"/><stop offset="0.55" stop-color="#7696a7"/><stop offset="1" stop-color="#7899aa"/></radialGradient>
<polygon points="1117.3,280.0 1098.5,269.2 1098.5,247.0 1117.3,236.3 1136.1,247.0 1136.1,269.2" fill="url(#pg178)"/>
<radialGradient id="pg179"><stop offset="0" stop-color="#6e8d9d"/><stop offset="0.55" stop-color="#7292a2"/><stop offset="1" stop-color="#7494a5"/></radialGradient>
<polygon points="1157.1,279.5 1139.1,269.2 1139.1,247.0 1157.1,236.7 1176.8,247.0 1176.8,269.2" fill="url(#pg179)"/>
<radialGradient id="pg180"><stop offset="0" stop-color="#7190a1"/><stop offset="0.55" stop-color="#7595a6"/><stop offset="1" stop-color="#7797a9"/></radialGradient>
<polygon points="1196.1,279.4 1179.8,269.3 1179.8,246.9 1196.1,236.8 1216.6,246.5 1216.6,269.7" fill="url(#pg180)"/>
<polygon points="1258.3,270.1 1238.5,281.6 1219.6,269.8 1219.6,246.4 1238.5,234.7 1258.3,246.1" fill="url(#pg177)"/>
<radialGradient id="pg181"><stop offset="0" stop-color="#6a8796"/><stop offset="0.55" stop-color="#6e8c9b"/><stop offset="1" stop-color="#708e9e"/></radialGradient>
<polygon points="1016.6,315.1 996.6,303.7 996.6,281.7 1014.6,271.3 1036.2,282.6 1036.2,304.8" fill="url(#pg181)"/>
<polygon points="1056.4,315.5 1039.2,304.9 1039.2,282.5 1056.4,271.9 1076.0,282.1 1076.0,305.2" fill="url(#pg181)"/>
<polygon points="1097.0,315.6 1079.0,305.3 1079.0,282.1 1097.0,271.8 1115.8,282.6 1115.8,304.8" fill="url(#pg178)"/>
<radialGradient id="pg182"><stop offset="0" stop-color="#2d4752"/><stop offset="0.55" stop-color="#2f4a55"/><stop offset="1" stop-color="#4d6a77"/></radialGradient>
<polygon points="1137.6,315.6 1118.8,304.8 1118.8,282.6 1137.6,271.8 1155.6,282.1 1155.6,305.3" fill="url(#pg182)"/>
<polygon points="1177.4,315.1 1158.6,305.2 1158.6,282.1 1178.2,271.9 1194.5,282.0 1194.5,305.3" fill="url(#pg176)"/>
<radialGradient id="pg183"><stop offset="0" stop-color="#678493"/><stop offset="0.55" stop-color="#6b8998"/><stop offset="1" stop-color="#6d8b9b"/></radialGradient>
<polygon points="1214.7,314.2 1197.5,305.2 1197.5,282.1 1218.0,272.4 1236.3,283.7 1236.3,303.9" fill="url(#pg183)"/>
<polygon points="995.2,352.2 976.3,341.3 976.3,317.3 995.2,306.3 1015.0,317.7 1015.0,340.8" fill="url(#pg177)"/>
<polygon points="1037.6,351.1 1018.0,340.8 1018.0,317.7 1037.6,307.4 1054.8,318.1 1054.8,340.4" fill="url(#pg179)"/>
<radialGradient id="pg184"><stop offset="0" stop-color="#6c8999"/><stop offset="0.55" stop-color="#708e9e"/><stop offset="1" stop-color="#7290a1"/></radialGradient>
<polygon points="1077.5,350.6 1057.8,340.4 1057.8,318.1 1077.5,307.9 1095.5,318.1 1095.5,340.4" fill="url(#pg184)"/>
<radialGradient id="pg185"><stop offset="0" stop-color="#2b444e"/><stop offset="0.55" stop-color="#2d4751"/><stop offset="1" stop-color="#4c6875"/></radialGradient>
<polygon points="1117.3,351.1 1098.5,340.4 1098.5,318.1 1117.3,307.4 1136.1,318.1 1136.1,340.4" fill="url(#pg185)"/>
<polygon points="1157.1,350.6 1139.1,340.4 1139.1,318.1 1157.1,307.9 1175.9,317.7 1175.9,340.8" fill="url(#pg182)"/>
<radialGradient id="pg186"><stop offset="0" stop-color="#7191a1"/><stop offset="0.55" stop-color="#7596a6"/><stop offset="1" stop-color="#7799a9"/></radialGradient>
<polygon points="1196.1,350.6 1178.9,340.8 1178.9,317.7 1196.1,307.9 1213.2,316.8 1213.2,341.7" fill="url(#pg186)"/>
<polygon points="1253.2,341.3 1236.1,351.1 1216.2,341.7 1216.2,316.9 1236.1,307.4 1253.2,317.3" fill="url(#pg173)"/>
<polygon points="1016.6,386.2 996.6,374.8 996.6,354.8 1016.6,343.4 1036.2,353.7 1036.2,375.9" fill="url(#pg183)"/>
<radialGradient id="pg187"><stop offset="0" stop-color="#6b8898"/><stop offset="0.55" stop-color="#6f8d9d"/><stop offset="1" stop-color="#718fa0"/></radialGradient>
<polygon points="1056.4,386.6 1039.2,376.0 1039.2,353.6 1056.4,343.0 1076.0,353.3 1076.0,376.4" fill="url(#pg187)"/>
<polygon points="1096.2,386.2 1079.0,376.4 1079.0,353.2 1097.0,343.0 1115.8,353.7 1115.8,375.9" fill="url(#pg184)"/>
<radialGradient id="pg188"><stop offset="0" stop-color="#6f8d9d"/><stop offset="0.55" stop-color="#7392a2"/><stop offset="1" stop-color="#7594a5"/></radialGradient>
<polygon points="1136.0,386.6 1118.8,376.0 1118.8,353.7 1137.6,343.0 1155.6,353.2 1155.6,376.4" fill="url(#pg188)"/>
<radialGradient id="pg189"><stop offset="0" stop-color="#698696"/><stop offset="0.55" stop-color="#6d8b9b"/><stop offset="1" stop-color="#6f8d9e"/></radialGradient>
<polygon points="1176.6,386.7 1158.6,376.4 1158.6,353.3 1177.4,343.4 1194.5,353.2 1194.5,376.4" fill="url(#pg189)"/>
<radialGradient id="pg190"><stop offset="0" stop-color="#708f9f"/><stop offset="0.55" stop-color="#7494a4"/><stop offset="1" stop-color="#7696a7"/></radialGradient>
<polygon points="1214.7,385.4 1197.5,376.4 1197.5,353.3 1214.7,344.3 1236.3,354.6 1236.3,375.1" fill="url(#pg190)"/>
<radialGradient id="pg191"><stop offset="0" stop-color="#6f8e9e"/><stop offset="0.55" stop-color="#7393a3"/><stop offset="1" stop-color="#7595a6"/></radialGradient>
<polygon points="995.4,423.4 976.3,412.4 976.3,388.4 995.2,377.5 1015.0,388.8 1015.0,412.5" fill="url(#pg191)"/>
<polygon points="1036.8,422.1 1018.0,412.5 1018.0,388.8 1037.6,378.6 1054.8,389.2 1054.8,412.0" fill="url(#pg170)"/>
<radialGradient id="pg192"><stop offset="0" stop-color="#395460"/><stop offset="0.55" stop-color="#3b5763"/><stop offset="1" stop-color="#506d7a"/></radialGradient>
<polygon points="1076.7,422.5 1057.8,412.0 1057.8,389.3 1077.5,379.0 1094.6,388.8 1094.6,412.5" fill="url(#pg192)"/>
<radialGradient id="pg193"><stop offset="0" stop-color="#2f4954"/><stop offset="0.55" stop-color="#314c57"/><stop offset="1" stop-color="#4e6b78"/></radialGradient>
<polygon points="1116.4,422.1 1097.6,412.5 1097.6,388.8 1117.2,378.6 1134.4,389.2 1134.4,412.0" fill="url(#pg193)"/>
<radialGradient id="pg194"><stop offset="0" stop-color="#2c444f"/><stop offset="0.55" stop-color="#2e4752"/><stop offset="1" stop-color="#4c6875"/></radialGradient>
<polygon points="1156.3,422.5 1137.4,412.0 1137.4,389.3 1157.1,379.0 1175.1,389.3 1175.1,412.0" fill="url(#pg194)"/>
<radialGradient id="pg195"><stop offset="0" stop-color="#708fa0"/><stop offset="0.55" stop-color="#7494a5"/><stop offset="1" stop-color="#7696a8"/></radialGradient>
<polygon points="1196.1,422.1 1178.1,412.0 1178.1,389.3 1196.1,379.0 1213.2,387.9 1213.2,413.3" fill="url(#pg195)"/>
<polygon points="1253.2,412.4 1235.8,422.4 1216.2,413.3 1216.2,388.0 1236.1,378.5 1253.2,388.4" fill="url(#pg185)"/>
<radialGradient id="pg196"><stop offset="0" stop-color="#2b434e"/><stop offset="0.55" stop-color="#2d4651"/><stop offset="1" stop-color="#4c6775"/></radialGradient>
<polygon points="1014.4,459.1 996.6,448.8 996.6,426.2 1016.6,415.1 1035.4,424.7 1035.4,447.8" fill="url(#pg196)"/>
<radialGradient id="pg197"><stop offset="0" stop-color="#6f8e9f"/><stop offset="0.55" stop-color="#7393a4"/><stop offset="1" stop-color="#7595a7"/></radialGradient>
<polygon points="1056.3,458.4 1038.4,447.8 1038.4,424.7 1056.3,414.6 1075.2,425.1 1075.2,447.3" fill="url(#pg197)"/>
<polygon points="1096.2,457.9 1078.2,447.3 1078.2,425.1 1096.2,415.1 1115.0,424.7 1115.0,447.8" fill="url(#pg176)"/>
<polygon points="1135.9,458.4 1118.0,447.8 1118.0,424.7 1135.9,414.6 1154.8,425.1 1154.8,447.3" fill="url(#pg178)"/>
<polygon points="1176.6,458.4 1157.8,447.3 1157.8,425.1 1176.6,414.6 1194.5,424.7 1194.5,447.8" fill="url(#pg177)"/>
<radialGradient id="pg198"><stop offset="0" stop-color="#698695"/><stop offset="0.55" stop-color="#6d8b9a"/><stop offset="1" stop-color="#6f8d9d"/></radialGradient>
<polygon points="1236.3,448.8 1218.5,459.1 1197.5,447.8 1197.5,424.7 1214.7,415.9 1236.3,426.0" fill="url(#pg198)"/>
<polygon points="1054.8,484.6 1036.0,495.5 1015.2,483.5 1015.2,462.0 1036.8,450.4 1054.8,461.0" fill="url(#pg173)"/>
<polygon points="1094.6,485.1 1076.7,495.5 1057.8,484.6 1057.8,461.0 1076.7,449.9 1094.6,460.5" fill="url(#pg184)"/>
<polygon points="1134.4,484.6 1115.6,495.5 1097.6,485.1 1097.6,460.5 1116.4,450.4 1134.4,461.0" fill="url(#pg179)"/>
<polygon points="1175.1,484.6 1156.3,495.5 1137.4,484.6 1137.4,461.0 1156.3,449.9 1175.1,461.0" fill="url(#pg178)"/>
<radialGradient id="pg199"><stop offset="0" stop-color="#698595"/><stop offset="0.55" stop-color="#6d8a9a"/><stop offset="1" stop-color="#6f8c9d"/></radialGradient>
<polygon points="1217.7,483.5 1196.9,495.5 1178.1,484.6 1178.1,461.0 1196.1,450.4 1217.7,462.0" fill="url(#pg199)"/>
</g>
</g>
</g>
<rect x="187.0" y="18" width="138.0" height="44.7" fill="#bf939d"/>
<text x="257.0" y="51.8" font-size="30" text-anchor="middle" fill="#000">2% Er</text>
<rect x="414.0" y="18" width="138.0" height="44.7" fill="#bf939d"/>
<text x="484.0" y="51.8" font-size="30" text-anchor="middle" fill="#000">20% Er</text>
<rect x="641.0" y="18" width="138.0" height="44.7" fill="#bf939d"/>
<text x="711.0" y="51.8" font-size="30" text-anchor="middle" fill="#000">40% Er</text>
<rect x="868.0" y="18" width="138.0" height="44.7" fill="#bf939d"/>
<text x="938.0" y="51.8" font-size="30" text-anchor="middle" fill="#000">80% Er</text>
<rect x="1095.0" y="18" width="138.0" height="44.7" fill="#bf939d"/>
<text x="1165.0" y="51.8" font-size="30" text-anchor="middle" fill="#000">100% Er</text>
<rect x="106.0" y="431" width="82" height="28.2" fill="#9eb4c2"/>
<rect x="116.0" y="443" width="62" height="3.8" fill="#2f454e"/>
<rect x="333.0" y="431" width="82" height="28.2" fill="#9eb4c2"/>
<rect x="343.0" y="443" width="62" height="3.8" fill="#2f454e"/>
<rect x="560.0" y="431" width="82" height="28.2" fill="#9eb4c2"/>
<rect x="570.0" y="443" width="62" height="3.8" fill="#2f454e"/>
<rect x="787.0" y="431" width="82" height="28.2" fill="#9eb4c2"/>
<rect x="797.0" y="443" width="62" height="3.8" fill="#2f454e"/>
<rect x="1014.0" y="431" width="82" height="28.2" fill="#9eb4c2"/>
<rect x="1024.0" y="443" width="62" height="3.8" fill="#2f454e"/>
<text transform="translate(82.5,144) rotate(-90)" font-size="29" text-anchor="middle" fill="#4c2446">NaYF<tspan font-size="20.5" dy="7">4</tspan><tspan dy="-7">:Er</tspan></text>
<text transform="translate(46.5,355) rotate(-90)" font-size="29" text-anchor="middle" fill="#35266a">NaYF<tspan font-size="20.5" dy="7">4</tspan><tspan dy="-7">:Er</tspan></text>
<text transform="translate(82,355) rotate(-90)" font-size="29" text-anchor="middle" fill="#35266a">@NaYF<tspan font-size="20.5" dy="7">4</tspan></text>
<text x="-2" y="30.7" font-size="42" font-weight="bold" fill="#000">a</text>
<filter id="grain2" x="0" y="0" width="100%" height="100%" color-interpolation-filters="sRGB"><feTurbulence type="fractalNoise" baseFrequency="0.85" numOctaves="2" seed="9" result="n"/><feColorMatrix in="n" type="matrix" values="1 0 0 0 0  1 0 0 0 0  1 0 0 0 0  0 0 0 0 1" result="g"/><feComposite in="SourceGraphic" in2="g" operator="arithmetic" k1="0" k2="1" k3="0.3" k4="-0.15"/></filter>
<clipPath id="clipb"><rect x="1311" y="18" width="430" height="441"/></clipPath>
<radialGradient id="pg"><stop offset="0" stop-color="#a3c1cb"/><stop offset="0.3" stop-color="#9dbbc6"/><stop offset="0.5" stop-color="#94b4c0"/><stop offset="0.65" stop-color="#84a5b2"/><stop offset="0.78" stop-color="#6a8b98"/><stop offset="0.88" stop-color="#4b6b77"/><stop offset="1" stop-color="#2c4853" stop-opacity="0"/></radialGradient>
<g clip-path="url(#clipb)">
<g filter="url(#grain2)">
<rect x="1311" y="18" width="430" height="441" fill="#2c4853"/>
<circle cx="1293.0" cy="-40.0" r="64" fill="url(#pg)"/>
<circle cx="1418.0" cy="-40.0" r="64" fill="url(#pg)"/>
<circle cx="1544.0" cy="-40.0" r="64" fill="url(#pg)"/>
<circle cx="1668.0" cy="-40.0" r="64" fill="url(#pg)"/>
<circle cx="1361.0" cy="86.0" r="64" fill="url(#pg)"/>
<circle cx="1476.0" cy="81.0" r="64" fill="url(#pg)"/>
<circle cx="1598.5" cy="77.4" r="64" fill="url(#pg)"/>
<circle cx="1717.0" cy="82.5" r="64" fill="url(#pg)"/>
<circle cx="1293.0" cy="188.0" r="64" fill="url(#pg)"/>
<circle cx="1418.6" cy="189.4" r="64" fill="url(#pg)"/>
<circle cx="1544.0" cy="189.4" r="64" fill="url(#pg)"/>
<circle cx="1668.0" cy="189.4" r="64" fill="url(#pg)"/>
<circle cx="1357.5" cy="294.6" r="64" fill="url(#pg)"/>
<circle cx="1478.0" cy="296.0" r="64" fill="url(#pg)"/>
<circle cx="1607.0" cy="296.0" r="64" fill="url(#pg)"/>
<circle cx="1727.0" cy="296.0" r="64" fill="url(#pg)"/>
<circle cx="1273.0" cy="404.0" r="64" fill="url(#pg)"/>
<circle cx="1410.0" cy="405.0" r="64" fill="url(#pg)"/>
<circle cx="1541.0" cy="405.0" r="64" fill="url(#pg)"/>
<circle cx="1671.0" cy="405.0" r="64" fill="url(#pg)"/>
<circle cx="1357.0" cy="512.0" r="64" fill="url(#pg)"/>
<circle cx="1478.0" cy="512.0" r="64" fill="url(#pg)"/>
<circle cx="1607.0" cy="512.0" r="64" fill="url(#pg)"/>
<circle cx="1727.0" cy="512.0" r="64" fill="url(#pg)"/>
</g>
</g>
<text x="1484.5" y="62.2" font-size="29" fill="#fff">NaErF</text>
<text x="1569.3" y="70.7" font-size="20" fill="#fff">4</text>
<text x="1582.2" y="58.3" font-size="24.5" fill="#fff">@</text>
<text x="1610.3" y="62.2" font-size="29" fill="#fff">NaYF</text>
<text x="1684.6" y="70.7" font-size="20" fill="#fff">4</text>
<rect x="1311" y="407.6" width="95.7" height="51.4" fill="#a0b8c4"/>
<text x="1317" y="437" font-size="29" fill="#000">20 nm</text>
<rect x="1318.5" y="447" width="80.5" height="4.5" fill="#000"/>
<text x="1266" y="30.8" font-size="42" font-weight="bold" fill="#000">b</text>
<text x="-1" y="537" font-size="42" font-weight="bold" fill="#000">c</text>
<line x1="109" y1="1227.5" x2="109" y2="560" stroke="#000" stroke-width="4"/>
<polygon points="109.1,521.4 97.7,563.4 120.5,563.4" fill="#000"/>
<line x1="97.3" y1="1225.6" x2="109" y2="1225.6" stroke="#000" stroke-width="3.8"/>
<text x="86" y="1235.8" font-size="29" text-anchor="end" fill="#000">0</text>
<line x1="97.3" y1="1063.6" x2="109" y2="1063.6" stroke="#000" stroke-width="3.8"/>
<text x="86" y="1073.8" font-size="29" text-anchor="end" fill="#000">5</text>
<line x1="97.3" y1="901.6" x2="109" y2="901.6" stroke="#000" stroke-width="3.8"/>
<text x="86" y="911.8" font-size="29" text-anchor="end" fill="#000">10</text>
<line x1="97.3" y1="739.6" x2="109" y2="739.6" stroke="#000" stroke-width="3.8"/>
<text x="86" y="749.8" font-size="29" text-anchor="end" fill="#000">15</text>
<line x1="97.3" y1="577.6" x2="109" y2="577.6" stroke="#000" stroke-width="3.8"/>
<text x="86" y="587.8" font-size="29" text-anchor="end" fill="#000">20</text>
<line x1="103" y1="1144.6" x2="109" y2="1144.6" stroke="#000" stroke-width="3.8"/>
<line x1="103" y1="982.6" x2="109" y2="982.6" stroke="#000" stroke-width="3.8"/>
<line x1="103" y1="820.6" x2="109" y2="820.6" stroke="#000" stroke-width="3.8"/>
<line x1="103" y1="658.6" x2="109" y2="658.6" stroke="#000" stroke-width="3.8"/>
<text transform="translate(28,902.5) rotate(-90)" font-size="29" text-anchor="middle" fill="#000">Energy (10<tspan font-size="20.5" dy="-11">3</tspan><tspan dy="11"> cm</tspan><tspan font-size="20.5" dy="-11">−1</tspan><tspan dy="11">)</tspan></text>
<line x1="208.5" y1="600.8" x2="452.6" y2="600.8" stroke="#000" stroke-width="3.8"/>
<text x="203.5" y="596.7" font-size="29" text-anchor="end" fill="#000"><tspan font-size="20.5" dy="-12.8">2</tspan><tspan dy="12.8">H</tspan><tspan font-size="20.5" dy="8.2">11/2</tspan></text>
<line x1="208.5" y1="625.7" x2="452.6" y2="625.7" stroke="#000" stroke-width="3.8"/>
<text x="203.5" y="638.8" font-size="29" text-anchor="end" fill="#000"><tspan font-size="20.5" dy="-12.8">4</tspan><tspan dy="12.8">S</tspan><tspan font-size="20.5" dy="8.2">3/2</tspan></text>
<line x1="208.5" y1="726.0" x2="452.6" y2="726.0" stroke="#000" stroke-width="3.8"/>
<text x="203.5" y="732.0" font-size="29" text-anchor="end" fill="#000"><tspan font-size="20.5" dy="-12.8">4</tspan><tspan dy="12.8">F</tspan><tspan font-size="20.5" dy="8.2">9/2</tspan></text>
<line x1="208.5" y1="821.2" x2="452.6" y2="821.2" stroke="#000" stroke-width="3.8"/>
<text x="203.5" y="820.0" font-size="29" text-anchor="end" fill="#000"><tspan font-size="20.5" dy="-12.8">4</tspan><tspan dy="12.8">I</tspan><tspan font-size="20.5" dy="8.2">9/2</tspan></text>
<line x1="208.5" y1="890.3" x2="452.6" y2="890.3" stroke="#000" stroke-width="3.8"/>
<text x="203.5" y="890.3" font-size="29" text-anchor="end" fill="#000"><tspan font-size="20.5" dy="-12.8">4</tspan><tspan dy="12.8">I</tspan><tspan font-size="20.5" dy="8.2">11/2</tspan></text>
<line x1="208.5" y1="1011.3" x2="452.6" y2="1011.3" stroke="#000" stroke-width="3.8"/>
<text x="203.5" y="1010.6" font-size="29" text-anchor="end" fill="#000"><tspan font-size="20.5" dy="-12.8">4</tspan><tspan dy="12.8">I</tspan><tspan font-size="20.5" dy="8.2">13/2</tspan></text>
<line x1="208.5" y1="1227.4" x2="452.6" y2="1227.4" stroke="#000" stroke-width="3.8"/>
<text x="203.5" y="1226.8" font-size="29" text-anchor="end" fill="#000"><tspan font-size="20.5" dy="-12.8">4</tspan><tspan dy="12.8">I</tspan><tspan font-size="20.5" dy="8.2">15/2</tspan></text>
<line x1="233.0" y1="1227.4" x2="233.0" y2="1039.0" stroke="#000" stroke-width="3.7"/>
<polygon points="233.0,1014.0 224.0,1043.0 242.0,1043.0" fill="#000"/>
<line x1="246.8" y1="1011.3" x2="246.8" y2="845" stroke="#000" stroke-width="3.7"/>
<polygon points="246.5,822.7 237.5,849.5 255.5,849.5" fill="#000"/>
<line x1="259.5" y1="821.2" x2="259.5" y2="629.0" stroke="#000" stroke-width="3.7"/>
<polygon points="259.5,603.0 250.5,633.0 268.5,633.0" fill="#000"/>
<line x1="287.0" y1="890.3" x2="287.0" y2="756.0" stroke="#000" stroke-width="3.7"/>
<polygon points="287.0,729.0 278.0,760.0 296.0,760.0" fill="#000"/>
<polyline points="273.55,823.00 273.54,823.28 273.49,823.56 273.43,823.84 273.33,824.12 273.21,824.41 273.07,824.69 272.90,824.97 272.71,825.25 272.51,825.53 272.28,825.81 272.05,826.09 271.80,826.38 271.54,826.66 271.27,826.94 271.00,827.22 270.73,827.50 270.46,827.78 270.20,828.06 269.94,828.34 269.69,828.62 269.46,828.91 269.24,829.19 269.04,829.47 268.86,829.75 268.69,830.03 268.56,830.31 268.44,830.59 268.35,830.88 268.29,831.16 268.26,831.44 268.25,831.72 268.27,832.00 268.32,832.28 268.39,832.56 268.50,832.84 268.62,833.12 268.77,833.41 268.94,833.69 269.14,833.97 269.35,834.25 269.57,834.53 269.81,834.81 270.07,835.09 270.33,835.38 270.59,835.66 270.86,835.94 271.13,836.22 271.40,836.50 271.66,836.78 271.92,837.06 272.16,837.34 272.39,837.62 272.61,837.91 272.81,838.19 272.99,838.47 273.14,838.75 273.27,839.03 273.38,839.31 273.46,839.59 273.52,839.88 273.55,840.16 273.55,840.44 273.52,840.72 273.46,841.00 273.38,841.28 273.28,841.56 273.14,841.84 272.99,842.12 272.81,842.41 272.61,842.69 272.40,842.97 272.17,843.25 271.93,843.53 271.67,843.81 271.41,844.09 271.14,844.38 270.87,844.66 270.60,844.94 270.33,845.22 270.07,845.50 269.82,845.78 269.58,846.06 269.35,846.34 269.14,846.62 268.95,846.91 268.77,847.19 268.62,847.47 268.50,847.75 268.40,848.03 268.32,848.31 268.27,848.59 268.25,848.88 268.26,849.16 268.29,849.44 268.35,849.72 268.44,850.00 268.55,850.28 268.69,850.56 268.85,850.84 269.03,851.12 269.24,851.41 269.46,851.69 269.69,851.97 269.94,852.25 270.19,852.53 270.46,852.81 270.73,853.09 271.00,853.38 271.27,853.66 271.53,853.94 271.79,854.22 272.04,854.50 272.28,854.78 272.50,855.06 272.71,855.34 272.90,855.62 273.06,855.91 273.21,856.19 273.33,856.47 273.42,856.75 273.49,857.03 273.54,857.31 273.55,857.59 273.54,857.88 273.50,858.16 273.43,858.44 273.33,858.72 273.21,859.00 273.07,859.28 272.90,859.56 272.72,859.84 272.51,860.12 272.29,860.41 272.05,860.69 271.80,860.97 271.54,861.25 271.28,861.53 271.01,861.81 270.74,862.09 270.47,862.38 270.20,862.66 269.95,862.94 269.70,863.22 269.47,863.50 269.25,863.78 269.04,864.06 268.86,864.34 268.70,864.62 268.56,864.91 268.44,865.19 268.36,865.47 268.29,865.75 268.26,866.03 268.25,866.31 268.27,866.59 268.32,866.88 268.39,867.16 268.49,867.44 268.62,867.72 268.77,868.00 272.0,876 271.9,884" fill="none" stroke="#000" stroke-width="3.3" stroke-linejoin="round"/>
<polyline points="266.2,875.2 271.9,886.6 277.6,875.2" fill="none" stroke="#000" stroke-width="3.6" stroke-miterlimit="10"/>
<polyline points="273.60,602.50 273.82,602.68 274.04,602.87 274.25,603.05 274.44,603.23 274.60,603.42 274.75,603.60 274.86,603.78 274.94,603.97 274.99,604.15 275.00,604.33 274.98,604.52 274.92,604.70 274.82,604.88 274.70,605.07 274.55,605.25 274.37,605.43 274.17,605.62 273.96,605.80 273.74,605.98 273.52,606.17 273.30,606.35 273.08,606.53 272.88,606.72 272.70,606.90 272.54,607.08 272.41,607.27 272.31,607.45 272.24,607.63 272.20,607.82 272.21,608.00 272.24,608.18 272.31,608.37 272.42,608.55 272.55,608.73 272.72,608.92 272.90,609.10 273.10,609.28 273.32,609.47 273.54,609.65 273.76,609.83 273.98,610.02 274.19,610.20 274.39,610.38 274.56,610.57 274.71,610.75 274.83,610.93 274.92,611.12 274.98,611.30 275.00,611.48 274.99,611.67 274.94,611.85 274.85,612.03 274.74,612.22 274.59,612.40 274.42,612.58 274.23,612.77 274.02,612.95 273.80,613.13 273.58,613.32 273.36,613.50 273.14,613.68 272.94,613.87 272.75,614.05 272.58,614.23 272.44,614.42 272.33,614.60 272.25,614.78 272.21,614.97 272.20,615.15 272.23,615.33 272.29,615.52 272.39,615.70 272.51,615.88 272.67,616.07 272.85,616.25 273.05,616.43 273.26,616.62 273.48,616.80 273.70,616.98 273.92,617.17 274.14,617.35 274.33,617.53 274.52,617.72 274.67,617.90 274.80,618.08 274.90,618.27 274.97,618.45 275.00,618.63 274.99,618.82 274.95,619.00 274.88,619.18 274.77,619.37 274.63,619.55 274.47,619.73 274.28,619.92 274.08,620.10 273.86,620.28 273.64,620.47 273.42,620.65 273.20,620.83 272.99,621.02 272.80,621.20 272.62,621.38 272.48,621.57 272.36,621.75 272.27,621.93 272.22,622.12 272.20,622.30 272.22,622.48 272.27,622.67 272.36,622.85 272.48,623.03 272.62,623.22 272.80,623.40 272.99,623.58 273.20,623.77 273.42,623.95 273.64,624.13 273.86,624.32 274.08,624.50" fill="none" stroke="#000" stroke-width="3" stroke-linejoin="round"/>
<line x1="310.3" y1="821.2" x2="310.3" y2="1044.5" stroke="#8a2222" stroke-width="3.2"/>
<line x1="310.3" y1="1154.5" x2="310.3" y2="1198.5" stroke="#8a2222" stroke-width="3.2"/>
<polygon points="310.3,1225.5 301.4,1194.5 319.2,1194.5" fill="#8a2222"/>
<text transform="translate(300.1,1098.5) rotate(90)" font-size="29" text-anchor="middle" fill="#8a2222">816 nm</text>
<line x1="347.7" y1="726.0" x2="347.7" y2="1044.5" stroke="#d62b1c" stroke-width="3.2"/>
<line x1="347.7" y1="1154.5" x2="347.7" y2="1198.5" stroke="#d62b1c" stroke-width="3.2"/>
<polygon points="347.7,1225.5 338.8,1194.5 356.6,1194.5" fill="#d62b1c"/>
<text transform="translate(337.5,1098.5) rotate(90)" font-size="29" text-anchor="middle" fill="#d62b1c">658 nm</text>
<line x1="385.5" y1="625.7" x2="385.5" y2="1044.5" stroke="#33922f" stroke-width="3.2"/>
<line x1="385.5" y1="1154.5" x2="385.5" y2="1198.5" stroke="#33922f" stroke-width="3.2"/>
<polygon points="385.5,1225.5 376.6,1194.5 394.4,1194.5" fill="#33922f"/>
<text transform="translate(375.3,1098.5) rotate(90)" font-size="29" text-anchor="middle" fill="#33922f">544 nm</text>
<line x1="423.5" y1="600.8" x2="423.5" y2="1044.5" stroke="#33922f" stroke-width="3.2"/>
<line x1="423.5" y1="1154.5" x2="423.5" y2="1198.5" stroke="#33922f" stroke-width="3.2"/>
<polygon points="423.5,1225.5 414.6,1194.5 432.4,1194.5" fill="#33922f"/>
<text transform="translate(413.3,1098.5) rotate(90)" font-size="29" text-anchor="middle" fill="#33922f">530 nm</text>
<text x="287" y="1272" font-size="29" fill="#000">Er<tspan font-size="20.5" dy="-11">3+</tspan></text>
<text x="499" y="537" font-size="42" font-weight="bold" fill="#000">d</text>
<line x1="635.5" y1="556.0" x2="1098.0" y2="556.0" stroke="#a8a8a8" stroke-width="1.9" stroke-dasharray="3.7 5.95"/>
<line x1="635.5" y1="570.3" x2="1098.0" y2="570.3" stroke="#a8a8a8" stroke-width="1.9" stroke-dasharray="3.7 5.95"/>
<line x1="635.5" y1="603.6" x2="1098.0" y2="603.6" stroke="#a8a8a8" stroke-width="1.9" stroke-dasharray="3.7 5.95"/>
<line x1="635.5" y1="617.9" x2="1098.0" y2="617.9" stroke="#a8a8a8" stroke-width="1.9" stroke-dasharray="3.7 5.95"/>
<polyline points="663.3,589.5 736.9,611.0 818.4,628.7" fill="none" stroke="#3453ad" stroke-width="2.6"/>
<polygon points="663.3,577.7 675.1,589.5 663.3,601.3 651.5,589.5" fill="#3453ad" stroke="#fff" stroke-width="1.6" paint-order="stroke"/>
<polygon points="736.9,599.2 748.7,611.0 736.9,622.8 725.1,611.0" fill="#3453ad" stroke="#fff" stroke-width="1.6" paint-order="stroke"/>
<polygon points="818.4,616.9 830.2,628.7 818.4,640.5 806.6,628.7" fill="#3453ad" stroke="#fff" stroke-width="1.6" paint-order="stroke"/>
<rect x="627.5" y="522.8" width="472.5" height="128.9" fill="none" stroke="#000" stroke-width="2.8"/>
<line x1="619.0" y1="556.0" x2="627.5" y2="556.0" stroke="#000" stroke-width="2.8"/>
<line x1="619.0" y1="603.6" x2="627.5" y2="603.6" stroke="#000" stroke-width="2.8"/>
<line x1="619.0" y1="651.2" x2="627.5" y2="651.2" stroke="#000" stroke-width="2.8"/>
<line x1="622.5" y1="570.3" x2="627.5" y2="570.3" stroke="#000" stroke-width="2.8"/>
<line x1="622.5" y1="617.9" x2="627.5" y2="617.9" stroke="#000" stroke-width="2.8"/>
<line x1="622.5" y1="523.3" x2="627.5" y2="523.3" stroke="#000" stroke-width="2.8"/>
<text x="607.5" y="565.0" font-size="29" text-anchor="end" fill="#000">1</text>
<text x="607.5" y="658.2" font-size="29" text-anchor="end" fill="#000">0.01</text>
<text x="1073.5" y="562.3" font-size="29" text-anchor="end" fill="#302a98"><tspan font-size="20.5" dy="-12.5">4</tspan><tspan dy="12.5">S</tspan><tspan font-size="20.5" dy="8.3">3/2</tspan></text>
<line x1="635.5" y1="693.0" x2="1098.0" y2="693.0" stroke="#a8a8a8" stroke-width="1.9" stroke-dasharray="3.7 5.95"/>
<line x1="635.5" y1="707.3" x2="1098.0" y2="707.3" stroke="#a8a8a8" stroke-width="1.9" stroke-dasharray="3.7 5.95"/>
<line x1="635.5" y1="740.6" x2="1098.0" y2="740.6" stroke="#a8a8a8" stroke-width="1.9" stroke-dasharray="3.7 5.95"/>
<line x1="635.5" y1="754.9" x2="1098.0" y2="754.9" stroke="#a8a8a8" stroke-width="1.9" stroke-dasharray="3.7 5.95"/>
<polyline points="663.3,704.8 736.9,728.0 818.4,742.6 981.3,765.4 1062.7,773.9" fill="none" stroke="#3453ad" stroke-width="2.6"/>
<polygon points="663.3,693.0 675.1,704.8 663.3,716.6 651.5,704.8" fill="#3453ad" stroke="#fff" stroke-width="1.6" paint-order="stroke"/>
<polygon points="736.9,716.2 748.7,728.0 736.9,739.8 725.1,728.0" fill="#3453ad" stroke="#fff" stroke-width="1.6" paint-order="stroke"/>
<polygon points="818.4,730.8 830.2,742.6 818.4,754.4 806.6,742.6" fill="#3453ad" stroke="#fff" stroke-width="1.6" paint-order="stroke"/>
<polygon points="981.3,753.6 993.1,765.4 981.3,777.2 969.5,765.4" fill="#3453ad" stroke="#fff" stroke-width="1.6" paint-order="stroke"/>
<polygon points="1062.7,762.1 1074.5,773.9 1062.7,785.7 1050.9,773.9" fill="#3453ad" stroke="#fff" stroke-width="1.6" paint-order="stroke"/>
<rect x="627.5" y="659.8" width="472.5" height="128.9" fill="none" stroke="#000" stroke-width="2.8"/>
<line x1="619.0" y1="693.0" x2="627.5" y2="693.0" stroke="#000" stroke-width="2.8"/>
<line x1="619.0" y1="740.6" x2="627.5" y2="740.6" stroke="#000" stroke-width="2.8"/>
<line x1="619.0" y1="788.2" x2="627.5" y2="788.2" stroke="#000" stroke-width="2.8"/>
<line x1="622.5" y1="707.3" x2="627.5" y2="707.3" stroke="#000" stroke-width="2.8"/>
<line x1="622.5" y1="754.9" x2="627.5" y2="754.9" stroke="#000" stroke-width="2.8"/>
<line x1="622.5" y1="660.3" x2="627.5" y2="660.3" stroke="#000" stroke-width="2.8"/>
<text x="607.5" y="702.0" font-size="29" text-anchor="end" fill="#000">1</text>
<text x="607.5" y="795.2" font-size="29" text-anchor="end" fill="#000">0.01</text>
<text x="1073.5" y="699.3" font-size="29" text-anchor="end" fill="#302a98"><tspan font-size="20.5" dy="-12.5">4</tspan><tspan dy="12.5">F</tspan><tspan font-size="20.5" dy="8.3">9/2</tspan></text>
<line x1="635.5" y1="829.8" x2="1098.0" y2="829.8" stroke="#a8a8a8" stroke-width="1.9" stroke-dasharray="3.7 5.95"/>
<line x1="635.5" y1="844.1" x2="1098.0" y2="844.1" stroke="#a8a8a8" stroke-width="1.9" stroke-dasharray="3.7 5.95"/>
<line x1="635.5" y1="877.4" x2="1098.0" y2="877.4" stroke="#a8a8a8" stroke-width="1.9" stroke-dasharray="3.7 5.95"/>
<line x1="635.5" y1="891.7" x2="1098.0" y2="891.7" stroke="#a8a8a8" stroke-width="1.9" stroke-dasharray="3.7 5.95"/>
<polyline points="663.3,818.4 736.9,862.9 818.4,891.9 981.3,910.0" fill="none" stroke="#3453ad" stroke-width="2.6"/>
<polygon points="663.3,806.6 675.1,818.4 663.3,830.2 651.5,818.4" fill="#3453ad" stroke="#fff" stroke-width="1.6" paint-order="stroke"/>
<polygon points="736.9,851.1 748.7,862.9 736.9,874.7 725.1,862.9" fill="#3453ad" stroke="#fff" stroke-width="1.6" paint-order="stroke"/>
<polygon points="818.4,880.1 830.2,891.9 818.4,903.7 806.6,891.9" fill="#3453ad" stroke="#fff" stroke-width="1.6" paint-order="stroke"/>
<polygon points="981.3,898.2 993.1,910.0 981.3,921.8 969.5,910.0" fill="#3453ad" stroke="#fff" stroke-width="1.6" paint-order="stroke"/>
<rect x="627.5" y="796.6" width="472.5" height="128.9" fill="none" stroke="#000" stroke-width="2.8"/>
<line x1="619.0" y1="829.8" x2="627.5" y2="829.8" stroke="#000" stroke-width="2.8"/>
<line x1="619.0" y1="877.4" x2="627.5" y2="877.4" stroke="#000" stroke-width="2.8"/>
<line x1="619.0" y1="925.0" x2="627.5" y2="925.0" stroke="#000" stroke-width="2.8"/>
<line x1="622.5" y1="844.1" x2="627.5" y2="844.1" stroke="#000" stroke-width="2.8"/>
<line x1="622.5" y1="891.7" x2="627.5" y2="891.7" stroke="#000" stroke-width="2.8"/>
<line x1="622.5" y1="797.1" x2="627.5" y2="797.1" stroke="#000" stroke-width="2.8"/>
<text x="607.5" y="838.8" font-size="29" text-anchor="end" fill="#000">1</text>
<text x="607.5" y="932.0" font-size="29" text-anchor="end" fill="#000">0.01</text>
<text x="1073.5" y="836.1" font-size="29" text-anchor="end" fill="#302a98"><tspan font-size="20.5" dy="-12.5">4</tspan><tspan dy="12.5">I</tspan><tspan font-size="20.5" dy="8.3">9/2</tspan></text>
<line x1="635.5" y1="951.8" x2="1098.0" y2="951.8" stroke="#a8a8a8" stroke-width="1.9" stroke-dasharray="3.7 5.95"/>
<line x1="635.5" y1="966.1" x2="1098.0" y2="966.1" stroke="#a8a8a8" stroke-width="1.9" stroke-dasharray="3.7 5.95"/>
<line x1="635.5" y1="999.4" x2="1098.0" y2="999.4" stroke="#a8a8a8" stroke-width="1.9" stroke-dasharray="3.7 5.95"/>
<line x1="635.5" y1="1013.7" x2="1098.0" y2="1013.7" stroke="#a8a8a8" stroke-width="1.9" stroke-dasharray="3.7 5.95"/>
<line x1="635.5" y1="1047.0" x2="1098.0" y2="1047.0" stroke="#a8a8a8" stroke-width="1.9" stroke-dasharray="3.7 5.95"/>
<polyline points="663.3,981.3 736.9,987.5 818.4,1004.0 981.3,1032.4 1062.7,1047.4" fill="none" stroke="#3453ad" stroke-width="2.6"/>
<polygon points="663.3,969.5 675.1,981.3 663.3,993.1 651.5,981.3" fill="#3453ad" stroke="#fff" stroke-width="1.6" paint-order="stroke"/>
<polygon points="736.9,975.7 748.7,987.5 736.9,999.3 725.1,987.5" fill="#3453ad" stroke="#fff" stroke-width="1.6" paint-order="stroke"/>
<polygon points="818.4,992.2 830.2,1004.0 818.4,1015.8 806.6,1004.0" fill="#3453ad" stroke="#fff" stroke-width="1.6" paint-order="stroke"/>
<polygon points="981.3,1020.6 993.1,1032.4 981.3,1044.2 969.5,1032.4" fill="#3453ad" stroke="#fff" stroke-width="1.6" paint-order="stroke"/>
<polygon points="1062.7,1035.6 1074.5,1047.4 1062.7,1059.2 1050.9,1047.4" fill="#3453ad" stroke="#fff" stroke-width="1.6" paint-order="stroke"/>
<rect x="627.5" y="933.6" width="472.5" height="128.9" fill="none" stroke="#000" stroke-width="2.8"/>
<line x1="619.0" y1="951.8" x2="627.5" y2="951.8" stroke="#000" stroke-width="2.8"/>
<line x1="619.0" y1="999.4" x2="627.5" y2="999.4" stroke="#000" stroke-width="2.8"/>
<line x1="619.0" y1="1047.0" x2="627.5" y2="1047.0" stroke="#000" stroke-width="2.8"/>
<line x1="622.5" y1="966.1" x2="627.5" y2="966.1" stroke="#000" stroke-width="2.8"/>
<line x1="622.5" y1="1013.7" x2="627.5" y2="1013.7" stroke="#000" stroke-width="2.8"/>
<line x1="622.5" y1="934.1" x2="627.5" y2="934.1" stroke="#000" stroke-width="2.8"/>
<text x="607.5" y="961.3" font-size="29" text-anchor="end" fill="#000">1</text>
<text x="607.5" y="1056.5" font-size="29" text-anchor="end" fill="#000">0.01</text>
<text x="1073.5" y="973.1" font-size="29" text-anchor="end" fill="#302a98"><tspan font-size="20.5" dy="-12.5">4</tspan><tspan dy="12.5">I</tspan><tspan font-size="20.5" dy="8.3">11/2</tspan></text>
<line x1="635.5" y1="1103.2" x2="1098.0" y2="1103.2" stroke="#a8a8a8" stroke-width="1.9" stroke-dasharray="3.7 5.95"/>
<line x1="635.5" y1="1117.5" x2="1098.0" y2="1117.5" stroke="#a8a8a8" stroke-width="1.9" stroke-dasharray="3.7 5.95"/>
<line x1="635.5" y1="1150.8" x2="1098.0" y2="1150.8" stroke="#a8a8a8" stroke-width="1.9" stroke-dasharray="3.7 5.95"/>
<line x1="635.5" y1="1165.1" x2="1098.0" y2="1165.1" stroke="#a8a8a8" stroke-width="1.9" stroke-dasharray="3.7 5.95"/>
<polyline points="663.3,1080.0 736.9,1118.0 818.4,1147.0 981.3,1175.0 1062.7,1183.8" fill="none" stroke="#3453ad" stroke-width="2.6"/>
<polygon points="663.3,1068.2 675.1,1080.0 663.3,1091.8 651.5,1080.0" fill="#3453ad" stroke="#fff" stroke-width="1.6" paint-order="stroke"/>
<polygon points="736.9,1106.2 748.7,1118.0 736.9,1129.8 725.1,1118.0" fill="#3453ad" stroke="#fff" stroke-width="1.6" paint-order="stroke"/>
<polygon points="818.4,1135.2 830.2,1147.0 818.4,1158.8 806.6,1147.0" fill="#3453ad" stroke="#fff" stroke-width="1.6" paint-order="stroke"/>
<polygon points="981.3,1163.2 993.1,1175.0 981.3,1186.8 969.5,1175.0" fill="#3453ad" stroke="#fff" stroke-width="1.6" paint-order="stroke"/>
<polygon points="1062.7,1172.0 1074.5,1183.8 1062.7,1195.6 1050.9,1183.8" fill="#3453ad" stroke="#fff" stroke-width="1.6" paint-order="stroke"/>
<rect x="627.5" y="1070.0" width="472.5" height="128.9" fill="none" stroke="#000" stroke-width="2.8"/>
<line x1="619.0" y1="1103.2" x2="627.5" y2="1103.2" stroke="#000" stroke-width="2.8"/>
<line x1="619.0" y1="1150.8" x2="627.5" y2="1150.8" stroke="#000" stroke-width="2.8"/>
<line x1="619.0" y1="1198.4" x2="627.5" y2="1198.4" stroke="#000" stroke-width="2.8"/>
<line x1="622.5" y1="1117.5" x2="627.5" y2="1117.5" stroke="#000" stroke-width="2.8"/>
<line x1="622.5" y1="1165.1" x2="627.5" y2="1165.1" stroke="#000" stroke-width="2.8"/>
<line x1="622.5" y1="1070.5" x2="627.5" y2="1070.5" stroke="#000" stroke-width="2.8"/>
<text x="607.5" y="1112.2" font-size="29" text-anchor="end" fill="#000">1</text>
<text x="607.5" y="1208.8" font-size="29" text-anchor="end" fill="#000">0.01</text>
<text x="1073.5" y="1109.5" font-size="29" text-anchor="end" fill="#302a98"><tspan font-size="20.5" dy="-12.5">4</tspan><tspan dy="12.5">I</tspan><tspan font-size="20.5" dy="8.3">13/2</tspan></text>
<line x1="655.5" y1="1198.9" x2="655.5" y2="1206.9" stroke="#000" stroke-width="2.6"/>
<text x="655.5" y="1240" font-size="29" text-anchor="middle" fill="#000">0</text>
<line x1="696.2" y1="1198.9" x2="696.2" y2="1203.4" stroke="#000" stroke-width="2.6"/>
<line x1="736.9" y1="1198.9" x2="736.9" y2="1206.9" stroke="#000" stroke-width="2.6"/>
<text x="736.9" y="1240" font-size="29" text-anchor="middle" fill="#000">20</text>
<line x1="777.7" y1="1198.9" x2="777.7" y2="1203.4" stroke="#000" stroke-width="2.6"/>
<line x1="818.4" y1="1198.9" x2="818.4" y2="1206.9" stroke="#000" stroke-width="2.6"/>
<text x="818.4" y="1240" font-size="29" text-anchor="middle" fill="#000">40</text>
<line x1="859.1" y1="1198.9" x2="859.1" y2="1203.4" stroke="#000" stroke-width="2.6"/>
<line x1="899.8" y1="1198.9" x2="899.8" y2="1206.9" stroke="#000" stroke-width="2.6"/>
<text x="899.8" y="1240" font-size="29" text-anchor="middle" fill="#000">60</text>
<line x1="940.5" y1="1198.9" x2="940.5" y2="1203.4" stroke="#000" stroke-width="2.6"/>
<line x1="981.3" y1="1198.9" x2="981.3" y2="1206.9" stroke="#000" stroke-width="2.6"/>
<text x="981.3" y="1240" font-size="29" text-anchor="middle" fill="#000">80</text>
<line x1="1022.0" y1="1198.9" x2="1022.0" y2="1203.4" stroke="#000" stroke-width="2.6"/>
<line x1="1062.7" y1="1198.9" x2="1062.7" y2="1206.9" stroke="#000" stroke-width="2.6"/>
<text x="1062.7" y="1240" font-size="29" text-anchor="middle" fill="#000">100</text>
<text x="864" y="1287.5" font-size="29" text-anchor="middle" fill="#000">Er<tspan font-size="20.5" dy="-12">3+</tspan><tspan dy="12"> concentration (%)</tspan></text>
<text transform="translate(522,860.4) rotate(-90)" font-size="35" text-anchor="middle" fill="#000">Lifetime (ms)</text>
<text x="1151" y="536" font-size="42" font-weight="bold" fill="#000">e</text>
<line x1="1274.5" y1="528.9" x2="1736.9" y2="528.9" stroke="#a8a8a8" stroke-width="1.9" stroke-dasharray="3.7 5.95"/>
<line x1="1274.5" y1="570.9" x2="1736.9" y2="570.9" stroke="#a8a8a8" stroke-width="1.9" stroke-dasharray="3.7 5.95"/>
<line x1="1274.5" y1="584.8" x2="1736.9" y2="584.8" stroke="#a8a8a8" stroke-width="1.9" stroke-dasharray="3.7 5.95"/>
<line x1="1274.5" y1="609.2" x2="1736.9" y2="609.2" stroke="#a8a8a8" stroke-width="1.9" stroke-dasharray="3.7 5.95"/>
<polyline points="1302.6,581.3 1375.4,600.6 1457.1,603.1 1620.4,635.2 1702.1,637.0" fill="none" stroke="#e03020" stroke-width="2.8"/>
<polygon points="1302.6,569.1 1314.8,581.3 1302.6,593.5 1290.4,581.3" fill="#fff" stroke="#e03020" stroke-width="3.2"/>
<polygon points="1302.6,577.3 1306.6,581.3 1302.6,585.3 1298.6,581.3" fill="#e03020"/>
<polygon points="1375.4,588.4 1387.6,600.6 1375.4,612.8 1363.2,600.6" fill="#fff" stroke="#e03020" stroke-width="3.2"/>
<polygon points="1375.4,596.6 1379.4,600.6 1375.4,604.6 1371.4,600.6" fill="#e03020"/>
<polygon points="1457.1,590.9 1469.3,603.1 1457.1,615.3 1444.9,603.1" fill="#fff" stroke="#e03020" stroke-width="3.2"/>
<polygon points="1457.1,599.1 1461.1,603.1 1457.1,607.1 1453.1,603.1" fill="#e03020"/>
<polygon points="1620.4,623.0 1632.6,635.2 1620.4,647.4 1608.2,635.2" fill="#fff" stroke="#e03020" stroke-width="3.2"/>
<polygon points="1620.4,631.2 1624.4,635.2 1620.4,639.2 1616.4,635.2" fill="#e03020"/>
<polygon points="1702.1,624.8 1714.3,637.0 1702.1,649.2 1689.9,637.0" fill="#fff" stroke="#e03020" stroke-width="3.2"/>
<polygon points="1702.1,633.0 1706.1,637.0 1702.1,641.0 1698.1,637.0" fill="#e03020"/>
<rect x="1266.5" y="522.9" width="472.4" height="128.7" fill="none" stroke="#000" stroke-width="2.8"/>
<line x1="1258.0" y1="570.9" x2="1266.5" y2="570.9" stroke="#000" stroke-width="2.8"/>
<line x1="1258.0" y1="651.6" x2="1266.5" y2="651.6" stroke="#000" stroke-width="2.8"/>
<line x1="1261.5" y1="528.9" x2="1266.5" y2="528.9" stroke="#000" stroke-width="2.8"/>
<line x1="1261.5" y1="584.8" x2="1266.5" y2="584.8" stroke="#000" stroke-width="2.8"/>
<line x1="1261.5" y1="609.2" x2="1266.5" y2="609.2" stroke="#000" stroke-width="2.8"/>
<text x="1244.0" y="580.6" font-size="29" text-anchor="end" fill="#000">1</text>
<text x="1244.0" y="658.6" font-size="29" text-anchor="end" fill="#000">0.1</text>
<text x="1708.8" y="562.0" font-size="29" text-anchor="end" fill="#a0282a"><tspan font-size="20.5" dy="-12.5">4</tspan><tspan dy="12.5">S</tspan><tspan font-size="20.5" dy="8.3">3/2</tspan></text>
<line x1="1274.5" y1="666.5" x2="1736.9" y2="666.5" stroke="#a8a8a8" stroke-width="1.9" stroke-dasharray="3.7 5.95"/>
<line x1="1274.5" y1="708.5" x2="1736.9" y2="708.5" stroke="#a8a8a8" stroke-width="1.9" stroke-dasharray="3.7 5.95"/>
<line x1="1274.5" y1="722.4" x2="1736.9" y2="722.4" stroke="#a8a8a8" stroke-width="1.9" stroke-dasharray="3.7 5.95"/>
<line x1="1274.5" y1="746.8" x2="1736.9" y2="746.8" stroke="#a8a8a8" stroke-width="1.9" stroke-dasharray="3.7 5.95"/>
<polyline points="1302.6,681.2 1375.4,707.2 1457.1,721.5 1620.4,754.7 1702.1,757.2" fill="none" stroke="#e03020" stroke-width="2.8"/>
<polygon points="1302.6,669.0 1314.8,681.2 1302.6,693.4 1290.4,681.2" fill="#fff" stroke="#e03020" stroke-width="3.2"/>
<polygon points="1302.6,677.2 1306.6,681.2 1302.6,685.2 1298.6,681.2" fill="#e03020"/>
<polygon points="1375.4,695.0 1387.6,707.2 1375.4,719.4 1363.2,707.2" fill="#fff" stroke="#e03020" stroke-width="3.2"/>
<polygon points="1375.4,703.2 1379.4,707.2 1375.4,711.2 1371.4,707.2" fill="#e03020"/>
<polygon points="1457.1,709.3 1469.3,721.5 1457.1,733.7 1444.9,721.5" fill="#fff" stroke="#e03020" stroke-width="3.2"/>
<polygon points="1457.1,717.5 1461.1,721.5 1457.1,725.5 1453.1,721.5" fill="#e03020"/>
<polygon points="1620.4,742.5 1632.6,754.7 1620.4,766.9 1608.2,754.7" fill="#fff" stroke="#e03020" stroke-width="3.2"/>
<polygon points="1620.4,750.7 1624.4,754.7 1620.4,758.7 1616.4,754.7" fill="#e03020"/>
<polygon points="1702.1,745.0 1714.3,757.2 1702.1,769.4 1689.9,757.2" fill="#fff" stroke="#e03020" stroke-width="3.2"/>
<polygon points="1702.1,753.2 1706.1,757.2 1702.1,761.2 1698.1,757.2" fill="#e03020"/>
<rect x="1266.5" y="660.5" width="472.4" height="126.6" fill="none" stroke="#000" stroke-width="2.8"/>
<line x1="1258.0" y1="708.5" x2="1266.5" y2="708.5" stroke="#000" stroke-width="2.8"/>
<line x1="1258.0" y1="787.1" x2="1266.5" y2="787.1" stroke="#000" stroke-width="2.8"/>
<line x1="1261.5" y1="666.5" x2="1266.5" y2="666.5" stroke="#000" stroke-width="2.8"/>
<line x1="1261.5" y1="722.4" x2="1266.5" y2="722.4" stroke="#000" stroke-width="2.8"/>
<line x1="1261.5" y1="746.8" x2="1266.5" y2="746.8" stroke="#000" stroke-width="2.8"/>
<text x="1244.0" y="718.2" font-size="29" text-anchor="end" fill="#000">1</text>
<text x="1244.0" y="794.1" font-size="29" text-anchor="end" fill="#000">0.1</text>
<text x="1708.8" y="698.5" font-size="29" text-anchor="end" fill="#a0282a"><tspan font-size="20.5" dy="-12.5">4</tspan><tspan dy="12.5">F</tspan><tspan font-size="20.5" dy="8.3">9/2</tspan></text>
<line x1="1274.5" y1="802.8" x2="1736.9" y2="802.8" stroke="#a8a8a8" stroke-width="1.9" stroke-dasharray="3.7 5.95"/>
<line x1="1274.5" y1="844.8" x2="1736.9" y2="844.8" stroke="#a8a8a8" stroke-width="1.9" stroke-dasharray="3.7 5.95"/>
<line x1="1274.5" y1="858.7" x2="1736.9" y2="858.7" stroke="#a8a8a8" stroke-width="1.9" stroke-dasharray="3.7 5.95"/>
<line x1="1274.5" y1="883.1" x2="1736.9" y2="883.1" stroke="#a8a8a8" stroke-width="1.9" stroke-dasharray="3.7 5.95"/>
<polyline points="1302.6,808.9 1375.4,844.6 1457.1,858.8 1620.4,872.0 1702.1,875.6" fill="none" stroke="#e03020" stroke-width="2.8"/>
<polygon points="1302.6,796.7 1314.8,808.9 1302.6,821.1 1290.4,808.9" fill="#fff" stroke="#e03020" stroke-width="3.2"/>
<polygon points="1302.6,804.9 1306.6,808.9 1302.6,812.9 1298.6,808.9" fill="#e03020"/>
<polygon points="1375.4,832.4 1387.6,844.6 1375.4,856.8 1363.2,844.6" fill="#fff" stroke="#e03020" stroke-width="3.2"/>
<polygon points="1375.4,840.6 1379.4,844.6 1375.4,848.6 1371.4,844.6" fill="#e03020"/>
<polygon points="1457.1,846.6 1469.3,858.8 1457.1,871.0 1444.9,858.8" fill="#fff" stroke="#e03020" stroke-width="3.2"/>
<polygon points="1457.1,854.8 1461.1,858.8 1457.1,862.8 1453.1,858.8" fill="#e03020"/>
<polygon points="1620.4,859.8 1632.6,872.0 1620.4,884.2 1608.2,872.0" fill="#fff" stroke="#e03020" stroke-width="3.2"/>
<polygon points="1620.4,868.0 1624.4,872.0 1620.4,876.0 1616.4,872.0" fill="#e03020"/>
<polygon points="1702.1,863.4 1714.3,875.6 1702.1,887.8 1689.9,875.6" fill="#fff" stroke="#e03020" stroke-width="3.2"/>
<polygon points="1702.1,871.6 1706.1,875.6 1702.1,879.6 1698.1,875.6" fill="#e03020"/>
<rect x="1266.5" y="796.8" width="472.4" height="128.9" fill="none" stroke="#000" stroke-width="2.8"/>
<line x1="1258.0" y1="844.8" x2="1266.5" y2="844.8" stroke="#000" stroke-width="2.8"/>
<line x1="1258.0" y1="925.7" x2="1266.5" y2="925.7" stroke="#000" stroke-width="2.8"/>
<line x1="1261.5" y1="802.8" x2="1266.5" y2="802.8" stroke="#000" stroke-width="2.8"/>
<line x1="1261.5" y1="858.7" x2="1266.5" y2="858.7" stroke="#000" stroke-width="2.8"/>
<line x1="1261.5" y1="883.1" x2="1266.5" y2="883.1" stroke="#000" stroke-width="2.8"/>
<text x="1244.0" y="854.5" font-size="29" text-anchor="end" fill="#000">1</text>
<text x="1244.0" y="932.7" font-size="29" text-anchor="end" fill="#000">0.1</text>
<text x="1698.6" y="836.0" font-size="29" text-anchor="end" fill="#a0282a"><tspan font-size="20.5" dy="-12.5">4</tspan><tspan dy="12.5">I</tspan><tspan font-size="20.5" dy="8.3">9/2</tspan></text>
<line x1="1274.5" y1="939.9" x2="1736.9" y2="939.9" stroke="#a8a8a8" stroke-width="1.9" stroke-dasharray="3.7 5.95"/>
<line x1="1274.5" y1="981.9" x2="1736.9" y2="981.9" stroke="#a8a8a8" stroke-width="1.9" stroke-dasharray="3.7 5.95"/>
<line x1="1274.5" y1="995.8" x2="1736.9" y2="995.8" stroke="#a8a8a8" stroke-width="1.9" stroke-dasharray="3.7 5.95"/>
<line x1="1274.5" y1="1020.2" x2="1736.9" y2="1020.2" stroke="#a8a8a8" stroke-width="1.9" stroke-dasharray="3.7 5.95"/>
<polyline points="1302.6,972.4 1375.4,976.3 1457.1,979.2 1620.4,984.5 1702.1,984.5" fill="none" stroke="#e03020" stroke-width="2.8"/>
<polygon points="1302.6,960.2 1314.8,972.4 1302.6,984.6 1290.4,972.4" fill="#fff" stroke="#e03020" stroke-width="3.2"/>
<polygon points="1302.6,968.4 1306.6,972.4 1302.6,976.4 1298.6,972.4" fill="#e03020"/>
<polygon points="1375.4,964.1 1387.6,976.3 1375.4,988.5 1363.2,976.3" fill="#fff" stroke="#e03020" stroke-width="3.2"/>
<polygon points="1375.4,972.3 1379.4,976.3 1375.4,980.3 1371.4,976.3" fill="#e03020"/>
<polygon points="1457.1,967.0 1469.3,979.2 1457.1,991.4 1444.9,979.2" fill="#fff" stroke="#e03020" stroke-width="3.2"/>
<polygon points="1457.1,975.2 1461.1,979.2 1457.1,983.2 1453.1,979.2" fill="#e03020"/>
<polygon points="1620.4,972.3 1632.6,984.5 1620.4,996.7 1608.2,984.5" fill="#fff" stroke="#e03020" stroke-width="3.2"/>
<polygon points="1620.4,980.5 1624.4,984.5 1620.4,988.5 1616.4,984.5" fill="#e03020"/>
<polygon points="1702.1,972.3 1714.3,984.5 1702.1,996.7 1689.9,984.5" fill="#fff" stroke="#e03020" stroke-width="3.2"/>
<polygon points="1702.1,980.5 1706.1,984.5 1702.1,988.5 1698.1,984.5" fill="#e03020"/>
<rect x="1266.5" y="933.9" width="472.4" height="127.3" fill="none" stroke="#000" stroke-width="2.8"/>
<line x1="1258.0" y1="981.9" x2="1266.5" y2="981.9" stroke="#000" stroke-width="2.8"/>
<line x1="1258.0" y1="1061.2" x2="1266.5" y2="1061.2" stroke="#000" stroke-width="2.8"/>
<line x1="1261.5" y1="939.9" x2="1266.5" y2="939.9" stroke="#000" stroke-width="2.8"/>
<line x1="1261.5" y1="995.8" x2="1266.5" y2="995.8" stroke="#000" stroke-width="2.8"/>
<line x1="1261.5" y1="1020.2" x2="1266.5" y2="1020.2" stroke="#000" stroke-width="2.8"/>
<text x="1244.0" y="991.6" font-size="29" text-anchor="end" fill="#000">1</text>
<text x="1244.0" y="1068.2" font-size="29" text-anchor="end" fill="#000">0.1</text>
<text x="1712.0" y="1041.7" font-size="29" text-anchor="end" fill="#a0282a"><tspan font-size="20.5" dy="-12.5">4</tspan><tspan dy="12.5">I</tspan><tspan font-size="20.5" dy="8.3">11/2</tspan></text>
<line x1="1274.5" y1="1077.3" x2="1736.9" y2="1077.3" stroke="#a8a8a8" stroke-width="1.9" stroke-dasharray="3.7 5.95"/>
<line x1="1274.5" y1="1122.9" x2="1736.9" y2="1122.9" stroke="#a8a8a8" stroke-width="1.9" stroke-dasharray="3.7 5.95"/>
<line x1="1274.5" y1="1135.1" x2="1736.9" y2="1135.1" stroke="#a8a8a8" stroke-width="1.9" stroke-dasharray="3.7 5.95"/>
<line x1="1274.5" y1="1153.3" x2="1736.9" y2="1153.3" stroke="#a8a8a8" stroke-width="1.9" stroke-dasharray="3.7 5.95"/>
<polyline points="1302.6,1136.5 1375.4,1145.4 1457.1,1145.4 1620.4,1145.4 1702.1,1146.1" fill="none" stroke="#e03020" stroke-width="2.8"/>
<polygon points="1302.6,1124.3 1314.8,1136.5 1302.6,1148.7 1290.4,1136.5" fill="#fff" stroke="#e03020" stroke-width="3.2"/>
<polygon points="1302.6,1132.5 1306.6,1136.5 1302.6,1140.5 1298.6,1136.5" fill="#e03020"/>
<polygon points="1375.4,1133.2 1387.6,1145.4 1375.4,1157.6 1363.2,1145.4" fill="#fff" stroke="#e03020" stroke-width="3.2"/>
<polygon points="1375.4,1141.4 1379.4,1145.4 1375.4,1149.4 1371.4,1145.4" fill="#e03020"/>
<polygon points="1457.1,1133.2 1469.3,1145.4 1457.1,1157.6 1444.9,1145.4" fill="#fff" stroke="#e03020" stroke-width="3.2"/>
<polygon points="1457.1,1141.4 1461.1,1145.4 1457.1,1149.4 1453.1,1145.4" fill="#e03020"/>
<polygon points="1620.4,1133.2 1632.6,1145.4 1620.4,1157.6 1608.2,1145.4" fill="#fff" stroke="#e03020" stroke-width="3.2"/>
<polygon points="1620.4,1141.4 1624.4,1145.4 1620.4,1149.4 1616.4,1145.4" fill="#e03020"/>
<polygon points="1702.1,1133.9 1714.3,1146.1 1702.1,1158.3 1689.9,1146.1" fill="#fff" stroke="#e03020" stroke-width="3.2"/>
<polygon points="1702.1,1142.1 1706.1,1146.1 1702.1,1150.1 1698.1,1146.1" fill="#e03020"/>
<rect x="1266.5" y="1071.2" width="472.4" height="127.7" fill="none" stroke="#000" stroke-width="2.8"/>
<line x1="1258.0" y1="1122.9" x2="1266.5" y2="1122.9" stroke="#000" stroke-width="2.8"/>
<line x1="1258.0" y1="1198.9" x2="1266.5" y2="1198.9" stroke="#000" stroke-width="2.8"/>
<line x1="1261.5" y1="1077.3" x2="1266.5" y2="1077.3" stroke="#000" stroke-width="2.8"/>
<line x1="1261.5" y1="1135.1" x2="1266.5" y2="1135.1" stroke="#000" stroke-width="2.8"/>
<line x1="1261.5" y1="1153.3" x2="1266.5" y2="1153.3" stroke="#000" stroke-width="2.8"/>
<text x="1246.0" y="1133.6" font-size="29" text-anchor="end" fill="#000">10</text>
<text x="1244.0" y="1208.5" font-size="29" text-anchor="end" fill="#000">1</text>
<text x="1717.5" y="1105.1" font-size="29" text-anchor="end" fill="#a0282a"><tspan font-size="20.5" dy="-12.5">4</tspan><tspan dy="12.5">I</tspan><tspan font-size="20.5" dy="8.3">13/2</tspan></text>
<line x1="1294.6" y1="1198.9" x2="1294.6" y2="1206.9" stroke="#000" stroke-width="2.6"/>
<text x="1294.6" y="1240.6" font-size="29" text-anchor="middle" fill="#000">0</text>
<line x1="1335.4" y1="1198.9" x2="1335.4" y2="1203.4" stroke="#000" stroke-width="2.6"/>
<line x1="1376.3" y1="1198.9" x2="1376.3" y2="1206.9" stroke="#000" stroke-width="2.6"/>
<text x="1376.3" y="1240.6" font-size="29" text-anchor="middle" fill="#000">20</text>
<line x1="1417.1" y1="1198.9" x2="1417.1" y2="1203.4" stroke="#000" stroke-width="2.6"/>
<line x1="1458.0" y1="1198.9" x2="1458.0" y2="1206.9" stroke="#000" stroke-width="2.6"/>
<text x="1458.0" y="1240.6" font-size="29" text-anchor="middle" fill="#000">40</text>
<line x1="1498.8" y1="1198.9" x2="1498.8" y2="1203.4" stroke="#000" stroke-width="2.6"/>
<line x1="1539.6" y1="1198.9" x2="1539.6" y2="1206.9" stroke="#000" stroke-width="2.6"/>
<text x="1539.6" y="1240.6" font-size="29" text-anchor="middle" fill="#000">60</text>
<line x1="1580.5" y1="1198.9" x2="1580.5" y2="1203.4" stroke="#000" stroke-width="2.6"/>
<line x1="1621.3" y1="1198.9" x2="1621.3" y2="1206.9" stroke="#000" stroke-width="2.6"/>
<text x="1621.3" y="1240.6" font-size="29" text-anchor="middle" fill="#000">80</text>
<line x1="1662.2" y1="1198.9" x2="1662.2" y2="1203.4" stroke="#000" stroke-width="2.6"/>
<line x1="1703.0" y1="1198.9" x2="1703.0" y2="1206.9" stroke="#000" stroke-width="2.6"/>
<text x="1703.0" y="1240.6" font-size="29" text-anchor="middle" fill="#000">100</text>
<text x="1502.5" y="1292.3" font-size="29" text-anchor="middle" fill="#000">Er<tspan font-size="20.5" dy="-12.6">3+</tspan><tspan dy="12.6"> concentration (%)</tspan></text>
<text transform="translate(1172.3,860.4) rotate(-90)" font-size="35" text-anchor="middle" fill="#000">Lifetime (ms)</text>
</svg>
</body></html>
